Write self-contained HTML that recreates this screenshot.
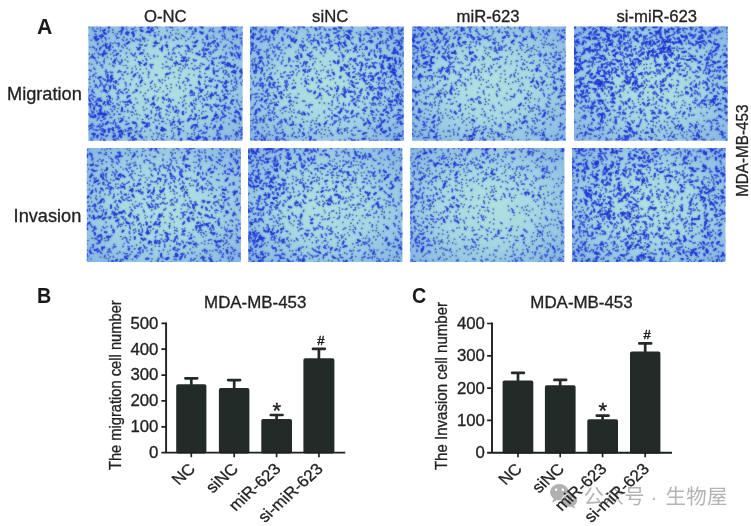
<!DOCTYPE html>
<html lang="en"><head><meta charset="utf-8"><title>Figure</title>
<style>
html,body{margin:0;padding:0;background:#fff;}
body{width:751px;height:526px;overflow:hidden;}
svg{display:block;font-family:"Liberation Sans", "Noto Sans CJK SC", sans-serif;}
</style></head><body>
<svg width="751" height="526" viewBox="0 0 751 526">
<defs>
<radialGradient id="bg" cx="0.5" cy="0.5" r="0.75">
<stop offset="0" stop-color="#b2e1e0"/><stop offset="0.4" stop-color="#a8d9e2"/><stop offset="1" stop-color="#80b0e4"/>
</radialGradient>
<filter id="soft" x="-5%" y="-5%" width="110%" height="110%"><feGaussianBlur stdDeviation="0.8" result="b"/><feComposite in="SourceGraphic" in2="b" operator="arithmetic" k1="0" k2="0.55" k3="0.45" k4="0"/></filter>
</defs>
<rect width="751" height="526" fill="#fff"/>

<clipPath id="cp0"><rect x="88.4" y="26.4" width="154.2" height="114.4"/></clipPath>
<g clip-path="url(#cp0)">
<rect x="86.4" y="24.4" width="158.2" height="118.4" fill="url(#bg)"/>
<g filter="url(#soft)" fill="none" stroke-linecap="round" stroke-linejoin="round">
<path stroke="#1f38d8" stroke-width="1.6" stroke-opacity="0.92" d="M97.9 87.8l-0.5 -0.6 -0.5 -1.1M215.5 45.8l0.3 0.9 0.8 0.4M96.3 31.5l-1.5 -0.1 -0.7 -1.0M212.1 107.2l-0.6 -0.4 -1.0 -0.3M110.4 82.3l-0.3 -0.8 -0.7 -1.5M90.0 79.1l-1.1 0.3 -0.7 -0.3M223.1 57.4l0.8 -0.3 1.5 0.0M128.0 24.9l-0.8 0.8 -1.2 0.9M148.5 71.6l0.2 1.1 0.6 0.5M119.4 43.6l-1.3 -0.4 -0.9 0.4M160.1 81.7l-0.6 -1.1 -0.6 -0.8M102.6 65.0l-1.3 0.5 -0.7 -0.2M168.3 66.5l-0.7 -0.0 -1.2 0.3M189.7 119.1l-0.7 0.6 -1.1 0.4M217.1 49.4l-1.1 0.1 -0.5 0.7M169.2 26.6l1.5 0.8 0.8 -0.2M175.0 53.8l-0.6 -0.6 -0.9 -0.5M206.6 132.4l-0.7 0.1 -1.4 0.6M97.9 52.9l0.8 0.7 0.2 0.9M176.7 107.3l-0.9 -0.6 -0.3 -0.6M96.9 126.6l0.7 0.1 1.2 -1.0M94.4 48.3l-1.1 -1.3 -0.9 -0.1M202.4 89.6l-1.3 0.7 -0.9 0.4M216.0 75.6l1.0 0.1 0.6 0.4M218.4 70.9l-0.9 -0.2 -1.1 0.8M195.2 140.7l-1.4 -0.2 -1.4 0.9M150.4 65.6l0.6 1.3 0.8 1.1M131.0 53.1l0.9 1.3 1.3 1.0M128.2 35.0l-1.6 -0.5 -0.9 -1.0M123.2 93.7l-0.8 -0.9 -1.2 -1.1M194.4 106.5l-0.0 1.7 0.5 0.8M103.0 123.4l0.0 1.5 -1.1 1.2M241.1 135.3l0.6 -1.1 1.0 -0.7M107.4 121.5l0.7 0.3 0.4 0.5M226.7 107.7l1.5 -0.3 0.9 -0.4M228.4 82.0l-1.4 0.3 -1.1 -0.9M87.0 82.6l-1.2 0.0 -1.6 0.3M134.2 41.1l-0.7 -0.3 -1.4 -0.8M136.4 123.9l-0.0 1.4 0.4 1.2M154.1 57.0l-0.1 -1.0 0.0 -0.8M234.4 53.9l0.1 1.3 1.1 1.2M173.3 109.6l0.1 -1.3 -0.7 -1.5M169.3 69.0l0.7 -0.4 0.2 -0.7M106.3 84.0l-0.9 1.0 -0.3 1.2M125.7 71.7l-1.0 0.4 -0.5 0.6M116.0 50.8l-0.8 -0.3 -1.4 0.1M108.9 30.5l-0.4 1.2 -0.3 0.6M113.2 24.7l1.0 -0.8 0.7 -0.2M238.9 49.0l-0.3 -1.4 0.5 -1.0M94.2 80.5l0.1 0.6 -0.2 0.8M231.9 47.3l0.8 0.9 0.2 0.8M214.8 115.2l0.7 -0.4 0.3 -1.1M235.6 27.3l-0.8 -0.4 -0.3 -0.8M208.7 96.3l0.7 0.0 1.3 0.9M198.7 77.3l0.8 -0.5 1.5 0.4M112.3 106.7l1.6 -0.5 1.0 -0.2M88.7 89.7l-0.6 -1.2 -0.8 -1.1M111.8 117.4l-1.0 -0.1 -0.7 0.4M161.3 37.1l-0.1 1.4 0.1 0.8M207.4 76.8l-0.9 0.4 -1.1 0.2M189.7 27.0l-0.3 0.8 -0.2 1.0M118.7 98.3l-0.2 -0.8 -0.4 -0.5M107.7 135.3l-1.1 0.7 -0.6 0.2M224.2 117.0l1.2 -0.6 0.7 -0.5M125.7 131.4l0.1 -1.0 -0.6 -0.7M170.5 72.5l-1.3 0.9 -0.4 0.5M160.0 112.2l-0.3 1.1 -0.6 0.4M196.8 125.9l0.5 0.8 0.6 0.3M230.5 41.5l0.6 0.6 0.9 0.5M118.9 37.7l-1.0 -0.2 -1.2 0.8M220.5 120.5l0.2 -1.5 0.7 -1.3M118.8 62.2l1.0 0.7 1.4 -0.2M155.4 115.9l0.1 -1.3 1.1 -0.8M197.9 88.1l-0.8 -0.4 -1.5 -0.1M99.2 117.7l-0.5 0.4 -1.2 1.0M210.9 98.7l0.1 -1.3 0.2 -0.9M100.0 129.6l1.1 -0.2 1.4 -0.7M141.5 63.1l-1.4 0.3 -0.8 0.8M178.0 39.3l-0.8 -0.6 -0.8 -0.3M226.4 52.6l-0.3 0.7 -0.2 1.1M212.2 111.2l-0.5 -0.6 -0.5 -0.6M203.6 131.9l-0.5 0.9 -0.9 0.7M189.9 116.5l0.6 -0.7 0.8 -0.7M163.9 139.8l-1.7 -0.3 -0.9 -1.3M149.6 26.0l-0.8 0.7 -0.4 0.7M213.2 70.8l0.5 -1.2 -0.4 -1.6M86.8 109.9l-1.6 -0.5 -1.1 -1.1M237.0 102.1l0.2 -0.8 -0.3 -1.4M123.4 40.9l-0.5 -0.8 -0.5 -0.8M166.1 56.6l-0.9 0.0 -0.6 0.1M158.8 114.7l1.0 0.6 0.8 1.2M231.0 102.0l0.7 0.8 0.4 0.5M87.2 105.4l0.8 -0.4 1.0 -1.3M221.7 110.8l0.2 1.5 1.3 1.0M222.6 82.0l-0.7 0.4 -1.4 -0.1M235.9 117.3l-0.4 -0.9 -0.9 -0.8M211.0 42.9l1.3 -0.3 0.7 -0.8M236.2 132.1l0.9 0.9 0.8 0.0M239.2 141.8l0.7 0.9 1.1 0.4M92.5 54.7l-0.3 0.6 -0.6 1.5M93.8 117.5l0.1 -1.3 1.3 -1.0M127.1 39.1l-0.4 0.7 -0.5 0.5M185.8 78.0l1.5 0.6 1.2 1.1M109.0 50.6l1.1 -0.9 0.6 -0.3M199.3 89.9l0.6 -0.8 0.1 -1.1M139.3 44.3l0.6 0.6 1.4 0.4M214.1 64.8l-1.3 -1.0 -1.6 -0.1M86.7 122.9l0.5 -0.7 0.5 -1.1M182.7 83.1l0.7 -1.1 0.5 -0.6M115.8 122.9l-0.1 1.7 0.3 1.3M169.1 107.6l-0.8 -1.0 -1.5 -0.4M224.0 109.3l0.3 0.6 1.2 1.1M220.5 30.7l-0.2 0.6 -1.3 0.7M128.4 104.7l-1.4 0.4 -1.5 -0.7M106.0 40.0l-0.3 -1.5 -0.7 -0.9M135.5 53.1l-0.5 0.4 -0.3 1.3M124.1 90.3l0.9 -1.0 1.4 -0.5M208.6 43.2l0.5 0.7 0.7 0.2M158.8 110.0l1.0 -1.2 -0.0 -0.6M169.5 36.1l-0.1 0.7 0.1 1.5M225.6 138.6l0.5 -1.1 0.2 -1.6M243.1 129.6l-1.6 -0.1 -0.7 0.1M186.1 95.8l-1.1 0.3 -1.1 1.1M128.5 101.0l-0.8 1.0 -0.2 0.7M103.3 36.3l-0.4 -1.2 -0.9 -0.7M214.0 31.8l-1.1 -0.7 -0.7 0.0M102.1 131.4l1.1 -1.2 0.3 -0.8M95.1 129.8l1.5 0.6 1.4 -0.1M113.8 66.8l-0.2 -0.8 -0.9 -0.7M104.6 87.6l-0.9 -1.0 -0.5 -1.0M91.9 103.1l-1.3 0.9 -0.6 1.4M129.1 123.3l-0.7 0.5 -1.3 -0.1M236.8 84.2l-0.4 -1.6 0.3 -1.6M120.0 127.7l-1.4 0.8 -0.4 0.7M125.7 124.7l0.6 -0.4 1.0 -0.0M218.4 116.3l-0.2 0.7 -0.8 1.4M104.3 62.8l-0.4 -1.1 0.1 -1.5M92.9 91.5l0.1 0.6 1.4 0.8M92.7 76.4l0.7 -1.3 0.9 -0.4M221.7 117.6l1.2 -0.5 0.8 0.2M153.0 64.5l-1.1 0.4 -1.5 -0.3M240.5 138.3l0.7 0.0 1.0 -0.7M167.6 94.1l-1.0 0.9 -0.7 0.5M209.2 31.2l1.1 -1.2 0.1 -0.9M93.3 95.9l0.6 0.8 0.9 0.2M232.8 104.3l-0.8 -0.6 -1.4 -0.4M103.9 119.2l1.3 -0.4 0.3 -0.6M87.5 127.5l0.7 -0.9 0.4 -0.9M178.2 141.3l0.7 -0.0 1.4 0.4M150.5 104.8l1.0 0.0 0.9 -0.8M185.5 64.0l0.4 1.3 -0.4 0.6M100.6 120.8l0.6 -0.0 0.8 -0.2M190.4 95.6l1.1 -0.4 1.3 -0.3M213.0 78.9l-1.0 0.4 -0.5 0.7M96.8 100.8l-1.0 0.7 -0.8 0.5M118.5 114.3l1.1 0.1 0.6 0.0M133.6 142.1l-0.9 0.2 -0.5 0.8M163.2 129.9l1.1 0.1 1.5 0.5M194.4 95.2l-0.4 -0.7 0.0 -1.4M123.0 75.4l-0.8 -0.5 -0.1 -0.6M89.6 141.7l1.5 -0.3 1.3 -1.0M225.4 38.7l-0.8 -1.0 0.1 -1.6M202.1 56.7l1.1 0.1 1.4 -0.9M128.3 32.6l-0.7 -0.2 -0.6 -1.1M183.3 104.6l0.2 0.6 -0.9 1.3M233.1 87.0l0.8 1.5 -0.0 1.0M113.7 121.7l0.7 -1.0 0.2 -0.8M223.7 29.5l0.6 -0.4 0.9 -0.7M110.1 104.9l-0.5 -0.5 -1.2 -0.0M168.8 52.5l0.1 1.0 -0.3 1.0M118.2 92.0l0.6 -1.6 1.2 -0.6M192.5 112.1l-0.6 -1.0 0.2 -1.2M222.3 90.2l-0.1 1.5 0.6 0.6M114.9 133.6l-0.8 -0.1 -0.7 -0.1M193.2 59.3l0.7 1.0 1.5 0.5M244.0 135.6l-0.7 -0.8 -0.5 -0.4M139.1 77.6l0.4 -1.6 0.5 -0.9M107.3 92.8l-1.3 -0.9 -1.3 -1.1M117.7 72.2l1.4 -0.6 1.1 -0.2M91.3 71.0l-1.1 -0.6 -0.9 -0.3M210.4 108.6l0.6 -0.6 1.0 -0.6M159.5 133.4l-0.5 0.4 -0.8 0.9M237.9 67.3l-0.6 0.7 -0.2 0.7M222.8 85.2l0.8 1.4 0.5 0.5M98.4 98.3l-1.1 0.9 -0.1 0.7M204.6 100.4l-0.5 -0.7 -1.4 -0.6M213.7 104.5l1.3 0.9 0.3 0.9M112.1 111.8l-0.0 -0.6 0.3 -0.7M115.8 127.6l1.4 -0.4 1.7 -0.3M192.0 92.8l-0.9 -0.3 -1.2 0.4M183.3 57.0l-1.0 0.1 -0.6 0.6M181.9 122.0l1.1 -0.3 0.6 -0.2M120.1 50.9l0.7 -0.0 0.6 0.2M120.9 118.3l0.8 0.6 1.4 -0.0M213.6 138.2l0.6 -0.2 1.2 -0.0M242.4 32.9l0.0 1.5 0.9 1.0M161.7 121.7l0.8 -0.4 1.1 0.5M89.3 114.0l0.9 1.3 0.1 1.5M132.4 71.4l-0.6 1.2 -0.4 0.5M220.8 124.8l0.5 1.4 0.9 1.0M171.4 138.7l1.1 -0.6 0.4 -1.1M243.0 45.3l0.6 -1.2 0.3 -0.7M90.8 106.2l-0.1 0.7 -0.5 1.1M196.3 60.4l-0.8 -0.0 -1.1 0.5M97.0 26.1l-0.0 -1.0 0.5 -1.1M211.1 54.2l-1.3 -0.8 -0.4 -0.6M212.3 58.2l1.6 0.4 1.1 -0.1M123.5 27.9l-0.6 -0.3 -0.6 -1.0M128.4 133.8l0.5 0.8 -0.4 1.2M162.6 45.7l0.0 0.7 -0.2 0.7M189.7 85.3l0.7 -0.1 0.7 0.2M236.4 52.0l0.8 1.0 0.8 0.2M192.2 27.1l-1.1 1.0 -0.1 1.2M125.0 102.3l1.4 -0.5 0.9 -0.2M169.3 104.6l0.2 0.8 0.5 1.1M203.7 98.3l-0.1 1.4 0.4 0.6M192.7 119.1l-1.0 -0.5 -0.7 -0.4M210.7 52.0l-0.9 0.7 -1.1 -0.2M107.9 72.5l-1.5 -0.5 -1.1 -0.6M155.6 45.2l-0.7 0.2 -1.0 1.1M197.9 138.8l-1.1 0.6 -0.2 1.0M224.8 94.1l-0.7 1.1 -1.1 0.2M152.4 81.1l-1.0 1.2 -1.0 1.2M100.9 98.3l-1.6 0.4 -0.9 0.4M116.9 93.4l0.7 -0.0 1.1 0.3M121.5 62.1l0.6 -1.2 -0.5 -1.1M184.3 36.8l-1.3 -0.9 -1.4 -0.8M241.6 132.1l-0.7 -0.6 -1.1 0.1M170.5 123.0l0.7 1.0 1.1 0.7M113.9 115.0l0.4 -0.5 0.0 -0.7M139.9 39.0l0.1 1.6 0.7 0.9M240.1 38.3l0.6 0.3 1.6 -0.3M204.2 64.8l-1.1 -0.7 -0.8 0.3M146.6 123.8l1.1 -0.6 1.3 -0.1M203.6 47.9l-0.5 0.8 0.1 1.1M91.9 94.4l-1.1 1.0 -1.0 0.5M199.9 75.2l-0.4 0.7 -0.9 0.9M121.0 34.5l0.6 -0.9 -0.2 -0.8M202.7 136.8l1.3 1.0 0.9 0.9M95.3 39.1l-1.1 -0.9 -0.1 -1.3M192.8 139.2l-0.3 1.6 -0.3 1.6M241.3 75.8l-0.9 1.4 -0.7 1.1M211.5 92.6l0.4 0.7 0.3 1.1M140.7 134.8l-0.3 0.6 -0.6 0.3M240.0 115.7l-0.1 1.0 -0.9 0.9M241.7 41.0l-0.4 1.2 0.4 1.6M199.2 24.6l-1.2 0.2 -0.7 0.4M179.5 119.2l-0.8 1.3 -1.1 1.2M117.1 103.7l0.7 0.4 0.4 0.8M178.6 110.0l-0.0 0.8 0.0 1.1M130.2 140.2l-1.0 0.4 -0.7 0.2M223.2 99.8l1.2 -0.5 1.0 -1.3M130.3 83.9l0.0 0.6 -0.1 0.6M145.8 58.8l0.7 0.8 0.4 0.6M202.1 49.6l0.4 0.7 1.4 0.9M227.3 75.0l1.0 -0.3 0.4 -0.9M230.2 52.0l0.6 1.2 1.3 0.5M95.0 69.4l-0.7 -0.7 -0.4 -0.7M113.2 84.9l0.7 1.6 -0.1 1.6M140.0 27.5l1.2 -0.1 1.4 0.1M231.7 80.3l-0.1 0.7 -0.5 0.8M223.5 70.3l-0.2 1.0 -0.1 1.0M92.2 114.0l0.5 -1.3 0.0 -0.7M217.8 80.8l1.1 -0.2 0.9 0.7M180.9 64.3l-1.3 -0.4 -1.2 0.5M144.7 45.7l1.2 0.1 0.8 -0.9M93.8 112.3l-0.7 -0.4 -1.2 0.1M223.0 36.3l-0.4 -0.7 -0.7 -0.1M166.1 109.6l0.5 0.8 1.3 0.9M99.0 126.6l0.6 0.3 1.3 0.1M116.6 138.1l0.6 0.4 1.1 0.6M232.2 120.6l0.8 0.7 0.7 -0.0M217.1 130.4l0.5 1.5 -0.1 0.9M213.0 52.6l0.5 -1.0 0.4 -1.4M96.6 63.4l0.4 -0.5 0.3 -1.1M218.1 141.0l-0.3 -1.1 0.5 -1.2M218.3 133.4l-1.2 1.0 -0.4 0.7M192.0 34.3l1.3 -0.7 0.7 -0.3M131.0 111.9l1.5 0.2 0.5 0.4M187.4 81.3l0.8 -0.9 0.7 -0.1M179.9 88.7l-0.1 -1.6 -0.2 -0.8M170.6 100.0l0.1 1.0 0.2 1.1M101.7 54.2l-0.8 0.3 -0.8 0.1M126.0 92.9l0.7 -0.1 0.8 -0.8M151.4 113.3l0.1 -1.0 -0.3 -1.6M201.5 96.1l-1.2 0.3 -1.3 1.0M225.0 74.1l0.8 -1.1 1.0 -1.4M213.7 140.2l0.7 -0.9 0.9 -1.0M155.9 120.7l-0.8 -0.7 -0.2 -0.7M103.9 45.0l-0.8 0.5 -0.5 0.8M201.4 130.3l-1.3 0.6 -1.4 0.5M221.0 106.0l1.0 0.1 1.3 -0.8M111.0 102.4l-0.8 -0.9 -0.6 -1.3M107.6 43.9l-1.0 0.5 -1.1 1.0M105.0 54.6l0.6 -1.2 1.0 -0.5M196.1 68.4l1.2 -0.3 0.6 -0.5M222.7 114.4l1.4 0.4 0.8 0.6M121.5 27.2l0.6 0.9 1.4 0.7M95.3 86.9l0.3 -1.2 0.4 -0.8M131.6 29.1l0.9 -0.0 1.4 -0.3M203.1 141.0l0.5 -0.6 0.8 -0.5M139.9 132.0l0.3 -0.8 1.0 -0.6M234.6 36.7l-1.1 0.4 -0.7 -0.2M222.3 27.3l0.5 0.9 1.6 0.7M225.9 45.1l-0.6 1.4 -1.4 0.6M192.4 68.3l0.6 0.5 1.4 1.0M202.8 107.3l0.3 -0.6 -0.2 -0.7M135.7 39.0l1.2 0.3 1.2 0.9M146.2 32.5l0.9 -1.0 1.6 -0.4M236.1 71.2l-1.4 -0.6 -1.2 0.6M235.2 77.3l0.1 1.5 0.2 0.9M97.6 44.7l0.5 -1.0 -0.2 -0.6M131.3 133.1l-1.5 -0.2 -1.6 0.5M103.0 78.4l0.5 0.7 1.3 1.1M240.3 55.4l0.0 -1.5 0.4 -0.9M207.0 34.7l0.4 0.9 0.4 0.6M218.6 95.7l-0.7 -0.5 -1.2 0.2M229.1 139.3l0.0 -1.1 -0.5 -0.6M207.0 67.5l0.9 0.3 1.1 -0.3M147.8 125.6l-0.5 0.4 -0.4 1.4M237.2 46.9l-0.4 -0.4 -1.1 -0.6M125.3 46.1l-0.5 -1.4 -0.7 -0.4M145.5 100.0l-0.6 -0.8 -0.1 -0.6M155.4 74.7l0.7 0.3 0.9 0.3M118.5 46.4l0.3 -1.2 0.1 -1.2M173.8 48.1l-0.6 1.4 -0.4 0.8M89.1 27.0l-1.0 0.0 -1.4 -0.1M96.5 48.7l-0.2 1.3 -0.1 0.6M168.7 101.1l0.6 -1.6 -0.6 -1.0M113.0 123.7l0.5 -1.0 0.7 -1.2M87.5 39.1l-0.7 -0.1 -0.8 0.0M99.8 80.2l0.8 0.9 0.1 1.5M222.5 128.8l-0.6 0.4 -1.4 0.1M118.9 79.7l0.8 -0.6 0.6 -1.3M125.9 83.9l-0.4 -1.2 -0.4 -0.4M93.8 137.4l-0.2 -1.5 1.0 -1.3M195.3 128.7l-0.2 -0.8 0.3 -0.9M144.8 25.2l0.5 -0.6 0.9 -0.6M107.3 101.7l0.9 -0.5 0.7 -0.5M204.9 45.7l0.0 -1.7 0.1 -1.3M92.6 89.7l-0.5 0.8 -0.3 1.1M89.7 128.2l1.2 0.0 1.3 -0.5M99.6 86.3l0.8 -1.4 0.4 -0.5M93.2 99.8l-0.9 -1.1 -0.7 -0.5M139.5 142.1l0.7 1.3 -0.2 1.5M108.5 112.9l-0.9 -0.5 -0.2 -0.8M133.5 108.6l-0.0 -0.9 -0.9 -1.0M169.8 59.2l1.6 0.2 0.9 0.7M148.5 101.6l-0.5 -1.6 -0.5 -0.9M151.6 27.6l0.6 -0.1 0.8 0.7M122.8 101.4l1.4 0.9 1.5 -0.4M195.9 98.6l0.3 1.4 -0.3 0.8M121.4 142.4l-0.9 -0.1 -1.6 0.1M244.0 57.6l0.9 0.8 0.2 1.4M127.9 112.0l0.1 -1.0 -0.4 -0.8M235.1 44.8l-0.2 1.6 0.6 0.6M149.3 123.5l0.1 1.3 -0.3 1.0M116.1 80.9l0.7 0.5 0.1 0.8M160.7 118.1l-0.4 -0.5 -1.0 -1.1M241.8 127.7l0.8 -0.1 0.7 -0.3M114.0 88.4l0.9 -0.9 0.6 -1.2M159.9 25.8l-1.0 -1.0 -1.3 -0.5M110.3 71.9l1.0 0.7 1.3 -0.2M120.1 135.2l-0.9 0.9 -0.4 0.8"/>
<path stroke="#2440a4" stroke-width="1.6" stroke-opacity="1" d="M95.6 84.5l-0.2 0.0M155.0 32.7l-0.1 0.2M93.8 126.0l0.1 -0.1M194.0 75.0l-0.0 -0.0M179.0 78.1l0.3 0.1M106.9 53.7l0.0 -0.2M224.3 33.9l0.0 -0.2M186.7 31.8l-0.2 -0.1M94.7 24.4l0.0 -0.0M126.3 65.5l-0.3 -0.0M172.3 27.6l0.2 -0.2M228.8 123.9l0.1 0.3M205.1 81.0l-0.1 0.2M178.7 131.5l-0.1 -0.0M174.3 117.3l-0.3 0.0M185.1 85.1l0.2 -0.0M124.1 37.4l-0.2 0.0M134.7 114.3l0.0 0.0M165.5 45.5l-0.0 -0.2M89.3 54.1l-0.2 -0.1M159.1 43.1l-0.1 -0.0M135.4 66.6l-0.0 -0.2M118.2 84.2l0.2 0.1M225.5 70.5l0.2 -0.1M91.3 40.2l-0.0 -0.1M204.8 84.0l-0.2 0.1M157.5 56.2l0.1 0.1M236.0 49.3l0.0 -0.2M205.2 123.8l0.1 -0.1M132.3 68.5l-0.2 -0.1M244.4 94.2l0.0 0.2M233.0 39.5l0.0 0.1M112.9 43.5l-0.0 -0.0M108.5 47.2l0.3 0.0M140.5 35.2l0.1 -0.0M205.0 73.3l-0.2 0.1M222.9 50.0l0.0 -0.1M158.7 89.7l-0.1 -0.0M188.5 60.4l0.0 -0.1M178.6 70.3l0.2 -0.1M192.0 133.9l-0.2 -0.0M91.8 64.4l-0.0 -0.0M146.3 68.7l0.1 0.1M228.3 28.0l0.1 0.1M136.5 57.0l-0.2 0.2M147.5 54.1l-0.1 -0.2M164.5 134.3l-0.1 -0.1M226.2 141.4l-0.2 0.1M189.8 141.7l0.0 0.0M223.4 77.6l0.1 0.2M209.4 136.4l0.1 -0.1M180.7 97.8l-0.0 -0.0M144.7 41.1l-0.2 0.0M118.6 25.7l0.2 -0.2M118.6 118.6l0.0 0.1M145.1 84.1l0.1 0.1M153.8 102.4l0.0 -0.1M166.5 62.2l-0.2 -0.2M193.9 130.4l0.1 -0.1M210.6 38.0l0.1 0.0M102.9 142.0l-0.2 -0.0M148.8 118.8l-0.2 0.1M142.6 37.0l-0.2 0.0M173.6 135.8l0.1 -0.1M118.0 96.4l-0.3 -0.1M128.5 90.0l0.2 -0.1M203.0 32.2l-0.2 0.0M216.9 99.2l0.1 -0.0M193.9 100.4l-0.2 -0.0M186.0 54.0l0.2 0.0M158.4 98.0l-0.1 0.1M235.2 85.9l0.0 -0.0M119.6 105.4l-0.0 -0.0M152.9 107.1l0.1 0.2M125.2 60.1l0.0 -0.0M186.6 26.2l-0.1 0.0M102.5 41.3l-0.1 0.3M209.2 65.4l-0.3 0.1M170.4 112.2l-0.0 -0.0M219.4 68.8l-0.0 -0.0M194.4 134.7l-0.1 -0.0M241.7 84.9l-0.1 -0.2M172.7 30.3l0.1 -0.0M216.5 117.5l-0.1 -0.0M88.6 70.2l-0.0 0.0M185.8 108.4l0.1 0.2M135.6 110.8l0.1 -0.2M197.7 122.4l-0.0 0.1M194.7 132.6l0.1 -0.1M160.0 48.9l-0.2 0.0M141.0 85.9l-0.0 0.0M163.3 91.6l-0.0 -0.0M115.0 34.3l-0.0 -0.0M148.6 77.5l0.1 -0.2M113.1 52.6l-0.2 0.1M192.1 49.4l-0.1 0.1M232.7 36.0l0.3 -0.0M120.9 92.0l0.1 -0.2M117.5 33.8l-0.1 -0.2M130.6 38.8l-0.0 -0.0M237.9 135.0l0.2 -0.1M170.4 32.6l0.1 0.2M166.3 26.9l0.2 0.1M160.2 87.6l0.0 0.1M150.7 58.5l-0.1 -0.0M118.2 108.5l-0.2 0.1M182.5 69.3l0.0 0.0M148.2 90.2l-0.1 0.2M165.4 77.0l0.0 0.0M111.1 58.7l0.2 0.2M195.7 24.9l-0.1 0.0M142.4 44.5l-0.0 0.1M141.6 77.7l0.2 0.2M163.0 118.3l0.1 0.1M116.6 58.0l0.0 0.1M167.6 88.6l-0.1 0.1M176.2 61.2l-0.1 0.1M107.3 57.1l0.2 0.2M197.6 119.8l0.0 0.0M172.4 54.0l-0.1 0.0M143.0 73.1l-0.0 0.1M192.4 52.6l0.0 0.0M108.8 91.1l-0.3 0.0M104.5 58.7l0.0 0.0M119.1 31.5l0.1 0.1M175.6 37.3l0.2 0.1M220.2 134.1l0.1 -0.0M156.5 139.2l0.3 -0.0M175.5 65.6l-0.1 -0.1M99.9 62.7l-0.1 0.0M145.3 93.2l0.2 0.1M170.2 91.3l-0.0 0.1M217.0 38.9l-0.2 0.1M213.0 28.6l-0.2 0.1M166.9 99.6l-0.2 0.2M173.5 72.5l0.3 -0.1M162.6 67.9l0.0 -0.0M123.5 65.7l-0.0 0.1M156.9 91.7l0.3 -0.1M113.1 32.3l-0.2 0.1M178.7 33.9l0.0 0.0M120.9 71.7l0.2 -0.0M224.9 64.8l-0.0 -0.0M187.6 133.7l0.1 0.1M201.0 63.4l0.0 0.1M107.3 25.5l0.0 -0.0M100.6 27.7l-0.1 0.1M232.2 43.6l-0.0 0.2M216.6 57.9l-0.1 -0.0M243.8 59.6l-0.0 0.0M199.9 71.7l0.1 0.1M152.7 139.6l-0.1 0.0M136.3 139.4l0.0 0.2M180.1 142.2l0.0 0.0M185.9 88.7l-0.1 0.0M169.8 120.7l0.1 0.1M110.7 54.2l-0.1 0.1M142.8 119.5l-0.3 -0.0M244.1 106.7l-0.2 0.0M140.2 69.5l-0.1 -0.1M240.1 108.7l-0.2 -0.1M191.7 63.4l0.1 0.2M159.5 123.8l-0.1 -0.1M127.9 61.5l-0.1 -0.1M127.1 48.3l-0.1 -0.2M171.9 34.9l0.0 0.0M113.2 135.9l-0.0 0.0M171.1 84.4l-0.1 -0.1M199.9 65.7l0.2 0.1M123.1 47.8l0.2 -0.0M211.8 24.9l0.1 -0.1M220.0 97.7l0.0 -0.0M166.6 141.4l0.0 -0.0M233.3 130.2l0.1 0.1M207.0 58.9l0.0 -0.1M135.8 30.7l0.1 0.1M214.2 37.6l-0.2 0.0M211.1 123.7l0.2 -0.2M143.3 107.2l-0.1 -0.2M185.9 40.8l-0.1 -0.3M117.1 111.5l0.1 0.2M189.2 106.3l0.0 0.0M124.4 134.6l-0.1 0.0M214.1 43.7l-0.0 -0.2M208.0 25.2l-0.1 -0.1M218.8 109.3l0.3 0.1M239.8 105.8l-0.2 -0.2M156.8 110.6l-0.2 0.0M121.7 32.1l0.1 0.2M143.9 110.0l0.2 0.3M144.6 131.3l0.2 0.0M99.4 50.1l0.0 0.0M155.9 41.0l0.1 0.2M167.3 136.7l-0.2 0.1M89.2 58.7l0.1 -0.0M239.4 127.5l0.3 0.0M238.5 131.0l-0.0 0.0M207.7 39.5l-0.0 0.0M120.4 55.9l-0.0 0.0M233.4 90.7l-0.2 -0.2M199.1 115.6l-0.2 0.2M132.0 115.3l-0.1 0.1M135.7 127.9l0.0 -0.0M243.4 75.7l-0.0 0.0M116.0 89.1l-0.2 -0.2M127.4 57.1l-0.2 -0.0M229.4 48.3l0.0 -0.2M139.6 115.2l0.0 -0.0M184.2 60.3l0.1 -0.3M136.4 84.1l0.1 0.1M163.3 136.3l0.0 -0.1M235.9 89.4l-0.1 -0.2M162.3 83.1l-0.1 -0.0M89.8 47.3l-0.0 0.2M173.6 133.6l0.1 -0.2M232.8 75.8l0.0 -0.3M198.5 99.0l-0.0 0.1M231.1 90.8l-0.2 0.1M136.4 69.0l-0.1 -0.0M136.8 114.1l0.0 0.3M107.1 99.8l-0.0 0.0M170.7 125.6l0.1 -0.3M206.9 94.2l0.1 -0.3M182.0 45.8l0.1 0.1M189.0 74.6l-0.0 -0.0M112.7 29.8l0.2 0.1M199.8 84.9l0.2 -0.2M175.9 47.7l-0.0 0.0M162.8 64.3l0.1 -0.2M143.0 60.7l-0.1 -0.1M205.8 111.2l-0.0 -0.0M144.8 56.4l-0.1 0.0M145.2 114.5l0.2 0.2M156.1 142.0l0.2 0.1M154.8 84.5l0.1 -0.0M225.2 66.8l-0.0 -0.0M183.7 91.1l-0.0 -0.0M105.5 43.3l0.1 -0.2M183.3 126.5l0.0 -0.0M125.6 106.7l-0.0 -0.2M150.6 86.5l0.0 0.2M167.0 42.1l0.0 0.0M207.8 91.9l-0.1 0.0M94.4 53.8l0.1 -0.0M233.7 70.9l0.0 -0.2M160.8 39.9l0.0 0.1M199.1 110.6l0.2 0.0M89.9 76.7l0.2 -0.1M156.7 132.8l0.0 0.2M190.9 36.8l-0.0 0.0M176.5 85.4l-0.1 -0.2M119.9 64.2l0.1 0.2M134.3 56.1l-0.2 -0.0M86.5 138.1l-0.0 -0.1M198.7 93.3l0.1 -0.2M138.0 134.3l-0.0 0.0M179.2 52.6l-0.1 0.1M88.3 35.5l0.2 -0.1M239.2 123.5l-0.0 0.0M206.8 97.4l-0.2 0.1M223.6 122.2l0.0 -0.0M176.1 57.0l0.1 -0.2M157.5 28.1l0.0 -0.0M167.9 58.5l-0.0 -0.1M100.5 140.2l-0.1 0.1M171.4 87.5l0.0 0.2M189.9 51.0l0.1 0.1M146.3 141.2l0.3 0.0M237.7 26.0l-0.2 0.1M129.5 49.5l0.0 0.2M204.9 95.5l0.0 -0.2M151.8 136.5l0.2 0.1M167.4 119.4l0.1 0.1M106.0 73.9l-0.3 0.0M148.3 74.9l-0.0 -0.0M240.2 35.1l-0.0 -0.0M180.0 67.9l0.0 -0.1M131.6 79.5l0.1 0.2M97.3 120.2l0.0 0.1M140.6 92.2l-0.2 0.1M187.4 65.0l0.2 -0.1M153.7 133.5l-0.2 0.2M183.3 65.8l-0.1 0.1M112.4 98.9l0.1 0.1M228.9 112.9l0.0 0.1M210.2 105.0l-0.0 0.0M220.8 42.0l0.1 -0.1M174.8 77.0l-0.2 -0.0M174.8 124.9l0.1 0.1M195.6 142.7l0.0 -0.1M118.4 125.8l-0.0 0.1M87.0 53.9l0.2 0.2M226.0 83.7l0.2 -0.2M140.3 65.7l0.0 0.1M168.7 115.2l0.2 0.0M176.1 33.5l-0.2 0.2M148.8 56.2l0.0 -0.0M95.7 60.2l-0.0 -0.0M89.6 82.9l-0.0 0.0M123.3 131.0l0.0 0.2M147.9 40.2l-0.0 -0.0M174.9 139.3l-0.0 -0.1M130.0 130.2l-0.0 0.1M199.2 118.3l0.2 -0.1M177.2 126.6l0.1 -0.1M162.4 79.9l-0.2 -0.1M237.3 94.8l0.2 0.1M108.1 85.0l-0.0 0.1M210.7 46.4l0.2 -0.2M181.2 38.4l0.1 0.0M106.9 96.7l-0.1 -0.2M115.1 63.7l0.2 -0.0M171.7 131.2l0.0 -0.3M199.5 51.4l-0.0 0.1M185.9 103.6l-0.0 -0.1M233.1 59.9l0.1 -0.0M194.3 92.9l0.0 0.0M172.3 66.2l-0.0 0.0M201.4 77.5l0.0 0.1M194.1 37.5l-0.2 0.0M243.3 97.5l-0.1 -0.2M192.9 31.8l-0.2 0.2M227.2 57.8l0.1 -0.3M168.1 49.7l0.0 0.1M150.4 35.3l0.0 -0.0M155.5 86.8l-0.1 -0.1M236.8 136.8l0.1 0.1M98.2 57.5l-0.1 -0.3M159.0 31.8l-0.2 0.0M178.5 82.1l0.0 0.1M236.6 30.3l-0.0 -0.3M113.9 81.8l-0.2 -0.1M203.0 118.5l0.0 0.0M155.0 96.0l-0.0 -0.0M134.0 104.7l0.2 -0.2M157.1 100.2l-0.0 0.0M177.9 116.0l0.0 0.0M134.8 135.4l-0.1 0.0M232.9 96.3l0.1 -0.1M229.0 29.8l-0.2 -0.1"/>
<path stroke="#2848d0" stroke-width="1.7" stroke-opacity="0.88" d="M153.6 122.3l-0.3 -0.0M109.2 38.3l0.1 0.0M219.3 136.3l-0.6 -0.5M102.5 67.5l-0.3 -0.6M236.8 86.9l-0.0 -0.0M127.7 67.8l-0.5 0.3M215.9 112.0l-0.2 -0.0M90.8 57.5l-0.3 -0.1M144.1 50.5l-0.5 -0.5M240.1 71.3l0.0 -0.1M236.2 110.2l-0.1 -0.2M241.5 102.2l-0.1 -0.6M173.2 39.9l0.6 0.3M127.4 74.0l0.5 -0.4M231.6 83.8l-0.0 0.1M225.1 136.0l-0.0 -0.0M110.8 109.2l-0.3 -0.1M209.6 56.4l-0.0 -0.0M95.5 105.9l-0.2 -0.2M161.5 135.1l0.2 0.5M126.8 43.7l0.3 -0.1M93.0 27.1l-0.0 0.0M240.8 82.9l0.0 -0.3M184.0 100.5l0.4 -0.3M134.6 91.6l0.1 0.6M195.9 104.4l0.2 -0.2M188.4 58.3l0.7 -0.4M229.8 142.4l-0.1 -0.2M181.5 25.6l-0.1 0.0M135.0 27.0l0.1 -0.2M191.6 136.7l-0.2 -0.1M216.4 121.7l0.3 0.0M110.7 129.1l0.5 -0.4M173.4 100.1l-0.5 -0.4M235.6 139.9l-0.1 0.3M92.4 123.6l0.3 0.1M209.8 78.7l0.1 -0.5M167.3 30.8l-0.3 -0.6M146.2 137.0l0.1 0.1M179.1 103.0l-0.5 -0.3M86.7 28.4l-0.2 -0.4M228.1 40.0l-0.8 0.0M135.3 60.0l0.0 0.1M211.1 86.4l-0.3 -0.0M103.3 134.4l0.1 0.7M231.1 136.2l-0.0 -0.5M199.6 68.0l-0.1 0.6M184.2 28.1l-0.0 -0.1M123.4 79.0l-0.1 -0.1M110.9 42.9l-0.6 0.4M138.1 86.2l-0.1 0.1M117.4 99.9l-0.3 -0.5M119.1 70.4l0.1 0.1M177.2 113.1l0.3 0.3M135.9 98.8l-0.2 -0.3M229.4 118.1l-0.0 -0.0M124.7 111.3l-0.4 0.4M131.2 24.6l0.8 -0.0M115.0 107.4l-0.1 0.1M126.6 28.9l0.0 0.1M174.6 127.5l0.3 0.2M181.0 71.5l0.1 0.2M96.8 111.2l0.0 -0.2M121.8 46.0l0.2 0.7M126.0 121.2l0.5 0.2M101.7 107.2l0.1 0.0M89.2 95.4l0.2 -0.0M126.0 86.0l0.1 -0.3M236.8 58.4l-0.1 -0.1M188.8 38.7l-0.5 0.3M203.3 42.7l-0.6 -0.3M243.6 99.8l-0.0 -0.7M151.5 117.7l-0.6 0.3M240.1 58.8l-0.1 0.1M217.0 66.0l0.0 -0.1M127.7 130.9l0.5 -0.4M137.2 102.9l0.4 -0.3M193.9 103.0l0.3 0.3M185.9 45.9l0.1 -0.3M92.8 29.1l0.0 0.0M117.7 60.3l-0.0 0.0M194.7 65.7l0.1 0.0M113.2 103.3l-0.3 0.2M87.7 133.3l0.1 0.1M126.2 53.5l0.4 -0.6M173.2 119.5l0.1 0.2M215.9 104.9l-0.3 -0.7M227.8 94.2l-0.3 -0.6M95.5 73.4l0.5 -0.1M181.0 54.8l0.2 0.5M223.1 31.5l0.6 -0.4M185.6 50.9l0.1 0.8M186.0 112.4l0.1 -0.2M158.0 34.8l0.4 0.1M114.6 109.4l-0.1 -0.3M92.8 104.9l0.3 0.3M109.4 64.0l0.5 -0.0M87.4 141.5l0.3 0.3M187.8 50.8l0.7 0.3M145.7 102.9l0.3 0.0M105.0 79.8l-0.3 -0.1M165.8 129.8l-0.1 -0.3M132.6 129.8l-0.3 0.1M194.8 108.5l0.0 0.2M139.5 49.7l-0.0 0.0M105.5 105.3l0.2 -0.5M158.3 120.2l0.3 0.5M143.9 140.0l0.1 0.1M201.7 113.2l-0.0 0.6M177.6 29.9l-0.0 -0.0M205.5 57.0l-0.3 -0.1M219.1 62.9l-0.1 0.1M95.7 77.2l-0.1 -0.0M103.6 91.1l0.6 -0.0M93.2 129.7l0.3 -0.3M168.7 78.3l-0.1 -0.1M101.2 38.3l0.1 0.3M137.3 72.6l0.4 0.4M89.2 104.4l-0.4 -0.4M95.1 34.3l0.7 0.1M213.3 35.6l-0.1 -0.1M91.3 110.2l-0.2 0.5M183.6 131.2l-0.4 -0.4M100.5 30.2l0.0 0.5M166.6 86.1l-0.4 -0.6M101.3 138.5l0.4 -0.6M202.5 39.7l0.5 0.2M160.6 141.7l-0.0 -0.0M221.6 62.4l0.6 -0.1M210.1 127.4l-0.5 -0.3M225.7 103.2l0.2 -0.1M198.7 134.5l-0.2 0.6M171.7 57.1l-0.1 -0.0M204.7 126.1l-0.5 -0.2M114.9 42.4l0.1 0.3M110.0 114.5l-0.5 -0.2M229.9 93.8l-0.0 0.0M120.3 101.9l-0.0 0.2M121.4 131.7l0.2 0.1M143.4 96.0l0.1 -0.4M151.7 88.8l0.4 -0.5M230.3 108.0l-0.5 -0.2M102.2 83.9l-0.4 -0.4M215.3 80.5l-0.1 -0.2M91.5 138.3l-0.4 0.6M208.6 68.8l0.2 0.1M229.2 76.4l-0.2 0.5M165.0 80.3l0.2 0.2M88.9 129.8l0.3 -0.2M130.1 99.7l-0.0 0.6M116.3 36.3l-0.0 -0.3M166.1 123.5l-0.0 -0.0M188.9 68.4l-0.3 -0.2M209.8 142.3l0.2 0.8M150.7 129.9l-0.4 0.6M104.7 111.0l-0.0 0.1M128.7 117.6l0.3 0.6M244.1 48.4l-0.3 0.2M141.6 128.6l0.6 -0.5M106.5 70.0l-0.7 0.1M219.2 130.0l-0.3 0.6M227.2 136.3l-0.2 0.2M123.8 116.8l0.0 -0.1M207.3 99.8l0.1 -0.4M202.3 103.6l-0.2 -0.0M137.2 47.9l-0.4 -0.4M222.6 39.4l-0.1 -0.3M89.0 63.3l-0.0 0.5M154.8 90.8l-0.2 -0.0M112.6 47.2l0.4 -0.1M110.7 122.9l0.2 0.4M214.5 87.0l0.0 -0.1M228.3 109.0l0.5 0.4M87.4 66.2l0.1 -0.5M180.0 75.2l-0.4 -0.3M137.7 118.7l-0.3 -0.1M153.4 46.4l0.2 -0.7M97.7 28.7l-0.3 -0.1M90.7 86.7l-0.2 -0.0M87.1 73.8l-0.4 -0.2M113.6 55.7l0.7 -0.3M98.4 115.5l0.7 -0.0M101.3 91.4l0.0 -0.1M208.4 85.6l0.0 0.1M221.7 68.0l0.6 -0.2M161.3 108.8l-0.4 -0.5M165.4 66.5l-0.0 0.1M234.6 82.1l0.3 -0.3M163.0 102.3l0.1 0.2M208.5 60.6l0.1 0.1M172.7 128.6l-0.2 -0.3M200.1 101.6l0.2 -0.0M182.6 102.1l0.0 0.0M228.0 91.3l-0.3 -0.1M100.2 124.7l-0.3 -0.2M157.6 137.0l0.3 0.0M212.9 128.5l0.3 -0.6M231.2 113.7l0.1 -0.0M225.3 59.2l0.1 0.5M166.6 114.8l-0.4 -0.7M198.3 95.9l-0.1 0.2M146.7 108.7l-0.1 -0.0M238.4 104.1l-0.1 -0.1M132.8 92.8l0.1 -0.1M184.6 67.7l-0.1 0.0M202.9 111.5l0.3 -0.1M192.4 42.2l0.3 0.2M204.1 55.5l-0.1 -0.2M154.3 140.9l-0.5 0.2M106.2 136.4l-0.1 -0.5M234.8 106.8l-0.0 0.4"/>
<path stroke="#1a30d4" stroke-width="2.2" stroke-opacity="1" d="M110.3 45.3l-0.7 1.6 -0.9 1.5M224.7 97.1l1.0 -0.2 1.2 0.9M217.5 43.5l0.5 1.5 0.4 0.7M196.0 137.7l1.5 0.7 1.2 -0.4M230.4 66.3l1.0 0.0 0.6 0.0M121.1 137.2l-0.6 -1.7 -0.7 -0.9M111.9 75.5l-0.9 1.0 -0.2 1.2M140.0 47.6l-1.2 1.3 -0.7 0.6M200.6 26.7l-0.5 -1.5 -0.3 -1.3M156.1 26.5l-0.9 -1.0 -1.3 -0.8M103.0 55.8l-0.3 -0.9 0.8 -1.5M97.9 135.5l-0.5 0.3 -0.2 1.6M214.9 40.9l-0.6 0.3 -1.0 0.5M126.3 33.2l1.4 -0.1 0.9 -0.5M105.1 130.2l-0.4 1.1 -0.5 0.8M167.2 46.9l-0.4 -0.7 -0.1 -1.3M104.1 32.7l0.5 0.7 1.2 0.4M226.2 80.7l-0.4 1.6 -1.2 1.2M133.1 137.1l-0.6 0.3 -0.8 0.3M142.0 137.5l-1.3 -0.9 -0.8 -0.7M99.7 35.8l1.4 0.9 1.2 -0.3M105.6 124.0l0.7 -0.4 1.1 -1.0M117.9 53.7l-1.0 0.4 -0.5 0.7M231.1 29.2l0.8 -0.2 0.9 0.6M178.7 134.5l0.6 -1.3 0.0 -0.6M193.7 46.3l1.0 -0.2 1.0 -0.1M96.4 36.4l-0.3 0.4 -0.5 1.5M94.8 134.1l-1.2 -0.2 -1.2 0.0M154.5 35.3l0.6 0.6 0.0 0.6M95.6 116.6l-0.2 -0.6 -0.6 -0.8M187.9 120.7l1.0 -1.0 -0.0 -0.9M188.0 138.7l1.8 -0.3 1.0 0.6M225.6 26.2l-1.5 0.7 -0.9 -0.1M201.0 91.9l0.5 -1.0 1.1 -0.9M108.8 27.8l0.1 -0.7 0.3 -1.6M207.0 140.2l-0.5 -1.1 -0.8 -1.2M115.6 83.0l-0.0 -1.0 -0.2 -0.5M108.8 95.9l1.1 1.4 -0.0 1.0M142.6 31.1l-1.1 -0.1 -0.9 -1.2M221.0 56.1l-0.8 1.4 -0.4 0.4M226.0 90.1l0.2 0.5 0.5 0.2M208.3 49.3l-1.2 0.3 -0.7 0.5M132.7 122.4l1.4 0.5 1.3 0.0M138.7 61.9l0.9 0.5 0.4 0.4M234.1 30.9l-1.1 -1.0 -0.7 -1.0M181.5 60.9l1.3 0.1 0.6 -0.4M214.8 127.1l-0.2 -0.6 0.3 -0.8M205.2 118.1l-1.6 -0.4 -1.3 0.6M226.4 86.2l-0.6 0.9 -0.7 0.4M179.6 46.8l-0.7 -0.9 -1.5 -0.1M238.2 54.9l0.8 1.1 0.1 1.1M206.3 36.9l0.5 0.7 0.4 1.2M136.7 131.3l-0.6 0.4 -0.5 0.4M132.8 140.3l1.4 -0.9 1.2 -0.2M214.8 93.4l0.5 -0.2 0.6 -0.5M161.8 127.6l0.9 0.9 1.4 0.6M87.1 85.9l-1.1 -1.3 -0.2 -0.6M153.2 99.3l-0.2 -0.7 0.5 -1.2M87.1 115.1l0.4 -0.6 0.5 -0.6M230.5 25.7l0.8 0.2 0.8 0.2M217.1 85.1l-0.3 1.1 -0.4 1.6M150.2 32.1l-1.1 -0.2 -1.0 0.2M133.4 32.2l-0.5 0.0 -0.8 0.9M199.8 54.6l-1.7 -0.5 -1.6 -0.6M106.6 114.6l-0.8 -0.2 -1.3 0.5M144.8 122.8l-1.0 0.2 -1.3 -0.9M99.1 105.9l0.8 -0.2 0.7 0.5M131.2 102.7l-1.4 -0.7 -0.6 -0.9M87.3 93.0l0.3 -1.7 -0.3 -1.3M207.2 116.3l-0.4 0.6 -1.2 0.4M115.2 135.7l-1.1 0.5 -0.8 0.6M178.0 128.9l1.6 0.5 1.2 0.1M104.0 139.8l0.2 1.0 1.3 1.1M195.5 28.9l-0.2 1.1 0.4 1.2M107.9 75.1l-0.6 1.3 0.3 1.3M165.6 37.7l-0.5 -0.9 0.2 -0.6M161.8 50.6l-0.2 -1.0 0.6 -1.6M206.0 69.3l1.2 -0.6 0.8 -1.0M198.9 81.6l0.3 1.6 0.3 0.7M152.9 30.5l-1.6 -0.4 -0.3 -0.6M156.8 128.4l0.1 -1.1 -0.2 -0.7M194.9 42.7l1.5 -0.9 0.9 -1.1M136.8 90.8l-0.2 -0.5 -0.5 -0.3M148.3 28.3l0.2 -0.9 0.4 -0.4M154.4 104.8l-0.8 -1.0 -1.1 -0.2M122.3 133.9l-0.5 -1.5 -1.2 -1.1M181.1 138.9l0.1 0.9 0.0 0.8M219.7 127.8l0.6 -0.3 1.1 -0.4M235.2 73.2l-0.7 -1.1 -1.2 -1.0M211.6 81.2l-1.1 0.1 -1.2 -0.3M235.4 122.2l-0.1 -1.0 -1.3 -1.2M218.5 105.3l-1.1 0.8 -0.6 0.5M118.7 132.0l1.2 -0.8 1.1 -0.7M205.6 104.7l1.5 -0.1 0.8 0.5M195.9 116.1l0.2 -0.9 -0.7 -0.9M235.2 112.3l1.0 -0.7 1.4 -0.1M91.2 116.5l1.5 0.6 1.2 -0.2M166.2 74.6l0.5 -0.5 1.0 -0.4M200.2 31.8l1.0 1.4 1.3 0.2M106.4 48.1l-0.0 -1.4 -0.9 -1.3M108.8 132.0l0.2 -1.4 -0.2 -1.7M231.8 55.5l-0.0 -0.9 0.1 -0.9M174.3 121.6l-0.7 0.4 -0.8 0.4M189.2 48.9l-1.0 -1.3 -0.7 -1.7M194.1 125.0l1.5 -0.0 1.2 0.1M156.3 108.0l1.0 -0.2 0.9 -0.8M205.5 53.8l-0.6 0.0 -1.0 -0.2M208.1 45.5l0.6 -1.1 -0.0 -0.9M128.9 135.9l0.1 -0.8 -0.0 -1.3M242.6 26.7l0.5 -0.6 0.7 -0.5M140.5 82.6l0.4 -1.1 1.1 -1.2M212.1 61.1l0.4 1.1 0.2 1.2M140.0 53.8l1.3 -0.7 1.5 -0.0M206.6 127.2l0.1 0.8 0.3 0.7M232.0 72.0l1.4 0.1 0.5 0.1M228.0 65.8l-0.6 -0.3 -1.0 -1.0M233.4 100.1l-1.3 0.2 -0.5 0.7M108.1 80.1l-0.8 0.8 0.1 0.8M176.3 25.4l-0.4 -0.3 -1.3 -0.0M128.7 128.6l0.5 -0.3 1.8 -0.1M129.2 41.9l-1.0 0.9 -1.4 0.6M220.5 101.1l-0.1 -0.7 -0.4 -0.7M154.5 42.8l1.0 -0.2 1.6 0.7M212.4 120.4l0.6 -0.9 1.4 -0.9M145.2 126.4l1.5 -0.9 0.3 -0.6M104.5 102.1l-0.3 1.0 -0.6 0.7M191.2 103.1l0.2 1.1 0.9 0.8M202.4 27.8l-0.3 -1.8 0.6 -1.4M162.9 97.4l0.5 1.0 0.8 1.0M224.0 141.6l0.5 1.6 0.1 1.7M100.9 133.9l0.7 0.3 1.2 0.6M104.4 50.9l-0.4 1.5 -0.1 0.6M191.0 90.7l0.5 0.9 0.6 0.1M110.5 85.9l-0.5 1.1 -0.0 1.7M100.7 47.4l-0.3 0.6 -0.2 0.6M127.4 97.4l0.6 -1.2 1.7 -0.4M113.8 139.5l1.0 0.2 0.4 0.7M98.4 78.0l0.9 -0.5 1.5 -0.3M213.0 95.2l-1.7 -0.5 -0.7 0.2M197.9 136.5l0.7 0.4 1.7 0.5M122.2 107.8l-0.2 1.7 -0.2 1.6M98.0 113.5l1.7 0.6 1.7 0.1M191.4 127.8l0.5 -0.6 0.6 -1.2M243.1 81.4l0.2 -0.8 0.4 -1.0M241.8 73.4l0.5 -0.7 -0.0 -0.6M96.9 103.4l-0.3 0.7 0.3 0.7M185.4 57.5l-0.6 0.1 -1.1 0.9M147.8 115.6l-1.0 1.0 -0.2 0.6M104.9 113.3l-1.7 0.6 -0.7 -0.0M144.5 38.6l-0.9 0.1 -0.6 -0.0M92.9 56.9l0.5 0.4 1.2 0.9M242.3 109.1l-0.8 0.1 -0.8 -0.0M106.1 90.8l-1.6 -0.6 -0.4 -0.8M119.9 121.8l1.4 -1.0 1.1 -0.3M133.4 36.3l0.5 -1.4 -0.6 -1.2M195.0 118.4l-0.4 0.6 -0.6 0.4M224.8 62.5l-1.6 0.1 -0.6 0.3M108.4 104.0l-0.6 -1.3 -0.0 -0.5M98.3 39.0l-1.3 0.9 -0.8 0.5M218.4 137.9l1.3 0.1 1.0 0.6M179.7 122.2l0.3 1.1 -0.1 0.5M101.0 108.8l-0.4 0.4 -0.8 1.1M183.2 114.2l-0.6 -1.2 0.3 -1.2M174.5 63.3l1.3 0.3 1.3 -0.8M103.7 116.7l-0.7 -0.1 -0.5 0.4M186.2 61.4l0.1 -0.5 0.3 -0.7M205.4 49.2l0.7 0.4 0.2 0.6M161.0 129.9l1.3 0.4 0.4 0.6M101.4 113.3l-0.8 -0.9 -0.0 -1.4M122.4 30.0l-0.6 0.2 -0.6 1.3M103.2 30.6l0.8 -0.1 0.9 -0.8M87.3 96.2l0.0 1.0 1.0 0.8M90.3 125.8l1.0 -0.4 0.4 -0.6M94.0 107.7l0.2 1.1 0.0 0.6M224.9 105.6l0.1 1.3 -0.4 1.2M228.0 63.1l0.9 0.4 1.1 1.2M175.2 111.9l0.9 -0.9 0.4 -0.7M216.9 114.8l-0.9 0.6 -1.3 0.8M113.3 62.4l1.4 -1.1 0.3 -1.7M88.9 99.2l0.2 0.6 0.9 1.3M135.4 74.3l-0.8 0.8 -1.0 1.3M101.3 100.9l-1.7 -0.5 -0.6 0.0M205.9 87.5l0.4 -1.0 0.3 -0.4M214.0 73.6l-0.1 -1.4 0.5 -0.9M234.9 65.0l-0.5 1.2 -0.6 0.9M241.5 69.4l-0.5 0.6 -0.7 1.5M112.9 128.2l-0.1 1.7 0.6 0.8M240.5 119.8l0.1 -1.2 0.1 -0.9M239.3 113.8l-0.4 -0.7 -0.6 -0.2M144.4 64.9l1.2 -0.4 0.5 -1.3M236.8 35.2l-0.1 0.9 0.2 1.3M235.7 134.6l0.8 -1.2 0.2 -0.5M112.8 78.4l-1.3 1.1 -0.1 1.5"/>
</g></g>
<clipPath id="cp1"><rect x="250.0" y="26.4" width="153.8" height="114.4"/></clipPath>
<g clip-path="url(#cp1)">
<rect x="248.0" y="24.4" width="157.8" height="118.4" fill="url(#bg)"/>
<g filter="url(#soft)" fill="none" stroke-linecap="round" stroke-linejoin="round">
<path stroke="#2848d0" stroke-width="1.7" stroke-opacity="0.88" d="M349.5 83.4l0.2 0.1M319.8 89.1l0.0 -0.3M255.4 58.5l-0.3 -0.1M380.5 134.2l-0.4 -0.0M268.6 115.7l0.3 -0.4M252.0 61.2l-0.3 -0.3M312.4 120.3l0.5 0.4M335.7 37.2l-0.2 0.1M343.6 30.4l0.0 0.0M403.3 63.4l0.0 -0.5M298.5 28.4l0.4 0.4M335.1 108.5l0.8 0.2M373.1 103.0l0.1 0.7M267.7 89.1l-0.1 0.1M295.9 125.1l-0.0 0.0M274.0 141.2l0.3 0.2M360.2 31.8l-0.0 0.0M291.4 100.9l-0.1 -0.1M307.8 76.1l0.2 0.1M287.6 123.4l-0.0 0.3M285.2 111.4l0.6 -0.2M388.3 89.6l-0.3 -0.3M350.4 50.1l0.2 -0.1M278.9 43.1l0.1 -0.4M259.2 100.4l0.3 -0.1M337.6 31.1l-0.5 -0.1M347.7 25.4l0.2 -0.2M266.9 56.0l0.0 0.0M370.9 84.5l-0.7 -0.1M338.8 117.5l0.2 0.1M332.0 113.1l0.1 0.4M403.2 92.3l-0.1 -0.4M252.6 68.4l-0.1 -0.1M376.1 135.9l0.3 0.5M377.8 32.2l0.4 0.6M391.4 140.4l0.4 -0.2M257.9 64.1l-0.5 -0.0M378.2 43.5l-0.7 0.2M328.2 70.4l0.3 0.4M363.1 65.5l-0.3 0.1M333.7 78.4l-0.5 0.2M283.3 44.6l0.1 -0.1M281.2 50.1l0.7 0.2M293.9 109.9l0.2 -0.0M315.9 126.9l0.6 -0.1M275.2 73.4l-0.1 -0.0M284.8 34.1l-0.3 0.1M265.1 109.0l0.2 -0.3M372.4 128.4l-0.3 0.0M303.0 140.4l-0.1 0.4M370.1 38.1l0.4 -0.5M400.2 54.1l0.2 0.7M343.5 108.4l0.1 0.1M305.6 78.4l-0.2 0.4M399.7 58.0l-0.4 -0.1M307.1 47.7l0.3 -0.2M392.8 64.0l0.7 -0.1M311.9 111.9l0.2 0.1M372.0 36.6l-0.2 -0.4M319.0 45.4l0.6 0.0M267.2 134.1l0.5 -0.0M332.6 50.0l-0.3 0.2M385.0 132.9l-0.0 0.1M324.0 90.0l-0.2 -0.6M370.0 102.8l-0.2 0.2M403.3 123.5l-0.5 -0.0M288.3 84.6l-0.1 0.1M270.6 83.6l0.1 0.2M383.3 104.6l-0.4 0.1M402.0 38.7l0.6 0.2M252.6 26.7l0.3 0.6M369.8 126.0l-0.3 -0.1M338.7 133.3l0.5 0.2M324.3 103.0l0.2 0.3M400.2 40.3l0.2 -0.0M271.7 59.4l0.7 0.4M339.1 95.4l-0.2 0.3M330.5 95.2l-0.3 -0.3M398.5 64.4l0.0 -0.0M303.2 38.5l0.0 -0.0M325.3 78.2l0.0 -0.0M306.1 66.4l-0.0 -0.2M343.0 60.5l0.0 -0.1M269.3 110.1l0.6 0.1M269.6 45.0l-0.1 0.3M329.9 142.7l0.5 0.5M267.3 99.4l0.6 -0.2M379.6 63.5l0.4 0.5M336.0 24.7l0.6 -0.3M363.9 113.2l0.3 0.5M395.1 128.0l0.2 -0.7M385.2 82.8l-0.0 0.1M367.3 41.8l-0.0 0.0M291.1 47.0l-0.3 0.1M293.7 61.3l-0.5 -0.1M343.3 117.1l0.2 0.5M248.6 124.2l0.1 0.0M305.5 69.5l-0.2 -0.3M399.9 115.2l0.7 0.3M251.6 129.8l0.3 -0.7M378.1 94.5l-0.3 0.1M353.5 44.1l-0.0 0.0M266.2 136.4l0.0 -0.3M364.3 38.9l-0.3 -0.1M334.6 40.3l-0.3 -0.2M270.4 140.4l0.4 0.2M338.0 100.5l-0.4 0.4M347.3 50.0l-0.2 0.1M265.6 26.3l0.0 -0.2M403.1 133.7l-0.1 0.4M396.6 75.4l-0.1 0.2M314.5 68.5l0.0 0.1M390.0 134.0l-0.2 0.1M328.4 127.7l0.0 0.0M269.3 81.6l-0.1 -0.1M277.6 91.0l-0.1 -0.0M302.4 119.2l-0.0 -0.0M384.3 84.7l0.0 0.1M394.8 133.8l-0.5 -0.1M364.5 34.5l-0.5 0.2M270.0 134.4l-0.4 0.6M373.9 105.2l-0.3 0.2M347.0 127.8l0.6 0.4M385.5 90.9l-0.0 -0.0M256.7 101.2l-0.1 -0.7M338.6 56.2l0.6 0.4M376.4 115.2l-0.2 -0.7M270.9 100.7l-0.1 -0.3M255.7 116.8l0.7 0.2M266.5 103.7l0.2 -0.2M330.4 64.8l0.3 0.3M299.2 136.4l-0.2 -0.2M367.2 26.2l0.1 -0.2M358.1 74.6l0.0 -0.2M278.6 55.8l0.6 -0.0M298.8 71.2l0.6 -0.4M295.8 69.6l0.2 -0.3M393.7 124.4l-0.5 0.4M381.8 83.3l0.7 0.2M372.9 81.3l0.3 0.0M324.5 126.3l0.2 0.3M264.0 65.6l-0.0 0.1M284.9 53.5l-0.5 -0.1M376.4 82.3l-0.1 0.0M366.8 87.8l0.5 0.4M344.7 139.8l0.5 0.6M392.0 53.2l0.2 0.1M303.7 74.7l-0.1 0.1M340.3 122.2l0.0 -0.1M357.2 142.7l-0.0 -0.0M397.2 141.0l0.0 0.3M344.5 120.1l-0.1 0.4M362.1 78.5l-0.1 -0.3M259.7 139.2l-0.2 -0.0M405.5 70.3l0.2 -0.1M267.0 70.2l0.1 0.1M361.0 117.6l0.3 0.7M357.8 83.0l0.1 -0.1M281.8 94.0l-0.2 -0.3M376.9 128.0l-0.1 0.2M308.2 31.8l0.0 -0.1M268.3 93.2l0.7 0.2M276.2 103.2l-0.1 -0.3M273.4 98.8l0.3 0.5M402.8 55.8l0.3 0.2M388.2 83.5l0.2 -0.3M255.2 133.2l0.1 -0.1M297.0 103.2l-0.6 -0.5M265.1 85.3l0.5 -0.5M281.4 52.9l-0.7 0.3M308.6 132.9l-0.2 -0.0M270.8 118.2l-0.3 -0.0M386.6 32.8l0.3 0.1M313.4 58.5l-0.1 0.1M282.6 57.1l0.2 0.0M351.1 130.9l0.7 -0.4M269.4 68.7l-0.2 -0.5M254.6 50.4l-0.6 0.5M382.7 80.4l-0.0 0.1M352.5 66.6l0.4 -0.4M272.1 44.4l0.3 0.3M290.2 108.6l-0.1 0.7M331.9 105.5l0.2 -0.7M343.2 89.0l-0.3 0.5M315.9 73.2l0.6 0.3M321.9 36.1l0.2 0.4M326.2 48.6l-0.3 -0.7M310.0 127.7l0.0 0.0M379.4 124.2l0.7 0.3M307.2 39.3l-0.2 0.8M321.8 82.0l-0.1 -0.1M374.2 76.4l0.4 0.1M252.0 94.4l0.6 0.3"/>
<path stroke="#1a30d4" stroke-width="2.2" stroke-opacity="1" d="M373.5 112.0l-0.9 -0.2 -1.4 -0.7M398.4 95.3l-0.4 -0.5 -0.2 -0.6M339.3 42.2l-0.7 1.2 -0.2 0.5M352.1 85.0l1.4 0.7 0.8 1.4M340.9 70.6l0.8 -1.2 -0.4 -1.7M279.2 93.2l0.8 -0.4 1.5 -0.7M263.6 122.0l-0.1 -1.0 -0.0 -1.3M309.8 55.9l-1.4 -0.8 -0.8 -0.6M301.4 57.0l-0.2 -1.0 -0.1 -1.6M271.1 120.3l-0.7 -0.3 -1.1 -0.7M381.0 130.3l0.4 -1.1 0.6 -0.5M386.1 131.1l-0.5 0.3 -1.5 0.2M252.2 45.8l0.1 -0.9 0.9 -1.3M390.9 81.4l0.3 0.5 0.6 1.3M260.4 120.0l0.3 -1.0 -0.1 -0.6M381.0 36.7l-0.1 -1.1 -1.3 -1.2M395.4 60.7l-0.4 -0.5 0.1 -0.7M262.6 141.8l-0.3 -0.6 -0.5 -1.3M334.1 74.4l-0.6 -1.1 -0.2 -0.5M380.7 89.6l1.1 -1.0 1.0 -0.4M256.2 112.5l-0.3 -1.2 0.6 -1.2M252.9 48.0l-0.6 0.7 -0.2 1.3M341.0 111.1l-1.2 0.9 -0.2 1.1M402.3 117.4l0.4 -1.2 0.6 -0.8M382.0 68.1l0.7 -0.1 1.0 0.5M284.6 134.2l-0.1 1.3 -0.4 0.4M380.9 114.4l0.7 0.3 1.5 0.1M374.6 54.9l0.7 0.8 0.6 1.1M258.5 52.3l0.1 0.8 -0.2 1.0M291.8 40.9l0.1 -1.3 -0.9 -1.0M334.2 115.1l1.3 0.9 1.5 -0.0M399.1 43.9l0.2 -0.7 -0.8 -1.6M338.8 26.6l0.7 0.6 0.6 0.7M322.2 48.5l0.3 0.5 1.4 0.5M395.3 49.5l-0.6 1.4 -1.0 0.3M311.0 137.3l-0.7 1.5 -0.2 1.5M271.7 31.5l0.9 1.5 0.5 0.1M363.0 134.0l1.5 -0.7 0.5 -0.2M378.8 126.8l0.3 -0.4 1.4 -0.2M368.6 94.5l-0.6 -0.7 -0.2 -1.2M349.0 72.9l-0.5 1.6 0.4 1.2M384.5 55.4l0.1 0.9 -0.7 1.6M319.9 93.4l0.2 0.5 -0.4 1.5M303.3 70.2l0.9 0.6 1.0 1.1M301.5 126.4l-0.5 -0.5 -0.9 -1.3M382.7 66.2l-1.1 -0.1 -0.6 0.3M392.0 32.1l0.2 -1.6 -0.8 -1.6M345.3 90.3l0.0 1.7 -0.5 1.2M354.5 77.0l-0.5 -0.1 -1.0 0.3M338.6 35.5l-0.6 0.2 -0.6 0.3M362.0 63.3l0.2 0.6 -0.5 1.7M390.0 36.3l0.7 1.4 0.7 0.9M390.3 130.3l-0.4 -0.9 -0.5 -1.4M281.2 25.7l-0.3 1.2 -1.3 0.8M261.8 68.0l-0.0 1.1 0.4 1.4M395.3 52.8l-1.6 0.5 -0.7 -0.1M355.0 140.7l-0.8 0.1 -1.0 -0.3M396.3 95.9l0.7 0.3 0.8 0.9M280.8 96.4l0.5 1.0 0.5 0.8M360.6 70.5l0.0 -0.6 0.5 -0.8M380.1 58.2l0.1 -1.7 0.6 -0.9M338.5 60.7l0.2 1.3 -0.4 1.1M269.2 85.5l0.5 -1.0 0.1 -1.2M341.4 108.6l-0.1 1.5 -0.4 0.9M378.5 77.9l0.8 0.2 1.0 0.3M350.3 59.7l0.2 -0.8 0.5 -0.3M352.6 110.8l-0.6 1.5 -0.6 1.2M355.3 47.3l0.1 1.4 0.4 1.3M282.6 27.1l0.4 -0.6 -0.1 -0.6M254.7 114.3l1.0 -0.8 0.1 -1.2M346.9 37.4l1.2 1.1 0.9 0.3M287.1 30.8l0.3 -0.5 0.5 -1.0M275.3 29.8l-0.5 0.7 -1.5 0.1M299.1 142.4l0.8 1.0 -0.1 0.6M401.4 124.2l-0.8 -1.1 -0.1 -1.3M349.1 37.5l-0.1 -0.8 -1.1 -1.0M394.9 72.8l-0.7 -0.2 -1.0 0.1M369.0 67.6l0.5 -0.9 0.8 -0.4M276.2 97.5l-0.6 -1.5 -0.9 -0.6M316.5 29.9l-0.9 -1.2 -0.0 -0.7M370.5 87.7l-0.6 -0.2 -0.5 -0.8M265.9 92.0l0.3 -0.4 0.9 -1.4M326.8 34.5l1.5 0.6 0.4 1.2M312.5 80.1l-0.3 -1.0 0.2 -0.8M383.3 61.1l-0.5 0.6 0.1 0.8M305.7 63.9l0.9 -1.5 0.5 -0.3M290.3 125.2l1.4 -0.4 1.6 -0.4M345.0 96.8l-0.7 -1.2 -1.3 -1.1M261.3 100.3l0.7 -1.3 0.0 -0.6M400.8 46.1l1.0 1.2 -0.3 1.5M389.6 58.6l-0.8 1.4 -1.5 0.4M381.5 95.3l-0.3 -1.2 0.2 -0.8M389.7 68.8l-0.7 -0.8 -0.8 -0.6M366.1 123.3l-1.1 0.2 -0.9 1.3M404.4 33.7l0.8 0.6 0.4 1.6M295.0 87.4l-1.2 -0.1 -1.2 0.9M255.6 64.7l0.8 1.6 -0.2 1.8M369.0 54.9l0.1 -1.0 0.3 -0.7M340.1 77.7l0.1 -0.7 0.5 -0.4M399.7 135.9l1.3 0.1 0.6 -0.0M359.8 38.2l0.4 1.6 0.1 1.5M332.3 45.4l-0.7 0.2 -1.3 0.0M373.4 78.8l-1.0 0.7 -1.5 0.6M401.2 30.7l1.0 -0.9 0.5 -0.3M355.8 105.4l-0.8 -0.7 -1.0 -1.4M305.3 81.0l0.8 1.2 0.4 1.5M363.0 109.8l0.6 0.3 1.5 0.7M370.4 123.5l-1.2 -0.6 -0.9 -1.2M252.7 65.3l0.1 -0.6 -0.4 -0.6M259.3 62.8l0.7 -1.2 1.0 -1.1M304.1 134.9l-0.3 -0.9 -0.9 -0.9M398.5 109.8l1.0 0.4 0.8 0.2M386.0 88.4l-0.8 -0.3 -0.3 -0.7M253.7 35.6l-0.3 -1.2 0.0 -0.7M276.3 139.6l0.6 -1.3 -0.4 -1.0M277.4 105.0l-1.0 -0.0 -1.3 -0.2M345.3 42.3l-0.9 0.6 -0.6 -0.1M256.7 70.6l-1.1 -0.0 -1.6 0.8M259.3 57.6l1.1 0.2 1.0 -0.8M398.7 117.7l0.7 0.3 0.8 0.2M386.2 74.6l-0.2 -1.1 -1.1 -0.6M366.8 48.8l0.2 -0.5 -0.8 -1.4M319.0 80.2l1.2 1.2 0.3 0.8M351.1 81.2l0.8 0.4 0.9 0.7M336.1 28.8l-1.1 -0.1 -1.4 -0.1M366.3 33.6l1.6 0.2 1.5 0.8M248.5 74.7l0.5 1.7 -0.0 1.5M370.6 76.1l1.3 0.0 0.8 0.8M337.7 131.3l0.1 -0.7 0.9 -0.6M304.6 45.4l-0.6 0.5 -1.4 1.1M372.5 86.7l-1.2 1.0 -0.5 1.3M317.9 41.1l0.0 1.5 0.9 0.9M264.7 101.6l0.8 -0.4 0.6 -1.1M396.8 101.0l-1.3 -0.6 -0.8 -0.2M365.0 138.7l-1.0 -0.0 -1.5 0.3M337.8 63.4l0.3 -0.8 -0.0 -0.8M355.4 58.9l-0.1 1.5 -0.5 0.7M376.9 47.9l0.3 -1.5 -0.6 -1.1M272.3 79.3l-1.3 -1.2 -1.1 -0.7M289.2 58.4l0.3 0.9 -0.2 1.2M363.7 73.8l0.2 1.6 1.1 0.7M393.3 73.8l1.4 0.3 0.5 0.7M361.8 89.3l-0.3 0.6 -0.6 1.1M305.0 114.4l-1.0 -1.0 -0.4 -1.0M397.1 81.6l1.5 0.7 1.0 0.4M257.5 131.6l0.6 0.7 -0.1 0.7M264.2 137.8l0.6 1.4 -0.1 0.9M294.6 42.3l0.9 -1.2 0.7 -1.1M282.2 38.2l0.2 1.1 0.2 1.2M304.2 27.4l-0.6 -0.4 -1.1 -0.7M257.2 38.9l0.8 0.3 1.5 -0.9M390.6 71.8l1.0 -0.2 0.7 -0.1M389.4 64.0l0.7 1.6 0.3 1.3M248.3 134.8l-0.3 1.3 -0.6 0.3M314.1 93.3l0.9 -0.7 0.1 -1.1M248.7 108.2l-0.0 0.9 0.3 1.6M400.9 104.2l-0.7 -0.8 -0.0 -0.9M344.4 64.7l1.2 1.2 0.7 1.0M250.3 95.7l-0.3 1.0 0.2 1.1M319.3 123.8l0.1 0.8 0.4 0.8M351.4 91.6l-1.4 0.4 -1.1 -0.1M377.8 99.3l-0.6 -1.3 -1.6 -0.5M364.5 80.8l-0.6 -0.8 -0.4 -1.6M399.4 76.8l0.7 -0.0 0.8 -0.8M395.7 63.7l0.0 -0.6 0.4 -1.6M279.7 142.6l0.5 0.5 0.1 1.7M387.6 58.2l1.4 0.0 1.5 -0.1M375.6 74.9l1.2 -1.2 1.6 -0.8M333.7 61.2l0.4 0.3 1.2 1.2M382.9 132.0l0.5 0.5 0.8 -0.0M300.4 26.2l-0.8 -0.1 -1.4 -0.0M375.3 67.8l-1.2 -1.3 -1.3 -0.1M405.7 85.6l-0.9 -0.7 -0.7 -0.6M279.4 28.4l-0.5 -1.2 -0.4 -1.2M258.6 108.9l0.8 0.7 0.4 0.9M388.9 104.5l1.6 0.2 0.5 0.1M250.7 30.4l-0.1 1.2 -0.1 0.5M348.6 31.8l1.2 0.0 0.5 -0.1M371.7 40.8l-1.0 0.6 -1.4 -0.3M401.1 87.8l-0.9 -1.3 -0.3 -0.8M384.9 109.7l-1.0 0.5 -0.3 0.5M404.4 74.1l1.4 0.1 1.2 -0.4M397.2 51.7l0.1 0.6 0.6 1.5M384.6 120.2l-1.0 1.4 -1.0 0.3M324.5 123.9l1.4 -0.8 0.1 -0.7M399.9 62.4l0.1 -1.5 -0.2 -0.7M389.1 101.3l1.3 -0.2 1.5 0.4M253.2 38.3l-1.0 -1.0 -0.7 -0.8M378.0 91.9l0.7 1.5 -0.4 1.3M284.8 119.4l1.0 1.3 0.1 1.0M289.3 45.1l-0.2 0.6 -0.5 0.4M380.6 41.8l-0.0 0.5 -1.0 1.3M374.4 97.1l-0.9 0.6 -0.9 1.3M346.3 45.7l-1.3 -0.6 -0.2 -0.4M273.4 85.3l-0.1 -0.6 0.4 -1.2M276.1 142.6l0.3 -0.7 1.4 -0.5M289.3 101.7l0.7 -0.6 0.2 -0.5M386.1 112.0l1.2 0.1 1.2 1.0M288.5 141.7l-1.1 0.4 -1.3 -0.5M394.5 70.1l-0.8 -0.2 -1.3 -1.0M394.9 139.9l1.5 -0.6 0.7 0.0M297.4 55.8l-0.1 1.5 -0.0 0.8M338.1 88.2l-0.7 1.4 -0.5 1.5"/>
<path stroke="#2440a4" stroke-width="1.6" stroke-opacity="1" d="M297.3 73.0l0.1 0.0M300.5 63.0l-0.1 0.1M331.0 133.0l0.0 0.0M378.5 111.8l0.2 0.0M298.4 67.8l0.0 -0.2M346.4 92.1l-0.0 -0.0M296.6 75.2l-0.1 -0.0M365.5 69.7l0.1 0.0M356.3 79.2l0.0 0.0M335.4 82.9l-0.0 0.0M320.5 61.7l-0.1 0.2M315.9 58.5l0.2 0.1M251.8 78.4l0.0 -0.1M264.5 130.9l0.0 -0.1M324.5 134.3l-0.1 0.1M266.5 124.5l0.2 0.2M322.3 65.0l-0.1 0.0M344.9 40.2l0.0 -0.0M355.6 49.3l-0.1 -0.0M264.6 78.7l0.1 0.1M272.6 135.6l0.0 -0.0M279.1 49.5l0.1 -0.1M280.8 73.8l0.1 -0.2M366.8 108.0l0.1 -0.0M291.6 111.8l0.1 0.0M322.2 88.5l0.2 0.1M294.2 112.7l-0.2 -0.0M366.8 132.8l-0.2 0.0M332.0 140.9l0.1 -0.0M350.1 76.9l0.1 0.1M310.4 59.5l-0.1 -0.2M262.8 36.7l0.1 -0.1M290.1 72.2l0.2 -0.1M252.9 59.1l-0.0 -0.1M370.2 90.1l0.0 -0.0M285.6 47.9l0.2 0.0M372.9 100.4l-0.3 -0.1M299.9 113.4l-0.2 -0.1M370.9 107.8l-0.0 -0.1M325.1 66.6l-0.0 -0.1M326.5 25.0l0.0 0.1M299.9 44.8l-0.2 0.2M403.2 27.5l0.0 0.1M336.6 94.0l0.0 -0.0M251.1 139.2l-0.1 0.1M400.4 96.7l-0.0 -0.0M314.7 35.3l-0.1 -0.1M295.9 52.0l0.1 0.0M382.2 25.8l0.0 0.1M388.9 26.8l-0.1 -0.1M357.7 96.3l-0.1 0.1M267.9 127.0l0.2 0.2M304.5 61.9l-0.0 0.0M401.6 76.8l0.0 -0.0M303.8 122.1l-0.2 -0.2M348.4 80.1l-0.2 0.1M382.7 40.9l0.1 0.1M316.9 118.3l0.1 0.0M279.7 127.5l0.2 0.0M298.7 59.3l0.2 0.2M366.0 136.3l-0.0 -0.0M321.7 95.7l-0.1 -0.0M369.2 138.6l0.0 -0.0M327.2 86.1l0.3 -0.1M373.3 135.9l0.1 0.0M345.4 51.1l-0.2 -0.1M344.3 128.9l0.2 0.1M301.4 83.5l0.1 0.0M254.8 60.4l-0.1 -0.2M307.6 25.5l-0.1 0.0M368.6 115.8l-0.0 -0.0M318.2 96.3l-0.1 -0.1M330.3 124.7l-0.1 -0.2M404.7 140.6l-0.2 0.0M373.5 140.0l-0.0 -0.0M374.8 121.7l-0.2 -0.1M391.6 65.8l0.1 0.1M340.9 129.2l-0.0 0.2M316.4 82.7l0.1 -0.0M298.3 132.6l0.2 -0.0M283.8 94.9l-0.2 -0.2M259.8 60.2l0.0 -0.0M373.7 66.5l-0.0 -0.0M356.0 74.2l0.1 -0.1M274.6 65.7l0.2 -0.2M256.2 29.6l-0.3 -0.2M374.6 36.2l-0.1 0.0M392.5 96.4l-0.2 -0.2M331.9 110.6l-0.0 -0.0M297.4 61.5l-0.2 -0.0M250.0 51.2l-0.0 -0.0M249.7 131.7l-0.0 0.0M286.5 97.1l0.1 0.1M258.9 89.8l-0.1 -0.1M359.4 49.7l0.2 -0.2M295.6 83.1l-0.2 0.0M277.4 70.8l0.1 0.0M401.2 33.7l0.2 0.0M254.4 62.3l0.1 -0.1M305.9 105.4l0.3 0.0M362.6 101.8l-0.0 0.2M304.8 86.4l0.1 0.0M330.3 79.7l0.3 -0.0M318.8 74.8l0.1 -0.1M366.0 31.3l-0.0 0.0M393.2 116.9l-0.1 -0.3M333.8 28.8l-0.2 0.1M395.1 33.4l0.2 -0.1M262.6 127.4l0.1 0.3M317.0 124.0l0.0 0.0M307.1 29.7l0.2 -0.2M368.8 82.6l0.1 -0.1M316.7 49.5l-0.1 0.1M357.6 52.2l-0.2 0.1M296.0 117.2l-0.3 0.1M357.9 65.2l0.1 0.2M383.2 43.3l-0.1 -0.2M380.1 101.3l-0.1 -0.0M356.6 32.7l0.2 -0.2M309.0 41.7l-0.0 -0.1M398.3 112.5l-0.0 -0.0M248.4 27.9l-0.2 0.2M335.2 88.1l-0.1 -0.2M283.0 60.2l-0.2 0.3M378.0 38.8l-0.1 -0.2M262.6 58.4l0.1 -0.2M281.5 125.8l-0.0 -0.0M377.5 51.7l0.0 0.1M286.0 24.6l0.2 -0.1M364.8 104.1l0.3 -0.0M311.2 122.2l-0.2 0.1M349.4 87.5l0.1 0.0M329.8 61.2l0.0 0.0M398.9 139.0l-0.0 0.1M309.6 71.3l0.1 -0.1M303.7 129.0l-0.1 0.1M277.7 79.5l0.2 0.0M288.1 95.1l0.0 0.0M350.3 40.1l-0.0 -0.1M260.0 122.3l0.0 -0.0M249.8 120.8l0.1 -0.1M386.2 43.2l-0.1 0.1M308.2 79.7l0.1 0.1M358.6 107.3l0.0 -0.3M296.1 33.7l0.1 0.1M348.8 138.4l-0.1 0.0M292.3 83.7l0.2 -0.2M393.5 88.8l0.1 0.2M371.7 58.8l-0.2 0.0M255.5 77.5l0.0 -0.2M298.9 53.1l0.1 -0.2M395.5 83.7l0.0 0.0M270.9 76.6l-0.0 -0.0M305.6 50.4l-0.0 -0.1M377.0 132.7l0.0 0.1M250.0 70.9l-0.1 0.2M327.5 136.0l0.1 -0.0M270.5 48.2l0.0 -0.2M308.7 84.1l-0.1 -0.2M250.7 114.4l0.1 0.1M388.2 30.4l0.0 -0.2M278.4 101.8l-0.2 -0.1M311.2 125.4l-0.1 -0.0M293.5 80.2l0.2 0.2M388.7 77.0l-0.1 0.0M397.2 127.2l0.0 -0.0M254.9 94.4l0.1 -0.3M263.4 90.8l0.0 -0.0M288.7 62.2l0.0 -0.1M298.4 94.0l0.1 -0.1M347.6 132.6l-0.0 -0.0M321.2 133.8l-0.1 -0.1M365.1 58.3l-0.1 -0.1M341.4 93.8l-0.1 0.1M327.2 120.7l0.0 0.0M269.2 131.6l-0.1 0.1M399.4 91.2l0.0 -0.0M344.1 33.0l-0.0 -0.0M259.1 96.9l0.0 0.1M340.6 52.5l0.3 0.0M375.4 140.7l0.1 0.2M301.2 78.9l0.0 0.0M291.4 30.8l-0.2 0.1M387.3 71.8l0.1 -0.1M298.4 25.4l-0.2 -0.1M325.4 117.7l-0.0 0.0M368.3 128.4l0.3 0.0M319.1 115.6l-0.2 0.0M249.8 38.1l-0.1 0.2M274.4 94.9l0.0 -0.2M325.3 130.1l-0.1 -0.2M324.6 24.8l-0.0 -0.1M329.3 130.6l-0.1 -0.2M356.0 24.4l0.1 -0.0M273.4 92.7l-0.0 0.0M378.2 120.8l0.2 -0.1M395.5 91.1l-0.0 0.0M338.2 128.0l-0.1 0.1M278.5 82.4l-0.2 0.2M345.4 142.2l-0.0 0.0M321.4 78.5l0.0 0.1M255.5 34.3l-0.2 -0.2M338.2 112.4l-0.0 -0.1M333.6 97.1l-0.1 0.3M294.1 132.9l-0.1 -0.3M393.5 37.5l0.1 -0.2M321.9 137.2l0.0 0.0M283.3 29.3l-0.0 -0.0M321.5 98.8l-0.1 -0.1M349.1 69.0l0.1 -0.1M388.6 33.5l0.0 -0.0M380.6 34.8l0.2 -0.2M248.2 56.4l-0.1 0.1M375.0 129.5l-0.1 0.1M359.1 34.5l-0.2 -0.1M392.9 28.6l-0.0 0.1M345.3 105.1l0.1 0.1M282.4 113.1l-0.2 -0.1M287.9 136.2l0.1 0.1M387.3 115.4l-0.1 0.2M268.0 140.7l-0.1 -0.2M313.2 25.5l-0.0 -0.0M289.0 112.3l0.0 -0.1M307.1 34.7l0.1 -0.2M293.6 101.7l-0.0 0.2M357.4 88.0l0.1 0.2M347.1 130.6l-0.1 0.0M354.8 99.0l-0.1 -0.0M292.6 128.7l0.0 -0.1M384.1 24.7l0.1 -0.1M328.7 103.6l0.1 -0.1M268.9 77.0l-0.2 -0.0M319.5 132.1l-0.0 0.2M280.3 110.6l-0.0 -0.0M259.1 133.7l0.1 0.1M402.7 69.0l0.0 0.0M340.2 24.5l0.1 -0.0M256.4 27.5l0.2 -0.1M263.7 116.1l0.0 0.2M313.8 141.0l0.0 0.1M293.2 32.2l-0.1 -0.1M264.5 51.8l0.1 -0.1M386.7 77.4l-0.0 0.1M321.8 129.4l0.1 -0.2M269.8 95.6l0.3 0.0M359.9 79.3l-0.1 0.1M339.8 140.2l0.1 -0.1M316.3 120.8l-0.1 -0.1M370.7 66.6l-0.0 -0.1M350.3 64.0l0.1 0.2M399.2 68.0l-0.3 -0.0M348.3 61.7l0.0 -0.0M258.5 66.6l-0.0 -0.1M321.0 70.8l-0.1 -0.1M401.4 43.5l0.1 -0.1M319.7 102.7l-0.3 0.1M331.9 69.7l-0.0 0.3M363.2 40.5l0.0 -0.0M332.2 72.3l-0.0 -0.0M362.4 49.3l0.0 -0.0M315.1 62.0l-0.2 -0.1M323.4 70.0l-0.2 0.2M346.8 34.7l-0.2 0.1M403.3 106.3l-0.1 0.1M302.5 136.5l-0.2 -0.0M355.3 135.3l-0.2 -0.0M316.8 71.1l-0.2 0.2M272.2 64.5l0.1 0.2M274.0 125.9l0.0 0.0M267.7 107.6l-0.0 -0.1M264.4 76.2l-0.0 0.1M371.7 31.3l0.1 0.2M388.9 50.0l0.1 -0.1M274.2 102.7l-0.1 0.1M371.9 110.3l-0.0 -0.0M403.7 138.6l0.2 -0.0M249.9 76.3l0.1 -0.1M334.4 95.0l0.0 0.3M317.1 77.8l0.2 -0.1M379.7 105.5l0.0 0.0M273.7 119.7l0.2 -0.2M362.6 53.0l-0.0 0.1M365.4 72.9l-0.1 -0.0M292.7 105.7l-0.1 -0.1M405.7 136.9l-0.0 0.2M264.8 118.2l-0.2 -0.1M339.6 125.0l0.0 -0.1M298.5 50.2l-0.1 -0.1M307.2 121.2l-0.1 0.1M356.0 101.9l-0.2 0.1M380.3 52.6l0.0 -0.2M317.8 35.1l0.2 0.2M372.2 62.7l0.0 0.2M374.1 93.5l0.2 0.1M384.5 101.4l-0.0 -0.0M282.0 138.1l0.1 -0.0M305.7 141.5l0.1 -0.2M343.4 91.3l0.0 -0.0M401.8 110.3l0.0 -0.1M354.6 121.6l0.0 0.0M381.9 56.1l-0.2 0.2M260.2 32.8l0.0 -0.0M318.3 129.7l-0.1 -0.2M323.6 56.0l-0.1 0.0M339.2 103.3l-0.1 0.2M273.8 117.2l-0.1 0.2M261.4 136.9l-0.0 -0.0M309.1 142.2l-0.1 -0.0M322.7 26.2l0.1 -0.1M340.9 37.2l-0.0 -0.1M274.8 51.5l0.0 0.0M365.9 90.0l-0.1 -0.0M306.2 137.8l-0.1 0.0M289.5 105.8l0.1 -0.1M291.8 116.2l0.2 0.1M266.9 65.4l0.2 -0.2M252.7 123.2l0.0 0.3M340.6 67.1l-0.1 0.1M250.8 126.1l0.2 -0.1M290.2 93.8l-0.0 0.0M278.3 136.7l0.0 0.0M343.9 81.3l0.0 0.1M308.9 66.6l0.1 -0.0M353.8 48.4l0.2 -0.1M270.9 25.4l-0.1 -0.1M266.3 115.4l-0.1 0.1M266.7 54.1l0.0 0.0M272.4 68.1l0.2 -0.2M397.2 136.6l0.1 -0.1M282.5 129.6l0.2 0.1M291.1 104.1l-0.1 -0.1M314.8 123.4l-0.1 0.3M393.5 85.0l-0.2 -0.2M274.5 127.9l0.0 0.0M284.0 90.2l-0.2 0.1"/>
<path stroke="#1f38d8" stroke-width="1.6" stroke-opacity="0.92" d="M314.2 38.0l-0.4 0.5 -0.1 1.2M364.9 49.7l0.7 -0.7 0.5 -1.5M339.5 47.7l-0.2 0.7 0.3 1.7M347.6 121.5l1.2 0.2 0.6 -0.5M269.1 57.8l-1.0 -0.1 -1.4 0.1M336.4 52.6l-0.8 -0.0 -0.7 -0.3M291.9 136.2l0.3 -1.1 0.4 -0.8M268.0 112.3l0.6 0.7 1.3 0.1M275.0 87.3l-0.4 -0.8 -0.6 -0.5M289.2 75.6l-1.0 -0.3 -1.4 0.4M367.7 60.2l-1.4 -0.3 -0.9 -0.2M392.6 100.4l-0.3 0.8 -0.5 0.9M394.6 136.1l-0.5 0.5 -0.2 0.9M328.6 39.3l0.6 0.3 0.3 1.0M404.3 38.5l-0.9 -0.5 -1.5 -0.2M261.1 35.0l0.3 1.2 -0.8 1.4M362.7 56.2l0.7 -0.6 0.7 -0.5M334.5 123.0l0.6 -0.4 0.5 -0.5M280.7 86.5l-1.4 -0.0 -1.5 -0.3M309.2 107.8l-0.1 -1.0 -0.5 -1.4M336.1 142.7l-0.9 0.2 -0.6 0.5M337.3 97.2l0.2 1.3 -0.0 0.6M381.6 64.2l0.8 0.4 0.3 1.0M249.0 128.4l-0.6 -0.2 -0.7 -0.8M274.7 112.6l-0.5 0.8 0.3 0.9M374.7 118.6l-0.5 0.7 -0.9 0.9M396.3 42.3l-1.3 0.6 -1.4 0.2M316.3 47.4l-1.5 -0.1 -1.5 0.7M362.2 75.1l-1.2 0.1 -1.1 1.3M342.7 24.7l-0.5 0.3 -0.5 1.3M293.0 74.3l-0.9 0.8 -0.9 0.3M347.6 67.1l0.3 -1.2 -0.3 -0.7M328.8 29.3l0.9 0.7 0.7 -0.0M313.8 40.9l0.6 -0.7 1.7 -0.1M405.0 45.0l0.5 1.0 1.5 0.6M371.2 42.7l0.7 -0.3 1.0 -0.5M316.0 98.3l1.3 -0.6 0.7 -0.4M264.8 73.4l-0.5 0.7 -0.7 0.4M400.9 48.7l-0.6 0.7 -0.7 0.2M287.6 37.8l0.1 -1.1 0.3 -1.2M303.5 63.9l0.3 -1.2 0.8 -1.3M382.5 76.0l0.5 -1.4 0.4 -1.5M267.2 49.4l0.1 1.6 -0.6 0.6M283.6 72.9l1.0 -0.3 0.5 -0.9M268.6 105.6l0.2 1.3 -0.9 1.1M389.1 45.4l-1.0 -0.2 -1.0 0.4M261.5 79.1l-1.1 0.7 -0.2 1.1M274.0 39.9l0.1 -1.3 -0.8 -0.9M399.8 93.6l-0.7 0.2 -0.9 0.6M308.6 37.9l0.9 -0.5 0.8 -0.4M269.4 55.1l-0.7 0.5 -0.2 0.7M278.8 133.2l-1.5 -0.2 -1.1 -0.0M310.6 40.5l1.6 0.2 1.0 0.7M380.9 103.2l-1.3 0.1 -1.2 0.4M394.7 47.3l-0.8 1.3 -0.2 0.9M379.4 82.7l-0.8 1.2 -0.1 0.8M329.7 43.1l-1.4 -0.3 -1.0 -0.2M255.1 129.2l-0.3 -1.0 -0.8 -1.2M332.1 100.9l0.1 0.9 0.0 1.1M287.1 86.8l-0.4 -1.3 -0.4 -0.8M297.7 97.8l-1.2 -0.1 -1.5 -0.3M272.4 111.2l0.2 0.6 -0.4 1.2M281.5 64.0l0.0 -0.8 0.1 -1.4M387.6 100.2l0.5 -1.2 1.1 -0.8M256.7 85.5l-1.1 0.2 -0.9 0.4M258.3 83.0l-0.7 0.0 -1.1 0.9M401.5 64.2l-0.6 1.1 -0.2 1.0M312.6 55.6l-1.1 0.7 -1.1 1.0M297.0 31.2l0.1 1.1 -0.7 1.4M285.0 85.6l0.9 1.2 -0.1 0.7M403.2 52.3l-0.0 1.5 1.1 1.1M286.4 88.9l0.4 0.5 0.0 0.8M268.0 61.0l0.3 1.5 0.6 1.1M276.5 129.2l-0.3 0.6 -1.1 1.2M384.5 78.8l-0.2 1.4 -0.3 1.4M263.1 29.2l-1.6 -0.2 -0.8 0.5M361.1 67.0l0.2 1.1 -0.2 0.8M260.3 83.2l-0.1 0.8 0.3 0.5M374.1 88.5l1.2 -0.0 1.3 0.1M338.5 106.7l-0.6 0.2 -1.1 -0.1M294.7 27.2l-1.0 -1.1 0.0 -1.2M398.1 121.4l-0.2 0.7 -0.9 1.1M310.6 35.0l-1.3 -0.1 -1.4 0.8M253.3 107.1l-1.0 0.4 -0.5 1.4M389.5 86.3l0.8 1.0 0.2 0.7M353.5 51.8l1.1 -1.0 0.7 -0.3M388.2 121.1l-0.5 0.6 -0.3 0.6M274.0 109.7l-0.3 -1.3 0.3 -0.7M352.7 99.4l0.7 -0.4 1.4 0.1M282.1 121.9l-0.7 0.8 -1.3 0.8M372.2 90.8l0.7 -0.3 0.7 -1.2M374.3 33.4l0.8 0.8 0.1 0.7M281.6 119.8l-0.4 1.1 -1.5 0.7M394.8 75.3l0.9 0.8 0.4 0.6M249.6 68.3l-0.7 -0.8 -1.5 -0.3M392.3 35.6l-0.3 -0.7 0.4 -1.3M291.8 66.7l-0.4 -0.5 -1.0 -0.6M398.3 33.6l1.1 0.4 1.0 0.7M375.1 131.9l-0.3 -1.0 -0.6 -0.7M329.5 116.4l-0.8 0.1 -0.7 -0.4M403.4 71.6l1.1 0.4 0.6 0.3M268.1 41.9l0.3 -0.8 0.5 -0.9M274.2 32.7l0.0 1.3 -0.5 1.2M358.0 131.1l1.5 -0.2 1.3 0.1M278.2 58.3l-0.5 0.9 -0.2 0.8M254.2 139.0l1.4 1.0 0.7 0.3M290.2 78.0l-0.9 -0.1 -0.8 0.3M372.0 141.5l-1.3 -0.6 -0.9 0.0M363.9 120.6l-0.6 -0.7 -0.2 -0.6M402.5 41.5l-1.3 -0.9 -0.4 -0.6M312.8 65.3l-0.1 -1.3 0.5 -0.5M324.9 53.0l0.2 -1.0 0.3 -1.2M399.4 133.5l-0.7 0.4 -0.7 1.2M359.5 62.8l0.6 -0.5 1.0 -0.1M396.8 115.1l1.4 -0.8 1.5 0.2M255.9 119.1l1.0 0.9 0.2 1.0M394.5 68.0l0.1 -1.0 -0.8 -1.3M315.8 140.1l-1.6 0.0 -0.9 -0.1M360.0 55.7l-1.1 0.2 -0.8 0.4M351.7 134.1l1.2 0.6 0.4 0.8M326.0 91.7l0.8 -0.4 1.0 -0.5M289.0 97.2l0.7 -0.1 0.8 0.5M377.1 142.0l-0.2 -0.8 0.6 -1.0M265.6 96.2l-0.9 -0.0 -0.5 -0.4M311.2 43.2l0.4 0.5 0.1 0.8M363.7 142.0l1.3 0.1 0.8 0.2M374.4 50.4l-0.1 1.4 0.1 0.6M396.4 71.2l-1.0 -1.2 -1.0 -0.7M354.3 115.7l-1.4 0.6 -1.2 1.0M262.6 88.4l0.5 -1.1 0.2 -1.3M355.9 63.2l1.3 1.0 0.1 0.9M254.9 136.9l1.1 -0.3 1.1 -0.4M328.1 93.1l0.5 1.1 0.4 0.8M248.9 98.2l1.1 0.9 0.2 0.7M331.5 41.8l-0.8 -0.5 -1.6 -0.3M392.8 94.0l-0.0 -1.5 -1.0 -1.2M355.3 83.4l1.4 -0.1 1.3 -0.4M345.0 70.4l-1.4 -0.7 -0.6 -0.8M356.4 45.0l-0.0 1.4 -0.1 0.8M272.8 87.8l-1.5 -0.2 -1.4 -0.7M354.7 91.0l-0.7 0.6 -1.0 0.3M376.9 62.9l-1.4 -0.4 -1.5 0.4M375.9 104.8l-0.4 -0.5 -0.8 -1.1M396.4 79.2l-0.8 -0.2 -0.7 -0.6M359.6 91.9l0.8 1.3 0.8 0.1M356.8 117.0l-0.3 -1.5 0.2 -1.5M337.5 43.9l1.0 1.2 0.3 1.1M366.0 67.4l0.5 -0.4 0.2 -1.3M271.3 72.9l-0.5 1.2 -1.1 0.3M336.5 33.0l-1.6 -0.1 -1.3 0.2M304.8 101.3l-1.6 -0.2 -0.7 -0.2M256.4 51.9l1.1 0.7 0.8 1.1M364.8 98.9l-0.7 -0.9 -0.3 -0.9M391.1 111.0l0.5 -0.9 -0.2 -1.6M344.4 56.2l-0.9 0.7 -0.8 -0.0M378.4 27.9l-1.0 -0.3 -1.2 -1.1M277.2 87.1l0.2 1.5 0.5 0.9M269.8 40.4l-1.3 -0.9 -1.5 -0.4M329.8 49.1l0.5 -1.1 0.4 -0.9M344.6 130.9l0.4 -1.0 0.8 -0.7M292.5 71.3l0.7 0.2 0.3 0.9M381.5 72.6l-0.6 -1.2 0.3 -1.0M369.6 73.4l1.5 -0.1 0.6 -0.2M397.2 45.4l1.3 -0.3 1.2 -0.2M382.5 142.4l-0.2 -0.9 -0.6 -0.6M266.2 37.5l-0.3 -0.7 -0.3 -1.1M280.1 47.2l-1.1 0.5 -0.9 0.8M278.2 30.4l-0.5 1.2 -0.4 1.6M295.9 66.0l1.1 -0.3 1.3 0.2M342.2 133.8l-0.3 -0.9 -0.7 -0.4M347.8 89.5l0.5 1.0 0.6 0.3M341.2 42.6l-0.3 0.6 -0.2 1.3M345.2 115.8l0.4 1.4 -0.4 1.6M251.3 42.2l-0.1 0.7 0.3 0.8M302.6 114.9l-0.7 -0.3 -0.4 -1.4M371.2 113.4l0.7 0.9 0.7 0.8M366.7 80.4l-1.3 0.9 -0.1 0.9M403.0 101.2l-1.2 -0.1 -0.8 0.3M264.9 32.3l1.1 -0.8 0.2 -1.4M262.6 62.1l0.6 1.5 0.3 0.7M343.5 103.0l-0.2 1.0 -0.0 1.5M260.8 49.8l-1.1 0.3 -1.5 -0.2M275.6 54.7l-0.6 0.8 -0.1 0.9M381.1 87.8l-1.3 -0.8 -1.6 0.3M368.0 28.0l0.7 0.6 1.0 0.5M279.8 139.1l-0.5 1.4 -0.8 1.0M289.8 119.7l0.4 -1.2 -0.3 -0.6M346.9 112.5l0.5 -0.6 0.9 -0.5M356.3 127.6l-1.0 -0.3 -1.5 0.6M377.0 125.9l0.0 0.9 -0.3 0.7M285.1 140.2l-0.8 -0.8 -1.6 -0.3M254.3 105.0l1.2 -1.2 -0.0 -0.9M248.4 141.6l0.2 -1.4 0.4 -1.3M371.8 50.0l-0.9 0.7 -0.2 0.8M286.7 107.4l-1.5 -0.4 -1.2 0.5M301.7 66.5l1.0 -0.7 0.5 -0.9M353.5 68.5l1.4 0.1 0.4 0.5M366.8 96.5l0.1 1.3 0.5 0.8M274.7 48.2l-0.3 -0.6 -0.9 -1.0M384.8 96.5l0.3 1.2 0.5 0.4M299.9 131.2l0.0 -1.2 -1.0 -0.9M344.2 87.1l0.6 1.2 0.4 1.4M283.1 131.9l-1.1 1.1 -1.4 0.2M372.8 117.5l1.5 0.6 0.8 -0.1M284.8 81.0l0.2 1.1 0.8 1.2M348.7 105.3l0.7 -1.0 -0.0 -0.9M294.0 37.9l-0.3 1.6 -0.3 1.6M299.2 110.9l-0.4 0.7 -1.1 1.2M338.2 37.6l0.2 0.8 1.3 1.1M254.1 126.8l0.7 0.0 1.1 0.3M393.1 105.3l1.0 0.1 1.3 -0.1M269.6 103.6l1.6 -0.2 1.0 -0.3M341.5 28.8l-0.1 -1.0 -0.5 -1.3M360.7 35.9l0.1 -0.7 -0.6 -1.0M311.9 51.7l-1.0 1.0 -1.3 0.6M387.4 48.4l0.5 -1.2 -0.3 -1.5M391.8 75.4l-1.0 1.1 -0.3 0.7M326.0 42.7l1.6 -0.2 1.4 0.2M263.2 83.5l-0.7 -0.5 -1.3 0.3M263.7 39.7l1.3 0.2 1.3 -1.0M312.5 104.8l-1.5 0.2 -1.4 -0.4M401.8 99.1l-0.8 0.6 -0.2 0.8M259.7 68.5l-0.4 -0.5 -0.5 -0.5M396.5 98.6l-0.0 -1.5 -0.1 -0.6M316.3 132.9l0.0 -1.2 0.1 -0.8M259.8 79.9l0.3 -0.7 0.4 -1.1M346.1 72.9l1.0 0.9 0.2 0.8M392.6 109.7l-1.0 0.9 -0.6 0.5M250.5 54.2l0.3 -0.6 0.3 -1.4M266.7 80.8l0.8 -1.5 0.3 -1.4M357.6 113.3l0.5 0.4 0.8 -0.1M343.9 47.5l-0.8 -0.3 -1.0 -1.3M388.8 135.7l-1.1 0.3 -1.4 0.5M269.9 36.3l-0.2 1.0 0.1 0.7M294.5 136.7l1.0 0.0 1.2 0.8M318.8 85.8l-0.6 1.1 -0.4 0.8M386.3 40.6l-0.4 1.1 -0.3 0.6M262.8 85.4l-0.1 -0.7 -0.4 -0.6M398.2 26.5l-0.5 0.8 -0.2 0.8M266.9 51.8l0.5 -0.6 1.1 -1.2M392.1 24.7l-1.6 0.3 -1.0 0.8M402.6 96.2l-0.5 -1.3 -0.2 -0.7M252.1 120.8l1.2 -0.7 0.2 -0.8M343.0 67.2l-0.1 0.7 -0.1 1.4M310.6 130.7l0.6 -1.3 1.0 -0.4M349.8 30.1l0.8 0.7 1.5 0.1M300.4 47.1l0.1 -1.5 1.3 -0.8M334.9 43.5l0.7 0.0 1.0 0.0M346.1 31.3l1.3 -0.2 1.3 -0.3M303.2 50.6l-0.3 -1.5 -0.5 -0.5M332.2 116.8l-0.3 1.1 -0.2 1.4M255.6 48.0l0.5 -1.4 0.2 -0.8M381.5 124.3l-0.3 -0.6 0.1 -0.9M355.0 94.4l0.3 -0.8 -0.4 -1.1M351.3 100.9l0.8 0.1 1.3 -1.0M353.1 36.9l-0.4 0.6 -0.8 0.8M337.3 85.9l1.0 0.9 0.2 0.9M282.1 108.6l1.2 0.1 0.9 -0.7M388.6 117.5l0.6 0.4 0.3 0.6M292.8 121.5l0.5 1.5 -0.5 1.3M380.8 119.5l0.7 1.3 0.5 0.9M368.3 77.8l0.4 -1.2 -0.2 -1.1M325.2 38.0l0.6 -0.8 1.1 -1.2M278.2 123.3l-0.2 0.8 -0.5 0.5M340.7 119.4l-1.0 0.1 -1.1 0.6M353.3 60.7l-0.0 -0.7 -0.0 -0.8M328.6 108.6l0.9 0.4 0.2 0.6M268.0 96.6l-0.1 -1.7 -0.3 -1.1M318.4 25.7l1.2 0.4 1.6 0.3M339.9 30.8l-1.3 0.2 -1.0 0.9M394.2 115.2l0.5 0.4 1.7 0.1M253.5 81.4l-0.4 1.4 0.2 1.7M254.3 73.3l1.1 -0.6 0.8 0.2M248.6 64.1l-0.1 0.9 0.1 0.6M379.0 96.5l0.9 1.0 0.8 0.9M343.0 57.9l-0.4 -1.5 0.7 -1.2M290.5 37.9l-0.2 -0.8 -0.2 -1.2M400.4 83.7l-1.6 0.5 -0.8 0.0M314.0 132.9l1.3 0.7 0.6 0.3M259.9 25.2l-0.8 -1.5 -0.6 -1.3M307.3 89.2l0.6 1.4 1.4 0.9M257.2 122.9l-1.0 -0.3 -1.3 -0.3M382.2 32.2l-1.1 -0.0 -0.7 -0.6M365.4 64.6l0.6 -1.0 1.4 -0.4M403.7 78.6l0.3 0.6 0.0 1.2M280.7 76.4l0.9 0.6 1.5 -0.1M296.7 58.6l-0.7 -1.1 -0.8 -0.9M392.4 59.8l-0.3 -1.6 0.2 -0.8M386.6 56.1l-0.2 0.9 -1.2 1.1M358.8 97.9l-0.8 -0.2 -0.9 -0.0M392.9 80.8l-1.5 0.7 -1.2 -0.0M343.2 36.7l1.0 -0.9 1.1 -1.0M379.1 80.6l-0.4 -1.5 -0.9 -0.4M386.4 140.9l0.8 0.4 1.1 0.3M324.1 112.7l0.3 -0.7 -0.2 -0.9M345.3 110.3l1.5 0.6 1.4 0.8M404.8 131.1l-0.7 0.3 -1.6 0.3M261.6 134.4l0.4 1.1 1.0 0.6M286.7 65.2l-0.7 0.6 -1.4 -0.1M259.4 85.5l1.4 0.4 1.3 0.6M387.4 38.7l0.6 1.4 0.6 0.4M277.1 45.1l-0.0 1.0 -0.6 0.7M362.5 44.2l0.9 0.3 0.6 -0.4M260.7 41.7l0.8 0.1 1.1 -0.7M332.3 89.4l-1.3 -0.5 -0.6 -1.4M277.9 117.4l-1.3 -0.8 -0.5 -0.7M260.8 73.2l0.0 -0.6 0.9 -1.0M400.2 141.2l-0.9 -0.5 -0.2 -0.8M260.9 105.1l0.9 1.1 1.0 0.9M350.7 96.1l1.2 0.8 1.0 0.1M386.1 106.2l0.5 1.0 -0.1 1.6M369.0 121.3l-0.3 0.6 0.2 0.6M309.1 136.2l1.1 0.5 0.9 1.4M381.5 51.0l-1.5 -0.2 -0.8 -1.0M328.4 72.8l-0.5 -0.4 -1.1 -0.6M327.7 76.1l1.3 -0.5 1.7 0.2M261.5 30.4l-1.2 0.3 -0.9 0.7M257.8 93.7l-0.9 -0.0 -0.8 0.2M358.2 140.1l0.0 1.1 0.4 0.8M301.9 41.0l0.6 0.2 0.8 1.1M352.1 141.6l-0.2 -1.6 -1.0 -1.3M248.1 89.2l1.3 0.4 1.5 -0.2M351.5 42.6l0.2 0.7 1.3 0.8M404.8 68.4l0.6 0.4 0.7 -0.2M336.7 121.2l-1.0 -0.2 -1.4 0.0M320.3 37.9l0.6 0.2 0.7 0.5M397.0 89.5l-0.7 -0.4 -0.9 0.3M373.8 64.2l-0.7 -0.4 -0.4 -0.7M261.1 93.7l0.8 0.2 1.0 0.4M354.7 71.5l-1.2 0.8 -0.8 0.3M399.0 100.2l-0.2 -0.7 -0.4 -0.8M311.6 27.2l-1.1 -1.2 0.1 -0.9M361.0 46.0l-0.4 0.5 -0.8 0.6M371.6 104.9l0.4 -1.0 0.9 -0.5M386.0 28.9l1.3 -0.9 0.6 -0.3M369.5 59.9l-0.7 -0.5 -0.8 -0.1M373.2 27.3l-0.7 1.6 -0.7 0.6M398.9 30.0l-0.3 1.1 0.4 1.4M287.3 82.7l0.0 -1.0 -0.9 -1.4M379.2 49.6l0.6 -0.8 1.0 -0.2M376.1 109.3l0.5 0.4 0.8 0.9M276.9 47.1l0.8 0.8 0.2 0.8M347.5 52.5l0.3 -0.6 0.6 -1.2M351.1 34.3l-0.6 -0.2 -1.0 -1.0M311.1 69.2l-1.3 0.4 -0.6 0.7M357.4 100.2l1.3 0.6 0.9 0.3M307.5 72.3l0.2 -1.4 0.4 -0.9M342.3 55.7l-0.3 -0.6 0.2 -1.0M311.6 90.9l-1.2 0.4 -1.0 0.5M397.5 104.1l-0.5 -0.6 -0.1 -1.5M320.3 52.3l0.8 0.6 0.5 0.7M376.3 28.1l-1.1 0.2 -1.5 0.3M395.3 57.5l0.1 0.6 -0.4 0.5M332.6 125.3l0.1 -1.2 1.3 -1.0M365.6 83.8l1.6 -0.0 0.6 -0.5M253.3 29.3l0.6 -1.2 1.5 -0.3M391.7 107.4l-0.6 -0.3 -1.1 0.1M332.8 135.3l-1.3 -0.9 -1.0 -0.8M364.4 108.0l1.2 -0.3 1.2 -0.5M352.5 27.7l-0.9 -0.9 -0.2 -1.6M360.5 95.4l-0.9 0.3 -1.1 -0.3M367.3 118.7l0.5 1.5 0.1 0.9M319.2 29.1l0.8 -0.6 0.1 -1.1M395.5 40.2l1.6 0.1 1.0 0.9M396.7 119.1l1.3 0.4 0.8 0.1M272.5 51.0l0.6 1.4 0.5 0.7M346.0 118.1l1.3 -0.7 1.5 0.4M248.6 100.7l1.1 -1.2 0.9 -0.9M273.7 82.6l0.8 -0.2 0.9 0.3M321.2 32.5l-0.6 0.5 -0.4 1.3M323.0 42.5l-0.6 -0.1 -0.8 -1.1M360.1 74.1l-0.7 -0.5 -1.0 -0.8M378.8 88.6l0.7 0.2 1.5 0.3M257.0 97.1l-1.2 0.5 -0.8 -0.1M379.7 117.6l0.7 1.1 0.1 1.1M324.4 28.4l0.6 1.5 0.8 0.5M307.6 113.3l1.0 0.6 0.4 1.1"/>
</g></g>
<clipPath id="cp2"><rect x="412.0" y="26.4" width="153.7" height="114.4"/></clipPath>
<g clip-path="url(#cp2)">
<rect x="410.0" y="24.4" width="157.7" height="118.4" fill="url(#bg)"/>
<g filter="url(#soft)" fill="none" stroke-linecap="round" stroke-linejoin="round">
<path stroke="#2848d0" stroke-width="1.7" stroke-opacity="0.88" d="M543.5 62.4l0.0 0.2M443.7 75.2l0.3 0.4M437.8 76.7l0.2 -0.0M487.5 25.6l-0.0 0.1M508.7 136.7l0.2 0.4M467.4 59.9l0.1 -0.1M448.1 115.3l-0.6 0.2M424.3 127.1l-0.4 -0.0M412.1 71.7l-0.4 0.4M454.8 125.1l0.3 -0.5M547.2 76.7l0.5 0.0M460.3 34.3l0.4 0.1M551.5 142.0l-0.2 -0.3M493.3 31.3l0.4 0.4M513.7 32.4l0.0 0.7M427.3 26.3l0.7 0.4M543.9 37.7l0.3 -0.7M488.4 132.7l-0.3 0.2M536.5 38.2l0.2 -0.2M422.0 25.6l-0.7 -0.2M431.9 49.1l-0.0 -0.0M545.4 41.9l-0.2 -0.5M426.4 122.1l0.6 0.1M550.2 99.2l-0.8 -0.2M550.9 71.6l-0.5 0.0M429.7 52.5l0.1 -0.5M470.6 78.7l0.2 -0.1M427.5 88.9l-0.5 0.3M541.7 79.0l-0.0 0.3M435.2 76.4l0.2 -0.7M439.2 103.2l-0.1 -0.1M500.4 123.9l0.0 -0.1M529.5 77.9l0.3 -0.1M480.6 138.6l-0.2 -0.1M538.7 28.7l0.3 0.4M536.7 133.9l0.1 0.7M437.5 111.1l-0.3 0.4M552.0 94.2l0.3 -0.4M548.2 111.3l0.3 0.1M417.7 35.4l-0.1 0.1M562.3 62.2l0.2 0.3M455.2 58.6l0.1 0.7M464.0 120.9l-0.2 0.3M534.7 105.0l0.4 -0.1M567.0 94.7l0.1 -0.5M553.9 61.3l-0.7 -0.3M564.0 92.3l0.3 0.1M548.9 106.6l-0.4 0.4M557.8 134.1l0.1 0.3M432.0 107.5l0.2 -0.5M539.3 51.5l0.1 -0.2M420.1 81.2l0.1 -0.2M456.1 56.8l-0.0 -0.0M464.2 28.0l-0.0 0.0M550.7 84.3l-0.1 0.5M471.4 83.9l-0.2 -0.5M461.2 85.4l-0.1 -0.0M440.8 112.9l0.2 0.4M448.1 27.9l0.5 -0.5M447.8 46.4l-0.2 0.8M438.9 108.8l-0.3 0.2M546.9 84.9l-0.4 0.7M410.2 51.2l-0.3 -0.4M470.8 42.6l-0.2 -0.7M440.4 138.3l0.3 -0.1M443.8 92.0l-0.0 -0.0M562.4 124.2l-0.1 -0.2M567.0 123.4l-0.2 -0.2M485.6 140.2l0.2 0.0M415.8 77.2l-0.0 -0.1M515.3 81.3l0.5 0.3M497.0 58.8l0.3 0.0M488.8 118.0l-0.7 0.0M566.7 29.9l-0.3 0.4M520.5 45.9l-0.4 0.2M473.9 101.9l-0.3 -0.6M555.9 54.8l0.2 -0.7M554.6 56.4l-0.2 -0.4M510.9 63.8l0.1 0.0M442.5 115.5l0.1 -0.1M419.7 64.1l-0.4 -0.2M436.7 125.1l0.4 0.3M548.2 88.6l-0.0 -0.0M440.7 97.0l-0.2 0.4M555.7 30.3l-0.6 0.1M428.9 132.9l-0.2 0.2M547.9 60.2l-0.1 -0.1M545.2 128.7l-0.0 0.5M426.0 38.8l-0.6 0.3M413.6 42.8l0.6 -0.5M423.9 93.2l0.0 -0.1M551.3 136.5l0.2 -0.6M543.4 90.4l-0.2 -0.1M545.0 34.4l0.4 -0.5M507.9 113.0l0.4 -0.7M422.3 135.0l-0.3 -0.6M550.7 124.6l0.2 -0.2M546.0 53.2l-0.0 0.1M529.1 57.2l-0.3 -0.6M535.2 114.6l0.2 0.3M553.9 76.9l0.2 0.1M504.3 98.3l0.5 -0.1M420.3 91.4l0.3 -0.1M452.8 30.0l0.2 -0.4M453.8 119.1l0.0 -0.0M428.0 53.8l0.0 0.0M560.2 129.7l-0.4 0.2M504.3 70.7l0.4 0.3M434.5 120.9l-0.1 0.3M547.8 114.0l0.2 -0.6M567.7 133.6l0.8 0.1M540.0 60.6l-0.2 -0.3M446.2 27.8l0.1 0.0M490.5 39.8l0.2 -0.6M543.9 25.2l0.7 -0.1M548.2 97.5l-0.4 0.2M468.1 80.4l-0.2 -0.8M475.1 46.2l0.2 -0.0M515.8 69.8l0.2 0.6M426.8 29.0l-0.8 -0.1M434.6 98.9l-0.0 -0.2M419.0 136.0l-0.3 -0.3M497.1 63.5l-0.0 -0.1M531.4 29.5l-0.1 0.1M542.1 133.2l-0.1 -0.1M529.0 139.5l0.1 0.0M518.8 54.4l-0.1 -0.8M452.3 62.8l0.0 -0.1M454.0 90.0l0.6 -0.1M481.1 77.0l0.1 0.4M418.2 75.4l-0.2 0.2M442.1 46.6l0.3 -0.1M486.0 71.2l-0.5 0.1M511.2 89.1l-0.6 -0.1M448.6 49.0l-0.0 -0.6M499.0 103.3l0.0 -0.6M458.0 94.6l0.7 -0.4M453.4 25.3l0.2 0.6M528.3 99.7l0.0 0.2M478.7 75.0l0.1 -0.1M534.4 54.6l-0.1 -0.3M518.3 79.2l-0.0 0.2M441.0 90.1l-0.1 0.2M542.2 43.7l-0.1 -0.1M520.4 121.1l-0.6 0.1M483.0 126.8l0.4 0.2M453.5 129.9l-0.3 -0.3M417.6 50.9l0.7 -0.3M533.7 60.5l-0.0 0.5M425.7 109.2l0.0 0.0M488.9 52.9l-0.5 -0.1M530.1 27.0l0.5 -0.2M526.1 76.9l-0.0 0.5M468.2 100.5l0.4 -0.4M538.4 54.4l-0.2 0.2"/>
<path stroke="#1f38d8" stroke-width="1.6" stroke-opacity="0.92" d="M458.5 129.6l0.8 -1.0 -0.1 -0.7M474.8 108.8l-1.2 0.8 -0.7 0.5M495.9 124.2l-0.8 -1.1 -0.5 -0.8M427.5 137.8l0.9 -0.1 1.0 -0.6M516.0 121.6l0.6 0.7 0.2 1.1M457.9 62.4l1.0 0.2 1.0 0.1M423.6 46.3l0.4 -0.9 0.2 -0.9M412.9 107.7l-0.1 1.2 -0.5 1.1M544.8 142.4l0.8 1.0 0.2 1.7M516.5 129.2l-0.8 -0.3 -0.9 0.2M548.8 142.5l-0.9 -0.9 -0.3 -1.2M560.2 65.1l0.9 1.2 0.3 1.3M438.5 95.6l1.1 -1.3 0.3 -0.9M412.2 38.6l0.1 0.9 0.2 1.6M514.8 76.8l-0.5 -1.2 -0.4 -1.4M565.6 52.2l0.6 -0.5 0.4 -0.9M546.8 73.1l-0.8 1.3 -0.4 0.9M446.3 68.2l1.5 -0.4 1.2 -0.9M421.2 48.8l-0.4 -1.4 0.1 -0.8M491.6 73.7l-0.7 0.9 -0.4 0.8M436.3 138.9l0.3 0.6 0.6 1.4M519.4 28.8l0.4 -0.9 0.1 -1.1M452.3 57.6l-0.8 0.1 -1.0 -0.2M415.8 36.9l1.0 0.2 0.9 -0.5M553.8 73.0l0.9 -0.1 1.3 -0.5M497.8 53.1l-1.3 -1.0 -0.8 -1.3M431.5 75.8l0.8 0.9 0.1 0.7M422.9 89.5l1.3 0.7 0.5 0.6M478.2 96.8l0.7 0.3 1.3 0.6M441.7 102.3l-0.0 -0.8 -0.5 -1.3M539.7 110.8l-0.6 -0.8 -0.2 -0.6M477.9 69.5l0.9 1.4 -0.1 1.5M505.9 62.1l-0.5 0.6 -0.1 1.0M541.0 71.5l-0.6 -0.5 -0.9 -0.4M418.2 65.6l0.6 -1.4 0.2 -0.6M496.4 93.8l0.5 1.6 0.5 0.9M413.4 25.8l1.1 0.8 1.2 0.6M446.8 32.8l-0.5 1.4 -0.8 1.2M413.9 30.1l0.8 -0.1 0.6 0.4M412.8 89.7l0.5 0.4 0.8 1.2M437.6 120.3l1.0 0.2 1.0 -0.3M492.7 105.6l0.5 1.3 0.8 1.1M479.4 42.7l0.6 1.0 -0.1 1.1M560.3 122.9l0.4 0.6 0.2 0.8M520.9 90.6l-0.2 0.6 0.5 1.5M496.3 24.7l0.6 1.5 0.0 0.7M508.4 33.2l-0.8 -1.2 -0.6 -0.2M453.1 88.0l-1.0 0.5 -1.0 -0.2M441.9 93.2l-1.1 0.2 -1.4 -0.7M426.9 64.9l-0.4 -1.6 -1.1 -0.9M455.3 37.0l-0.8 1.2 -1.0 0.2M561.4 105.2l1.4 -0.6 1.6 -0.3M437.5 24.8l-1.2 0.0 -1.1 -0.1M521.3 43.4l-1.2 -0.7 -1.3 -0.5M561.7 92.4l-1.4 0.5 -0.3 0.5M421.7 28.7l-1.0 -1.2 -1.3 -0.2M502.7 40.5l-0.3 0.6 0.3 0.7M467.3 141.1l0.9 -0.4 1.2 -0.8M565.1 62.0l-0.9 0.9 -0.7 0.1M522.0 28.8l-0.4 0.7 0.4 1.5M533.1 63.3l-1.5 -0.7 -1.5 0.6M464.5 134.5l-0.0 0.8 0.4 0.8M524.9 120.7l1.4 0.5 1.1 0.1M485.4 114.0l-0.5 1.1 0.2 1.0M527.6 125.8l0.0 1.0 0.5 1.0M429.8 105.3l0.3 -1.1 0.4 -1.3M416.3 67.9l0.2 0.7 -0.1 1.3M475.6 99.2l0.9 0.1 0.9 -0.9M429.0 55.7l-0.3 0.6 -0.9 0.4M483.5 90.5l-0.1 1.0 0.1 1.3M462.1 27.3l0.9 1.0 0.4 1.1M465.4 71.2l-0.3 -0.8 -0.7 -0.6M438.6 69.2l0.5 1.6 0.0 0.8M500.9 46.2l1.0 0.8 0.1 1.5M493.3 39.0l0.7 0.7 1.0 0.5M444.8 45.2l0.5 -1.5 0.7 -1.4M460.1 46.3l1.0 -0.2 1.3 -0.9M490.6 26.1l1.3 1.0 0.3 1.6M491.6 47.0l-1.1 0.3 -0.7 0.2M567.5 106.2l-0.2 -1.3 -1.0 -0.8M470.5 32.1l-0.1 -0.8 -0.7 -1.5M534.1 77.7l-0.9 0.8 -0.2 1.1M443.1 39.9l1.1 -1.1 0.7 -0.7M492.7 59.4l1.6 0.4 1.3 -1.0M455.8 72.1l-0.1 0.8 0.1 0.9M499.1 32.5l-0.4 -0.5 -1.0 -0.8M483.1 137.3l-0.2 0.8 0.2 1.0M454.4 34.3l0.6 -0.8 1.0 -1.2M419.4 25.7l1.2 -0.6 1.1 -0.9M434.2 125.2l0.0 0.8 -0.7 1.2M458.3 74.5l1.2 -0.3 1.2 0.5M457.2 31.1l-0.3 1.4 -0.6 0.8M440.4 70.7l0.6 1.6 -0.5 1.2M560.6 114.3l-0.3 0.8 0.0 0.9M561.2 69.8l-1.3 0.2 -0.8 0.9M473.6 132.3l0.6 -0.3 0.6 -0.8M483.5 129.8l1.6 -0.3 1.0 -1.3M563.2 129.5l0.7 -1.1 0.5 -1.1M467.3 34.3l1.2 0.4 1.4 0.5M499.7 57.1l1.4 0.1 0.8 -0.1M465.1 55.5l1.3 0.9 0.9 1.2M483.1 140.8l1.2 -0.8 1.4 -0.9M533.0 47.8l-1.3 0.6 -1.1 -0.0M535.7 24.4l0.8 -1.0 0.1 -1.0M474.1 69.8l0.4 1.0 -0.7 1.3M557.6 35.5l0.1 -1.3 0.6 -0.6M531.9 133.7l0.4 -1.2 1.4 -0.8M445.0 35.3l-0.9 1.1 -0.8 1.2M414.3 71.4l-0.4 1.1 -0.3 1.3M447.0 72.3l0.3 -1.1 0.7 -0.9M505.0 31.5l1.0 1.0 0.8 0.5M502.0 49.9l-0.4 -1.3 0.4 -1.3M426.0 50.9l1.2 0.8 0.6 -0.1M540.2 90.5l0.9 -0.7 0.5 -1.2M528.2 105.6l0.9 1.4 0.7 1.4M433.9 86.6l-0.0 -0.9 -0.8 -1.2M410.3 68.1l0.1 -0.7 -0.1 -1.6M461.4 68.6l1.1 -0.4 0.8 0.5M498.9 125.9l1.0 -0.3 1.5 -0.5M553.6 44.6l-1.0 -0.4 -1.5 0.7M425.5 140.7l0.9 1.0 0.3 0.6M473.4 59.3l1.4 0.5 0.3 0.6M479.9 34.7l-0.5 -0.3 -1.2 -1.2M469.9 29.1l0.6 -1.5 1.2 -0.7M515.0 109.5l0.3 1.6 0.3 1.5M486.6 87.0l1.6 0.0 0.6 0.2M468.6 46.9l1.0 0.5 1.5 -0.5M527.4 93.7l1.0 1.4 0.1 0.6M458.9 37.8l1.3 -0.3 0.7 0.4M494.5 139.2l-0.2 0.6 -0.9 0.7M510.7 96.3l1.0 0.4 1.0 0.1M516.2 61.4l0.6 -0.4 0.8 -0.1M535.5 69.2l1.4 -0.4 0.7 0.3M453.1 69.5l1.2 1.0 0.8 1.0M529.9 55.1l0.4 0.5 1.4 0.0M523.0 41.0l0.5 -1.4 0.2 -1.7M495.4 46.7l-0.2 1.3 -0.9 0.7M565.3 109.4l1.6 0.6 0.8 -0.3M477.8 141.7l1.3 0.0 0.6 -0.6M434.7 46.5l-0.2 -1.3 -1.0 -1.2M514.0 97.3l0.2 -1.7 0.7 -1.5M449.8 131.6l-0.6 -0.7 -1.4 0.1M443.7 85.6l1.6 -0.4 1.2 -0.9M429.1 119.4l-1.0 -0.3 -1.4 -0.2M475.4 66.9l-1.0 0.7 -0.4 1.0M449.1 74.0l0.5 -1.4 -0.5 -1.6M413.3 52.8l0.6 0.8 0.4 1.1M501.2 134.3l0.7 0.3 0.8 -0.3M422.9 121.4l1.2 0.7 0.3 1.5M429.8 87.3l-0.3 0.6 -1.3 0.9M443.0 53.8l1.2 -0.3 0.5 -0.5M460.9 74.5l-0.1 1.2 -0.3 1.6M419.0 29.6l1.5 0.6 0.4 1.0M500.6 66.2l-0.5 0.3 -0.1 0.9M447.6 53.4l0.6 -1.1 1.0 -0.8M450.9 104.1l1.3 -0.1 0.8 -0.8M441.7 77.5l0.1 -0.7 0.8 -0.7M479.9 80.3l-0.5 -0.5 -0.0 -0.8M446.5 60.4l-0.6 -0.1 -0.5 -0.7M416.6 126.4l-1.1 0.0 -0.8 -0.8M564.7 68.3l-0.5 0.9 -1.5 0.5M556.5 51.9l-0.8 0.8 -0.7 0.0M510.2 77.1l0.5 -1.4 0.6 -0.9M466.9 36.1l0.7 0.3 0.4 1.0M482.5 56.5l0.9 1.1 1.0 0.8M566.4 27.6l0.6 0.2 0.9 1.0M546.7 106.7l0.4 -0.7 0.0 -0.6M522.1 83.3l0.5 1.2 0.5 0.5M425.9 67.1l-1.5 0.3 -1.2 -0.3M439.2 27.1l-0.8 1.0 0.2 0.9M446.0 26.0l0.7 -0.2 0.6 -1.1M483.7 36.1l-0.8 -0.1 -0.9 0.6M499.3 59.3l-1.1 0.1 -1.1 -1.0M492.5 131.7l-0.9 -0.8 0.1 -1.6M536.3 88.2l-1.2 -1.0 -0.6 -1.1M415.2 94.9l0.4 0.8 0.1 1.0M417.5 58.1l-0.2 -1.5 0.4 -0.8M532.6 120.9l0.8 0.5 1.0 -0.3M420.6 112.5l0.8 -0.9 0.4 -0.6M522.9 32.5l0.1 -0.8 -0.3 -0.8M552.6 57.0l0.9 -0.1 0.9 0.8M534.6 128.3l0.9 -0.3 1.0 -0.2M414.7 114.9l-0.7 -0.7 -0.8 0.0M479.6 126.0l-0.5 0.8 -1.4 1.0M415.1 61.8l1.4 0.2 0.9 1.2M557.2 140.9l-0.2 -1.1 -0.3 -1.3M548.1 67.8l0.6 0.3 0.7 1.1M506.2 35.2l1.6 0.2 1.6 0.3M502.3 139.6l0.8 -0.7 1.4 -0.3M506.2 44.9l-0.3 0.5 -1.2 0.8M431.6 77.6l0.5 1.3 0.3 1.0M437.2 132.8l-0.9 1.0 -0.5 0.9M463.9 33.7l0.7 -0.2 0.8 -0.4M452.1 85.8l-0.6 0.6 -0.4 0.9M544.7 122.4l-0.8 0.3 -1.3 0.8M460.5 81.4l-0.8 -1.1 -0.7 -0.5M465.8 85.9l-1.0 -0.8 -0.7 -1.5M413.3 109.7l-0.1 -1.7 0.3 -1.1M525.7 142.2l0.6 0.8 0.7 0.3M476.6 41.2l-0.5 1.5 0.4 1.0M520.7 25.3l-0.9 -0.5 -0.7 -1.3M487.5 38.4l0.9 1.4 0.8 0.8M418.1 112.1l1.4 0.5 0.6 0.0M560.9 125.9l-1.0 0.9 -1.0 -0.0M566.0 140.5l-1.0 -1.0 -1.2 -0.3M428.6 75.8l0.6 0.2 1.3 -0.2M539.6 66.3l-0.3 -1.2 -0.1 -0.7M532.6 70.1l-0.3 0.6 -0.7 0.4M510.4 47.5l-0.8 0.2 -0.6 0.9M544.8 110.6l-0.7 -0.4 -1.5 0.6M484.3 58.3l-0.7 0.2 -0.6 1.3M437.8 82.0l-0.6 0.8 0.2 1.6M550.9 77.1l1.0 0.2 1.3 -0.2M476.2 78.7l-0.1 -0.9 0.6 -0.6M560.2 55.8l-0.7 -0.4 -0.8 -0.4M444.9 38.8l1.2 0.3 0.7 -0.2M502.0 113.6l-0.0 -1.0 0.0 -0.6M499.4 29.6l0.1 1.1 0.1 1.3M413.0 76.7l-1.1 -0.9 -1.3 0.2M447.6 79.5l0.3 -0.6 -0.2 -0.6M567.5 31.8l0.5 1.5 -0.4 1.4M434.7 127.9l-0.7 -1.3 0.2 -1.7M457.7 133.6l0.4 0.9 -0.3 0.7M410.7 63.2l-0.3 -1.2 -0.1 -0.8M565.2 39.4l0.9 -0.6 1.0 -0.0M481.1 103.3l-0.3 -0.6 -0.5 -0.8M413.0 91.7l0.6 -1.0 0.1 -0.8M469.7 63.9l-0.5 0.7 0.1 0.7M557.2 79.3l0.5 -0.3 1.0 0.0M462.7 113.7l-0.3 1.3 -0.7 0.6M427.7 78.7l-0.5 -0.7 -0.0 -1.2M477.3 36.8l1.2 0.4 0.9 1.2M429.9 131.0l0.8 -0.8 0.4 -1.0M565.0 83.5l-0.4 1.3 -0.8 1.1M450.4 110.2l0.5 1.3 0.6 0.3M521.6 128.2l-1.2 -0.1 -0.8 -0.7M468.9 70.0l-1.0 -0.4 -0.9 0.2M497.7 86.1l-0.2 -1.4 -0.6 -0.7M523.4 45.6l-0.6 -0.4 -1.0 -0.7M542.7 30.4l0.6 0.2 0.4 1.4M539.2 107.6l-0.6 -0.9 -1.0 -0.7M488.8 68.0l0.2 1.3 -0.4 0.6M454.1 66.6l-0.6 0.3 -1.0 -0.4M460.4 109.0l-0.0 0.7 -0.1 1.2M567.0 25.3l-0.8 1.0 -0.7 0.2M547.8 35.2l-0.3 -0.7 -1.1 -1.1M518.2 91.1l0.2 -0.7 0.5 -0.9M524.0 27.0l-0.2 0.9 -0.2 0.8M475.4 30.7l1.3 0.7 0.7 0.3M509.1 131.3l0.7 0.4 0.5 0.5M560.7 138.1l1.0 -1.0 0.8 -1.4M544.5 59.0l0.5 0.6 1.1 0.7M521.1 67.7l0.4 0.9 1.1 0.9M424.8 30.9l-0.8 -0.6 -0.8 -0.6M477.4 130.6l-0.7 0.2 -0.7 1.3M467.4 130.6l-0.8 0.0 -0.6 -0.1M563.2 87.8l1.1 0.9 1.4 0.8M540.4 77.2l1.0 0.4 0.7 0.4M550.0 103.5l-1.2 -0.6 -0.5 -0.9M435.2 101.7l-0.8 0.6 -0.1 0.7M539.7 25.9l-1.6 -0.5 -0.5 -0.4M445.2 96.9l-0.5 -1.6 -0.4 -1.2M450.4 99.4l-0.6 0.2 -1.6 -0.2M540.7 113.3l-0.8 0.4 -1.1 0.7M499.9 90.5l-0.4 -0.5 -0.4 -1.5M439.2 42.9l0.7 -0.6 0.8 -1.2M528.8 49.6l-0.5 0.6 -1.6 0.5M438.8 117.1l0.3 1.5 -0.1 1.6M544.0 56.1l1.0 -1.3 1.2 -0.1M426.3 47.0l-1.3 1.0 -1.1 0.0M423.0 124.5l0.8 0.6 1.5 -0.2M423.7 138.1l0.9 -0.4 1.4 -0.1M422.5 40.0l0.9 -0.7 1.2 -0.1M478.7 100.7l0.2 1.2 0.3 1.4M544.4 96.2l-0.3 -1.7 -0.7 -1.2M555.9 89.9l-1.0 -1.3 -1.2 -0.1M541.3 139.3l0.9 -0.8 1.2 0.0M449.1 61.9l1.2 1.1 0.9 0.8M548.6 94.8l0.5 0.4 0.6 0.2M489.8 36.1l-1.0 0.1 -1.1 1.1M553.7 88.7l-0.2 -1.0 0.0 -1.0M562.2 30.8l1.4 -0.8 0.8 0.1M532.1 130.3l-0.7 -0.8 -0.6 -0.3M459.7 25.3l-1.3 1.0 -1.2 0.8M430.0 94.2l1.7 0.0 1.3 0.3M420.3 84.5l0.1 0.9 0.7 1.2M421.6 129.9l0.6 -0.1 1.6 0.4M560.0 35.0l1.3 0.7 0.4 1.5M427.6 43.9l-0.4 -0.6 -0.2 -0.6M534.3 107.8l-1.6 0.2 -1.1 0.8M454.8 83.3l0.7 -0.5 1.0 -0.6M450.6 67.3l-1.5 -0.7 -0.2 -1.0M440.6 30.1l0.9 -0.4 1.4 -0.5M495.8 49.1l0.7 0.8 0.4 0.4M426.0 96.5l-0.2 0.8 0.3 1.1M475.9 127.9l-1.3 1.0 -0.6 0.8M471.2 58.1l1.0 0.6 0.9 0.7M490.8 65.9l1.0 1.4 0.0 0.9M463.5 136.9l1.2 -1.0 0.7 -0.8M551.4 54.6l-0.3 -1.1 -0.5 -0.5M446.2 49.5l-0.7 1.2 -0.1 1.7M436.0 44.6l-0.6 -0.2 -0.7 -1.1M444.2 48.9l-0.6 -0.0 -1.2 -0.7M537.4 121.2l-0.2 -1.3 -0.4 -0.7M470.4 75.2l0.6 -1.1 0.4 -1.1M550.4 63.8l-0.8 0.1 -0.8 -0.6M534.6 134.8l1.2 -1.2 0.2 -0.8M543.8 131.9l-0.3 0.8 -0.0 1.4M421.6 52.8l0.1 -0.9 -0.1 -1.3M509.6 128.0l-1.4 -0.8 -0.3 -0.6M523.2 62.8l0.1 0.9 -0.4 1.1"/>
<path stroke="#2440a4" stroke-width="1.6" stroke-opacity="1" d="M541.8 130.2l0.0 -0.0M537.0 65.8l-0.1 -0.2M468.0 27.5l0.1 -0.0M485.2 104.4l-0.1 0.0M536.7 108.9l-0.1 0.2M458.1 34.8l0.0 -0.2M521.8 49.9l0.0 -0.0M487.9 135.8l0.0 0.1M514.8 27.6l-0.1 -0.1M556.3 47.1l-0.0 -0.0M418.7 33.8l0.1 0.1M465.2 105.0l0.1 0.1M431.2 38.7l-0.2 -0.0M495.9 132.4l-0.1 -0.2M484.3 122.6l0.0 -0.0M446.9 103.4l0.0 0.0M417.1 52.8l0.1 0.0M492.6 87.1l0.1 -0.1M498.6 136.6l-0.2 0.1M473.9 26.4l-0.2 -0.2M426.9 91.0l0.0 0.0M492.5 119.5l0.0 0.0M565.7 119.6l0.0 -0.0M530.3 95.3l-0.0 0.0M527.3 67.4l-0.2 0.0M553.3 40.4l-0.0 0.0M552.5 109.0l0.2 0.1M486.0 48.2l0.1 -0.1M413.9 136.1l0.2 -0.1M491.9 35.8l-0.0 0.0M526.6 140.1l0.0 0.0M520.6 142.1l-0.1 -0.2M448.1 141.0l0.0 -0.0M567.3 112.2l0.2 0.1M546.1 104.2l0.0 -0.2M416.9 116.1l0.1 0.0M425.4 76.6l0.1 0.0M562.9 95.4l0.2 -0.2M526.8 122.9l0.1 -0.2M501.0 73.9l-0.0 -0.1M439.5 92.7l-0.0 -0.1M437.3 58.4l0.0 0.1M494.3 50.9l0.1 -0.0M501.8 26.5l0.1 0.0M487.8 54.9l-0.0 -0.1M539.1 132.1l-0.1 0.2M524.8 69.1l-0.1 0.2M424.6 72.1l0.3 0.0M502.8 117.9l-0.1 0.2M440.9 121.9l-0.1 -0.0M469.1 117.5l-0.1 0.2M484.2 66.8l0.1 -0.2M411.0 47.3l0.2 0.2M430.0 80.2l-0.1 0.0M472.8 127.1l0.1 0.0M452.1 116.9l-0.0 -0.0M506.9 100.3l-0.1 -0.1M481.3 84.5l0.0 -0.0M476.5 26.5l-0.1 -0.0M428.9 47.7l-0.0 0.0M492.2 125.9l0.0 -0.1M489.1 121.2l-0.2 0.1M432.6 28.3l0.0 -0.0M531.3 51.3l0.0 0.1M496.5 27.3l-0.0 -0.1M411.5 121.1l-0.3 -0.1M551.6 116.5l0.0 -0.0M454.4 97.6l-0.0 0.0M525.9 132.0l-0.2 0.1M481.3 72.4l0.0 -0.0M489.3 47.5l0.0 0.2M443.5 131.5l0.2 -0.2M456.3 84.9l-0.2 -0.0M492.3 116.0l0.0 0.0M450.7 141.1l0.2 -0.1M538.5 101.2l0.0 -0.1M511.1 142.5l-0.3 -0.0M475.5 75.7l-0.1 -0.0M429.9 127.2l-0.2 0.0M466.5 125.0l-0.0 0.1M517.1 50.4l-0.2 -0.0M560.2 24.5l0.0 -0.0M538.2 87.0l0.2 -0.1M530.5 97.9l0.2 -0.0M498.3 42.9l0.3 -0.1M450.5 31.2l-0.1 -0.1M436.0 97.3l0.2 -0.0M485.0 50.6l-0.1 -0.0M472.4 124.0l0.1 -0.0M562.8 83.4l0.0 0.0M553.3 67.9l0.1 0.1M476.7 29.2l0.2 0.2M440.0 80.7l0.2 -0.2M504.7 28.5l0.0 0.1M489.1 95.1l0.0 0.0M512.4 132.6l0.1 0.1M521.8 77.9l0.1 0.3M505.8 50.5l0.2 0.1M484.3 94.2l-0.1 -0.1M565.0 95.4l0.0 0.0M546.5 38.7l-0.1 0.1M496.0 70.8l-0.1 0.1M466.7 118.9l-0.1 0.1M413.7 57.8l-0.2 0.1M546.6 32.1l0.2 -0.1M419.5 131.6l-0.1 -0.1M544.8 137.0l-0.2 -0.0M554.5 64.3l-0.0 0.0M465.6 59.0l-0.2 0.1M490.2 56.8l-0.0 0.1M465.4 79.0l0.2 0.2M563.1 42.0l-0.0 -0.0M419.0 60.9l-0.0 0.0M420.6 41.5l-0.1 -0.1M538.9 85.0l0.1 -0.0M415.4 52.5l0.0 0.0M447.3 92.9l-0.1 -0.2M428.1 86.0l0.2 0.0M500.9 127.1l-0.0 0.0M467.0 65.6l0.0 0.0M428.6 27.6l-0.0 -0.0M468.9 113.5l-0.0 0.0M528.6 70.0l-0.0 -0.1M425.3 42.1l0.1 0.0M542.9 124.3l0.2 0.1M451.3 47.2l-0.1 -0.2M558.2 138.8l-0.0 0.0M563.9 49.4l-0.0 -0.0M533.0 111.1l-0.3 0.0M469.5 137.8l0.1 0.1M547.2 119.1l-0.1 0.0M455.0 111.3l0.0 0.1M548.0 26.0l0.0 -0.2M505.4 114.0l-0.0 -0.1M468.7 107.1l-0.1 -0.0M442.5 29.1l-0.2 0.1M449.3 45.0l-0.1 -0.1M458.0 80.6l0.1 -0.2M494.9 59.6l-0.2 -0.1M528.1 25.6l-0.0 -0.0M479.1 60.0l0.0 -0.0M477.1 50.1l-0.0 -0.1M445.7 94.4l0.1 0.0M501.3 105.3l0.1 -0.2M430.9 111.3l0.0 -0.0M438.9 124.0l-0.1 -0.1M432.1 44.9l0.0 -0.0M421.6 102.1l-0.0 0.2M481.8 114.7l-0.3 0.1M520.1 114.1l-0.3 -0.1M548.8 43.3l0.2 0.1M521.3 56.5l0.1 0.1M512.7 139.9l-0.2 0.0M502.3 32.6l0.0 -0.1M431.0 30.2l0.0 0.1M437.2 37.6l0.3 -0.1M449.2 38.8l-0.1 0.2M511.5 54.1l0.1 -0.0M413.5 34.5l0.1 0.1M542.9 141.1l0.1 0.3M432.3 87.7l-0.0 -0.0M474.0 130.1l-0.0 -0.0M486.9 33.8l-0.0 -0.2M439.9 101.0l-0.2 0.2M432.1 104.8l-0.2 0.1M517.6 24.6l0.1 0.1M410.8 56.5l0.2 0.1M550.0 57.7l0.1 -0.0M488.3 80.7l0.1 -0.0M513.7 130.8l0.1 -0.2M550.0 45.3l0.0 0.0M524.2 90.2l0.0 0.0M417.1 136.8l0.1 -0.1M511.4 61.3l-0.0 -0.0M473.1 115.8l0.1 0.1M556.0 62.2l-0.0 0.2M555.8 135.8l0.1 -0.1M464.2 30.2l-0.2 0.2M413.5 123.5l-0.3 -0.1M507.5 129.2l0.2 0.0M503.9 47.0l0.3 -0.0M505.6 79.1l0.1 0.1M554.0 115.4l-0.1 -0.1M485.7 53.4l0.0 0.2M457.7 58.6l0.1 -0.1M543.3 47.5l0.1 -0.2M510.7 28.7l-0.0 0.2M559.3 30.7l-0.0 0.2M530.5 110.7l0.1 0.3M511.4 137.5l0.2 0.1M415.4 131.5l-0.0 0.2M419.2 120.5l-0.1 0.0M462.5 122.7l0.1 -0.2M548.4 102.1l0.0 0.0M415.2 141.5l0.1 -0.0M438.6 90.9l-0.0 0.0M534.7 99.1l-0.0 0.0M507.2 56.8l-0.1 -0.2M528.4 91.4l0.0 0.0M566.1 88.1l-0.1 0.3M420.5 133.7l0.1 0.1M485.8 126.3l0.1 0.0M541.1 40.3l-0.0 -0.1M445.7 109.6l0.1 -0.1M426.2 126.0l0.2 0.1M500.7 77.5l-0.2 0.0M529.8 102.3l0.0 -0.1M433.8 73.4l0.0 -0.3M471.0 129.7l0.1 0.2M420.3 116.3l0.1 -0.1M489.8 137.0l0.3 0.0M525.1 52.2l-0.0 0.2M498.7 45.2l-0.3 -0.1M491.1 84.8l0.0 -0.0M466.1 24.6l0.2 -0.0M471.6 37.7l0.1 -0.2M446.1 136.7l-0.3 -0.1M484.1 47.0l-0.0 -0.0M486.5 82.3l-0.1 0.1M526.8 62.2l0.0 -0.2M502.0 137.0l0.1 0.2M456.4 101.5l-0.0 0.2M444.2 68.7l0.1 -0.1M471.2 104.6l0.0 -0.1M520.0 86.0l0.1 -0.1M490.3 128.8l0.0 0.2M432.0 32.4l-0.2 -0.1M453.6 132.4l0.3 -0.0M456.9 88.5l-0.2 0.0M542.4 84.8l-0.1 0.2M532.1 118.5l0.1 0.2M494.1 133.7l-0.2 -0.2M413.0 129.9l-0.1 -0.2M560.8 99.8l0.0 -0.0M449.8 118.2l-0.2 -0.2M449.6 36.8l0.1 0.1M448.9 55.0l-0.2 -0.1M493.6 64.6l0.0 0.0M462.6 51.2l0.3 -0.1M462.5 63.2l0.2 0.2M515.3 72.8l-0.1 0.0M451.7 52.2l0.0 0.0M459.0 111.1l0.2 -0.1M474.2 72.4l0.2 -0.2M546.9 65.8l-0.0 -0.0M425.5 81.1l-0.0 0.0M462.3 82.6l0.3 0.0M458.8 91.2l-0.1 0.0M540.6 34.4l-0.1 -0.1M505.4 82.0l-0.1 -0.2M450.2 64.6l0.1 -0.2M418.8 95.0l0.2 -0.1M539.6 120.2l0.2 0.0M410.7 87.1l-0.2 -0.1M561.2 52.1l-0.1 0.0M534.8 49.5l-0.2 -0.0M563.3 113.8l-0.0 -0.0M428.3 96.6l-0.1 -0.1M479.4 88.2l-0.1 -0.1M482.1 69.1l-0.1 -0.1M449.3 126.0l-0.0 -0.1M528.7 112.1l0.2 -0.1M435.6 35.0l0.3 0.1M534.9 123.6l0.1 -0.2M483.3 79.9l-0.1 -0.3M443.0 117.8l-0.2 0.1M473.3 42.0l0.0 -0.0M466.4 47.5l-0.1 0.1M466.6 95.4l-0.0 0.2M422.1 65.6l-0.3 0.1M518.1 139.7l0.2 -0.2M506.8 93.5l0.2 -0.2M519.1 119.1l-0.1 0.1M465.1 44.2l-0.1 -0.1M439.9 77.1l-0.2 -0.0M526.9 36.9l0.2 -0.2M518.7 81.4l0.0 -0.1M567.0 47.7l0.0 0.2M554.8 110.5l0.0 0.0M438.6 113.2l-0.1 0.2M551.9 112.2l0.3 -0.1M519.4 109.3l-0.2 -0.2M538.2 47.3l0.0 0.0M494.6 110.5l0.3 -0.0M513.8 44.4l-0.0 0.0M424.2 117.8l-0.2 0.0M534.5 85.6l-0.0 -0.2M512.7 52.0l-0.1 0.2M520.2 35.9l-0.2 0.1M524.5 60.2l0.1 0.0M512.8 82.4l-0.0 -0.2M508.5 83.8l0.1 0.1M539.4 142.4l0.1 0.3M517.3 36.1l0.0 -0.0M496.9 91.4l0.0 0.0M436.9 72.4l0.1 -0.1M451.4 83.4l0.0 0.2M492.8 33.4l-0.0 -0.1M453.4 72.1l0.0 0.0M493.2 137.2l0.0 0.0M491.1 49.3l0.1 -0.2M532.2 126.6l0.0 0.0M489.0 100.1l0.1 -0.3M466.1 136.6l0.0 -0.0M500.2 81.2l-0.0 -0.0M552.5 74.6l0.0 0.1M557.7 40.9l-0.1 -0.2M561.0 86.1l0.1 -0.1M485.9 101.5l-0.1 0.1M559.0 52.8l0.0 0.0M533.7 45.7l0.1 -0.1M456.7 45.7l0.1 0.1M526.3 116.1l0.1 -0.0M531.2 86.3l-0.3 0.0M554.6 78.9l0.1 0.0M541.1 82.2l-0.2 -0.0M416.0 105.0l0.0 -0.1M539.5 99.2l0.0 -0.1M411.3 110.2l-0.2 -0.2M436.1 27.9l-0.1 0.1M412.1 58.7l0.0 0.1M489.3 72.0l0.0 -0.2M548.5 139.9l0.2 -0.0M455.6 93.7l-0.1 0.1M454.0 134.8l-0.2 -0.2M446.0 91.1l-0.0 0.0M540.2 135.3l0.0 0.1M558.4 103.7l0.1 0.2M549.4 117.2l0.3 -0.1M557.0 116.3l-0.2 -0.0M505.0 74.5l0.0 0.0M485.1 99.1l0.1 0.2M565.0 127.4l0.1 -0.3M538.1 32.6l0.0 -0.0M544.2 44.6l-0.2 -0.2M529.6 31.3l0.1 -0.1M445.7 113.3l0.0 -0.0M523.6 105.8l-0.2 -0.2M450.4 136.1l-0.1 -0.1M520.7 48.1l-0.2 0.1M437.6 129.6l-0.0 0.0M525.3 109.0l0.0 -0.2M512.5 109.4l-0.2 0.1M414.1 78.3l-0.0 0.1M429.8 114.6l0.1 -0.1M496.0 42.0l-0.1 0.2M527.3 44.6l-0.0 0.0M437.8 140.7l0.0 0.0M442.0 141.4l-0.2 0.1M465.0 83.4l-0.2 0.1M424.3 55.1l-0.2 -0.1M535.2 40.1l-0.0 -0.2M510.3 99.4l0.1 0.1M465.6 108.9l-0.0 -0.0M487.2 29.7l-0.2 0.0M562.7 57.9l0.0 -0.0M428.2 110.1l-0.0 0.2M440.0 135.5l-0.1 0.0M565.7 55.8l-0.1 0.3M506.8 132.3l0.2 -0.3M424.6 113.5l-0.0 -0.0M553.9 92.3l0.1 0.1M533.7 74.7l-0.0 -0.0M524.8 64.5l0.0 0.0M505.3 121.5l0.1 -0.0M466.9 138.7l0.0 0.0M521.8 59.5l-0.1 -0.1M476.9 118.2l-0.1 0.0M545.9 55.3l0.2 0.1M484.0 111.8l0.3 0.0M553.1 48.2l0.2 -0.2M458.2 117.2l0.0 -0.0M556.1 104.1l0.1 0.2M438.8 105.4l-0.3 0.1M432.6 142.5l-0.1 -0.0M466.0 89.6l-0.0 -0.2M415.8 24.9l0.1 0.1M446.6 142.6l0.2 0.2M443.0 88.8l-0.1 -0.3M425.7 129.8l-0.1 -0.0M435.2 105.4l0.1 -0.2M471.8 109.0l0.1 -0.0M413.8 49.7l0.1 -0.0M535.4 117.9l0.2 0.1M560.1 39.9l-0.0 0.0M482.3 109.2l0.1 -0.2M526.5 136.0l-0.0 -0.2M454.0 61.9l-0.1 0.1M439.5 24.5l0.0 0.0M415.9 87.2l-0.0 0.1M436.5 31.1l-0.0 0.1M498.8 67.4l0.2 0.1M479.8 130.7l0.1 0.1M517.0 65.6l-0.1 0.1M564.6 32.6l0.1 0.2M488.3 104.0l-0.0 -0.0M527.6 46.9l-0.1 -0.0M469.5 44.6l0.2 0.1M505.4 136.5l-0.1 -0.2M545.4 74.9l0.1 0.1M510.5 49.8l-0.1 0.2M531.7 32.4l-0.1 -0.0M482.0 64.6l0.1 0.0M472.3 138.4l0.2 -0.2M490.6 110.4l-0.1 0.0M527.9 133.0l-0.3 0.1M510.7 117.2l-0.1 -0.0M513.5 125.0l-0.0 0.1M547.1 44.6l0.1 -0.0M505.9 59.5l0.1 -0.1M497.6 142.2l-0.0 0.1M518.0 73.7l0.1 0.1M474.4 137.6l-0.1 0.1M525.6 103.1l0.0 0.0M419.7 66.8l-0.3 -0.0M491.1 133.4l0.2 0.3M484.6 64.3l0.0 0.0M419.8 100.4l0.1 -0.1M459.2 72.0l0.0 0.1M428.8 135.5l-0.2 -0.2M469.8 122.4l0.0 0.1M477.8 92.2l-0.0 0.1M469.5 48.7l-0.0 0.2M531.7 93.4l-0.2 0.0M558.4 71.8l0.1 0.0M457.9 105.7l0.0 -0.0M508.5 36.9l0.1 0.2M461.8 119.0l0.0 0.0M461.1 61.7l-0.1 0.0M536.8 50.8l-0.0 0.0M545.8 63.4l0.1 -0.2M496.2 118.2l0.0 0.1M510.9 111.4l0.0 0.0M495.4 38.3l-0.0 -0.0"/>
<path stroke="#1a30d4" stroke-width="2.2" stroke-opacity="1" d="M415.2 46.4l-1.6 -0.4 -0.5 -0.2M463.1 42.5l1.4 -0.4 1.1 0.1M431.2 69.8l-1.3 0.2 -1.4 0.5M433.6 62.8l-0.6 0.3 -1.6 -0.0M444.9 76.8l0.3 1.5 -0.2 0.9M416.8 60.2l-0.4 0.5 -0.9 0.2M429.1 35.0l-1.1 -0.6 -0.3 -0.9M442.9 56.4l1.1 0.8 1.2 1.1M456.2 113.6l-0.4 -0.4 -1.3 -0.9M434.2 51.9l-0.3 -0.9 0.4 -0.7M434.8 30.4l0.7 0.9 1.3 1.3M563.3 108.9l-1.2 -1.0 -1.0 0.0M429.5 64.7l1.1 1.1 -0.0 1.0M412.4 133.9l-0.7 0.3 -1.3 0.2M470.7 141.3l0.8 -1.6 1.0 -0.4M454.9 51.1l0.3 1.2 0.5 1.4M413.9 37.8l0.6 -1.7 0.3 -1.5M417.8 27.8l1.3 -0.7 0.6 -0.8M453.1 46.4l-0.5 -0.9 0.4 -1.6M420.5 75.8l-0.5 -1.0 0.2 -0.6M553.5 119.9l-0.3 -1.1 -0.1 -0.6M518.8 105.7l1.5 -0.9 0.6 -1.1M425.4 62.6l1.2 -0.3 0.9 -0.3M554.6 83.1l-0.6 -1.1 -0.1 -0.7M559.1 68.1l0.0 0.5 0.5 0.8M413.2 65.6l-0.3 1.6 -1.3 0.7M507.9 123.8l1.5 0.7 0.6 0.6M561.5 37.8l0.9 -0.7 1.1 0.1M414.3 41.0l-1.3 -1.2 -0.9 -0.1M498.0 133.2l0.7 1.6 0.6 0.6M431.0 61.4l-0.3 -1.7 0.6 -1.0M413.5 101.2l-0.3 -0.5 -1.4 -0.9M411.0 114.7l-1.4 -0.0 -1.4 0.0M415.7 92.3l1.7 -0.1 1.4 -0.7M560.7 96.3l-1.2 0.1 -1.2 1.0M433.3 117.7l0.5 -1.0 1.2 -1.2M565.7 103.4l-0.1 -0.7 0.5 -1.3M450.3 90.9l0.4 -0.3 0.5 -1.1M423.6 48.9l0.1 0.8 -0.1 0.5M439.7 31.7l0.2 -0.6 -0.3 -1.7M423.8 63.6l1.7 -0.4 1.1 0.2M537.6 68.2l-0.3 1.3 -0.7 1.4M410.7 75.7l-1.3 -0.8 -0.7 -0.3M419.1 78.9l-0.6 -1.3 0.4 -0.8M532.9 35.7l-0.6 -0.4 -0.6 -1.0M446.0 42.3l1.4 -1.2 0.5 -0.1M536.6 81.3l0.7 1.5 0.6 1.1M458.3 39.6l0.6 -0.8 0.6 -1.3M433.8 57.0l-1.7 0.0 -0.6 0.4M545.3 112.7l-0.8 1.2 -0.4 1.5M416.6 102.3l-0.1 1.0 0.5 0.5M433.8 137.4l1.4 -0.5 1.4 -0.7M483.0 26.5l1.0 0.7 0.2 1.7M533.9 37.8l-0.6 -0.7 -1.8 -0.1M432.7 41.5l-1.3 -0.6 -0.5 -0.6M449.4 58.7l-0.3 -1.6 -1.4 -0.8M560.2 58.9l-1.3 0.2 -1.7 0.4M522.3 123.3l0.4 -0.6 1.5 -0.9M423.1 33.2l-0.3 0.6 0.0 0.8M451.6 94.0l-0.6 -0.9 -0.6 -0.6M484.6 38.2l1.6 -0.6 1.2 0.1M561.0 79.9l0.9 0.6 0.9 0.4M444.5 57.4l-1.4 -0.1 -0.7 -0.8M438.4 53.3l0.8 -0.9 0.0 -0.8M459.6 44.1l-0.7 -0.7 -0.5 -0.9M513.8 40.4l-0.9 0.7 -0.9 1.2M421.6 36.2l-0.1 -0.9 1.0 -1.3M526.0 25.8l1.3 -0.9 1.3 0.0M411.1 35.0l-0.7 -0.4 -1.1 -0.0M471.7 61.5l-0.0 -0.8 0.3 -1.7M511.6 42.4l0.8 -0.8 0.4 -0.5M426.6 103.7l-1.1 -0.3 -1.2 0.3M531.0 82.2l1.2 -0.4 0.9 -1.0M460.2 104.5l-0.6 1.0 -0.1 1.2M417.9 48.5l-0.6 -0.4 -1.5 -0.9M474.3 121.3l-0.8 -1.1 -1.4 -0.3M472.9 52.3l-1.1 0.7 -1.5 0.7M481.6 133.8l0.8 -0.7 0.5 -0.7M421.7 55.8l0.4 -0.4 1.4 -0.1M448.7 69.4l-0.9 1.0 -1.5 0.6M436.9 41.6l0.7 -0.7 0.7 -1.2M454.3 53.0l-1.3 -0.1 -1.2 -0.0M544.1 135.0l-0.7 0.2 -0.6 -0.0M422.5 76.6l-0.9 -0.2 -1.6 -0.3M474.8 134.9l-0.6 -0.0 -1.1 -0.9M556.1 87.5l0.4 1.3 -0.3 0.6M417.1 42.4l0.6 0.3 1.2 -0.3M554.9 66.5l-0.6 0.1 -1.0 0.4M524.4 118.2l0.2 -1.0 -0.2 -0.7M549.1 31.5l0.1 -0.9 -0.4 -0.4M524.0 39.2l0.7 0.0 1.3 -0.1M504.8 37.0l-1.1 0.8 -0.9 -0.1M478.4 39.5l1.6 -0.1 0.7 -0.3M442.0 33.9l-0.7 -0.4 -0.7 -0.6M546.3 140.5l0.2 -0.5 0.2 -1.1M526.3 98.0l-0.6 0.1 -0.5 0.5M462.1 140.7l-0.9 0.1 -0.8 -0.3M437.1 94.0l0.6 0.4 0.7 1.6M566.8 74.8l0.0 1.7 1.0 0.9M471.1 35.4l0.0 0.6 1.0 0.9M544.3 115.3l-0.3 0.5 -1.3 0.9M544.3 81.2l-1.3 1.1 -0.4 0.8M567.7 54.0l-0.1 0.7 -0.9 1.2M499.3 47.8l0.0 1.4 0.2 0.8M563.1 76.8l-0.9 -0.1 -0.6 -0.2M554.2 140.8l0.1 0.8 -0.2 0.5M514.7 35.4l1.1 0.5 0.5 0.8M418.3 118.6l-1.4 -0.7 -0.6 -0.4M474.8 55.8l0.6 0.5 1.0 1.2M461.5 30.9l0.2 -1.6 -0.0 -1.6M419.2 109.0l0.2 1.8 0.4 0.7M470.1 53.9l0.0 -1.2 -0.3 -0.8M414.5 90.6l1.0 1.0 0.7 1.4M471.1 99.4l0.5 -0.2 0.9 0.4M433.8 131.7l-0.4 -0.5 -1.4 -0.5M442.7 67.5l-0.8 1.4 -0.2 1.5M540.3 56.1l0.3 -0.7 -0.1 -1.5M493.2 42.8l0.5 0.1 0.9 0.9M467.9 25.5l1.2 0.2 1.2 -0.3M437.5 47.4l-0.6 0.8 -0.8 0.3M425.7 57.1l-0.8 0.9 -1.6 0.1M474.2 38.0l-0.5 0.6 -0.2 0.9M471.9 136.1l-1.4 -0.1 -1.6 0.4M561.3 89.1l0.8 1.4 -0.2 0.6M508.3 27.0l-0.9 -1.5 -1.1 -0.7M432.2 122.5l0.7 -0.5 1.3 -0.6"/>
</g></g>
<clipPath id="cp3"><rect x="574.0" y="26.4" width="153.7" height="114.4"/></clipPath>
<g clip-path="url(#cp3)">
<rect x="572.0" y="24.4" width="157.7" height="118.4" fill="url(#bg)"/>
<g filter="url(#soft)" fill="none" stroke-linecap="round" stroke-linejoin="round">
<path stroke="#1f38d8" stroke-width="1.6" stroke-opacity="0.92" d="M597.7 68.9l0.0 0.7 -0.1 1.4M688.7 129.9l1.4 0.9 0.9 0.7M622.3 41.2l-1.5 0.5 -0.6 0.2M728.8 56.8l-1.5 -0.1 -0.8 0.5M595.2 88.7l0.9 0.3 0.7 0.9M635.3 27.4l0.3 1.1 0.7 1.1M590.6 88.2l-0.8 0.1 -1.0 -0.4M592.4 66.8l-0.2 -1.4 0.1 -1.6M610.3 101.6l0.6 0.4 1.3 0.8M650.7 110.7l1.7 -0.2 0.7 0.2M602.6 86.8l0.1 -1.3 -0.1 -1.0M607.7 86.9l1.6 0.2 1.1 0.4M642.9 58.2l0.8 0.7 0.3 0.6M710.7 36.9l-0.2 -0.7 -0.3 -1.6M710.0 99.9l0.7 0.9 0.6 0.7M580.2 107.6l0.9 0.9 0.8 0.4M633.5 136.3l0.6 -1.4 0.1 -0.8M656.1 27.4l1.4 -0.3 0.4 -0.7M627.4 63.8l-0.5 0.3 -1.2 0.2M585.2 118.8l-1.1 -0.5 -0.6 -0.7M592.9 24.4l0.4 -1.1 -0.5 -1.5M723.3 54.7l0.2 -0.6 1.4 -0.9M646.9 121.4l-0.3 -0.8 -1.0 -0.5M710.9 130.2l0.6 -1.3 0.2 -0.6M701.9 139.4l1.1 0.2 1.0 0.2M658.4 33.8l0.7 0.5 1.7 0.1M589.9 92.7l-1.0 0.7 -0.9 0.1M671.3 57.1l-0.2 -1.2 -1.1 -1.3M619.2 139.6l-1.4 -0.1 -1.6 -0.4M619.1 38.3l0.2 0.7 -0.7 1.4M706.7 83.7l0.2 1.1 0.8 1.4M596.3 106.4l-1.2 -0.1 -1.3 -1.0M591.6 61.9l-1.5 0.2 -0.6 -0.4M659.2 109.7l0.0 1.5 0.1 1.4M620.0 54.3l1.1 0.5 0.9 0.1M711.9 33.3l-0.1 -1.3 -0.8 -0.6M597.3 93.1l-0.3 1.6 0.2 0.6M681.8 70.2l1.0 -0.3 1.5 0.5M575.5 61.1l0.9 -1.1 0.4 -0.7M723.0 91.9l0.7 -0.1 0.8 0.3M622.3 137.6l-0.5 0.5 -1.5 0.8M614.4 117.2l1.4 0.4 1.0 -0.6M604.6 85.4l0.3 1.5 0.3 1.3M584.5 37.2l-0.7 0.5 -0.8 -0.0M680.6 28.6l-0.7 0.5 -0.4 0.9M596.8 109.8l0.9 -0.4 0.4 -1.1M594.0 105.9l-1.3 0.3 -0.6 -0.0M594.4 92.5l0.9 -1.1 0.3 -1.0M724.1 46.2l0.4 -0.5 1.0 -0.1M624.9 57.2l-0.7 0.6 -0.7 0.3M669.5 63.7l-1.4 0.4 -0.4 0.9M619.8 86.1l1.3 0.5 1.2 -0.6M631.5 128.1l-1.0 0.0 -0.9 -0.5M612.0 34.7l1.0 -0.1 0.6 0.0M636.5 131.6l0.4 1.4 -0.1 1.2M668.1 54.3l0.2 -0.6 0.1 -0.8M593.2 78.7l-1.4 -0.3 -1.0 -1.3M656.0 39.2l0.7 0.2 0.9 -0.2M604.4 40.5l-0.9 -0.4 -1.0 -0.4M666.8 47.6l1.3 0.5 1.3 -0.8M636.1 52.1l0.1 0.7 -0.2 1.2M644.2 113.3l0.8 0.8 0.3 1.6M622.2 140.1l0.8 -0.0 1.2 -0.5M587.1 66.6l1.2 -0.1 1.1 -0.8M710.1 66.2l-0.9 -0.1 -1.4 -0.9M611.8 40.0l0.7 0.9 0.6 1.0M583.4 86.3l0.9 0.3 0.5 0.9M720.5 131.6l0.7 0.1 1.2 -0.1M683.5 30.8l-0.6 -1.2 0.0 -1.2M667.4 118.2l0.9 -0.3 1.3 -0.7M593.3 57.1l0.8 0.2 1.3 0.8M596.8 47.2l-1.4 -0.8 -0.8 -1.1M670.7 42.8l-0.6 -1.3 0.2 -1.5M613.3 106.1l-0.7 0.3 -1.4 0.3M593.8 34.9l0.4 -0.8 -0.4 -1.2M607.8 73.8l1.5 0.8 1.1 0.7M612.0 79.3l0.5 -0.6 -0.1 -1.4M697.0 127.0l-1.5 0.6 -0.5 0.6M719.0 130.0l-1.3 -0.1 -1.0 -1.3M729.2 86.4l-1.0 0.6 -0.2 1.5M695.0 36.1l-0.7 0.7 -0.4 0.9M577.4 52.2l-1.4 0.5 -0.8 -0.4M594.6 36.7l1.2 0.9 0.8 0.6M609.2 115.3l0.5 -0.7 0.9 -1.0M622.7 53.2l-0.2 -0.6 0.0 -0.6M661.8 141.8l-0.7 1.3 -0.5 0.3M645.7 57.0l0.0 0.8 0.3 1.0M707.4 78.1l0.0 1.0 0.2 0.8M702.5 83.4l0.7 0.1 1.1 -0.9M621.5 68.2l0.6 0.8 0.6 1.3M603.3 30.2l1.1 1.2 1.5 0.4M604.6 70.5l-1.5 0.0 -0.8 -0.6M646.6 72.2l0.9 0.7 0.7 1.5M660.4 71.1l-1.3 -0.5 -0.3 -0.7M589.3 71.6l0.7 -0.7 0.4 -0.6M572.3 35.3l-1.4 -0.4 -1.3 0.2M588.7 101.8l0.6 -1.0 -0.1 -0.6M615.6 36.9l0.6 -1.2 1.2 -0.8M596.4 73.5l0.5 -0.9 1.1 -0.4M600.6 107.3l1.1 0.8 0.2 1.3M635.6 62.1l-0.3 1.1 -0.3 1.2M578.5 39.5l-0.8 -0.1 -0.7 0.7M625.9 126.2l1.2 0.3 1.0 0.9M708.4 134.3l-0.8 0.3 -0.6 0.5M594.9 43.8l1.4 0.7 0.6 0.5M709.2 68.7l-0.1 1.2 0.4 1.6M700.2 45.5l-0.7 -0.3 -0.6 -0.5M695.9 70.9l1.2 0.4 0.8 0.7M724.6 105.7l0.9 0.3 0.5 0.5M580.8 90.7l1.3 0.8 1.2 0.8M614.7 67.5l0.7 1.2 0.6 0.1M581.6 79.7l-0.8 -0.1 -1.2 -0.3M582.7 62.5l0.5 -0.4 1.2 -0.0M717.3 127.7l0.6 1.1 0.7 0.7M666.3 60.8l-0.1 -0.9 0.3 -1.5M632.4 85.4l0.5 -0.7 0.9 -0.6M695.3 31.1l0.5 -1.6 0.8 -0.6M694.9 90.5l0.7 0.5 0.6 0.6M695.1 25.1l0.7 0.9 0.8 0.2M700.4 102.2l1.4 0.5 0.8 0.4M723.0 79.0l0.2 -1.2 0.5 -0.6M675.5 108.2l-0.8 -0.8 -1.3 0.1M656.3 93.1l-1.1 0.3 -1.3 0.5M610.3 129.0l0.5 0.9 1.1 1.1M624.1 42.8l1.7 0.1 1.2 -0.1M576.7 91.3l-1.5 -0.8 -0.4 -1.4M644.7 24.9l0.7 -0.9 0.9 -0.7M602.8 100.6l-1.5 -0.6 -1.2 0.0M671.2 87.7l0.2 -1.1 -0.1 -1.5M660.7 112.4l-0.3 -1.3 0.4 -0.8M708.8 120.4l-1.4 0.9 -0.6 0.4M709.3 35.7l-0.5 0.4 -1.1 1.2M637.9 31.7l-1.0 0.2 -0.8 0.1M619.9 51.6l0.9 1.4 -0.3 1.2M619.9 112.3l0.1 0.8 0.2 1.1M644.0 81.0l0.6 1.1 0.1 1.0M628.6 56.5l-1.0 -0.6 -0.3 -0.8M697.6 92.1l0.4 1.5 0.2 1.0M646.8 51.9l0.4 0.5 1.4 0.2M660.7 127.5l-0.1 -1.2 -0.0 -0.7M635.9 91.9l-0.5 -0.3 -0.6 -0.5M721.2 103.7l-0.9 -0.1 -0.7 -0.5M608.8 90.9l0.3 0.6 -0.2 1.4M662.6 82.0l-1.1 -0.2 -1.4 -0.4M717.0 34.1l0.5 -0.8 1.1 -0.8M646.2 46.5l-0.5 -1.3 -0.1 -1.5M695.5 45.0l0.6 -1.1 0.9 -0.9M600.6 61.2l-1.0 0.2 -1.3 0.8M590.9 106.2l0.8 0.9 -0.2 1.6M581.2 34.0l-0.8 -0.5 -1.1 -1.0M666.9 66.2l0.6 -1.4 0.6 -0.6M686.7 64.3l-1.4 -0.7 -0.6 -0.3M724.8 142.8l0.9 -0.1 1.3 0.3M658.4 113.2l0.9 -0.1 1.5 0.5M582.3 133.1l-1.5 -0.2 -1.2 0.7M650.7 139.7l1.0 -1.2 0.7 -1.0M606.1 80.8l-0.3 0.8 -1.0 0.4M609.1 29.3l-0.7 -0.3 -0.5 -0.4M595.5 127.6l0.2 0.7 0.5 1.2M692.0 38.3l0.7 -0.6 0.7 -1.5M600.5 136.9l-0.7 1.3 -0.8 0.5M709.2 31.1l0.7 -0.2 1.2 -0.3M647.2 35.6l-0.8 0.0 -0.7 0.6M627.1 55.2l-0.9 -0.9 -0.4 -0.6M622.7 30.3l1.2 1.0 1.3 0.8M688.7 43.3l1.2 0.4 0.8 -0.3M596.4 111.8l0.5 -1.1 1.0 -1.3M729.1 36.8l-0.5 -0.6 -0.7 -0.5M678.7 29.5l-0.1 -1.2 -0.4 -1.1M598.0 86.7l0.4 -1.2 0.5 -1.5M643.8 36.1l0.8 0.3 1.6 -0.2M697.4 60.8l-1.1 -0.3 -1.0 -0.1M573.6 62.5l-1.1 0.0 -1.2 -0.4M706.4 64.9l-0.0 1.2 -0.6 1.2M637.2 38.4l-0.9 0.7 -0.5 0.7M582.8 106.6l1.1 -0.5 1.1 -0.4M693.3 86.2l0.7 0.4 0.3 0.6M665.9 45.2l-1.3 0.2 -1.1 -0.0M628.5 77.2l-0.9 0.9 -0.6 0.2M688.8 49.0l1.2 -0.4 0.4 -0.5M625.3 77.3l1.3 -0.6 0.9 -0.1M661.7 41.2l0.3 0.5 0.8 1.1M638.1 34.9l-1.1 -0.9 -1.4 -0.6M615.2 123.7l0.8 -0.0 0.6 -0.3M657.3 46.1l1.5 -0.3 1.0 -0.4M674.9 48.0l-1.0 0.1 -0.7 0.3M573.5 122.5l1.4 -0.3 0.9 -0.2M687.9 93.4l-0.9 0.3 -1.1 -0.1M585.2 85.5l-0.7 0.7 -1.0 0.1M607.9 40.5l-0.6 0.8 -1.1 1.2M631.9 121.0l0.6 0.8 0.5 1.1M648.8 136.9l0.6 0.2 1.2 0.5M604.5 72.5l-0.1 1.5 -0.2 0.7M710.1 76.9l1.4 -0.2 1.5 -0.8M684.5 28.2l1.5 0.7 1.6 0.1M721.6 24.5l-0.1 1.0 0.5 1.1M697.2 77.8l0.6 -0.2 0.5 -0.7M633.5 68.8l-0.8 -0.6 -1.0 -0.7M660.5 74.1l-0.7 -1.0 -0.7 -0.9M635.5 70.9l-1.5 0.6 -0.9 0.0M591.4 134.1l-0.8 0.3 -1.0 -0.3M634.0 106.3l0.6 0.2 1.3 0.3M717.3 83.2l-0.4 0.7 -1.0 1.4M650.8 71.9l-1.0 1.1 -0.2 1.0M656.9 71.6l0.4 -1.1 -0.4 -1.3M644.9 74.0l-0.1 -0.6 0.4 -1.3M642.1 75.1l-0.8 -0.9 -0.3 -1.0M719.0 94.0l-0.9 -0.5 -0.7 -1.5M641.2 110.9l-0.4 -0.5 -0.3 -0.9M672.9 118.6l0.9 -0.1 1.1 0.1M610.7 119.1l-0.3 0.6 -0.1 1.1M604.1 81.9l0.5 1.5 -0.7 1.0M705.5 140.0l-0.8 -0.4 -1.3 -0.1M607.1 25.7l0.9 -0.4 1.0 -0.5M655.8 104.0l0.5 -1.5 0.1 -0.8M675.4 25.0l0.2 -0.9 -0.5 -1.3M703.1 41.2l0.8 -0.3 0.4 -0.6M703.2 125.8l-0.7 0.2 -0.5 0.8M586.0 42.4l-1.2 -1.0 -1.0 -0.7M716.4 123.8l1.1 -0.0 0.6 -0.7M687.3 87.5l-1.1 -0.4 -0.7 0.2M585.2 107.9l1.2 -0.3 1.3 0.2M643.1 91.8l0.1 1.5 -0.6 0.7M719.4 88.6l-0.7 -1.1 -1.2 -0.4M670.3 135.5l-1.1 0.9 -0.9 0.7M653.2 121.8l-1.4 -0.8 -1.2 0.3M592.4 29.8l0.9 -0.7 0.1 -1.6M675.9 126.4l1.1 -0.1 1.1 -1.2M574.0 46.4l0.2 1.3 1.0 0.7M674.2 104.4l-0.2 -1.0 -0.3 -1.4M671.5 35.0l1.3 0.0 0.9 -0.9M608.0 62.0l-0.8 0.8 -1.1 0.5M615.0 110.8l-0.7 -0.5 -1.3 -0.0M600.7 124.7l-1.2 -0.6 -1.3 -1.1M602.4 82.1l-0.4 1.1 -0.3 1.2M716.9 77.8l-0.8 0.1 -0.6 0.5M712.8 64.5l-1.0 0.1 -1.2 0.6M654.9 58.3l-0.0 -1.6 -0.7 -0.8M584.6 110.9l-0.7 0.0 -0.5 -0.4M655.2 107.1l0.5 0.9 1.2 0.2M655.7 63.1l-0.0 -1.5 -0.7 -0.8M627.5 140.3l0.7 -1.5 -0.4 -1.1M597.5 81.6l0.9 -0.8 1.1 -0.8M728.9 26.5l-0.7 0.4 -1.4 0.6M579.3 79.6l-1.0 0.2 -1.2 0.2M725.2 136.9l-1.6 0.4 -0.9 0.4M718.7 25.6l-0.4 -1.5 -1.0 -0.6M620.2 94.8l-0.0 1.1 0.7 1.3M580.8 65.8l-0.7 0.5 -1.4 0.6M660.9 92.3l0.6 -1.2 1.2 -0.9M680.6 111.2l-0.9 1.0 -0.7 1.2M641.5 119.3l-0.8 1.3 -0.2 0.7M693.2 139.2l1.1 -0.2 1.0 -0.7M596.6 136.4l-1.3 -0.1 -1.0 -0.3M638.6 63.3l0.6 0.7 0.3 1.0M614.1 72.4l1.0 0.3 1.1 -0.0M692.8 102.2l1.1 0.5 0.9 0.2M611.6 30.6l-0.4 -0.5 -1.2 -1.0M640.5 108.6l-0.5 0.5 -0.7 0.8M706.4 60.0l-0.8 -0.4 -0.7 0.2M625.6 70.3l0.1 0.9 -0.7 1.2M622.6 74.4l-0.3 -0.7 0.4 -0.7M712.1 86.5l0.6 -1.4 0.8 -0.9M661.6 50.0l-0.4 0.5 -0.0 0.7M621.6 35.6l-0.5 -0.5 -0.6 -0.7M637.4 78.9l-1.0 1.3 -1.0 0.6M577.2 45.7l-1.1 -0.7 -1.0 -0.6M607.0 64.9l0.8 -0.3 1.6 0.1M628.7 43.7l-0.4 -0.7 -0.8 -0.3M641.5 36.2l-0.3 -0.8 -0.8 -1.1M710.4 51.7l0.2 -0.9 0.5 -0.8M578.5 56.6l-0.7 0.3 -1.4 -0.5M622.2 69.9l0.8 0.3 0.8 0.4M632.5 76.0l-1.1 1.1 -1.4 0.3M690.7 68.1l-0.1 0.6 -0.6 1.1M676.8 49.1l0.6 1.4 0.8 0.8M679.6 66.3l1.5 -0.6 0.9 0.2M657.3 87.1l-0.1 -0.6 -0.0 -1.1M653.5 35.3l1.0 0.0 0.8 0.8M708.8 56.3l0.3 1.5 0.2 1.4M683.6 48.2l-1.5 0.4 -1.1 0.2M711.9 93.2l-0.6 -0.4 -1.6 -0.3M664.7 137.3l-0.3 -1.3 -0.5 -0.7M699.3 132.0l0.1 -0.8 -1.0 -1.1M690.3 33.2l-1.2 0.2 -0.6 0.5M614.5 129.0l-0.7 -0.9 -0.1 -0.7M700.8 30.1l0.6 0.7 -0.0 0.9M652.2 39.7l-0.1 1.3 -0.2 0.8M583.9 125.3l0.4 0.9 0.1 1.0M685.7 39.3l-0.7 1.1 -0.4 0.7M605.8 39.2l-0.7 -0.3 -0.9 -0.4M671.6 121.1l0.9 1.1 0.5 0.3M690.4 96.5l1.0 -1.3 0.5 -1.3M689.6 127.3l0.4 -0.5 0.7 -0.1M676.5 57.3l0.4 1.0 -0.4 0.9M628.8 106.3l0.2 0.9 1.0 0.6M696.2 50.1l0.9 1.1 0.2 0.7M620.7 106.3l-0.7 -0.1 -0.9 0.8M652.9 53.7l0.0 -1.0 -0.9 -0.9M698.0 142.2l-0.8 1.4 -0.3 0.7M691.9 82.3l-0.5 0.5 -0.5 1.4M572.5 44.3l-1.3 -0.7 -0.2 -0.7M596.6 52.6l0.6 -1.4 0.4 -1.5M678.4 84.7l-0.7 0.2 -1.0 0.7M642.2 29.6l-1.1 -0.8 -0.8 -0.7M685.3 37.3l0.9 1.0 1.0 0.2M610.2 66.1l-0.1 -0.7 0.6 -1.6M620.3 64.5l1.2 -0.3 0.7 -0.3M618.6 33.5l0.3 0.7 1.2 1.0M712.9 120.1l0.8 0.1 1.0 -0.6M603.1 126.8l-0.0 0.7 0.0 0.7M657.0 116.1l1.1 0.9 0.6 -0.1M605.9 44.9l0.5 0.7 0.4 1.6M729.1 101.4l0.4 -0.6 -0.0 -1.4M715.4 62.2l-0.7 0.6 -0.6 1.1M595.3 55.2l1.6 -0.6 0.6 -1.4M673.2 37.4l1.4 0.8 0.3 1.2M598.8 66.7l-0.8 1.0 -0.0 0.7M581.6 98.3l0.6 -1.3 1.6 -0.5M621.0 101.2l0.8 0.4 0.6 0.9M694.6 135.8l-1.1 -0.3 -0.4 -0.5M686.9 66.3l0.8 -0.1 1.6 0.2M630.6 131.3l-0.6 -0.3 -0.8 -0.1M697.3 105.0l1.5 -0.8 1.2 -0.4M655.5 35.5l0.7 -0.8 0.6 -0.9M672.2 136.6l0.7 0.6 1.3 -0.0M663.1 97.5l-0.8 -0.4 -1.2 0.2M647.7 100.6l1.3 -0.8 0.9 -0.0M689.2 114.0l-0.3 1.3 0.2 0.7M625.7 74.5l0.4 -1.0 0.3 -1.4M695.9 34.5l-0.9 0.2 -0.7 0.7M599.0 117.0l-0.8 -0.9 -0.7 -1.5M622.3 25.4l0.8 0.7 0.1 0.7M573.9 41.1l-0.2 -0.8 0.2 -0.7M630.4 38.6l0.1 1.0 -0.7 1.2M720.4 70.2l-0.6 0.7 -0.8 0.1M659.3 53.2l0.8 0.1 1.3 0.4M660.9 34.2l0.1 -0.8 -0.2 -0.8M630.2 24.8l-0.8 -0.1 -1.4 0.4M627.6 49.1l0.4 -1.5 1.3 -0.6M594.1 130.5l-0.7 -0.1 -1.0 0.2M626.1 78.9l0.8 0.2 1.0 1.1M628.0 50.9l-0.6 -0.4 -0.7 0.1M576.3 67.6l0.7 0.9 0.6 1.0M709.8 102.2l0.7 -0.0 0.6 0.6M654.9 91.3l-1.0 0.8 -0.9 1.0M655.3 73.4l-1.3 -0.2 -0.8 -1.4M726.9 50.3l-0.4 -1.1 0.3 -0.9M584.3 30.6l-0.4 -1.5 -0.8 -0.6M698.6 32.0l0.7 0.3 1.7 -0.2M602.8 89.3l-1.2 -0.3 -0.5 -0.9M579.4 88.3l-0.8 -1.4 -0.2 -1.5M705.3 45.5l-0.7 -0.5 -0.8 -1.5M692.4 71.9l1.1 0.5 1.6 0.1M666.7 31.7l1.6 0.3 0.6 0.5M723.3 88.1l0.6 -0.4 1.4 0.1M587.8 50.7l1.0 0.7 0.8 0.1M699.2 85.0l-0.1 -0.8 0.5 -0.5M601.6 37.4l-1.2 0.5 -0.3 0.6M728.7 130.3l0.5 -0.6 0.8 -0.4M629.5 134.5l1.3 0.9 0.4 1.4M677.2 80.6l1.0 0.3 0.5 1.1M627.4 75.7l-0.9 -0.2 -0.6 -0.3M625.1 45.0l-0.6 -0.8 -1.2 -0.4M647.6 48.0l0.5 0.4 1.5 -0.1M689.8 123.6l1.2 0.3 0.7 1.1M705.3 68.9l-0.4 1.3 -1.2 0.7M711.8 123.3l-0.9 -1.4 -0.9 -0.7M717.5 120.7l-1.2 -0.1 -0.6 0.0M604.4 104.0l0.0 0.7 0.7 1.0M634.0 64.8l0.6 1.1 -0.2 0.6M654.4 61.3l0.4 -1.2 -0.1 -0.8M667.8 62.0l0.4 1.6 0.3 0.6M612.8 37.1l0.0 -0.9 0.5 -1.0M588.0 105.6l0.2 0.7 0.3 1.5M668.0 39.8l-0.5 -1.5 -0.8 -0.6M592.1 122.6l-0.5 0.6 0.0 1.2M680.3 62.8l-1.3 1.0 -1.4 0.3M667.9 24.8l0.6 -0.1 0.8 -0.7M714.6 111.7l0.2 -0.6 1.4 -0.7M706.5 74.0l-0.6 -0.7 0.1 -1.1M650.5 46.2l0.6 -0.5 1.5 -0.1M664.9 39.5l-1.4 0.7 -1.1 1.1M609.5 64.2l0.4 -1.4 0.9 -0.4M623.0 55.6l0.6 0.3 0.7 1.1M725.5 25.5l-0.8 0.1 -1.5 -0.3M666.6 111.8l-0.9 0.9 -1.5 0.2M612.4 82.4l0.9 1.0 0.8 0.9M675.0 32.6l-0.6 1.0 -0.7 0.7M644.0 40.9l-0.1 -0.6 -0.6 -0.4M644.3 142.0l0.9 -0.1 0.9 -1.0M573.3 88.8l-1.0 0.7 -1.1 0.5M599.6 27.0l1.5 0.6 0.8 0.5M607.6 133.5l1.0 -0.6 0.3 -0.7M695.5 75.8l1.0 0.3 1.1 0.6M644.5 49.4l-1.1 -0.9 -0.9 -0.7M720.5 57.4l0.2 -0.8 0.4 -0.7M605.1 63.5l-1.2 0.8 -0.9 0.1M677.5 33.5l0.6 -0.9 1.5 -0.2M617.7 92.0l-0.6 1.1 -0.7 0.4M631.5 49.2l-0.1 1.7 -0.3 1.1M578.8 35.3l-0.8 -0.7 -1.5 -0.1M712.1 57.9l0.2 -1.4 -0.6 -1.1M649.5 42.0l-0.7 -0.1 -1.5 0.3M620.1 46.0l-0.1 0.8 -0.3 0.7M592.3 74.8l-0.9 0.1 -1.0 0.2M611.7 73.7l0.1 -1.0 -0.5 -0.9M635.2 32.2l1.4 0.6 1.0 1.0M598.6 53.9l-1.0 0.7 -1.0 0.1M621.2 66.2l-0.5 -0.9 -0.3 -1.6M623.1 87.8l0.8 -1.4 0.6 -1.0M662.1 24.6l0.6 0.4 0.5 0.5M676.0 26.7l-0.3 -0.8 -0.2 -0.6M646.2 79.3l0.0 0.7 1.1 1.2M717.5 70.3l-0.8 0.7 -0.0 0.7M656.3 31.3l-0.7 -0.1 -0.7 0.4M688.8 40.2l0.0 1.2 -0.0 1.6M676.1 128.6l-0.7 -0.6 -0.3 -0.9M626.9 84.0l1.5 -0.8 0.6 0.2M629.2 69.9l-0.7 0.3 -1.4 0.7M613.8 59.5l-0.6 0.2 -1.0 0.2M680.6 58.9l1.4 -0.4 1.5 0.7M579.6 44.0l-0.6 -0.4 -1.1 -0.3M601.4 31.2l-0.6 -1.3 -0.1 -0.6M699.7 24.6l0.6 1.4 0.6 1.5M623.9 33.3l0.8 0.8 0.6 1.5M648.5 30.0l0.6 -0.4 0.7 0.1M605.3 116.1l-0.8 1.4 -0.1 0.6M652.4 36.7l-1.5 0.7 -1.5 0.5M640.6 122.0l-0.5 1.3 -0.6 0.8M604.3 49.2l-0.0 1.1 -0.7 0.6M599.0 83.0l-1.4 -0.0 -0.8 0.9M598.8 49.9l0.6 0.0 1.0 0.5M623.3 67.2l-1.1 1.2 -1.0 0.4M658.3 95.3l-1.0 -0.2 -0.8 -1.3M673.3 63.1l-0.9 -0.2 -1.4 -0.9M632.6 60.8l0.1 0.6 -0.3 0.5M628.6 36.7l-0.3 -0.7 -0.6 -1.6M657.4 49.3l1.1 -0.8 0.2 -0.6M630.6 61.3l-0.2 -0.7 -0.0 -1.2M603.2 121.1l-0.2 0.7 -0.3 1.2M694.1 114.7l-0.8 0.3 -1.6 0.3M640.9 24.9l-1.3 0.8 -1.1 0.6M701.8 34.1l0.7 0.7 0.3 0.8M650.0 40.3l0.1 1.2 -0.2 0.9M674.2 137.6l-0.5 -1.4 0.8 -1.5M697.3 100.3l-1.6 0.3 -1.1 -0.2M641.6 49.1l-0.3 1.4 -0.5 0.4M652.2 44.6l0.8 -0.6 1.1 -0.2M714.6 55.5l0.9 -0.9 1.1 -1.1M714.7 69.2l0.3 1.1 -0.5 1.0M726.7 140.5l-0.3 -0.5 0.1 -1.0M582.5 68.9l-1.7 0.1 -0.5 -0.5M707.0 95.2l-0.5 1.6 -1.3 1.0M600.2 104.2l-0.8 -0.4 -0.6 -0.1M626.7 132.1l-0.9 -0.4 -0.2 -0.7M661.8 43.8l0.4 -1.2 0.4 -1.0M638.6 52.3l0.3 -0.9 1.5 -0.6M632.4 53.4l0.2 0.6 -0.2 1.5M671.5 25.6l0.9 -0.7 0.6 -1.1M609.4 74.5l0.3 0.9 0.6 0.6M697.6 38.9l0.7 0.3 1.3 -0.6M671.5 103.6l0.4 0.8 0.0 1.3M711.8 125.5l-0.2 1.1 -0.9 0.5M593.7 83.1l0.8 -0.5 0.8 -0.6M664.9 81.0l0.9 -0.8 -0.0 -1.7M576.9 94.0l1.1 1.2 0.8 1.3M601.7 56.3l-0.7 -0.3 -1.2 -0.6M695.8 93.8l-0.9 -0.1 -0.6 -0.8M709.3 81.3l-0.2 -0.6 -0.5 -1.2M630.7 113.4l1.1 -1.3 1.6 -0.3M593.0 63.1l0.3 -1.1 -0.1 -1.3M588.9 28.1l0.8 -1.2 1.1 -0.4M616.0 31.9l1.2 -0.4 1.1 -0.1M656.3 81.0l-0.8 1.3 0.3 1.6M614.3 32.5l0.9 0.7 0.6 0.3M627.0 57.4l0.4 -1.0 0.9 -1.1M637.5 142.3l0.2 1.2 0.4 1.2M640.9 92.2l-0.9 1.1 -0.6 0.7M600.3 68.0l1.5 -0.3 0.7 -0.3M637.2 67.0l-1.0 0.2 -0.7 1.4M664.4 67.1l1.5 -0.5 0.7 -1.3M581.1 77.7l-1.0 0.9 -0.6 -0.1M623.8 117.7l-0.9 0.7 -0.5 1.6M623.9 39.7l0.1 -1.2 -0.3 -1.6M582.0 100.9l-0.6 1.4 -1.0 0.7M591.2 57.5l0.7 0.1 0.6 0.2M667.4 89.2l-0.9 -0.5 -1.5 0.6M719.8 79.3l-1.1 -1.1 -0.2 -1.2M726.8 75.4l-0.8 1.0 -0.6 0.2M697.7 67.2l0.8 1.0 0.7 0.5M700.5 38.8l-0.8 -1.1 -0.6 -1.0M718.7 30.2l0.3 1.4 0.4 0.7M617.2 112.7l1.4 -0.1 0.8 0.2M636.3 76.2l-0.3 1.5 -0.9 1.1M613.0 46.7l-0.3 -0.6 -0.5 -1.1M606.3 137.8l0.4 1.5 -0.6 1.3M666.8 76.8l0.5 -1.2 -0.0 -0.7M618.0 41.1l0.8 0.3 0.6 1.2M713.2 71.5l-0.6 -0.1 -0.6 -0.4M572.5 54.8l0.6 0.2 1.0 -0.6M664.9 128.2l-0.2 -1.1 -0.5 -0.6M674.4 58.6l0.7 0.5 0.2 1.2"/>
<path stroke="#2440a4" stroke-width="1.6" stroke-opacity="1" d="M723.7 63.3l-0.1 0.0M677.3 60.4l0.1 -0.1M632.8 108.2l0.2 0.2M618.2 69.7l-0.1 -0.1M600.1 76.0l0.2 0.2M579.5 125.7l-0.2 0.2M719.1 126.0l0.1 0.1M710.6 106.4l-0.0 0.1M640.6 27.8l-0.1 -0.1M646.9 127.7l0.2 -0.1M658.9 105.7l-0.0 -0.0M674.5 96.2l0.1 0.1M642.1 46.0l0.1 -0.1M572.6 125.1l0.0 -0.0M678.2 125.1l0.1 0.0M683.0 56.3l-0.1 -0.0M653.3 97.8l0.1 0.2M643.5 76.6l-0.1 0.0M704.0 48.1l-0.1 0.0M699.2 27.5l0.0 -0.2M704.9 129.4l-0.1 0.2M680.4 133.0l0.0 -0.0M606.9 95.9l-0.0 -0.0M715.6 129.6l0.1 0.1M592.3 44.3l0.1 -0.2M659.3 121.2l-0.1 -0.1M655.7 76.0l-0.1 -0.2M680.9 107.6l0.2 0.2M606.7 125.2l0.1 -0.1M676.1 138.8l0.1 -0.1M638.6 102.4l0.0 0.1M618.8 130.4l-0.2 -0.2M587.7 127.4l0.0 0.2M574.5 85.6l-0.2 0.1M677.5 63.4l-0.2 -0.2M651.9 77.6l-0.0 -0.0M602.5 46.6l0.0 0.2M650.4 68.0l-0.2 -0.1M653.3 100.0l-0.0 0.0M621.7 27.3l-0.1 0.1M664.6 121.5l-0.2 -0.2M678.2 92.6l-0.0 0.2M729.0 141.1l-0.3 -0.1M723.1 25.8l0.2 -0.2M720.7 100.3l-0.0 0.1M723.2 94.2l0.1 0.1M671.9 79.5l0.0 0.3M615.7 46.8l0.2 0.0M630.8 28.1l0.0 0.2M685.2 88.7l-0.2 -0.0M612.7 132.8l0.1 -0.2M645.4 87.4l0.0 0.0M641.8 43.0l-0.1 -0.1M655.6 126.4l0.2 0.2M704.2 120.8l0.1 0.0M713.6 139.1l-0.0 0.2M630.1 82.6l-0.1 0.2M686.2 35.2l0.2 0.1M645.4 119.2l-0.0 -0.2M692.8 125.8l0.1 0.2M674.4 55.0l-0.0 -0.0M594.3 32.1l-0.1 -0.0M685.5 56.1l0.1 -0.1M646.7 85.1l-0.1 0.0M648.0 92.4l-0.0 0.0M631.0 43.6l-0.0 -0.1M706.8 51.5l-0.1 0.1M609.3 55.1l0.1 0.1M605.7 122.8l-0.0 0.1M670.6 39.5l0.1 0.2M689.9 59.8l-0.0 0.3M673.4 85.5l-0.0 0.0M611.2 139.1l-0.1 0.0M622.9 91.3l-0.0 -0.0M701.1 113.3l-0.2 0.2M577.7 128.3l-0.2 0.2M659.5 132.0l0.0 -0.0M701.5 131.7l-0.1 -0.3M584.1 83.6l-0.1 -0.1M623.5 105.0l-0.0 -0.1M665.1 108.0l0.2 -0.1M714.2 41.6l-0.0 0.1M635.6 68.4l0.0 -0.0M682.1 105.0l0.1 0.2M583.1 136.0l-0.1 -0.0M678.5 58.4l0.1 0.0M646.5 67.9l0.0 -0.0M634.5 141.2l0.1 -0.2M589.3 60.2l-0.0 -0.2M720.2 134.2l-0.3 0.1M663.4 94.0l-0.0 0.0M583.9 48.0l-0.1 0.1M727.3 38.9l-0.0 -0.2M599.8 57.7l0.0 0.1M624.0 85.0l0.1 0.3M640.3 104.5l-0.0 0.1M642.2 78.1l-0.1 -0.1M701.5 107.4l-0.0 0.0M664.6 71.9l0.0 -0.2M635.6 46.4l-0.0 0.0M695.3 56.3l-0.2 -0.2M689.1 56.2l-0.2 -0.0M653.4 132.4l-0.0 0.1M643.1 54.6l0.1 0.0M685.3 68.3l0.0 0.2M656.5 37.0l-0.3 -0.0M624.7 62.6l0.1 0.3M683.1 100.7l-0.1 0.1M653.3 125.4l-0.3 -0.0M644.2 64.8l-0.3 -0.0M595.1 28.6l-0.1 0.0M599.1 135.2l0.0 0.1M695.7 98.4l0.0 -0.2M668.4 91.4l0.0 0.1M709.4 108.8l-0.1 0.0M607.5 108.9l-0.1 0.1M640.7 63.6l-0.1 0.2M698.7 88.2l0.1 0.2M656.6 122.6l0.1 0.2M649.5 25.9l0.3 0.0M634.2 120.9l0.0 -0.1M639.0 117.4l-0.0 -0.0M691.7 58.5l0.0 -0.0M579.2 113.0l-0.0 -0.0M726.4 115.1l0.0 0.0M684.7 59.5l0.1 -0.2M727.1 82.5l-0.1 -0.2M613.9 122.1l-0.0 0.2M687.3 108.6l-0.2 0.2M651.6 85.3l-0.0 -0.2M711.6 140.2l0.0 0.1M712.4 54.2l-0.0 0.0M725.1 82.8l-0.1 0.1M600.0 48.3l-0.0 -0.0M625.8 47.2l-0.0 -0.0M651.3 105.3l0.0 0.0M575.0 98.9l0.2 -0.0M653.0 56.7l0.1 0.0M647.9 97.5l0.0 -0.1M655.1 83.6l-0.1 0.2M595.6 34.4l-0.2 0.1M629.8 58.7l0.2 -0.0M620.8 128.4l0.2 -0.1M592.0 35.8l0.1 0.0M700.4 96.0l-0.0 -0.0M572.2 132.1l0.2 -0.0M582.6 139.4l-0.0 -0.1M610.7 27.2l0.1 0.0M704.8 55.0l-0.1 -0.1M611.1 87.0l0.0 -0.2M667.1 122.1l0.2 0.1M715.8 100.7l-0.0 -0.0M642.5 99.3l0.2 -0.2M661.0 64.3l0.1 -0.1M677.3 46.9l-0.1 0.1M636.7 112.2l0.1 0.3M646.7 64.4l-0.0 -0.1M692.1 61.6l-0.1 0.2M622.3 46.1l0.0 0.0M665.1 78.3l-0.1 0.2M649.2 81.2l-0.1 0.2M647.7 74.2l-0.1 -0.0M575.5 106.1l0.0 0.1M630.7 142.0l0.1 -0.2M644.1 68.9l-0.1 0.0M690.3 84.5l-0.1 -0.2M576.4 80.8l-0.2 -0.1M665.3 34.1l0.1 -0.1M683.1 137.2l0.1 0.1M699.6 76.9l0.0 0.0M690.3 111.0l-0.1 0.2M675.9 142.8l-0.0 0.1M643.2 130.5l-0.2 -0.2M646.0 105.9l-0.0 -0.1M686.0 80.0l-0.1 -0.1M598.5 141.0l-0.0 -0.0M627.6 40.6l0.2 -0.0M660.6 86.1l0.0 0.1M692.5 95.9l-0.1 0.0M679.5 69.5l-0.1 0.1M676.7 102.0l-0.0 0.0M682.1 130.5l0.2 0.1M632.6 101.2l-0.2 0.1M682.8 116.4l0.1 -0.1M678.8 121.4l-0.1 -0.1M590.3 39.5l-0.1 0.1M619.8 40.6l-0.0 -0.0M684.7 32.3l0.1 0.1M630.0 116.3l-0.1 -0.1M727.5 67.7l0.2 -0.1M616.3 133.2l0.1 -0.1M728.3 113.5l-0.1 -0.1M684.1 40.6l0.1 -0.2M610.2 132.2l-0.0 0.2M573.5 79.5l0.0 0.0M643.5 115.8l0.0 -0.1M706.4 107.2l0.1 -0.1M590.6 27.3l0.0 0.0M594.5 64.3l0.0 0.0M701.4 136.9l0.1 0.1M589.0 66.5l0.0 0.2M656.5 136.1l-0.1 -0.2M575.5 77.2l0.1 -0.2M711.9 83.5l-0.0 0.0M676.0 92.2l-0.1 -0.3M619.4 96.6l0.0 -0.0M698.6 124.3l0.1 -0.1M671.2 133.6l0.2 -0.2M660.6 81.7l0.1 -0.2M640.2 135.6l0.0 0.1M641.7 83.1l0.1 0.3M599.0 108.7l0.1 0.0M613.7 126.6l-0.0 -0.2M672.3 131.7l-0.2 -0.1M589.9 76.9l-0.0 0.1M573.2 24.5l0.1 0.2M717.9 99.2l-0.2 0.1M630.5 87.5l-0.1 0.1M587.4 83.4l-0.0 -0.1M709.4 104.3l0.3 -0.1M647.5 39.1l0.0 0.0M663.9 45.3l-0.2 0.1M654.9 134.5l-0.0 -0.0M686.9 131.7l-0.0 -0.0M608.5 53.2l0.1 0.2M653.0 119.5l0.0 -0.0M595.9 142.1l-0.1 -0.1M700.1 35.6l0.0 -0.0M728.4 123.7l-0.0 0.2M686.0 138.3l0.0 -0.0M635.0 85.8l0.0 0.0M689.8 77.7l0.1 0.2M687.2 71.9l-0.2 0.2M729.4 92.6l-0.0 -0.2M717.5 85.7l-0.0 0.3M597.9 38.6l0.1 0.1M699.7 81.9l-0.0 0.3M679.3 48.6l0.1 -0.3M657.1 97.0l-0.2 -0.1M609.8 141.2l-0.1 0.0M625.8 118.5l0.1 -0.2M668.4 74.7l-0.1 0.2M722.3 31.0l-0.0 0.1M725.1 110.6l0.0 0.0M583.5 32.3l-0.1 -0.2M696.9 122.0l0.1 0.1M708.8 89.1l-0.0 -0.2M689.6 104.5l-0.1 0.1M684.8 102.6l0.2 0.2M729.1 134.2l0.1 0.3M660.5 83.9l0.3 0.0M704.0 87.7l-0.2 -0.1M580.4 56.6l-0.0 -0.2M626.1 108.7l-0.0 0.2M675.7 115.3l-0.0 -0.0M677.5 134.5l-0.0 -0.0M676.0 69.9l-0.2 -0.1M729.0 94.9l0.3 -0.0M655.2 114.1l0.0 -0.0M667.0 133.5l-0.0 0.0M673.8 50.7l-0.2 0.0M703.3 73.0l0.1 0.2M695.2 107.5l-0.1 -0.0M585.1 135.9l0.2 -0.1M588.8 125.1l-0.1 -0.2M674.3 124.1l0.1 -0.1M580.5 129.0l0.0 -0.2M722.8 49.8l-0.2 0.1M676.5 89.0l0.0 -0.2M590.3 70.2l-0.1 0.0M606.9 59.5l-0.0 0.1M682.9 94.8l0.1 -0.1M576.8 104.3l-0.1 0.1M607.6 120.5l0.1 -0.2"/>
<path stroke="#1a30d4" stroke-width="2.2" stroke-opacity="1" d="M604.1 60.0l1.0 -1.5 -0.2 -0.7M683.5 36.6l1.8 -0.1 1.7 0.5M672.5 42.1l1.0 0.8 0.2 1.0M725.5 113.0l0.5 -0.1 0.9 -0.5M683.1 113.8l0.8 -0.4 0.7 -1.0M698.2 42.9l-0.7 -0.6 -1.5 -0.8M712.9 61.6l1.5 0.5 1.1 0.8M599.2 113.9l1.0 0.7 0.6 -0.2M709.9 70.6l-0.7 1.5 -0.5 1.5M644.8 26.8l-1.3 0.8 -0.4 0.6M618.2 61.6l0.8 -0.5 1.7 -0.5M586.3 48.8l0.9 0.3 0.5 -0.2M618.2 47.6l1.1 1.1 0.6 0.4M600.8 83.8l-0.6 1.5 -0.1 0.8M573.5 104.3l0.0 0.9 0.8 0.8M589.1 36.9l0.6 1.0 -0.0 0.9M636.9 81.6l-1.0 0.9 -0.0 1.6M592.7 112.8l-0.6 -0.2 -1.0 0.4M618.9 25.1l-0.1 1.2 -0.1 0.8M573.4 73.9l1.0 -0.7 1.4 -0.4M611.1 95.4l1.1 -0.2 1.2 0.5M717.9 44.1l0.4 0.7 0.8 1.0M714.3 96.4l1.4 -0.4 1.0 0.3M727.3 106.8l-1.5 -0.4 -0.7 -0.8M627.8 32.6l1.2 -0.3 0.6 0.2M699.9 47.8l0.5 -1.2 0.1 -1.0M722.5 135.3l-0.0 -1.8 -0.5 -1.0M646.7 24.8l-0.4 0.6 -0.5 1.4M620.5 89.8l-0.3 0.4 -0.8 1.3M583.6 78.0l-0.4 0.4 -0.3 0.6M647.1 59.2l1.3 -1.0 0.0 -0.6M697.0 135.6l0.4 -1.2 -0.0 -1.3M669.7 35.8l-1.0 0.5 -1.1 1.1M619.0 142.1l0.4 1.0 0.3 1.2M651.6 51.1l0.8 -0.4 0.9 -1.4M693.6 45.1l-1.1 -0.6 -0.3 -0.6M598.0 79.8l-1.1 0.7 -0.4 0.3M670.3 73.4l0.4 1.6 -0.6 1.0M683.0 128.1l-1.2 0.8 -0.1 0.6M608.9 82.0l-0.6 0.3 -1.7 -0.3M700.7 56.7l0.6 0.2 0.4 0.5M590.0 47.0l-0.4 1.4 -0.4 0.5M604.9 76.6l-1.2 -0.6 -1.6 0.2M606.0 51.2l0.7 -1.2 0.4 -1.0M582.8 93.7l-0.2 -1.7 0.7 -1.4M664.0 49.3l0.7 -0.8 0.6 -0.7M667.2 51.6l0.3 -1.2 0.9 -1.1M675.4 42.3l0.5 0.3 1.2 -0.3M643.1 102.8l1.0 1.1 0.1 0.6M662.2 51.8l-1.6 0.4 -0.8 0.8M655.5 43.8l-1.1 -0.4 -0.3 -0.9M717.7 67.5l1.4 0.1 1.6 -0.6M662.6 39.2l-0.3 -0.9 -0.4 -0.7M714.2 88.9l-0.7 0.6 0.1 1.3M621.5 38.2l-0.3 -0.8 -0.6 -0.5M668.9 29.0l-0.4 1.2 -0.8 1.4M725.2 72.4l-1.2 -1.3 -0.6 -0.6M655.9 118.0l-1.5 -0.0 -0.9 -0.3M721.2 117.0l-1.4 -0.7 -0.7 -0.6M587.9 85.7l-1.4 0.5 -0.9 0.7M582.9 42.2l0.1 1.7 -0.5 0.5M660.6 88.5l0.2 1.0 0.5 0.7M580.5 85.1l-0.4 0.8 -0.4 1.1M575.5 42.3l0.6 -0.7 1.0 -0.2M603.7 56.0l-0.7 -0.1 -0.6 -0.3M637.6 89.5l-1.2 -1.1 -1.2 -0.5M715.5 98.5l-1.1 0.7 -0.6 0.2M606.9 33.5l1.4 0.7 1.3 1.0M690.1 108.0l0.4 0.5 -0.1 0.7M632.0 55.8l-1.3 -0.5 -1.2 -0.4M595.7 76.0l-1.0 1.2 -1.1 0.4M641.5 139.6l-0.7 -0.8 -1.2 -0.4M584.3 97.5l0.9 -1.5 0.8 -0.1M681.8 44.3l-0.5 -1.3 -0.3 -1.7M629.0 129.4l1.6 -0.5 0.8 0.2M631.9 72.8l0.7 0.7 0.7 1.4M585.9 132.0l-0.2 1.3 -0.4 1.2M665.1 29.8l0.4 1.7 -0.2 1.2M670.0 49.2l0.5 1.2 -0.5 1.0M727.4 91.0l0.3 0.4 0.5 1.4M578.8 64.2l-1.4 0.0 -0.9 0.2M700.0 68.6l-0.9 -1.2 -0.4 -0.3M655.7 66.0l0.5 -0.8 1.3 -0.5M578.7 42.1l-0.8 -0.4 -1.6 -0.3M581.5 95.9l-0.4 -0.5 -0.8 -1.1M666.3 114.4l0.4 -0.6 1.0 -0.3M652.3 24.5l0.1 -0.9 -0.3 -0.9M587.2 91.8l-0.5 -0.9 0.4 -1.0M653.0 27.0l1.4 0.5 0.5 -0.2M574.9 49.9l-0.1 0.7 -0.4 1.5M661.0 26.9l-0.4 1.5 -0.7 1.5M575.2 95.8l-0.8 -0.2 -1.1 -0.2M643.6 28.2l-0.3 0.4 -0.6 1.5M600.9 121.8l0.5 -1.0 -0.4 -0.9M625.7 102.1l0.1 1.2 0.9 0.6M727.4 64.8l-1.1 1.3 -1.5 0.6M635.1 39.5l0.8 -0.4 0.8 -0.1M596.3 24.8l0.9 0.9 1.1 0.1M706.1 104.7l-1.2 -0.2 -0.6 -0.7M708.2 62.5l-0.7 -0.0 -0.7 0.7M677.4 38.5l0.6 -0.3 0.8 0.0M633.6 37.8l0.2 -1.3 0.4 -0.5M674.1 68.3l0.0 1.4 -0.2 1.4M584.2 51.0l0.2 -0.6 0.9 -0.5M639.4 36.6l0.4 -0.9 0.9 -0.7M617.4 35.2l-1.6 0.7 -1.4 0.7M606.1 107.5l-0.4 0.3 -0.3 0.7M610.8 83.1l1.1 -0.3 0.5 -0.3M599.0 74.0l-0.6 -0.9 -1.2 -0.1M626.1 36.3l-1.3 -0.8 -0.7 -0.3M614.7 98.4l-1.2 0.0 -0.5 0.0M690.5 27.2l0.4 0.7 0.5 1.3M617.7 53.1l-0.8 -0.4 -0.8 0.2M638.4 59.7l1.1 1.4 0.6 0.3M600.1 71.0l-0.5 0.4 -0.8 -0.2M607.0 36.1l0.9 1.0 1.1 0.7M649.0 103.3l-1.0 0.7 -0.3 1.2M704.9 100.8l-1.2 -0.5 -1.6 0.6M701.6 27.7l0.1 -0.5 -0.2 -0.7M617.1 75.1l1.2 0.2 0.8 1.0M679.6 74.3l0.7 0.2 0.5 -0.2M681.1 125.2l-0.7 1.1 -0.9 0.5M625.8 24.6l-1.3 0.2 -0.4 0.5M624.5 135.8l1.1 0.8 1.6 -0.1M628.5 136.9l-0.3 -0.6 -0.6 -0.2M686.0 51.8l-0.6 -0.3 -0.8 0.2M669.5 55.4l1.8 -0.2 1.1 -1.3M585.7 116.7l-0.3 -0.7 -0.8 -0.4M606.0 73.6l-0.5 -1.3 -1.2 -0.5M669.5 84.6l0.0 0.7 0.7 0.6M585.0 60.8l0.6 -0.1 0.8 0.5M679.0 42.5l-0.1 -0.8 0.2 -0.5M620.3 44.2l-0.4 -1.0 0.3 -0.8M668.4 101.1l-0.5 -0.3 -0.6 -1.0M676.7 65.7l1.4 0.1 1.0 0.7M726.7 55.0l-1.2 0.2 -1.4 0.0M726.9 60.9l-0.5 0.5 -1.2 0.9M624.5 49.7l0.7 -1.5 1.1 -0.5M623.9 27.6l0.6 -0.4 1.3 -0.3M655.6 51.6l-1.8 -0.3 -1.1 0.2M720.3 109.3l-1.0 0.1 -0.6 -0.5M686.1 91.9l1.4 0.7 0.6 0.6M624.5 130.9l1.7 0.4 0.8 0.6M612.3 93.2l1.1 0.6 0.4 1.8M726.6 120.4l1.2 -0.1 0.4 -0.4M577.3 71.3l1.2 -1.0 0.7 -0.1M612.7 101.4l0.9 0.4 0.8 1.1M664.6 59.6l1.2 -1.2 1.0 -0.8M572.3 97.1l1.2 0.0 1.3 -0.6M677.3 31.6l0.1 -0.8 0.4 -1.0M614.8 64.2l-1.8 -0.2 -0.7 -0.6M615.7 59.6l1.3 0.7 1.0 1.2M590.4 75.0l1.2 -1.2 0.6 0.1M708.8 40.9l1.1 0.3 1.0 1.2M611.0 89.4l0.9 -0.8 0.1 -0.9M660.6 48.4l-0.2 0.7 -0.4 0.5M614.7 50.0l-1.1 0.8 -1.4 0.6M586.9 73.3l1.3 -0.3 0.5 -1.1M700.5 61.7l-1.0 0.4 -0.8 0.6M575.3 87.3l0.9 -0.4 1.3 -0.8M657.2 53.8l-0.7 0.7 -0.7 1.3M652.1 113.5l1.1 -0.9 1.2 0.2M635.4 49.0l-0.7 0.1 -0.7 0.6M616.5 69.9l-0.5 0.7 -0.3 1.3M644.1 52.7l-1.3 -0.0 -0.5 0.2M707.1 57.7l-0.1 0.8 0.8 1.1M572.2 72.0l1.5 0.5 0.8 -0.4M645.6 38.6l-0.6 -0.0 -0.9 -1.0M660.4 37.6l0.0 -1.2 0.2 -1.0M692.7 56.6l-1.6 -0.5 -0.5 -0.8M599.2 34.5l-0.8 0.5 -1.5 -0.3M572.9 57.6l1.7 -0.0 1.3 1.2M649.2 44.4l0.7 -0.4 0.2 -1.2M608.9 45.0l1.5 -0.2 0.6 -0.3M629.7 45.6l0.4 0.3 1.1 0.6M602.5 113.4l0.8 0.1 1.0 1.0M624.5 80.9l0.7 0.4 0.3 0.9M700.1 41.8l1.4 -0.2 1.2 -0.2M692.3 35.0l-0.5 0.1 -1.5 0.3M590.4 108.2l1.6 -0.3 0.9 0.4M638.8 96.1l0.6 0.2 0.9 0.0M582.1 54.4l1.2 -1.3 1.1 -0.4M600.2 127.5l-1.5 0.8 -0.7 0.6M662.5 48.4l0.5 -1.2 0.1 -0.6M612.4 70.3l0.1 -1.2 -0.2 -0.5M633.0 83.3l0.9 -0.7 1.6 -0.7M591.8 82.2l-1.4 -0.1 -1.6 -0.3M596.8 30.2l-0.7 1.0 -0.5 0.7M712.3 29.3l1.3 0.6 0.9 -0.2M586.2 37.7l1.0 0.3 1.0 0.3M658.9 30.9l0.2 0.7 0.1 0.6M613.4 55.1l0.5 0.1 1.1 -0.1M686.8 60.0l1.7 -0.0 1.6 -0.5M574.4 54.3l1.0 -1.0 0.6 -0.3M605.2 78.7l1.3 0.7 0.7 -0.3M696.3 139.1l-0.9 0.1 -1.6 0.1M606.2 28.6l-0.8 -0.1 -0.6 -0.7M598.7 94.6l0.3 1.4 0.4 0.6M597.4 83.8l1.2 -0.1 1.3 -0.2M719.9 76.3l-0.3 0.5 0.2 1.4M630.0 124.6l-1.4 -1.0 -0.8 -0.9M665.1 63.6l1.4 0.5 0.8 0.8M590.9 32.1l-0.8 0.7 -0.9 1.3M638.9 87.2l-0.3 -0.8 -0.7 -0.6M693.6 58.8l1.5 0.8 0.6 -0.2M664.5 55.1l0.1 1.0 0.7 0.6M715.8 50.1l-1.3 1.0 -1.4 0.6M629.7 99.0l-0.9 1.1 -0.3 0.9M699.4 37.4l0.4 0.6 0.0 0.8M699.0 137.6l0.1 -1.6 -1.0 -0.9M579.8 59.0l-0.2 0.7 0.3 1.7M639.7 56.0l1.2 -1.3 0.7 -0.6M696.3 86.9l-0.4 -1.6 0.2 -0.9M721.1 86.7l1.0 1.1 0.9 0.0M653.5 87.6l-1.3 -0.5 -1.3 -0.6M664.8 52.1l-0.5 -0.2 -0.7 -0.4M625.7 137.9l-0.1 0.8 0.0 1.7M671.5 52.8l0.8 0.4 0.6 0.4M661.7 101.2l-0.5 -0.9 -1.6 -0.7M645.6 132.8l1.2 -0.2 1.2 0.1M716.2 105.1l1.0 -0.3 1.0 -1.1M572.9 64.1l1.2 -0.8 1.7 0.1M638.3 41.6l-1.1 -0.9 -0.6 -0.5M605.1 31.5l-0.9 -0.9 -1.2 -0.5M602.1 118.4l-0.1 -1.5 0.1 -1.8M642.9 85.6l-1.2 -0.2 -1.3 1.0M572.7 130.1l-0.4 -0.4 0.0 -1.2M643.6 42.8l-0.5 0.6 -0.8 0.9M668.5 68.0l0.7 -0.1 0.7 -0.3M614.9 56.4l0.1 -1.7 0.5 -0.4M576.7 64.6l1.5 0.0 1.3 0.2M593.9 120.1l-0.6 -0.4 -0.4 -0.5M654.7 25.0l0.7 0.1 1.6 0.3M663.4 69.8l0.0 1.0 0.3 0.5M722.8 98.4l1.0 -0.2 1.5 0.6M581.9 83.8l-1.1 -1.0 -0.8 -1.4M598.9 42.6l-0.4 0.9 -0.5 1.1M593.2 88.9l0.7 -0.0 1.2 0.8M575.7 36.0l-1.1 0.6 -1.2 0.2M602.3 26.5l0.7 -1.1 0.5 -0.5M651.8 33.7l-1.3 -0.6 -0.6 0.1M601.1 27.9l0.4 -1.4 -0.1 -0.7M678.8 55.0l0.1 1.0 -0.3 1.5M705.9 34.0l-0.1 -0.5 -0.4 -1.7M713.0 99.1l-0.5 0.9 -0.7 1.2M626.4 82.1l1.3 0.1 1.4 0.9M620.9 30.1l0.7 0.4 1.6 0.4M646.7 41.6l-0.5 0.5 -0.9 0.8M615.9 121.8l-0.1 -0.6 -0.1 -1.7M714.0 43.4l1.5 0.7 0.3 0.6M640.8 113.1l0.4 -1.3 0.4 -0.4M641.8 72.9l-1.3 1.0 -1.6 0.2M591.6 129.7l-1.4 0.2 -1.1 -0.8M651.3 55.5l0.6 -0.5 0.9 -0.2M725.2 91.7l-0.0 -1.5 -0.0 -1.2M709.1 54.2l0.7 -0.8 1.1 0.0M712.9 101.2l0.9 1.3 0.4 0.4M704.1 31.1l-1.6 -0.6 -0.8 0.2M601.9 58.7l-1.6 -0.7 -0.9 -0.3M647.9 55.2l-0.0 -0.9 0.9 -1.1M681.2 35.4l0.7 0.4 0.2 1.1M574.8 70.5l0.6 -1.3 0.6 -1.1M619.5 109.4l0.5 -0.6 0.3 -0.6M673.5 29.1l-1.4 -0.1 -0.7 -0.5M599.8 45.4l0.2 1.0 0.8 0.9M702.4 38.0l-0.4 -1.1 -0.3 -0.7M596.0 38.7l-1.4 -0.3 -1.6 0.2M602.5 91.1l0.1 -0.9 -1.0 -1.4M670.3 141.2l1.7 0.3 0.5 0.1M593.1 51.4l1.2 -0.9 1.6 -0.8M666.3 41.0l1.4 1.0 0.8 -0.2M592.4 104.0l0.9 -0.8 1.4 -0.9M586.4 101.7l-0.7 -1.2 -0.1 -0.7M633.0 62.7l0.2 1.1 0.5 1.0M656.2 33.0l0.3 -0.6 1.4 -0.3M716.3 48.3l1.5 -0.7 0.8 -1.0M658.3 140.5l1.5 0.3 0.5 0.3M726.5 101.9l-0.2 -0.8 0.2 -0.6M669.9 46.1l-1.1 1.1 -0.7 1.4M705.3 82.1l1.1 0.8 0.4 1.1M597.2 44.7l1.7 -0.4 0.7 -1.4M680.8 24.4l-1.5 0.7 -0.8 0.0M630.3 65.0l0.8 -1.0 0.5 -0.2M664.0 85.0l-0.5 0.6 -1.4 -0.1M599.4 80.9l1.2 0.8 1.6 0.7M641.2 61.2l-1.3 0.1 -1.4 0.5M625.2 113.8l-1.5 -0.9 -0.7 -0.4M684.0 52.4l-1.2 -0.4 -0.6 0.0M612.1 43.4l-1.1 -0.1 -1.5 1.0M595.4 83.9l0.1 -0.9 -0.1 -0.7M681.0 42.1l-0.8 -0.8 -0.6 -1.5M634.9 133.2l-1.4 -0.4 -1.1 -1.3M610.2 41.2l-1.3 -1.1 -1.1 -0.9M590.2 50.5l1.6 0.1 0.6 -0.5M690.5 88.0l0.8 0.8 -0.1 0.7M577.8 101.6l-0.3 -0.7 -0.8 -0.5M695.9 124.8l0.2 1.6 -0.6 0.9M632.4 89.7l0.4 -0.5 0.3 -0.8M663.2 79.6l-0.1 1.2 -0.5 1.3M630.6 79.2l-0.3 0.5 -0.5 1.2M657.3 42.1l1.5 -0.8 0.2 -0.5M581.2 63.5l0.6 -0.5 1.0 -0.4M669.4 41.1l0.3 -1.3 0.5 -0.5M636.8 126.2l1.5 0.1 0.5 -0.3M634.2 59.5l1.7 -0.1 1.2 -0.7M573.3 48.8l-1.0 -1.3 -0.8 -0.3M658.1 57.2l-0.6 -1.6 -0.6 -1.3M625.4 64.9l0.4 -0.4 1.0 -0.3M665.1 43.0l-0.6 -0.8 -0.5 -0.4M574.9 27.8l0.2 -1.7 -0.4 -0.9M714.2 28.5l1.0 -0.2 1.0 -1.3M659.8 65.7l-0.3 -0.7 -0.7 -0.4M595.0 59.4l-1.1 -0.9 -1.1 -0.2M584.1 28.2l0.5 0.8 0.9 0.5M600.4 101.2l-0.7 0.0 -0.6 -0.6M685.5 75.7l-0.6 0.2 -1.1 -0.0M652.4 129.2l-0.4 1.3 0.1 1.6M602.2 66.4l-0.4 -0.4 0.0 -1.7M606.8 66.7l-0.8 0.9 -0.8 0.0M717.7 62.0l0.6 -0.3 1.5 -0.2M706.6 89.9l1.4 -0.7 0.4 -1.1M619.2 135.7l-0.1 0.8 -0.1 0.7M606.7 111.0l1.4 -0.4 1.3 -0.1M649.0 51.2l0.5 -0.0 0.5 0.5M602.6 103.1l0.2 -1.0 -0.8 -1.1M609.6 72.4l-0.9 -0.4 -0.5 -0.4M581.1 67.7l0.9 0.5 0.4 1.3M633.9 77.2l-0.5 -0.4 -0.7 0.2"/>
<path stroke="#2848d0" stroke-width="1.7" stroke-opacity="0.88" d="M644.1 109.6l-0.3 0.1M684.5 105.5l0.3 0.0M597.4 96.1l-0.2 -0.4M611.4 62.4l-0.2 -0.5M723.8 119.0l-0.4 0.1M648.4 124.2l0.1 -0.4M623.9 60.4l0.1 0.0M682.0 135.1l0.6 0.5M641.3 132.3l-0.5 -0.4M713.5 74.5l0.2 -0.0M597.1 57.9l-0.2 -0.2M579.8 120.6l0.1 -0.0M603.3 42.7l0.0 0.1M608.2 49.4l0.2 0.1M716.7 40.0l-0.6 0.0M712.1 47.4l0.4 -0.2M688.5 53.4l0.5 0.1M701.7 25.5l0.3 0.3M575.9 89.4l-0.1 0.8M668.0 140.6l0.3 -0.7M630.5 74.3l0.2 -0.1M718.1 49.8l-0.0 0.2M589.5 52.6l0.3 0.1M617.9 66.8l0.6 0.3M621.6 72.6l0.5 0.1M720.4 32.1l-0.7 0.1M588.3 62.3l0.3 -0.3M615.4 91.9l-0.2 -0.1M623.8 110.0l-0.0 0.4M700.4 70.5l0.2 -0.7M616.4 140.1l0.6 -0.4M658.7 129.8l-0.3 0.4M690.7 42.4l0.0 0.0M699.7 93.6l0.3 0.2M649.4 87.2l0.6 0.0M725.1 133.0l-0.2 -0.1M577.3 136.9l-0.7 0.3M678.3 96.2l-0.0 0.6M608.0 102.7l-0.5 -0.0M623.2 102.7l0.1 0.7M662.3 106.3l-0.1 0.3M717.2 27.8l-0.3 -0.7M637.5 84.1l0.1 -0.2M588.0 25.3l-0.5 0.5M670.3 117.1l-0.1 -0.2M622.9 114.3l-0.0 0.0M677.7 118.3l-0.3 -0.3M633.8 103.7l-0.4 0.0M588.5 111.5l-0.0 -0.0M663.8 56.8l-0.1 0.5M687.5 140.8l-0.4 -0.4M714.4 78.2l0.2 0.1M686.9 134.5l0.1 -0.0M603.1 130.3l0.4 0.1M662.0 68.2l-0.3 0.6M686.2 118.7l-0.6 -0.2M665.9 36.4l0.1 0.3M599.7 130.4l0.0 -0.1M707.2 100.2l0.7 -0.2M676.6 112.6l-0.1 0.1M573.9 119.7l-0.4 -0.6M660.9 31.2l0.1 -0.0M628.0 92.4l-0.0 0.2M648.1 57.2l-0.0 0.4M602.0 80.1l-0.1 0.0M724.1 77.0l-0.0 0.0M659.7 44.3l-0.1 0.2M670.0 127.9l0.3 0.6M702.7 64.3l-0.5 0.1M581.6 117.8l0.2 -0.0M619.3 116.6l-0.5 0.1M727.2 32.4l-0.3 -0.3M657.9 73.6l-0.6 0.3M678.2 27.6l-0.1 -0.0M728.2 42.0l0.0 -0.0M680.4 95.2l0.7 0.2M590.2 138.4l-0.1 -0.2M722.8 125.7l0.3 -0.1M606.8 88.9l-0.3 -0.3M703.5 81.1l-0.1 -0.3M665.9 130.6l0.7 -0.2M681.7 91.6l0.2 0.2M621.4 61.6l-0.0 -0.1M634.6 81.1l0.7 0.1M703.2 115.5l0.4 0.1M607.7 139.6l0.4 0.6M633.0 29.5l-0.1 0.2M672.1 48.0l-0.2 -0.1M617.2 44.5l-0.1 0.3M714.8 39.7l0.2 0.0M653.9 41.3l0.1 -0.2M603.1 134.1l-0.8 0.1M574.2 111.5l-0.1 -0.2M724.4 108.6l0.7 -0.2M713.0 105.2l-0.0 -0.6M638.4 99.3l-0.1 0.0M661.3 124.9l-0.0 -0.0M712.8 80.2l0.0 0.6M651.2 63.5l-0.0 0.2M722.0 68.1l0.1 -0.3M625.6 121.5l-0.1 -0.0M653.3 104.4l0.5 -0.1M705.3 97.2l0.7 0.1M666.8 103.7l-0.2 -0.2M653.9 52.2l-0.3 -0.5M678.8 128.7l-0.4 0.6M677.7 71.4l0.1 0.6M609.5 77.0l-0.3 0.6M588.6 133.3l-0.6 0.3M686.5 43.4l-0.2 0.1M572.3 60.4l-0.0 0.0M717.4 75.4l0.6 -0.3M650.4 128.3l0.3 0.2M692.1 90.8l-0.2 -0.2M591.7 33.8l-0.4 0.3M672.9 73.7l-0.3 -0.5M587.9 95.7l-0.1 0.5M644.0 89.1l0.0 -0.4M714.4 33.3l0.0 0.1M585.6 93.5l-0.1 -0.6M585.6 76.2l-0.1 -0.0M629.6 126.9l0.0 -0.1M630.3 107.9l0.2 -0.5M716.5 32.2l0.5 0.4M707.3 68.8l-0.1 -0.5M616.2 86.7l0.0 0.6M647.3 44.1l-0.1 0.2M691.5 29.9l0.4 -0.3M605.7 100.1l-0.3 -0.0M726.9 29.0l0.0 -0.1M637.8 54.5l0.0 -0.2M713.2 66.4l-0.7 0.4M598.8 40.4l-0.6 -0.0M719.6 72.0l0.2 0.2M694.7 80.6l-0.5 0.5M604.9 94.1l-0.2 -0.7M667.8 125.0l0.0 0.0M597.5 100.0l0.6 0.2M598.5 88.7l0.2 -0.4M728.9 49.6l-0.0 0.0M598.2 102.1l0.5 0.4M691.0 136.4l-0.1 0.4M580.6 102.4l-0.1 0.1M609.1 70.2l-0.0 -0.0M684.1 132.4l0.2 0.0M673.6 31.5l0.3 0.3M706.5 43.7l0.1 -0.6M591.4 110.7l0.3 -0.7M687.2 74.2l-0.3 0.2M693.3 132.9l-0.2 -0.1M590.8 116.2l0.5 -0.3M578.7 141.1l-0.2 0.4M709.7 25.7l0.0 0.0M701.9 43.0l0.6 0.0M707.4 112.8l-0.7 -0.2M716.8 117.9l0.1 0.1M627.4 66.8l-0.5 0.1M640.3 47.7l-0.3 -0.7M645.4 139.0l0.3 0.2M722.1 110.9l0.3 -0.4M573.1 135.0l0.4 -0.3M695.7 103.1l0.1 0.0M645.5 43.4l-0.3 0.2M698.9 62.8l0.1 0.3M594.7 100.4l0.0 0.7M594.9 49.4l-0.3 -0.2M721.2 38.4l0.6 -0.0M579.9 52.7l0.2 -0.2M605.2 25.2l-0.0 0.0M589.5 98.0l-0.2 0.8M680.0 32.2l-0.1 -0.0M693.3 27.3l-0.4 -0.0M591.7 101.8l0.1 -0.2M623.8 89.6l0.4 -0.5M622.5 82.0l-0.2 0.1M581.1 27.0l-0.0 -0.3M711.1 60.4l-0.3 -0.0M695.3 130.5l0.1 -0.1M596.4 62.4l0.2 -0.3M577.5 134.9l-0.0 0.6M705.3 41.7l0.2 0.4M583.0 116.3l-0.3 0.1M662.5 128.8l-0.4 0.2M612.2 99.4l-0.8 -0.1M655.8 139.3l-0.2 0.1M631.6 41.8l-0.2 0.0M699.2 106.2l0.2 -0.0"/>
</g></g>
<clipPath id="cp4"><rect x="86.8" y="148.0" width="154.1" height="114.0"/></clipPath>
<g clip-path="url(#cp4)">
<rect x="84.8" y="146.0" width="158.1" height="118.0" fill="url(#bg)"/>
<g filter="url(#soft)" fill="none" stroke-linecap="round" stroke-linejoin="round">
<path stroke="#1f38d8" stroke-width="1.6" stroke-opacity="0.92" d="M152.0 200.7l1.0 0.4 1.4 -0.3M100.2 251.7l0.7 1.5 1.0 0.3M200.8 227.8l-0.8 -0.0 -0.8 -0.5M233.1 257.4l-0.4 1.3 -1.1 1.3M112.4 172.0l1.0 0.7 0.7 -0.0M208.5 240.5l0.7 -0.5 0.8 -0.5M102.5 238.5l-0.8 0.4 -0.9 1.4M220.1 250.5l0.5 0.5 0.5 1.5M150.5 184.3l-0.7 0.2 -0.3 0.7M103.1 211.8l0.5 -0.6 -0.0 -1.6M127.2 253.6l-1.0 0.1 -0.6 0.1M197.5 154.9l1.2 0.9 1.6 0.2M150.2 253.6l0.7 0.4 1.0 -0.2M92.0 157.1l0.5 1.3 0.3 1.2M210.0 222.9l-1.2 0.4 -1.5 0.7M171.0 163.0l-0.4 1.2 -0.9 0.9M198.2 166.4l0.3 -0.6 -0.2 -0.6M216.5 179.5l1.4 0.6 1.3 0.3M96.5 217.5l-1.1 0.9 -0.8 0.4M198.5 183.0l-0.7 0.6 -0.5 0.6M222.4 255.0l0.8 -1.0 0.4 -0.5M218.0 210.5l-0.7 -0.1 -1.0 -0.5M231.5 254.1l0.0 -0.8 -0.9 -0.9M114.9 215.8l-1.0 -0.9 -0.3 -0.9M227.5 236.2l-0.7 -1.1 -1.4 -0.6M241.2 157.6l-1.2 0.3 -0.9 -0.5M94.2 183.0l0.3 -0.7 -0.3 -0.5M160.5 197.1l-0.7 -0.4 -1.1 -0.6M177.7 248.9l0.7 0.3 0.8 0.2M139.1 181.1l0.6 -1.3 1.0 -0.8M94.1 177.9l0.6 1.2 -0.0 1.2M163.1 164.6l0.8 1.5 -0.1 0.8M172.6 166.3l0.4 1.5 0.0 0.7M87.4 223.6l-0.3 1.2 -0.2 1.1M125.8 168.4l0.8 0.9 0.6 0.9M138.7 229.7l0.2 1.0 0.1 1.0M142.8 249.8l0.3 1.3 -0.3 1.3M89.5 208.9l0.4 0.8 -0.5 1.0M212.3 149.1l0.6 -1.1 0.3 -1.3M104.9 228.0l-1.1 -0.3 -0.8 -0.8M97.4 252.0l1.2 -0.9 0.5 -0.4M160.3 204.1l0.8 -0.6 0.6 -0.2M96.9 243.6l0.9 -0.2 1.1 -0.5M109.6 191.6l0.8 1.4 -0.1 0.6M221.7 160.6l-1.6 0.5 -1.3 -0.5M118.7 175.3l0.9 -1.1 0.7 -0.0M217.0 250.7l-0.3 -0.6 -1.3 -0.4M120.7 177.2l-0.4 -0.7 0.1 -0.6M159.1 168.8l0.3 1.1 0.4 1.1M117.2 204.2l-0.1 1.5 -0.0 0.9M237.2 198.3l0.0 1.5 0.2 0.6M209.1 182.4l0.9 0.7 0.9 0.5M164.7 244.2l-0.2 1.6 0.4 1.3M97.8 211.9l-0.8 -0.4 -0.8 -0.3M179.7 174.7l0.2 -1.7 -0.2 -1.2M149.0 186.3l-0.6 -0.5 -0.8 -1.5M105.0 255.2l-0.2 1.1 -0.6 1.2M157.3 205.8l0.7 1.1 0.7 0.4M130.4 163.6l-1.0 1.2 -0.4 0.6M179.7 168.6l-0.7 -0.9 -0.7 -0.7M151.3 203.3l0.3 1.1 0.7 0.5M224.7 194.2l-0.7 -0.8 -1.2 -0.7M242.5 209.6l-0.7 -0.8 -1.0 -1.3M204.1 233.7l-0.5 -0.4 -0.3 -0.7M204.0 200.6l-1.1 -0.1 -0.8 0.7M173.3 176.4l-1.5 -0.2 -1.3 -0.1M165.3 241.6l-1.4 0.1 -0.7 -0.8M130.6 167.2l-0.5 0.7 -1.1 0.1M144.2 212.3l0.0 -1.3 -0.9 -0.8M163.6 209.9l1.3 -0.3 0.8 -1.3M123.5 216.6l-0.3 0.6 0.3 1.0M235.2 161.4l0.0 -1.0 0.4 -1.2M106.5 154.6l-1.3 -0.1 -0.8 -0.4M172.7 199.6l-1.5 0.3 -0.9 0.9M181.0 212.7l1.0 0.1 1.3 0.1M133.1 222.1l-0.5 0.4 -0.6 1.3M116.5 155.8l-1.0 1.1 0.1 1.0M150.8 181.1l0.8 0.4 1.0 0.2M219.3 218.5l-0.9 1.1 -0.4 1.5M128.0 246.6l0.6 0.2 0.6 0.0M232.5 249.0l-0.5 -1.3 -1.0 -0.6M236.1 228.8l0.9 0.4 0.5 1.6M157.9 198.9l-0.7 -0.7 -0.4 -0.6M124.7 258.1l0.0 -0.8 -0.1 -0.8M229.4 185.3l0.5 -0.7 0.2 -0.6M202.7 172.2l0.1 0.6 -0.1 1.5M115.8 170.2l0.3 0.7 1.0 1.0M212.6 160.0l-0.6 0.4 -0.9 -0.1M228.3 257.3l-0.1 0.9 0.5 0.7M211.2 206.3l0.4 0.9 0.4 1.1M165.5 177.3l-0.2 -1.0 0.2 -1.0M200.5 169.3l-0.0 -1.7 0.6 -1.1M179.8 178.6l-0.7 1.4 -0.7 0.6M191.7 234.1l-0.4 0.7 -0.3 0.9M204.0 223.5l1.4 0.7 0.8 0.3M101.0 216.1l0.8 -0.2 0.5 -0.5M159.2 219.8l-1.1 -0.3 -0.5 -0.9M122.4 198.7l0.9 1.2 1.2 0.3M205.7 158.3l0.0 -1.3 -0.2 -0.9M240.0 176.4l-0.2 -1.3 0.9 -1.1M107.3 252.2l1.5 -0.5 1.4 -0.7M173.7 180.5l0.3 1.1 0.4 0.9M239.7 256.3l-0.6 -0.5 -0.6 -0.0M183.6 203.8l0.8 0.9 0.5 0.6M238.7 224.0l0.6 -0.2 0.7 0.3M115.9 246.6l-1.1 0.1 -0.7 -0.4M135.1 154.6l-0.5 -1.2 -0.5 -0.8M158.1 172.3l0.3 0.9 -0.2 0.7M155.6 156.6l-0.9 0.3 -1.4 -0.2M174.3 191.6l-0.8 -0.9 -0.5 -1.2M237.1 174.2l-1.2 0.9 -1.5 -0.3M182.5 181.3l0.3 1.4 1.4 0.8M144.7 238.3l1.0 0.7 0.1 0.8M175.2 158.1l-0.8 0.4 -1.4 -0.5M226.7 213.6l-0.2 -0.8 -0.7 -0.7M218.4 240.7l-0.7 0.2 -0.9 1.3M132.4 178.4l-0.3 -0.8 -0.8 -1.2M186.2 167.3l-0.0 -0.9 0.2 -1.0M146.7 247.7l-0.6 0.4 -1.4 -0.1M238.7 253.4l0.5 0.3 0.9 0.3M111.9 213.8l1.0 -1.3 1.3 -0.6M238.3 172.0l-0.4 1.3 -1.0 0.6M153.2 206.1l-0.3 0.6 -1.1 0.6M135.1 208.3l-0.6 -1.5 -0.4 -0.5M153.0 175.9l-1.4 -0.4 -0.5 -1.3M132.7 210.9l-1.0 -0.5 -0.7 -1.1M106.5 173.5l-0.7 1.1 0.0 1.4M113.3 198.2l0.2 -1.1 0.1 -0.7M116.7 158.6l-0.1 -1.5 0.8 -0.8M143.4 245.2l1.0 0.8 0.0 1.3M105.5 263.9l-1.3 -0.7 -1.1 -0.4M224.6 166.7l0.1 -0.8 0.8 -0.8M127.6 200.1l0.6 0.3 1.2 0.4M129.7 197.1l-1.2 0.3 -1.0 0.5M142.0 154.3l-0.3 0.6 -0.1 0.7M190.0 170.4l-0.3 -0.6 -0.6 -0.9M92.4 206.2l0.7 -0.4 1.5 -0.4M107.8 184.7l0.8 1.5 1.3 0.7M221.8 150.3l-0.6 0.0 -0.8 -0.7M170.5 205.0l1.2 -0.2 1.3 -0.8M184.3 196.9l-0.2 -1.3 0.1 -1.2M166.8 165.5l0.7 -0.0 1.3 0.4M166.3 168.2l-1.2 -0.6 -0.6 0.3M223.2 257.2l-0.6 -0.4 -0.8 0.0M225.1 243.7l0.8 -1.0 1.3 -0.5M140.2 250.6l-0.4 1.6 0.5 1.5M153.7 169.3l1.3 -0.5 1.0 0.6M183.0 217.6l0.2 -1.2 -0.1 -1.0M122.5 196.6l-0.6 0.3 -0.9 0.6M185.8 159.3l0.6 -0.4 1.7 0.2M132.1 173.4l-1.2 1.1 -0.9 0.1M126.9 183.2l1.1 -0.6 1.2 -0.9M107.6 181.7l-0.7 -0.7 -0.2 -0.8M96.9 239.1l-1.1 -0.5 -1.3 -0.1M206.4 188.7l-1.0 0.0 -0.7 -0.8M188.5 150.1l-0.7 1.0 -1.2 0.5M239.0 146.2l-1.0 -0.9 -1.5 0.2M196.7 186.3l1.2 -1.0 0.3 -1.1M157.1 230.1l0.2 1.1 -0.3 1.5M142.1 228.9l0.4 1.3 0.1 1.0M173.8 210.5l0.8 -0.6 0.9 -0.5M207.3 251.6l-0.8 -0.9 -1.0 -0.8M191.0 258.5l0.3 0.7 -0.6 1.5M192.3 253.5l-0.4 -0.7 -0.2 -0.6M134.5 218.1l-0.3 -1.5 -0.8 -0.8M170.6 178.0l1.2 0.3 0.8 0.5M190.2 207.8l-0.9 -0.8 -1.0 -1.2M177.1 231.1l-1.5 -0.6 -1.1 0.0M136.4 205.6l0.8 0.2 1.1 0.5M180.5 243.9l-0.7 0.7 -0.2 0.6M144.8 199.4l-0.8 -0.4 -0.8 0.0M201.4 177.8l-0.5 -0.8 0.1 -0.7M120.8 224.2l1.0 0.2 0.6 0.3M183.4 243.0l-0.6 -1.5 -1.0 -0.5M151.5 248.7l-0.1 0.8 0.6 1.0M125.2 184.2l-0.6 0.2 -1.0 0.2M140.7 193.3l1.2 -1.0 1.2 -0.1M169.5 228.0l-0.1 -1.3 0.3 -1.1M126.7 239.2l-0.6 -1.4 -0.6 -0.4M182.8 171.4l-1.1 0.2 -0.7 0.9M173.2 218.8l-0.6 0.3 -1.4 -0.1M154.3 182.0l1.7 -0.1 0.6 -0.1M153.5 194.5l-1.0 -1.2 -1.4 -0.2M117.2 188.4l1.0 -0.5 1.0 -0.4M236.6 225.1l-0.1 0.7 0.3 0.6M218.8 159.4l0.9 0.3 0.7 0.6M214.8 210.6l1.3 -0.4 0.8 -0.2M164.7 182.8l0.3 -0.8 0.9 -0.5M86.1 260.2l0.4 -0.7 0.6 -0.2M113.8 146.1l0.4 -1.2 0.8 -1.4M176.9 202.1l-0.0 -1.6 0.3 -1.3M162.7 198.6l1.5 0.2 1.2 -0.7M181.7 234.6l1.4 -0.6 1.4 0.1M163.8 175.1l-1.1 0.1 -0.7 -0.4M151.1 217.7l0.3 -1.4 0.5 -0.4M117.4 227.1l0.9 -1.2 0.9 -1.1M120.8 259.8l1.3 -0.2 1.3 0.2M184.4 148.0l-0.2 -1.6 -0.6 -0.9M108.2 249.6l1.2 -0.2 0.3 -0.6M92.7 247.6l0.5 -1.3 -0.5 -1.4M212.0 186.8l0.6 0.9 0.8 0.5M187.1 203.4l0.7 1.5 0.0 1.2M171.6 155.7l0.4 -1.0 0.5 -1.5M162.8 202.1l1.0 0.8 0.5 0.5M175.3 179.3l-0.1 -1.3 -0.9 -1.3M157.5 240.6l-0.5 1.4 -0.3 1.5M108.0 188.1l-1.0 0.1 -0.9 0.3M174.5 186.0l1.2 0.6 0.6 0.8M189.8 201.1l0.6 0.4 1.0 -0.1M227.3 173.9l1.5 0.1 0.7 0.2M214.5 168.7l0.3 -1.6 -0.1 -0.8M155.4 204.1l1.6 0.2 1.4 0.2M153.0 163.5l1.2 0.5 0.7 0.7M99.8 193.2l0.2 -1.4 0.5 -0.5M218.1 247.8l0.9 -0.6 0.3 -1.1M116.6 147.6l0.7 -0.4 1.3 -0.7M110.3 158.1l1.2 0.8 1.1 1.0M123.5 218.6l-1.2 -1.1 -1.0 -1.0M212.8 217.8l0.8 0.2 1.5 0.1M193.1 260.4l1.1 -1.0 1.1 -0.9M139.6 204.7l0.1 -0.7 -0.3 -0.7M119.3 161.8l-0.7 -1.2 -0.3 -1.3M95.6 188.6l0.2 1.7 0.6 1.4M158.6 258.0l0.1 1.0 -0.5 0.9M94.0 229.9l-0.7 0.9 -0.8 0.3M156.6 224.6l1.3 -0.2 1.1 0.2M91.6 173.7l0.7 1.3 0.6 0.5M99.7 183.1l-1.1 0.9 -0.8 0.3M209.4 229.3l0.8 -0.6 0.5 -0.8M113.4 162.0l-0.6 -0.1 -1.1 -0.3M110.4 182.9l-1.3 0.2 -0.5 0.5M236.6 154.3l-0.3 -1.5 0.6 -1.5M114.9 176.5l-0.2 -1.5 1.0 -1.3M117.9 164.0l-0.5 -0.6 -0.9 -0.8M102.1 247.6l0.1 1.2 0.2 1.4M240.3 228.0l0.6 0.5 1.1 0.4M131.7 170.6l0.9 0.7 0.6 -0.1M211.7 214.5l0.3 1.2 0.0 1.3M229.2 197.6l-1.0 0.9 -0.8 0.7M204.4 249.4l0.1 1.2 0.3 1.1M149.9 196.7l-1.0 0.1 -1.0 0.2M122.4 156.2l-1.3 0.2 -1.1 -0.7M128.7 255.9l-1.2 -0.1 -0.5 0.4M110.4 148.9l-0.2 -1.3 0.3 -0.7M176.6 259.7l-1.1 -0.2 -1.5 -0.3M87.2 253.9l0.1 1.3 0.5 1.6M103.6 176.0l-0.2 -1.0 0.1 -1.1M184.1 254.1l-0.7 0.2 -1.3 1.0M159.7 166.9l0.7 -0.8 0.7 -0.2M241.9 198.9l-0.2 -0.7 0.3 -1.2M202.9 256.3l-1.1 0.6 -0.3 0.9M120.8 185.2l0.5 1.4 -0.3 1.3M227.4 250.6l-0.5 0.5 0.1 0.8M191.4 148.7l-1.2 0.4 -0.7 -0.3M199.8 152.3l-0.5 -0.6 -0.5 -1.4M223.3 157.1l-1.0 -0.0 -0.8 0.0M136.2 186.2l0.5 -0.5 1.1 -0.2M214.1 204.3l-0.1 -0.8 -0.3 -1.0M125.8 218.7l-0.5 0.7 -0.2 1.0M128.8 242.9l-1.2 -0.7 -0.8 -1.3M237.4 236.6l0.2 1.1 1.2 0.9M213.1 147.1l-0.7 -0.7 -0.7 -0.5M157.6 263.4l0.3 -1.3 0.3 -0.5M170.5 170.5l-1.4 -0.6 -0.9 -1.0M174.9 171.2l-0.1 -1.4 -0.3 -0.8M206.3 223.9l-1.0 0.6 -1.3 0.8M143.3 148.3l-0.7 -0.6 -0.9 -0.4M133.9 183.7l-0.4 1.5 0.7 1.0M198.2 232.4l0.4 -0.7 0.4 -1.3M151.7 198.2l-0.6 -1.2 -0.7 -1.5M101.3 161.2l1.2 -0.3 0.8 -1.1M206.3 173.1l0.2 1.4 0.1 0.7M85.1 232.2l0.3 -1.6 -0.4 -1.3M162.8 159.1l-0.1 0.6 0.3 1.0M227.9 169.4l1.7 -0.3 1.2 0.5M155.8 231.6l-0.0 0.9 -0.4 0.7M98.6 153.0l1.3 -0.5 1.2 0.6M212.4 190.3l-0.8 -0.5 -1.2 -1.0M180.8 253.9l1.3 -0.1 0.6 -0.6M199.9 161.7l-0.2 -1.2 -0.7 -1.3M85.1 263.2l0.1 0.7 0.3 1.4M229.6 162.9l1.1 0.7 0.2 1.4M225.3 173.4l0.1 -1.2 -1.0 -1.2M182.1 169.3l-1.3 1.0 -0.0 0.9M236.3 240.3l1.3 0.8 1.0 1.3M134.1 165.8l0.6 -0.3 0.6 -0.7M203.2 202.5l1.1 -0.5 0.6 -0.9M155.3 206.4l-0.2 1.6 -0.0 0.9M140.2 223.2l-0.8 0.5 -0.9 0.4M90.8 224.8l0.5 1.0 0.8 1.4M142.6 194.2l-0.1 -0.9 -0.6 -1.1M144.4 160.6l-0.3 0.7 0.3 1.1M86.4 202.4l0.7 0.2 1.3 -0.6M176.7 244.4l1.2 -0.8 1.4 0.1M94.5 208.2l0.6 1.5 1.4 0.8M96.8 199.6l-0.8 -0.8 -0.3 -0.8M155.1 237.2l0.5 -0.4 0.4 -0.5M171.7 161.0l-1.0 -1.3 -0.4 -0.6M222.4 189.6l0.5 0.4 1.2 -0.2M88.3 206.3l1.0 -0.3 0.7 0.2M158.7 153.0l-0.7 -0.6 -0.8 -1.4M178.4 146.2l0.7 -1.4 1.0 -1.1M130.0 233.7l-0.7 -1.0 0.2 -1.4M130.3 228.7l-0.6 -1.3 0.2 -1.6M197.0 179.9l-0.6 0.5 -0.4 1.2M113.0 248.1l0.7 -1.0 0.0 -0.6M89.2 215.1l0.4 0.5 0.1 1.2M165.3 258.5l1.4 0.9 1.1 -0.0M170.1 186.2l-0.2 1.3 0.2 0.9M235.7 250.1l-1.3 0.3 -0.6 -0.0M175.5 147.2l0.9 0.8 1.5 0.6M230.0 238.4l0.5 -1.4 1.2 -1.1M149.7 163.0l0.8 -0.1 0.6 -0.3M114.8 207.9l0.7 0.8 0.3 1.0M108.6 238.9l-0.4 1.1 -0.8 0.5M177.8 250.8l-1.1 -0.4 -1.5 -0.4M209.4 218.0l0.7 -0.6 1.0 -0.1M194.7 181.4l-0.4 -0.5 -0.4 -0.8M230.2 220.7l1.0 -0.4 1.5 0.6M185.2 214.9l-1.3 -0.1 -0.8 -0.7M217.9 163.0l-0.9 -1.1 -0.7 -0.1M226.9 231.7l-0.9 -1.2 -1.0 -1.3M215.2 201.9l1.5 0.1 1.3 0.1M115.8 200.6l-0.6 1.5 -0.7 0.2M111.2 225.4l0.4 1.4 -0.2 0.6M120.9 191.3l0.4 1.5 0.2 1.0M201.8 230.5l-0.8 -0.7 -1.1 -0.6M164.9 180.2l0.9 -0.4 1.3 0.0M185.4 255.7l-0.5 1.1 -0.0 1.0M146.3 159.6l1.4 0.7 1.7 0.3M98.2 165.4l-1.3 0.6 -0.7 -0.3"/>
<path stroke="#1a30d4" stroke-width="2.2" stroke-opacity="1" d="M183.7 158.4l-0.1 1.1 0.0 1.1M100.6 234.9l0.7 1.2 -0.0 0.6M238.3 168.7l0.7 -1.3 -0.2 -0.8M202.6 189.3l-0.6 -1.0 -0.4 -1.6M129.3 248.7l-0.6 0.4 -0.1 0.6M214.7 233.2l-0.7 0.2 -0.5 1.1M189.0 217.4l-0.7 1.2 -0.6 0.5M103.3 179.1l-0.2 -0.8 -0.2 -0.5M223.0 207.6l-1.4 -0.7 -1.1 -1.1M147.7 230.8l0.6 1.5 -0.5 1.6M182.9 231.7l0.6 -0.6 1.2 -0.4M234.1 212.8l-0.3 1.3 -0.6 1.3M209.2 156.9l0.3 0.5 1.2 1.3M188.1 165.7l0.6 0.3 0.9 0.1M134.8 237.0l0.0 0.8 0.0 1.0M198.7 212.7l1.3 1.2 0.7 0.4M162.7 261.9l0.1 1.5 0.5 1.2M186.9 193.1l-0.5 -0.2 -0.5 -0.9M186.3 178.8l0.5 -0.3 0.9 0.2M236.8 163.3l0.5 -0.9 0.3 -1.3M197.7 174.9l0.5 -1.0 -0.1 -1.0M195.6 205.1l0.1 -0.5 -0.1 -1.6M196.9 189.8l0.4 0.4 0.2 0.5M151.5 148.8l-0.6 0.7 -0.5 0.6M112.2 261.1l0.9 0.8 0.3 1.3M129.2 223.6l-1.4 -0.7 -1.1 0.1M136.7 216.9l0.9 1.4 0.6 1.5M210.6 261.6l1.2 -0.0 0.5 0.1M190.7 243.0l-0.7 0.4 -1.0 -0.3M139.3 233.9l1.2 0.8 1.0 0.4M155.4 240.5l-0.5 1.7 0.4 0.8M191.4 237.7l-0.4 0.6 -1.4 0.4M94.6 226.9l-0.2 0.5 0.3 1.4M158.9 216.6l1.4 -0.4 1.3 -0.6M153.9 224.5l1.4 -0.8 0.6 -1.6M213.1 171.9l-0.7 0.2 -1.5 0.4M159.7 214.5l-0.4 0.6 -0.1 1.7M218.6 222.1l0.1 1.4 0.3 1.4M87.0 210.6l-0.3 -0.5 -1.2 -1.0M149.5 241.2l0.7 0.8 0.9 0.3M165.4 232.7l1.3 0.7 1.0 0.7M234.0 194.5l0.9 -1.3 -0.3 -1.5M181.5 256.7l-1.0 1.3 -0.2 1.2M122.4 231.7l0.6 -1.0 0.5 -0.1M103.3 182.7l0.2 0.8 -0.1 0.5M221.3 240.5l-1.0 0.8 -1.3 -0.0M120.5 174.4l-1.0 0.3 -0.8 0.9M171.3 175.1l-0.4 -0.8 -0.4 -0.8M166.3 235.8l1.1 1.3 0.6 0.6M154.0 189.9l-0.3 1.7 -0.4 0.5M185.7 164.8l0.2 1.2 0.4 1.2M235.0 191.7l0.9 -0.2 1.0 0.2M159.0 224.3l0.3 -0.7 0.6 -1.3M106.4 232.3l-0.9 -0.1 -0.6 0.0M215.4 196.3l-0.6 0.2 -0.4 0.7M119.9 152.6l-0.7 0.1 -0.9 -0.0M113.2 229.7l0.6 1.4 -0.3 1.3M177.6 255.9l-0.3 -1.2 -1.2 -1.0M107.0 168.1l0.0 1.1 -0.4 0.7M138.4 190.7l0.8 0.7 1.0 0.1M101.2 174.7l-0.1 0.5 0.2 1.6M174.8 239.9l-0.2 0.5 -0.8 1.0M168.6 257.8l-1.6 0.5 -0.7 0.8M185.3 245.6l-0.7 0.4 -0.9 1.5M87.2 229.1l-0.4 -0.8 -0.7 -0.5M189.2 221.0l-0.8 -0.5 -0.6 -1.6M94.7 171.1l-1.6 -0.6 -1.1 -0.9M132.2 191.6l0.4 -1.6 -0.2 -1.1M111.0 205.4l0.1 0.7 -0.2 1.8M140.2 184.1l-1.4 -0.1 -0.7 -0.1M146.3 222.3l0.7 1.3 -0.3 1.1M118.8 179.3l-1.1 -0.6 -1.6 -0.1M164.0 188.7l-1.1 1.4 -0.3 1.2M226.3 211.1l0.5 0.4 1.2 0.8M126.5 221.9l0.9 1.1 1.4 0.3M209.3 258.0l0.6 0.7 1.2 1.0M196.5 227.9l-0.5 -0.8 0.3 -1.0M174.7 247.6l-1.1 1.0 -0.0 0.7M90.8 253.2l-0.5 -1.3 -0.4 -1.2M148.7 243.4l0.2 -0.7 0.5 -1.3M214.9 240.7l0.9 1.0 0.6 0.9M90.0 177.2l0.8 -0.9 0.3 -0.9M175.5 237.9l1.0 -1.2 0.4 -0.5M160.0 190.7l0.8 0.7 0.3 0.9M197.2 222.8l0.6 0.1 0.8 -0.4M122.5 175.3l1.0 0.8 1.1 0.7M158.0 178.6l1.7 0.1 1.2 0.5M182.5 176.8l-1.2 -1.0 -0.1 -1.3M132.8 156.5l0.8 -0.5 0.4 -0.8M110.4 217.0l-0.3 0.9 -0.4 0.4M189.6 152.5l-0.8 0.1 -0.4 0.4M148.1 204.7l1.1 1.1 0.4 1.7M129.9 190.5l1.2 -1.0 0.7 -0.0M159.3 243.4l0.5 -0.8 -0.4 -1.6M225.8 199.7l-0.5 0.3 -0.5 0.4M190.1 213.2l1.1 -0.3 0.5 -0.5M115.8 260.7l0.7 -0.2 0.6 -0.9M224.6 197.0l-0.5 0.0 -1.0 -0.1M202.4 225.1l-1.7 0.4 -1.3 0.7M183.2 186.5l-0.7 1.3 -1.4 0.7M206.9 209.7l-0.7 -1.1 -0.1 -0.7M141.4 238.3l0.7 0.7 1.7 0.6M89.9 153.6l1.0 0.4 0.7 1.4M193.8 244.1l0.8 0.3 1.1 0.0M140.5 247.8l-0.5 0.3 -1.1 0.9M101.0 200.8l0.8 -1.3 1.1 -0.3M227.4 253.1l-0.1 -1.6 -0.8 -1.5M120.0 155.0l-0.2 0.6 -1.2 1.1M210.4 168.6l-1.4 1.1 -0.6 0.7M238.9 203.7l-0.9 0.7 -1.4 0.4M193.1 204.9l0.3 1.8 0.3 1.7M98.2 180.5l-1.6 0.6 -1.3 0.7M148.9 226.9l1.1 -0.1 0.8 -0.1M102.9 219.0l1.3 -0.9 0.8 -0.2M230.9 170.7l0.8 0.2 0.6 -0.1M120.6 263.1l-0.2 -1.2 -0.0 -0.5M89.7 222.6l-0.5 0.4 -0.4 0.4M149.7 190.5l-0.7 0.3 -1.0 1.5M212.4 225.4l0.1 0.7 0.6 1.5M184.2 222.1l-0.2 0.7 -0.9 1.1M119.1 200.6l0.9 0.7 0.5 0.7M93.5 215.7l0.3 1.2 0.1 1.7M99.3 202.6l0.7 -0.4 1.1 -0.3M229.3 231.1l0.8 0.4 1.4 -0.6M95.3 206.3l-0.2 -1.2 -0.5 -0.6M104.2 247.4l-0.9 0.3 -1.2 -0.1M168.3 239.2l-1.0 0.7 -0.2 0.9M116.1 220.9l1.3 -0.3 1.1 -1.1M124.2 147.2l0.1 -0.7 -0.1 -1.2M161.2 253.8l-0.3 1.2 0.3 1.4M97.8 236.9l0.6 -0.6 0.7 -0.6M203.7 259.9l-0.2 -0.8 -0.5 -1.5M146.4 233.0l1.1 -1.4 0.0 -1.2M184.7 155.9l-0.5 0.8 -0.1 1.6M111.5 187.3l-0.8 1.2 -0.4 1.3M209.6 202.1l-0.5 0.0 -1.3 0.5M90.5 165.0l1.2 0.2 1.4 -0.4M132.4 195.0l0.6 0.4 0.2 1.0M124.4 186.9l-0.9 0.2 -0.6 -0.2M233.6 182.8l-0.1 0.9 0.2 0.8M121.6 213.0l-1.6 -0.7 -0.9 0.5M208.2 226.3l-1.0 -1.1 -0.2 -1.2M231.0 154.2l0.6 1.1 -0.3 1.2M124.6 194.5l0.9 0.1 0.6 0.0M130.9 213.2l-0.7 1.6 -1.2 0.8M136.5 255.7l-0.5 0.8 -1.0 0.2M210.8 232.4l0.7 0.6 1.7 0.5M105.5 214.4l0.3 -1.2 0.4 -0.6M98.4 216.5l1.0 0.7 1.2 -0.1M225.7 180.8l0.9 -1.0 1.0 -1.5M114.6 213.2l0.7 0.2 1.1 1.2M192.2 218.6l0.5 0.3 0.9 0.3M90.8 193.5l1.2 -1.3 0.4 -1.6M119.2 212.8l1.5 -0.3 0.6 0.5M175.8 253.9l0.2 0.9 -0.2 1.7M87.4 154.7l-0.5 1.7 -0.1 0.6M94.6 250.0l1.6 0.0 1.4 -0.7M241.4 237.8l-1.3 0.2 -0.7 0.3M202.2 206.6l-0.2 0.5 -0.2 0.4M95.0 234.7l0.1 -0.7 -0.6 -1.2M100.9 188.5l0.5 0.1 0.7 0.6M217.6 245.5l-0.6 0.1 -0.5 -0.4M172.3 264.0l1.3 -0.7 1.2 0.1M202.8 179.6l1.2 -1.0 0.9 -0.1M86.7 197.6l1.5 -0.6 0.3 -0.7M208.3 216.4l-1.4 -1.1 -1.7 0.1M99.8 242.3l-0.4 -1.2 -0.9 -0.5M148.3 258.6l-1.6 0.1 -0.6 0.1M155.2 146.6l0.0 1.1 0.9 1.2M106.9 236.8l1.4 -0.1 1.6 0.2M127.2 258.7l-0.5 -0.4 -0.9 -0.4M124.3 211.3l-0.9 -0.1 -0.8 0.6M193.4 147.8l0.1 -0.6 0.8 -0.6M225.8 189.8l-1.4 0.2 -1.6 -0.6"/>
<path stroke="#2440a4" stroke-width="1.6" stroke-opacity="1" d="M185.5 200.4l0.0 0.0M105.3 240.8l0.0 0.2M91.3 146.6l-0.1 -0.1M171.1 240.7l0.1 0.1M110.7 179.6l-0.0 -0.0M223.3 248.8l-0.0 -0.1M233.4 152.2l0.2 0.2M136.8 220.7l0.0 -0.0M192.9 247.2l0.1 -0.0M201.6 217.6l-0.2 -0.1M234.9 254.2l-0.1 0.0M232.9 263.4l0.0 0.1M211.3 193.8l0.1 0.0M88.7 169.1l0.0 -0.1M145.3 217.9l-0.0 0.2M239.4 187.0l-0.2 0.2M111.2 152.7l0.1 0.3M222.0 209.3l0.1 -0.0M196.7 255.8l-0.0 -0.0M193.3 229.8l-0.1 0.1M226.6 240.4l-0.2 0.0M200.1 253.8l0.1 -0.0M240.9 189.0l-0.0 -0.2M92.3 211.7l-0.0 -0.1M211.4 184.5l0.0 0.0M154.3 187.8l-0.3 -0.1M169.3 226.0l0.1 0.1M141.0 227.1l-0.0 -0.2M88.5 262.8l-0.1 0.1M216.3 190.1l0.1 0.0M90.5 248.1l-0.0 -0.0M180.1 183.9l-0.1 0.2M157.2 260.6l0.0 -0.1M176.7 163.0l-0.2 -0.1M221.4 200.1l0.1 -0.0M183.8 246.9l0.1 0.0M136.4 146.9l0.1 -0.1M128.3 155.0l-0.0 0.0M108.8 156.7l0.0 0.1M197.4 261.3l-0.0 0.1M168.7 263.7l-0.1 0.0M177.1 216.9l0.2 -0.2M196.4 230.0l-0.1 -0.2M228.2 192.0l-0.2 -0.1M111.8 175.1l0.1 -0.1M173.9 205.1l-0.0 0.2M134.0 232.9l0.3 -0.1M236.1 219.4l-0.0 0.1M224.4 152.9l0.1 0.1M90.8 197.9l-0.0 0.1M181.7 152.7l-0.0 -0.1M136.5 245.2l0.2 -0.2M185.7 171.1l0.0 -0.2M177.0 193.1l0.1 -0.1M108.5 258.6l-0.0 -0.0M237.0 242.4l-0.1 0.1M240.5 153.0l-0.0 0.1M177.8 238.6l0.0 0.2M140.7 171.6l0.0 -0.3M132.4 259.4l0.2 -0.1M145.1 215.3l-0.0 0.0M218.8 203.5l0.0 0.1M86.3 226.1l-0.0 -0.0M127.6 149.0l-0.1 0.1M209.6 210.8l0.1 0.2M117.6 214.0l0.1 0.2M215.7 205.6l0.0 0.0M129.9 186.8l-0.2 0.2M169.6 223.5l0.1 0.1M206.1 253.2l0.1 0.0M182.1 263.0l0.3 -0.1M187.9 154.2l-0.0 -0.0M86.7 244.2l-0.0 -0.1M140.8 189.2l0.0 -0.1M170.1 213.1l0.1 0.2M159.9 194.3l0.2 0.1M200.5 258.2l0.0 0.1M222.8 173.9l0.0 -0.1M93.5 244.9l0.1 -0.0M165.1 222.6l0.0 0.2M223.4 148.0l0.1 0.1M138.5 175.3l0.2 0.1M193.8 220.3l-0.1 -0.0M167.2 162.0l-0.0 0.0M190.5 177.9l-0.0 0.1M232.6 221.6l-0.0 -0.0M198.1 244.6l-0.1 0.0M104.7 238.4l0.1 -0.1M204.7 241.2l0.1 -0.1M86.2 180.4l-0.2 -0.1M167.6 170.9l-0.0 0.0M216.4 157.5l-0.0 -0.0M129.4 150.5l0.2 0.1M170.2 217.2l0.1 0.0M145.9 177.8l0.0 0.0M143.6 225.1l-0.0 -0.0M221.5 227.6l-0.1 0.1M128.6 194.3l-0.0 0.0M176.5 242.2l0.1 0.1M200.7 232.5l0.3 -0.1M209.9 250.8l0.0 -0.0M227.9 247.8l0.2 0.0M180.3 157.3l0.0 -0.0M115.8 184.3l-0.1 -0.2M223.4 241.1l-0.1 0.3M114.4 196.3l-0.0 -0.0M163.6 230.6l0.1 -0.1M223.8 205.5l0.1 -0.0M138.7 224.8l-0.0 -0.1M193.2 185.4l-0.1 -0.1M233.3 172.0l0.2 0.1M118.4 207.2l0.2 -0.2M206.1 161.3l0.2 -0.1M180.6 218.7l0.2 -0.1M169.9 173.4l0.1 0.1M91.8 159.9l0.0 -0.2M144.9 150.6l0.0 -0.1M163.7 217.0l0.0 -0.3M189.6 183.6l-0.0 -0.0M222.0 186.5l0.0 -0.0M208.6 195.5l-0.1 -0.0M173.9 256.6l0.0 0.0M227.8 146.1l0.1 -0.0M108.3 254.9l-0.0 0.0M128.3 172.0l0.1 -0.2M187.5 195.3l0.1 0.1M199.7 188.4l0.0 0.0M153.2 228.9l0.1 -0.1M175.2 152.8l0.2 0.2M164.7 263.8l0.1 0.2M111.1 252.3l-0.1 0.0M125.7 225.5l0.2 0.1M95.5 263.3l0.0 0.0M222.6 193.5l-0.0 0.1M131.4 200.2l-0.2 0.1M232.1 234.1l-0.1 -0.1M228.8 244.4l-0.0 0.0M122.3 183.2l0.2 0.2M147.1 180.0l0.1 -0.0M103.4 190.6l-0.1 -0.0M200.4 223.0l0.0 0.0M136.2 190.6l-0.1 0.3M218.8 174.2l-0.0 -0.0M160.6 181.2l-0.1 -0.1M194.3 208.0l-0.0 -0.2M162.3 213.7l-0.2 -0.1M153.4 147.7l-0.1 0.1M232.3 148.8l-0.1 0.1M87.4 218.6l0.2 -0.1M219.3 224.8l-0.0 -0.1M207.5 201.8l-0.0 -0.0M211.8 243.6l0.0 -0.0M98.2 218.5l-0.0 -0.0M131.6 159.0l-0.1 -0.0M105.0 180.0l0.0 -0.3M201.1 234.9l-0.0 -0.0M205.9 231.6l-0.2 -0.1M101.5 230.1l0.1 0.2M182.9 163.8l0.2 0.1M173.4 149.7l0.2 0.0M149.6 233.1l0.2 0.1M191.0 203.4l0.1 -0.1M241.5 212.1l-0.1 -0.1M157.2 195.1l-0.1 -0.1M85.2 251.4l-0.1 0.1M120.7 236.5l0.2 0.1M224.4 227.2l0.0 -0.0M240.0 193.4l0.2 0.0M100.1 196.5l0.0 0.0M151.9 259.0l0.1 -0.1M223.3 245.3l0.1 -0.2M204.8 257.5l0.0 -0.2M167.5 203.1l-0.0 0.0M149.0 177.8l-0.0 0.0M165.6 204.0l0.3 -0.1M215.6 221.9l-0.0 0.1M233.5 251.4l0.1 0.1M137.1 168.6l0.0 0.0M209.0 189.9l0.1 -0.1M242.3 187.4l-0.0 -0.0M147.5 228.4l-0.2 0.1M191.2 263.8l0.0 0.3M165.0 239.3l-0.0 -0.1M145.2 182.4l0.0 -0.2M114.1 244.5l0.2 -0.0M122.5 239.1l-0.1 0.0M208.4 243.5l-0.2 0.0M236.1 234.2l0.0 0.0M155.7 170.5l0.1 -0.0M106.1 258.3l-0.0 0.0M224.3 238.1l-0.2 -0.2M169.7 188.2l-0.1 -0.2M96.3 196.0l-0.2 -0.1M130.2 216.9l-0.1 0.2M93.1 163.0l0.0 0.0M133.2 163.2l-0.0 0.0M170.2 250.5l-0.0 -0.2M189.1 232.7l0.0 0.1M222.3 165.7l-0.0 -0.0M227.4 150.2l-0.1 0.2M102.6 214.1l-0.0 -0.1M147.3 216.8l-0.0 0.0M125.0 188.8l-0.2 0.1M204.9 152.8l0.2 0.1M220.1 246.8l0.2 0.0M167.9 251.6l0.0 -0.0M178.8 150.0l0.1 -0.0M217.3 201.2l-0.0 -0.1M132.0 246.2l0.1 0.2M87.0 250.0l0.1 0.2M242.3 206.8l-0.1 -0.0M209.2 146.2l0.0 -0.2M102.0 149.2l-0.0 0.0M212.7 250.9l-0.1 -0.0M140.3 242.6l0.2 -0.2M106.1 152.5l0.2 0.2M189.6 197.9l-0.2 -0.1M129.6 214.6l-0.1 -0.0M187.8 209.5l-0.0 0.1M195.1 210.7l-0.1 -0.1M110.0 256.7l0.2 0.0M135.8 262.8l-0.2 -0.2M202.6 250.8l0.1 -0.2M117.3 253.4l0.3 0.1M164.5 148.3l0.1 -0.0M102.5 172.3l0.0 -0.1M117.9 209.4l0.0 -0.0M226.7 179.1l-0.1 0.1M103.5 174.1l-0.0 0.1M219.2 252.9l0.1 -0.2M170.8 191.3l0.0 0.0M115.5 186.8l0.0 -0.1M150.8 230.6l-0.1 0.0M193.6 162.2l0.2 0.0M150.7 222.1l0.2 -0.0M94.0 218.0l0.0 -0.0M199.3 262.6l-0.1 -0.0M97.5 203.8l0.1 -0.1M203.1 236.9l-0.0 -0.0M142.8 151.3l0.1 0.2M87.4 164.8l0.1 -0.2M236.6 150.2l-0.2 -0.2M203.0 221.3l-0.1 0.1M123.9 253.3l0.1 -0.2M135.0 173.3l-0.0 0.1M171.0 152.2l-0.2 0.2M120.7 226.4l0.2 0.1M104.9 150.0l-0.0 0.0M86.5 171.7l0.2 -0.1M125.5 153.4l-0.1 0.0M218.9 199.9l-0.0 -0.0M174.1 222.0l0.0 -0.0M176.9 228.6l-0.0 0.0M102.2 163.8l-0.2 -0.2M197.6 204.7l0.0 0.0M174.5 233.2l-0.0 0.2M159.4 246.2l-0.2 0.2M155.3 246.0l0.0 0.1M140.6 168.1l-0.0 -0.1M154.1 165.9l0.1 -0.1M151.8 244.7l0.2 -0.0M164.5 194.6l0.0 -0.2M240.0 181.1l-0.2 -0.1M235.5 201.7l-0.1 -0.1M126.9 160.8l0.2 0.2M232.5 225.4l0.0 -0.0M225.8 187.8l-0.0 -0.1M151.5 170.8l-0.0 -0.2M97.5 161.0l0.3 0.1M88.0 240.5l-0.2 0.0M197.4 217.4l-0.0 -0.0M134.0 180.2l-0.2 -0.1M141.9 203.7l-0.1 0.1M212.6 155.2l0.0 -0.2M199.1 164.1l-0.0 -0.0M212.2 165.0l-0.1 -0.0M158.1 174.4l-0.0 0.1M118.2 184.0l-0.0 0.0M107.0 226.6l0.1 0.1M176.9 166.7l0.1 -0.1M143.6 187.4l0.0 -0.0M150.6 207.1l-0.1 0.2M180.0 196.0l0.1 -0.0M229.3 261.4l-0.1 0.0M85.9 177.3l0.0 0.3M174.4 227.2l0.1 0.3M137.6 156.7l0.1 0.1M85.1 182.5l0.0 -0.1M220.3 235.1l-0.1 0.1M163.4 154.7l-0.1 0.1M182.2 190.9l0.1 0.1M95.9 165.2l-0.1 0.2M123.6 223.1l-0.0 -0.0M162.1 235.1l0.1 -0.0M155.7 208.3l0.0 0.0M160.2 234.7l0.0 0.1M175.0 202.0l-0.1 -0.1M215.8 212.7l0.1 0.1M160.3 187.3l0.1 0.1M233.0 192.0l0.0 0.2M107.9 217.3l0.2 0.0M219.8 164.2l0.2 -0.1M184.1 189.5l0.1 -0.2M148.6 148.0l-0.0 0.1M194.9 156.5l-0.1 -0.0M85.2 153.3l0.3 0.0M242.5 255.2l-0.0 -0.2M196.3 162.4l-0.1 -0.0M125.4 213.3l0.2 -0.0M203.8 262.2l-0.0 0.0M113.0 167.3l0.2 0.1M187.9 235.7l0.0 0.0M146.8 202.7l0.1 0.1M89.5 185.0l-0.0 -0.0M231.3 209.2l-0.2 0.1M147.1 189.1l0.0 0.0M202.8 192.3l-0.1 -0.2M225.7 222.1l0.2 0.2M193.0 215.8l0.1 0.0M99.8 159.4l-0.0 0.1M157.0 180.8l-0.3 0.0M91.8 202.0l-0.1 0.0M151.2 261.7l0.0 -0.1M135.1 229.2l0.1 -0.1M134.2 197.1l0.1 0.0"/>
<path stroke="#2848d0" stroke-width="1.7" stroke-opacity="0.88" d="M106.5 177.4l-0.1 0.2M187.0 189.8l0.2 -0.2M188.2 253.4l-0.5 -0.5M108.7 195.1l-0.0 -0.2M92.3 185.9l0.6 -0.3M135.5 231.5l0.3 -0.4M130.1 239.7l-0.4 0.1M191.6 180.3l0.2 -0.0M112.4 211.4l0.0 -0.4M96.2 178.0l-0.3 0.3M194.3 236.8l0.1 0.1M129.3 175.5l0.2 0.0M100.3 206.2l0.2 -0.3M149.9 168.8l-0.5 -0.6M195.3 151.9l-0.6 0.1M138.2 252.6l-0.5 0.6M205.9 261.0l-0.5 0.6M149.9 155.0l0.1 -0.3M168.6 183.6l-0.0 0.5M194.4 171.4l-0.4 0.1M184.0 235.1l0.1 0.1M232.6 230.9l0.0 0.0M195.1 167.4l0.1 0.6M107.0 148.8l0.1 -0.1M147.5 196.8l-0.1 -0.4M130.4 237.0l0.2 0.1M197.5 225.4l0.5 0.3M113.4 188.8l-0.4 -0.6M228.4 225.3l-0.2 -0.3M211.4 256.3l-0.2 0.0M220.2 260.0l0.2 0.5M123.4 169.3l-0.0 0.0M141.7 176.0l-0.7 -0.3M146.2 258.7l-0.0 -0.1M185.1 192.2l-0.2 0.7M111.6 165.0l0.4 0.1M170.3 245.9l-0.2 -0.2M163.1 250.3l0.6 -0.5M182.3 228.9l0.2 0.3M87.7 149.8l-0.2 0.4M201.5 242.9l0.3 0.2M225.6 171.0l-0.5 0.5M114.3 217.7l-0.2 0.1M162.3 258.1l0.5 -0.5M142.9 240.6l-0.0 -0.7M241.9 241.6l0.2 -0.4M207.5 181.0l0.2 -0.4M100.7 257.0l-0.4 -0.0M204.7 150.1l0.2 0.6M130.5 254.1l-0.4 0.4M96.3 228.6l-0.8 0.0M136.7 258.1l-0.1 -0.1M171.3 146.2l0.7 -0.2M159.9 226.6l0.1 -0.3M105.5 185.2l-0.1 -0.1M113.1 256.5l0.4 0.7M171.5 202.7l0.2 -0.0M170.5 234.3l-0.7 -0.1M201.3 158.9l0.6 -0.4M103.9 202.2l-0.0 0.1M145.9 156.5l-0.0 -0.8M147.1 250.9l0.3 -0.2M196.1 246.1l0.3 0.7M111.5 235.7l0.3 -0.3M168.4 254.0l0.1 -0.0M223.6 202.9l0.2 0.2M105.1 194.5l-0.3 -0.3M216.8 261.8l0.2 0.4M198.8 159.7l-0.1 0.3M130.2 148.1l-0.5 -0.1M124.5 237.5l-0.7 0.2M125.8 256.4l-0.2 0.2M186.5 149.1l0.2 -0.6M118.0 194.3l-0.2 0.3M176.5 160.5l-0.4 0.1M153.9 200.0l-0.1 0.2M235.8 214.5l-0.4 0.3M206.3 235.2l-0.2 0.5M151.6 210.5l0.2 -0.6M236.6 262.9l-0.6 0.4M230.5 256.7l-0.2 -0.0M144.0 174.9l0.0 0.0M91.9 238.1l0.4 0.0M221.3 211.7l0.1 -0.1M216.9 236.6l0.1 0.1M188.6 262.5l0.6 0.3M213.8 229.5l0.1 -0.4M161.2 239.3l0.4 -0.6M239.6 150.7l-0.2 -0.2M216.8 234.1l0.4 -0.5M196.0 242.6l0.1 0.5M106.8 209.6l-0.0 -0.0M85.2 235.2l0.1 -0.3M216.9 168.5l-0.3 0.2M135.7 201.6l-0.0 0.0M133.5 230.3l0.1 -0.4M141.5 225.2l-0.1 0.0M233.8 158.3l-0.1 0.8M241.7 163.0l-0.1 0.4M182.3 205.3l-0.5 -0.1M113.9 180.4l-0.7 -0.2M184.6 228.3l-0.0 -0.0M102.3 207.0l-0.0 -0.3M104.6 170.6l0.8 0.0M155.3 150.2l0.2 0.6M101.4 210.5l0.1 0.1M219.0 187.4l0.4 0.1M135.5 162.5l-0.7 -0.1M155.6 168.3l-0.3 0.1M131.5 251.7l0.7 0.3M137.1 151.2l-0.4 0.6M224.2 216.0l0.5 -0.3M202.2 152.3l-0.2 -0.1M227.2 229.0l-0.0 -0.1M224.3 235.3l-0.1 0.0M220.3 148.7l0.0 0.0M185.8 186.9l0.0 0.1M166.3 146.1l-0.3 -0.6M209.9 254.8l-0.1 -0.1M163.7 185.0l0.3 -0.1M211.4 176.9l-0.4 -0.1M102.0 169.5l-0.6 0.1M132.7 204.2l-0.3 0.2M227.8 203.1l0.2 0.5M199.7 173.2l-0.1 0.2M174.8 197.6l0.1 0.4M206.3 183.6l-0.3 0.3M118.6 222.4l-0.0 0.7M240.9 258.1l0.2 0.1M240.0 209.9l-0.2 0.1M136.1 165.5l-0.2 -0.6M194.8 201.9l0.6 0.0M184.2 212.1l0.1 -0.4M120.0 252.4l-0.3 -0.7M85.5 168.7l0.1 -0.2M140.3 165.4l-0.4 0.5M186.3 212.1l0.6 -0.3M89.2 189.2l0.3 0.6M126.9 164.5l0.2 0.1M126.0 198.8l0.2 -0.2M169.2 167.2l0.2 -0.2M211.6 239.7l-0.0 0.1M220.4 195.0l0.3 0.2M116.6 217.3l-0.7 0.1M104.1 200.2l0.1 0.7M159.4 147.9l0.6 -0.3M171.0 183.0l-0.3 -0.6M90.5 180.5l-0.4 0.5M105.8 217.6l-0.0 -0.0M171.0 262.1l-0.0 0.1M192.9 241.4l0.7 -0.0M174.5 194.0l-0.2 0.1M106.1 222.6l-0.2 -0.6M190.1 249.4l0.2 -0.2M130.0 207.2l-0.0 -0.0M124.1 243.6l0.1 0.0M180.2 258.2l-0.4 -0.4M204.7 244.1l-0.1 0.0M187.1 242.3l-0.6 -0.0M159.3 251.1l-0.2 -0.4M181.1 208.8l0.1 0.0M120.9 166.9l0.0 0.2M189.9 147.3l-0.3 -0.2M90.8 258.8l0.2 0.0M202.4 186.6l-0.1 -0.0M219.0 152.9l0.3 0.1M130.7 153.0l-0.2 -0.2M133.9 224.8l-0.0 0.1M91.6 217.8l0.4 -0.2M154.0 213.9l0.0 -0.2M141.6 232.4l0.3 0.3M171.6 214.7l-0.1 0.8M211.7 230.1l-0.6 0.3M207.8 185.6l0.2 0.0M87.3 182.8l0.1 0.4M93.0 253.5l0.0 0.0M99.4 208.1l0.3 0.3M232.6 168.5l0.6 -0.4M190.1 185.7l0.7 -0.1M123.0 246.8l0.1 -0.6M193.5 213.2l0.2 0.3M138.6 255.9l0.1 -0.0M238.5 220.7l-0.1 -0.7M157.8 183.5l-0.3 0.4M138.6 215.0l-0.6 -0.4M86.5 190.0l-0.3 0.3M135.1 248.7l-0.7 0.4M108.8 260.8l-0.3 0.4M141.6 206.8l0.1 0.1M96.8 170.7l-0.5 0.1M114.1 194.1l-0.2 0.2M241.5 191.3l0.3 0.5M220.9 154.0l-0.7 0.4M229.3 205.1l-0.6 -0.1M194.7 252.3l-0.1 0.0M106.4 162.0l0.1 0.1"/>
</g></g>
<clipPath id="cp5"><rect x="248.1" y="148.0" width="154.3" height="114.0"/></clipPath>
<g clip-path="url(#cp5)">
<rect x="246.1" y="146.0" width="158.3" height="118.0" fill="url(#bg)"/>
<g filter="url(#soft)" fill="none" stroke-linecap="round" stroke-linejoin="round">
<path stroke="#2440a4" stroke-width="1.6" stroke-opacity="1" d="M325.1 262.6l0.0 -0.2M376.2 147.8l-0.1 -0.0M389.4 255.6l0.3 -0.0M313.9 208.3l-0.1 0.1M398.1 226.0l0.2 0.0M353.0 177.3l0.1 0.0M382.0 211.3l0.1 0.1M314.5 262.2l-0.0 0.0M374.2 179.0l-0.0 0.0M320.5 147.1l-0.0 0.2M255.1 170.6l-0.1 0.0M253.7 222.4l-0.0 -0.1M336.6 191.0l-0.1 0.1M348.9 197.7l-0.1 -0.1M369.7 222.8l0.0 0.1M303.3 191.4l0.1 -0.3M318.1 228.6l0.0 0.2M356.5 215.7l0.0 -0.0M370.9 183.6l0.1 0.1M263.5 228.1l0.1 -0.2M378.4 232.9l0.1 -0.2M312.4 242.8l0.0 -0.2M250.1 251.2l-0.1 0.2M334.0 217.5l0.0 -0.0M386.0 206.7l0.0 0.1M384.3 175.0l-0.2 0.1M401.6 253.2l-0.0 0.1M351.1 166.5l-0.0 -0.0M366.0 199.3l-0.2 0.0M266.1 150.0l0.2 -0.2M402.8 168.7l0.1 -0.2M337.2 177.8l0.0 0.2M339.6 216.3l-0.1 -0.2M370.3 176.2l-0.2 -0.0M374.6 200.0l-0.0 -0.3M399.7 173.2l-0.2 -0.1M344.5 234.6l0.0 0.0M346.0 198.4l-0.1 0.1M395.6 237.0l0.1 0.0M384.4 159.7l0.0 0.0M384.2 212.3l0.2 -0.1M260.7 254.5l-0.2 0.1M317.6 177.3l-0.2 -0.2M340.5 247.6l0.0 -0.1M309.3 176.4l0.0 -0.0M317.2 247.3l0.0 -0.2M256.7 190.3l0.0 -0.0M350.0 229.6l0.2 0.0M376.8 261.7l0.0 -0.3M349.4 205.0l-0.1 0.2M341.7 192.0l-0.0 0.0M357.4 205.3l0.2 -0.2M290.7 165.1l0.0 0.1M344.7 252.9l-0.1 0.2M354.2 149.4l0.2 -0.2M361.0 200.9l-0.0 -0.0M379.5 186.6l0.1 -0.2M316.4 196.6l-0.0 -0.0M296.5 238.6l0.0 -0.3M394.5 155.4l-0.3 -0.1M294.3 221.2l-0.1 -0.1M330.4 252.6l0.0 -0.1M349.0 146.8l0.2 0.1M298.6 230.9l-0.1 -0.2M401.1 242.3l0.1 0.3M373.0 230.6l-0.2 -0.1M400.7 191.7l-0.1 -0.0M374.1 150.9l0.0 0.0M335.7 258.1l-0.1 -0.0M275.5 186.4l0.0 0.2M343.2 185.8l-0.0 0.1M372.0 197.6l0.0 0.2M301.1 247.9l-0.0 0.2M349.2 235.3l0.2 0.2M387.0 201.1l-0.1 -0.2M289.4 222.0l0.2 -0.0M300.5 180.0l-0.2 -0.1M315.2 150.4l-0.1 0.1M309.6 258.3l0.1 0.0M332.1 261.0l-0.1 0.1M401.0 154.8l0.1 0.2M308.5 170.9l0.0 0.1M400.8 236.9l0.2 -0.1M327.7 252.2l-0.0 0.0M377.6 236.1l0.2 -0.0M361.4 244.9l-0.1 0.3M253.3 160.3l-0.2 0.1M332.8 181.0l0.0 -0.0M322.8 201.2l0.2 0.1M396.7 252.1l-0.3 -0.1M293.1 225.3l0.2 -0.0M314.8 214.8l-0.1 0.1M357.0 161.5l-0.0 -0.0M322.4 178.5l-0.0 -0.0M369.4 211.3l-0.2 -0.0M400.8 189.4l0.1 -0.0M294.6 148.7l-0.2 0.2M320.2 171.8l0.1 0.0M388.5 167.5l-0.0 -0.2M375.2 254.4l0.2 0.1M358.1 245.3l0.1 -0.2M368.2 241.6l0.1 -0.1M375.7 182.9l0.1 -0.0M336.6 213.1l-0.2 -0.2M372.2 243.5l0.2 -0.2M396.1 174.6l-0.2 0.1M279.4 155.1l0.2 -0.1M361.7 228.4l0.2 0.1M267.8 153.1l-0.2 0.2M376.8 228.0l-0.1 -0.0M287.5 200.1l-0.0 0.0M328.7 229.9l-0.2 -0.0M327.5 180.4l0.1 0.1M303.0 180.5l-0.0 0.0M278.9 246.0l0.2 0.1M306.4 247.0l0.1 -0.1M253.6 214.1l-0.1 -0.0M327.7 219.4l-0.1 -0.0M289.7 250.6l-0.0 -0.1M390.3 174.5l0.1 0.0M374.5 256.6l0.2 0.1M361.1 198.7l0.1 0.0M263.3 244.8l0.0 -0.1M254.3 191.6l-0.1 0.1M325.6 146.0l0.3 -0.1M350.7 200.1l-0.1 -0.2M270.9 166.2l-0.0 0.0M290.9 256.3l0.1 0.3M264.7 238.4l-0.3 0.0M329.0 215.2l0.0 0.2M294.8 196.5l0.0 -0.1M355.7 175.0l-0.0 -0.0M358.7 208.0l0.1 0.0M319.2 259.2l-0.0 0.1M352.5 260.5l-0.0 -0.1M358.4 165.1l-0.1 0.0M347.0 254.0l0.0 -0.1M288.6 241.1l-0.1 -0.1M393.6 223.3l0.1 0.1M288.2 210.4l-0.1 -0.1M291.0 223.6l0.0 0.2M346.4 215.2l-0.1 0.1M367.8 159.4l-0.1 -0.0M341.8 152.1l0.0 -0.1M347.8 232.8l-0.0 -0.0M298.0 224.3l0.1 -0.1M247.5 232.6l-0.1 -0.0M375.8 160.4l-0.0 0.0M371.9 187.3l0.0 -0.2M381.7 214.5l0.2 -0.1M249.7 253.2l-0.1 0.3M380.7 158.1l0.0 -0.1M254.2 261.0l0.1 -0.0M331.9 177.7l0.3 -0.1M280.9 154.1l-0.1 0.1M386.6 184.8l-0.0 0.3M319.4 178.1l-0.1 0.0M346.7 163.1l0.1 -0.0M398.0 263.7l0.1 0.1M353.3 225.7l0.0 0.0M372.5 209.3l-0.0 0.0M391.6 193.9l-0.1 -0.1M401.9 216.2l0.2 -0.0M283.6 226.5l-0.1 -0.0M250.3 159.3l-0.2 -0.2M247.1 159.2l-0.2 -0.2M361.4 173.0l0.0 -0.1M380.2 234.8l-0.0 0.1M399.4 221.6l-0.2 0.0M258.5 204.8l0.1 -0.1M330.8 239.5l0.2 -0.1M301.4 252.8l-0.0 -0.1M361.0 152.9l-0.0 -0.2M399.3 257.5l-0.0 0.0M389.8 212.4l0.1 -0.0M362.1 257.6l-0.1 0.1M282.8 170.6l0.0 -0.0M304.9 241.1l0.0 0.0M284.3 192.8l-0.0 0.2M348.8 161.1l0.0 0.0M273.1 226.1l0.0 -0.0M254.3 189.2l-0.2 -0.1M341.5 235.4l-0.2 -0.1M394.4 257.2l-0.1 -0.2M268.3 169.2l-0.1 0.1M289.0 184.3l0.0 -0.2M345.3 263.3l-0.0 -0.0M324.1 210.2l-0.0 0.1M288.7 156.5l0.0 -0.0M285.0 163.0l-0.2 -0.0M388.6 263.3l-0.1 -0.2M339.6 166.1l-0.1 -0.0M296.3 201.0l0.1 0.2M396.6 170.6l-0.0 0.0M287.8 177.5l-0.0 0.0M366.9 236.0l0.0 0.0M282.8 223.8l-0.1 -0.2M273.6 175.2l-0.0 0.0M319.6 201.6l-0.0 0.1M337.7 245.6l0.2 0.2M319.0 180.3l-0.0 -0.2M291.4 240.5l0.0 -0.1M351.0 223.4l-0.1 -0.2M380.1 170.0l-0.0 -0.0M248.5 202.4l0.0 0.1M293.3 179.3l0.1 -0.1M336.6 173.0l0.1 -0.0M285.3 216.7l0.0 -0.0M362.7 155.9l-0.1 -0.2M309.3 254.5l0.1 -0.2M316.0 237.6l-0.0 -0.0M372.2 206.4l0.1 0.3M360.3 194.1l0.2 0.1M383.3 231.4l-0.0 -0.0M401.9 158.7l-0.1 0.1M378.6 216.9l-0.1 0.2M338.0 242.7l-0.2 0.2M332.4 222.3l0.1 -0.1M363.5 238.2l-0.0 0.0M329.6 198.9l0.2 0.1M354.4 247.2l0.0 0.0M332.6 188.8l0.3 -0.0M328.0 226.2l0.0 0.0M323.0 206.5l0.2 0.1M248.4 263.2l0.1 -0.0M403.0 197.4l0.0 0.0M276.4 235.7l0.0 0.2M300.0 225.5l0.2 0.0M374.1 213.2l-0.1 0.1M353.4 250.7l0.1 -0.3M392.5 184.9l0.2 0.2M382.4 209.0l0.2 -0.0M279.1 239.6l-0.0 -0.0M357.0 187.4l-0.0 0.2M290.2 233.9l-0.0 -0.0M363.1 223.7l0.1 -0.0M328.4 260.5l0.1 -0.1M351.9 187.3l0.0 0.0M338.1 233.0l0.2 -0.1M314.1 181.1l0.3 0.1M249.1 193.2l-0.1 0.0M355.5 207.7l-0.1 0.1M350.9 207.1l0.2 0.1M333.3 183.0l-0.2 -0.0M389.1 218.7l-0.0 -0.0M292.5 250.9l-0.1 0.0M383.1 165.0l0.0 -0.0M352.0 256.9l-0.2 0.0M252.0 219.8l0.1 0.1M287.9 191.8l-0.0 0.1M296.8 161.7l0.0 0.2M258.0 215.2l0.2 -0.1M327.9 242.2l0.0 -0.0M302.5 178.6l0.2 0.0M256.7 160.3l0.2 -0.1M265.5 192.9l-0.1 0.1M248.8 150.5l0.2 -0.1M367.1 167.6l0.0 -0.2M362.4 260.0l-0.2 -0.1M355.8 165.0l-0.1 0.0M300.9 218.9l0.0 0.0M305.6 183.2l-0.1 -0.1M349.9 226.6l-0.0 -0.0M341.6 168.7l0.0 0.0M342.5 263.9l0.2 0.1M266.6 245.7l0.0 0.0M339.6 210.5l-0.0 -0.0M371.6 165.6l0.1 0.2M250.0 226.5l0.2 -0.1M393.4 260.4l-0.1 0.1M368.8 232.3l0.1 -0.1M363.5 196.5l-0.2 -0.2M393.1 162.1l-0.1 -0.1M346.1 191.6l0.0 0.0M376.5 225.2l-0.1 -0.0M283.1 216.4l0.1 -0.1M318.4 165.8l0.0 0.0M284.5 262.2l0.2 -0.1M340.6 257.2l-0.3 -0.1M254.4 197.2l0.0 -0.1M289.3 247.4l-0.0 0.0M347.8 177.4l-0.0 -0.1M353.1 229.6l0.0 -0.1M253.5 150.3l0.0 -0.0M266.8 227.7l-0.0 -0.0M393.1 168.4l-0.1 0.0M338.9 155.5l-0.0 -0.1M276.1 200.6l-0.1 0.0M275.2 225.8l0.0 -0.1M290.3 192.9l-0.2 -0.1M329.5 213.0l-0.2 0.0M303.1 175.7l0.0 -0.0M278.3 242.8l-0.3 -0.0M265.8 205.5l0.1 -0.1M362.5 215.8l0.2 -0.1M339.3 240.4l0.1 0.2M361.7 175.8l0.1 0.1M393.2 146.2l-0.2 -0.2M391.0 243.7l-0.0 0.0M355.8 256.6l-0.0 -0.1M401.8 184.7l0.1 -0.0M279.0 204.3l-0.0 -0.0M260.3 257.3l-0.1 0.2M381.7 175.9l0.2 0.1M393.5 233.5l0.0 -0.2M395.1 246.3l0.2 0.1M365.8 238.5l0.1 -0.2M373.9 217.4l0.0 -0.1M263.2 155.2l0.3 -0.1M262.0 199.2l0.0 -0.0M400.9 167.1l-0.1 0.1M335.6 263.0l0.1 0.1M309.0 153.8l-0.0 -0.2M332.8 161.4l-0.0 0.0M368.5 254.6l0.2 -0.0M310.0 216.6l0.2 0.2M345.8 239.1l-0.2 -0.2M345.8 149.4l0.1 -0.2M255.9 250.6l-0.0 0.0M330.1 169.8l-0.0 -0.0M317.3 202.8l-0.2 0.2M278.5 225.8l0.0 0.2M298.5 262.0l-0.2 -0.0M396.7 256.5l-0.0 -0.2M309.3 239.5l0.1 0.0M403.1 235.8l-0.1 0.1M339.7 213.1l0.1 0.2M280.1 224.1l0.1 0.2M377.0 258.4l0.2 -0.0M287.0 259.2l0.1 0.1M283.7 205.7l0.1 -0.0M396.6 160.8l-0.0 -0.0M249.5 184.6l-0.1 0.2M297.6 227.4l0.1 0.2M261.7 203.3l0.0 0.0M383.9 224.8l-0.0 -0.3M365.2 217.8l-0.0 -0.0M293.7 191.9l0.2 0.2M273.8 221.9l-0.0 -0.2M348.4 154.2l0.0 0.2M307.8 252.7l-0.0 0.1"/>
<path stroke="#2848d0" stroke-width="1.7" stroke-opacity="0.88" d="M296.3 184.5l0.1 0.4M274.8 217.4l-0.2 0.4M354.0 161.0l-0.3 -0.6M300.7 203.1l0.1 -0.0M258.4 151.9l0.7 0.2M305.6 147.2l-0.2 -0.5M404.1 227.5l-0.1 0.1M310.9 190.5l0.2 0.1M399.4 157.6l-0.2 -0.0M375.7 239.9l0.2 -0.2M386.3 237.7l0.2 -0.2M343.4 156.9l0.0 0.0M278.1 215.3l0.1 -0.6M339.7 161.1l0.5 0.3M321.6 164.5l-0.5 -0.5M403.0 179.0l-0.7 -0.4M324.8 168.6l-0.3 0.5M251.7 211.6l0.6 -0.0M287.0 239.2l0.2 0.2M255.3 253.5l0.7 0.4M324.2 196.7l0.1 0.8M330.3 164.2l0.1 0.2M352.9 193.9l-0.3 0.5M396.6 210.4l0.1 -0.2M315.6 174.1l-0.0 0.6M319.0 248.6l-0.5 -0.4M276.3 182.3l-0.1 -0.2M327.7 171.7l0.5 -0.0M315.3 256.2l-0.7 -0.2M342.7 209.1l-0.3 -0.1M262.4 180.0l-0.3 0.1M321.6 237.2l0.7 -0.1M335.3 234.4l0.0 0.0M303.3 238.5l-0.1 -0.4M267.3 212.3l-0.4 -0.2M272.4 161.3l-0.1 0.2M369.5 249.5l0.2 0.3M308.6 165.6l0.1 0.2M303.1 247.1l-0.5 -0.5M277.3 202.2l-0.0 -0.0M357.5 172.8l-0.6 -0.1M334.8 165.9l-0.3 -0.0M258.4 202.1l0.3 -0.7M388.8 197.2l-0.2 0.0M359.7 220.4l-0.1 -0.0M344.9 217.4l0.0 -0.3M318.9 183.5l0.5 0.6M381.9 181.8l0.2 -0.5M281.1 228.9l-0.2 -0.0M350.1 184.0l0.7 0.2M303.4 153.0l0.0 0.0M292.6 176.2l0.7 0.3M343.7 180.4l0.1 -0.2M259.1 225.9l-0.6 -0.3M310.6 152.5l0.6 -0.2M338.9 171.5l0.1 -0.0M376.3 230.5l-0.4 0.2M264.8 243.1l-0.2 0.6M322.3 219.7l0.5 -0.3M285.1 180.4l-0.7 -0.3M347.8 218.4l-0.1 -0.1M296.7 259.7l-0.0 -0.1M277.5 223.0l0.4 0.4M298.6 191.2l0.1 0.3M352.1 253.8l0.0 0.6M296.0 250.4l0.6 0.2M274.6 206.9l0.6 0.5M264.8 169.7l0.1 -0.1M275.3 162.0l0.5 0.3M252.3 249.2l0.1 -0.4M393.6 242.9l0.0 0.2M379.5 259.3l-0.3 0.1M387.0 249.6l-0.7 -0.1M327.1 187.3l0.2 -0.4M279.4 220.4l-0.1 -0.0M342.0 176.3l0.3 0.1M247.4 227.1l-0.0 0.1M355.5 182.7l-0.5 0.5M280.0 237.2l-0.4 0.6M358.3 169.4l0.0 0.3M271.8 240.1l-0.4 -0.7M329.7 160.8l0.2 0.1M263.3 167.8l0.0 -0.0M374.1 249.6l-0.0 -0.0M256.6 221.7l0.4 0.5M247.2 220.0l0.6 0.1M343.7 160.6l-0.7 0.4M336.0 203.3l-0.1 0.3M270.6 181.4l-0.3 -0.1M327.2 244.7l-0.3 0.3M260.4 212.3l0.0 0.3M366.9 183.2l0.4 0.4M261.4 163.8l0.6 0.5M377.4 250.2l0.2 0.0M260.6 174.1l-0.7 -0.1M401.8 244.7l-0.2 0.0M390.3 164.3l0.1 0.1M342.9 222.4l0.2 -0.1M373.7 168.3l0.4 0.1M326.4 190.0l-0.5 0.4M301.5 163.3l-0.2 -0.1M325.4 238.5l-0.1 0.0M382.9 259.2l0.3 -0.1M254.9 227.7l0.0 0.0M321.9 242.5l-0.0 -0.0M249.7 231.6l0.1 0.3M286.6 189.4l-0.2 0.7M336.7 163.9l-0.4 -0.6M360.9 162.3l-0.6 -0.1M261.3 215.2l0.2 0.6M281.5 213.2l0.2 0.0M349.4 156.4l-0.1 -0.5M270.1 151.5l-0.5 0.4M322.2 173.9l-0.6 0.1M352.6 214.8l-0.1 0.2M250.3 208.3l-0.0 -0.4M303.7 256.8l0.2 0.0M325.2 218.8l-0.4 0.4M395.6 215.8l0.0 -0.0M252.2 229.4l0.3 0.3M339.3 207.8l-0.0 0.0M252.9 183.0l-0.5 0.5M294.1 241.2l0.5 -0.3M322.1 216.4l-0.6 0.3M296.8 148.2l-0.0 -0.1M246.6 212.5l0.0 -0.0M300.4 170.9l0.5 0.5M296.2 177.5l-0.1 -0.1M358.0 151.5l0.0 0.5M277.3 192.8l0.2 0.2M349.5 180.0l0.0 -0.0M278.3 255.0l0.6 0.3M271.6 205.7l-0.7 -0.2M378.1 221.4l0.2 0.2M252.7 251.4l-0.0 0.2M325.1 212.4l0.1 -0.0M261.8 243.4l-0.1 -0.0M268.3 242.3l-0.5 0.2M357.7 196.0l-0.2 -0.4M275.2 242.6l0.4 -0.6M326.5 228.7l0.6 -0.4M307.8 180.4l0.5 -0.6M385.9 203.5l0.4 0.2M319.9 223.2l0.0 -0.5M282.3 253.8l-0.0 -0.6M352.5 219.6l0.7 -0.1M373.9 237.1l-0.2 -0.4M382.6 237.7l0.2 0.4M273.9 192.3l-0.0 -0.2M357.7 222.7l-0.2 0.7M272.3 167.5l-0.0 0.1M273.3 215.8l-0.0 0.0M260.6 196.5l-0.0 0.1M401.7 150.2l0.1 -0.3M300.9 206.6l0.6 0.5M338.1 148.1l-0.2 0.0M384.1 199.6l0.0 0.2M400.3 160.7l0.0 -0.0M347.7 201.4l-0.0 -0.1M264.8 174.5l0.2 0.1M398.9 247.9l0.1 0.4M353.5 165.5l-0.5 -0.2M274.1 148.8l0.0 0.4M285.0 242.9l-0.1 -0.7M352.1 264.0l0.0 0.2M280.2 196.1l-0.1 0.1M364.2 172.3l0.0 0.0M311.4 236.8l0.1 -0.0M302.5 224.2l-0.2 -0.1M364.8 210.0l0.6 -0.1M300.1 149.3l0.4 -0.2M367.0 175.6l-0.6 -0.3M308.3 233.8l-0.1 -0.1M262.8 185.9l0.4 0.4M393.2 164.3l0.5 0.1M328.8 246.7l-0.3 0.5M390.1 250.7l-0.2 -0.2M334.5 159.5l-0.2 -0.2M382.6 244.0l0.0 0.1M318.2 240.3l0.1 -0.3M348.1 263.1l-0.4 -0.4M336.4 226.8l-0.1 0.0M301.4 254.9l-0.2 0.0M333.5 203.7l-0.1 -0.6M302.2 146.9l0.3 -0.2M260.6 146.8l0.4 0.1M265.6 253.0l-0.2 0.4M303.2 263.7l0.4 0.4M287.2 169.0l-0.3 0.4M323.3 151.3l-0.4 -0.2M292.5 182.9l-0.2 0.7M352.7 243.5l-0.0 0.5M301.2 235.4l0.7 0.2M363.7 242.0l-0.1 0.0M332.2 166.1l-0.4 0.0M326.0 184.0l0.1 0.0M289.8 244.3l-0.3 0.4M272.0 209.7l-0.1 -0.0M309.2 147.7l0.3 -0.2"/>
<path stroke="#1a30d4" stroke-width="2.2" stroke-opacity="1" d="M330.1 204.3l-1.7 0.1 -0.9 -0.9M251.4 186.6l-1.4 -0.8 -0.4 -0.6M374.6 146.2l-1.0 0.6 -0.9 0.1M264.2 230.5l1.0 0.6 0.7 0.4M273.2 203.5l-1.5 -0.7 -0.7 -0.0M273.2 197.9l0.4 0.9 0.5 0.1M395.6 180.7l0.1 -1.0 -0.3 -0.7M258.0 171.3l0.5 -0.7 0.0 -0.6M336.3 186.0l-0.4 0.7 0.2 0.6M276.1 190.2l-0.1 -0.8 0.7 -0.8M256.0 154.0l-0.7 -1.1 -0.7 -0.2M247.3 155.1l1.1 0.9 0.1 1.6M250.4 234.7l-0.6 -0.8 0.1 -1.3M258.4 185.8l-1.1 0.7 -1.4 0.0M355.1 151.9l0.4 1.3 0.6 1.6M251.5 149.1l0.3 1.2 -0.1 0.8M260.5 261.8l-1.2 -0.2 -0.5 0.5M273.2 248.2l1.6 -0.0 0.7 0.2M255.2 180.1l0.9 1.6 0.6 0.3M299.2 259.8l0.6 0.1 0.6 0.5M341.5 171.3l-0.9 -0.2 -0.6 -0.6M304.3 165.3l-1.0 1.1 -1.1 0.8M278.6 184.1l1.4 0.6 1.0 0.9M283.2 228.7l-0.7 -0.1 -1.4 0.8M268.3 162.0l-0.6 0.3 -0.9 -0.2M279.4 189.5l-0.0 -0.9 0.3 -0.6M275.3 158.7l-0.3 1.1 -0.6 0.9M267.8 231.7l0.7 -1.3 0.4 -1.5M265.1 256.6l-1.5 0.8 -1.0 1.3M336.7 249.1l-0.6 0.5 -0.8 0.4M352.9 179.4l-0.2 0.6 -0.5 1.1M388.8 245.0l-0.5 -1.3 0.3 -0.8M295.4 203.1l1.1 -0.4 1.3 -0.0M288.3 158.5l0.5 0.4 1.4 0.1M325.4 154.2l1.1 0.5 0.9 0.4M398.4 177.6l-1.2 -0.2 -0.4 0.4M257.8 148.7l-0.5 1.7 -0.2 1.1M281.8 146.6l-0.2 0.6 -0.5 0.5M380.3 189.6l0.7 -0.4 1.0 -0.6M293.4 254.5l0.8 -0.1 1.6 -0.1M388.1 228.5l-0.7 -0.5 -1.1 -1.3M252.5 153.2l0.8 -0.7 0.6 -0.6M290.8 196.0l-0.3 1.4 -1.3 0.8M272.1 148.9l-1.7 0.1 -1.1 0.1M391.6 188.2l1.0 -0.7 0.8 -1.2M258.4 257.7l-1.5 -0.9 -0.2 -0.9M277.1 198.0l-1.1 -0.3 -0.9 0.2M401.1 170.1l-0.2 -0.6 -0.1 -1.5M307.2 235.7l-0.8 -1.0 -1.3 -1.0M377.6 202.3l-0.1 0.7 -1.3 0.9M249.9 222.6l1.3 0.2 0.5 0.2M252.6 263.8l-0.3 -1.0 0.5 -1.0M260.7 238.5l1.1 -0.8 1.5 0.3M277.0 169.1l-0.1 1.3 0.2 0.6M248.6 179.1l0.8 1.2 1.4 0.2M323.0 190.8l-0.7 0.4 -1.0 0.7M263.0 254.6l-0.9 -1.2 -0.5 -0.4M248.2 152.2l0.4 -0.8 0.1 -1.1M259.9 246.8l0.6 -0.3 1.2 -0.5M288.4 261.3l-0.2 -0.6 -0.3 -0.8M282.4 179.4l0.8 0.8 1.7 0.3M272.1 234.1l1.0 -0.3 1.2 -0.7M383.7 170.5l0.9 1.0 1.3 0.7M331.9 247.8l-1.0 1.0 -0.0 0.9M265.9 158.6l0.4 0.4 1.4 0.6M335.4 168.7l-0.6 0.2 -1.2 0.3M268.3 148.4l-0.8 0.4 -0.3 0.8M403.6 173.8l1.0 -0.3 1.0 -1.5M256.9 178.4l-0.0 -1.5 -0.5 -0.4M249.3 162.7l0.9 -0.2 0.7 0.2M310.8 183.5l0.6 -0.8 0.2 -0.7M259.0 198.8l0.7 -1.0 -0.1 -1.7M301.4 214.4l-0.0 1.6 -0.9 1.0M374.3 194.4l0.6 -1.0 1.0 -0.5M282.7 242.7l0.5 -1.5 0.6 -1.6M269.1 196.4l-0.0 -0.9 0.5 -1.2M346.7 260.5l-0.5 0.5 -0.3 1.0M332.6 256.3l0.3 0.5 1.4 1.0M252.7 232.3l0.4 0.6 1.2 0.3M299.8 157.3l0.3 0.6 -0.5 1.2M278.1 163.8l-0.7 0.8 -0.6 1.6M385.9 177.6l-0.6 0.6 -0.6 1.1M359.4 157.6l0.3 -0.6 -0.1 -1.0M248.5 250.3l1.6 0.3 0.7 -0.3M299.4 204.9l0.5 0.2 0.5 0.3M261.7 219.5l-0.9 -0.2 -0.8 -0.5M311.3 219.9l0.5 -0.5 0.8 -0.3M268.5 186.3l1.6 -0.4 0.5 -0.5M359.9 241.1l-0.5 -0.1 -1.5 -1.0M262.7 240.9l-0.5 -1.1 0.4 -1.2M271.3 186.4l0.5 0.3 1.5 0.5M288.9 206.9l1.6 0.4 0.8 0.0M299.2 250.3l-0.4 -1.2 0.4 -0.6M263.0 189.0l-1.2 -0.3 -1.0 -0.4M343.5 246.9l1.5 -0.8 1.5 -0.0M253.6 185.6l0.5 1.1 -0.2 0.7M303.4 259.0l-0.7 1.6 0.4 1.0M368.4 198.3l0.5 0.3 0.2 0.5M331.7 201.8l-0.5 -1.1 -0.3 -0.4M348.5 186.6l-1.2 0.5 -0.6 0.4M397.9 240.6l-0.9 -1.0 -1.6 -0.1M266.3 195.2l-1.4 -0.5 -0.5 0.2M320.3 253.1l-0.6 -0.5 -1.5 -0.7M262.1 210.0l1.0 -1.2 0.4 -1.5M287.2 171.0l1.2 0.2 0.6 0.0M385.6 240.7l0.4 -0.8 0.8 -1.2M246.5 183.8l0.5 -0.6 -0.1 -1.3M373.1 253.8l0.5 -0.6 0.3 -1.7M278.0 194.8l-0.5 -0.9 0.1 -0.6M295.0 166.1l-0.5 0.9 -1.6 0.7M287.4 165.2l0.2 -1.1 0.3 -1.5M259.3 237.2l0.1 -0.7 1.1 -0.9M280.0 255.9l0.5 1.2 0.1 1.1M256.9 241.3l1.0 -0.9 1.1 -1.2M325.9 253.8l0.4 0.6 0.5 0.1M326.5 166.2l-0.8 -0.3 -0.9 -0.7M402.8 212.7l-0.1 0.7 -0.8 1.1M336.3 181.8l0.9 0.4 0.9 -0.3M309.1 160.5l-0.7 -0.8 -0.4 -1.2M246.7 194.3l0.7 -0.3 0.5 0.2M304.2 195.4l0.6 0.6 0.9 1.4M248.0 206.0l-1.0 -0.1 -0.4 -0.4M246.6 157.4l1.2 0.2 1.6 0.5M252.6 240.9l0.5 -0.2 1.6 -0.1M372.9 263.6l1.1 0.5 0.5 0.5M378.9 207.5l-0.5 -1.0 -0.2 -1.2M271.1 178.6l0.2 1.4 0.3 1.6M387.9 177.0l-0.2 -1.3 0.7 -0.9M289.2 218.9l-0.0 -1.6 -0.2 -0.7M252.0 224.4l-0.7 -0.3 -0.7 -0.2M246.5 238.9l0.8 -0.1 1.5 -0.3M255.5 247.0l0.8 -1.0 0.9 -1.1M270.2 172.3l-0.6 0.2 -1.5 -0.3M369.2 154.0l0.7 0.9 0.8 1.6M303.6 186.5l0.0 -0.6 -0.0 -1.2M348.4 174.6l-0.7 -1.2 0.1 -1.4M369.7 193.0l-0.9 1.0 -0.7 1.3M249.8 211.5l-1.1 -1.0 -0.9 -1.2M325.0 181.3l0.5 -0.0 0.7 -0.5M259.9 183.0l0.6 -1.2 1.0 -1.0M289.7 154.1l-1.3 1.0 -0.6 0.3M255.3 219.1l0.1 1.4 -0.2 0.8M343.6 241.5l-0.6 1.6 -0.3 0.7M277.1 232.1l0.6 -0.8 0.2 -0.6M248.6 209.5l-0.1 1.3 -0.2 1.4M275.3 177.8l-0.5 -0.3 -1.5 -0.1M276.4 205.5l0.5 -0.3 0.8 -0.3M335.1 194.9l1.0 -0.2 1.8 0.1M305.8 149.4l1.4 0.1 0.9 0.7M310.9 223.2l0.9 -0.1 0.5 -0.1M330.9 147.1l0.3 0.4 -0.0 0.8M354.7 158.2l-0.6 -0.2 -0.7 -0.0M320.7 168.0l1.2 -0.0 1.0 0.2M301.0 159.4l-0.6 0.5 -0.2 0.5M274.6 169.3l-0.0 0.5 1.1 1.0M270.6 231.8l1.1 1.4 -0.2 1.2M338.8 197.5l0.4 -0.8 0.9 -0.5M258.3 209.1l1.3 0.4 1.2 0.0M401.4 249.1l-0.8 -1.4 -0.5 -0.5M365.5 192.2l0.4 0.3 1.2 0.1M281.8 193.6l0.9 -0.2 1.3 -1.2M312.8 159.7l1.2 -0.3 0.5 -0.1"/>
<path stroke="#1f38d8" stroke-width="1.6" stroke-opacity="0.92" d="M285.9 183.8l-1.5 -0.6 -1.4 0.5M311.2 255.3l1.4 0.9 0.3 1.6M329.1 201.4l0.0 -1.4 -0.1 -1.4M314.1 250.4l-1.0 -1.1 -0.8 -1.0M342.9 173.2l0.9 -1.0 1.1 -0.7M313.4 235.5l-1.1 -0.7 -0.4 -1.5M314.4 177.5l-0.6 -0.0 -1.5 0.7M264.5 263.7l0.1 1.4 -0.5 1.3M342.9 166.3l0.6 -1.4 1.4 -0.6M273.7 228.2l-1.1 1.0 -0.1 1.5M390.2 202.5l-0.5 -0.4 -1.0 -0.5M250.0 242.2l-0.5 -1.2 -0.5 -0.6M383.2 252.3l-0.8 0.1 -0.9 1.1M326.3 200.8l0.9 -0.4 1.1 0.0M284.4 258.1l-1.1 -0.0 -1.2 0.4M388.0 148.5l-1.5 0.2 -1.3 -0.7M259.3 232.7l-1.4 0.8 -1.2 -0.5M270.7 189.8l-0.2 -1.2 0.2 -1.4M313.7 227.8l0.5 1.5 0.3 0.8M349.3 216.3l0.3 -1.4 0.1 -0.8M253.2 234.8l0.7 1.2 1.0 0.7M330.1 189.7l-0.6 0.2 -1.3 0.9M278.0 262.3l-1.1 1.0 -0.2 1.6M297.8 195.7l1.3 -0.7 0.9 -1.3M322.3 226.9l0.4 1.1 0.0 1.2M346.5 172.3l1.2 0.1 1.2 0.2M321.4 234.3l0.0 1.3 1.1 1.1M258.5 163.0l-1.5 0.7 -0.2 0.7M264.9 163.1l-0.5 -1.4 -1.5 -0.7M317.9 171.0l-0.1 -1.6 -0.1 -1.1M258.1 261.6l1.1 -1.0 1.4 -0.3M286.3 173.9l-0.0 -1.0 -0.5 -0.5M402.8 232.5l-0.1 1.4 1.1 1.1M338.1 237.9l-0.8 -0.8 -1.5 -0.4M326.1 248.5l-1.2 -0.5 -1.5 -0.8M397.1 260.5l1.3 0.5 0.4 0.5M360.4 191.2l-0.3 -0.8 0.1 -1.6M285.8 156.7l0.7 0.7 0.2 0.7M277.4 160.3l0.1 0.6 -0.3 0.7M297.2 205.6l-1.6 -0.3 -0.8 -0.7M302.8 200.0l0.6 1.1 0.1 1.1M265.8 178.5l0.9 -0.8 1.3 -1.0M262.7 251.6l-0.6 0.4 -1.6 0.0M292.6 187.0l0.0 1.1 1.0 1.3M298.0 220.3l1.2 0.8 1.0 0.4M359.5 232.5l1.2 1.1 0.4 1.5M345.4 209.5l0.7 -0.3 0.8 -0.5M288.1 237.4l-0.3 0.6 -1.1 0.2M345.6 161.4l1.4 0.8 1.2 0.4M249.7 216.6l-0.9 0.4 -0.7 0.4M362.3 182.2l1.5 -0.5 0.7 0.4M275.7 156.1l-0.5 1.0 -1.0 1.0M362.7 188.4l0.6 -0.6 0.4 -1.6M368.6 156.7l0.8 -0.2 1.3 0.2M287.5 197.0l1.4 0.7 0.5 1.4M344.5 203.2l0.7 -0.8 0.6 -1.4M289.9 168.7l1.0 -0.1 0.8 -0.9M257.5 206.4l-0.2 1.7 -0.8 0.9M400.2 180.7l-0.6 -0.0 -1.3 -0.8M246.5 151.0l1.3 1.0 1.5 0.7M283.0 148.7l-1.3 0.9 -1.4 0.4M348.3 166.9l1.2 -0.1 0.7 0.1M259.2 179.7l-0.6 -1.1 -0.2 -0.6M255.1 238.9l0.2 -1.0 -0.0 -0.7M354.0 204.7l-0.7 0.5 -1.1 -0.2M319.5 205.1l-0.8 -0.7 -0.7 -0.4M317.6 148.4l0.3 1.4 0.2 0.7M252.0 255.7l0.8 -0.7 1.0 -1.2M266.0 199.2l-0.6 -0.2 -1.0 0.7M271.0 237.9l0.9 -0.5 0.3 -0.9M268.1 253.2l0.5 1.0 -0.2 1.1M256.1 167.7l0.8 -0.6 0.5 -1.5M341.5 238.0l0.4 -0.7 1.2 -0.7M399.1 147.6l-0.0 0.7 -0.0 1.6M280.0 241.5l-0.8 -0.9 -0.1 -1.5M310.6 149.7l0.6 1.3 0.9 1.1M324.1 241.1l0.8 -0.2 1.0 -0.1M323.4 255.3l1.7 -0.3 0.7 -1.0M283.5 187.3l-0.0 0.8 0.1 1.4M284.0 200.5l1.2 0.6 0.6 1.1M326.0 150.4l-1.7 -0.0 -1.3 0.9M265.8 171.9l0.5 0.6 0.4 1.5M379.7 151.7l-0.6 1.4 -0.5 0.7M362.3 159.2l0.1 -0.7 1.0 -1.0M398.2 202.9l0.7 0.6 -0.0 1.1M381.9 188.0l-1.1 0.6 -0.8 0.9M307.2 150.9l-1.6 -0.2 -1.1 0.5M389.7 159.6l-1.2 -0.3 -0.4 -0.8M296.2 169.0l-0.7 -0.6 -0.4 -1.1M366.1 201.9l-0.8 -0.3 -0.3 -0.9M273.8 194.3l-0.9 -0.8 -0.5 -1.4M372.1 226.9l0.1 -1.4 0.3 -0.8M311.4 157.0l-0.5 1.5 0.4 0.9M364.8 163.5l-1.3 1.0 -1.0 -0.2M246.5 196.8l0.8 1.3 -0.2 0.8M330.8 230.7l1.0 1.0 0.9 0.2M282.9 183.3l1.0 0.3 1.0 0.4M311.7 173.8l-0.4 -1.1 -0.7 -0.4M369.5 246.6l-0.2 -0.8 -0.6 -0.9M316.6 181.5l0.3 -0.6 -0.3 -1.0M362.1 148.1l-0.9 -1.3 -1.5 -0.5M269.4 214.9l-0.1 -0.7 0.2 -1.0M291.2 158.7l-0.4 -1.1 -1.2 -0.5M325.4 233.7l0.6 0.4 0.5 1.5M283.5 203.7l-0.6 1.0 0.1 1.2M355.7 229.1l-0.4 -0.9 -0.4 -0.8M250.7 259.8l-1.1 -1.1 -0.0 -1.1M311.1 164.0l0.2 -0.9 1.0 -1.0M253.6 175.1l-0.8 -1.2 -0.5 -1.0M300.8 222.8l-0.6 0.7 -0.6 0.2M378.0 163.9l1.1 -0.4 0.9 -0.1M343.0 257.6l-1.4 -0.0 -0.7 -0.4M278.1 175.1l0.0 1.7 0.4 0.9M353.9 210.1l0.7 -0.3 1.0 -0.2M298.1 256.2l-0.1 1.5 0.2 0.9M368.3 171.0l-0.0 0.6 0.8 1.0M280.6 211.3l-0.7 -0.6 -0.9 -0.4M396.2 206.6l-1.3 -0.9 -1.6 -0.6M363.8 206.1l-1.0 -0.4 -0.3 -0.5M380.0 198.2l-1.1 0.6 -1.1 0.1M294.5 152.5l0.5 -1.2 -0.5 -1.2M379.8 180.0l-0.8 1.2 0.1 0.7M360.2 204.2l-0.8 0.3 -1.3 -0.8M329.2 263.9l-1.5 0.5 -1.0 0.6M256.7 200.4l1.5 0.8 1.6 -0.2M314.6 155.9l0.0 0.6 -0.1 0.7M302.5 183.0l-1.5 -0.4 -1.3 0.6M404.1 159.1l-1.2 -0.9 -0.7 -0.1M329.4 157.5l-0.3 -0.9 -0.2 -1.4M366.1 156.1l-0.1 1.4 -0.8 0.8M343.5 260.5l0.3 1.0 1.2 0.6M263.6 213.1l-0.2 1.5 0.1 0.6M275.8 209.3l0.1 -1.0 0.2 -0.6M403.7 186.6l0.4 1.3 0.1 1.3M391.0 150.2l0.3 -0.6 -0.0 -1.0M281.2 218.5l-1.4 -0.0 -1.1 -0.6M311.7 187.5l0.5 0.5 0.4 0.6M281.9 231.4l-0.4 0.8 -0.8 0.7M324.7 202.9l-0.6 1.0 -1.1 1.1M389.9 195.3l0.6 0.5 0.5 1.4M259.9 159.0l1.0 1.4 1.6 0.1M317.3 262.4l1.1 -0.3 0.7 0.3M357.9 242.5l-0.9 0.1 -0.9 0.5M401.1 201.1l1.4 -0.6 0.8 -0.4M269.4 183.0l1.1 -1.1 -0.1 -0.9M255.2 234.3l0.2 1.2 0.9 1.2M315.2 199.7l1.1 -0.7 0.4 -0.5M378.6 204.6l-1.0 -1.0 -0.9 0.1M331.1 227.6l0.0 1.6 -1.0 1.2M274.3 165.0l-0.4 -0.6 -0.0 -1.6M275.5 251.3l0.7 -0.3 0.3 -1.1M267.0 183.5l-1.1 -0.3 -1.5 0.3M395.1 226.1l-0.4 -1.6 -0.8 -0.8M314.6 169.4l0.5 -0.6 1.4 -0.2M353.7 197.6l-1.4 -0.4 -1.3 -0.8M258.4 213.2l0.2 1.0 -0.4 0.6M348.6 188.8l0.9 0.8 0.2 1.5M323.3 258.8l-0.0 -0.9 0.2 -1.6M251.5 180.8l0.4 1.0 0.3 0.7M400.1 229.3l-0.5 -0.5 -0.9 -0.4M286.1 150.7l1.2 -0.4 1.4 -0.6M367.0 243.7l-0.8 -1.1 -1.2 -0.3M338.9 260.9l-0.5 -1.4 -0.7 -0.9M308.0 189.9l-0.0 0.8 -0.4 0.9M319.0 214.4l-1.0 0.6 -1.2 0.7M365.0 256.4l-1.1 0.9 -0.9 -0.0M274.0 236.0l0.8 1.5 0.7 1.0M381.8 149.4l0.1 1.0 0.1 1.1M306.5 256.4l-1.3 -0.7 -1.1 0.1M360.5 235.1l-0.0 -1.4 -0.4 -0.8M309.3 230.4l-1.6 0.3 -1.4 -0.4M258.4 175.2l0.4 -1.3 0.2 -0.7M255.1 152.3l-1.5 -0.1 -1.0 -0.4M375.1 186.7l-1.2 1.1 -0.7 0.1M268.8 178.0l-0.3 -1.2 -0.4 -1.0M333.7 175.4l-0.8 -0.4 -1.1 0.2M299.0 155.0l0.9 0.3 0.8 0.7M284.9 254.5l-1.3 -0.5 -1.4 0.6M258.7 160.9l-0.6 -0.3 -0.9 -0.2M305.9 203.2l-1.0 -0.0 -0.7 -0.5M246.4 177.4l0.8 -0.5 0.1 -0.8M341.1 198.9l-0.6 -1.2 -0.7 -1.4M374.1 205.2l-1.2 0.9 -0.1 1.2M339.0 203.7l-0.3 -1.0 0.7 -1.4M390.4 183.5l0.9 0.3 0.6 0.3M256.7 235.6l0.1 -1.0 0.8 -1.3M392.9 246.4l1.2 0.5 1.0 -0.3M272.4 152.4l0.5 -1.2 -0.4 -1.1M253.6 244.9l0.2 -0.9 -0.3 -0.9M272.0 218.9l-0.9 0.3 -1.4 -0.0M252.3 173.7l-1.2 1.0 -0.7 0.4M304.6 189.0l-0.2 -1.5 0.2 -0.7M303.8 210.2l0.0 0.6 -0.5 0.6M385.3 261.7l0.6 -0.1 1.3 0.1M339.1 251.4l0.4 -0.6 0.2 -1.4M322.0 154.8l-1.2 -0.5 -0.6 0.4M280.2 147.9l0.8 1.1 0.3 1.0M303.3 167.8l-0.2 -1.3 0.7 -0.7M365.3 153.6l-0.6 1.6 -1.0 1.3M251.2 162.5l0.7 -1.2 0.7 -1.2M339.2 254.8l0.6 0.2 0.6 -0.1M280.3 165.9l-0.1 1.7 0.1 1.1M274.9 255.5l0.7 -0.2 1.5 0.1M261.2 157.1l-0.6 0.4 -1.6 -0.2M259.4 177.9l-0.6 -0.8 -0.6 -1.0M324.8 245.3l0.1 0.8 0.5 1.4M253.3 170.2l-0.1 0.6 0.3 1.1M330.8 196.1l0.4 1.6 -0.6 1.6M255.7 230.3l-0.3 0.6 -0.6 0.8M349.6 250.7l0.8 -0.2 1.0 0.6M296.7 154.5l1.4 -0.3 0.5 -0.5M248.5 182.9l-0.2 1.5 -1.0 1.0M266.1 154.0l0.6 -0.6 0.5 -0.9M370.7 215.0l-1.1 0.1 -1.5 0.6M316.9 192.3l0.9 0.0 0.6 -0.3M251.3 155.5l-0.3 1.1 -0.6 0.3M276.1 164.1l-0.5 1.6 -1.5 0.7M329.6 217.9l-0.5 0.7 -1.3 0.7M328.2 163.2l1.1 1.0 0.9 0.8M309.7 200.6l1.4 -0.3 0.6 -0.1M394.1 151.6l-0.5 1.5 -1.1 0.5M345.7 227.8l-1.2 0.8 -1.3 0.8M382.6 206.3l-1.2 1.0 -0.9 0.3M276.3 220.7l0.4 0.9 0.6 0.9M281.8 249.9l-0.5 0.4 -1.3 0.0M400.4 234.7l0.6 -0.5 0.1 -0.9M269.9 174.4l-1.2 -1.0 -0.8 -0.2M398.2 245.5l0.6 -0.4 1.1 -0.2M337.4 218.8l1.3 -0.5 0.5 -0.8M367.4 213.9l-0.2 0.6 -0.9 0.6M247.2 175.2l-0.8 1.0 -0.5 0.5M272.2 245.7l-0.2 0.9 0.4 0.6M292.2 212.9l0.0 1.2 0.9 1.1M313.6 148.3l-0.1 1.6 -0.9 1.2M291.3 262.8l-1.0 -1.3 -0.6 -0.2M391.8 181.3l-1.1 0.9 -0.2 0.9M267.8 204.9l-0.6 -0.0 -0.7 -0.0M376.6 211.1l0.0 0.9 -0.6 1.1M388.1 155.9l-0.4 0.7 -0.2 0.6M393.4 198.8l-0.6 1.4 0.6 1.4M246.7 261.4l-0.4 1.5 -0.6 0.5M333.7 210.6l-1.1 0.7 -0.9 -0.1M315.8 163.4l-1.2 -0.4 -0.7 0.2M337.3 166.6l-0.0 0.7 -0.5 1.0M301.4 173.9l1.4 -0.9 0.5 -0.6M358.1 155.7l-0.7 -0.1 -1.6 -0.4M296.6 217.5l-0.5 -0.9 -0.8 -1.1M256.0 157.5l-0.7 -0.4 -0.9 -1.0M301.2 165.5l0.7 -1.5 0.2 -0.6M350.3 258.6l0.9 -0.6 0.9 -1.1M364.8 244.3l-1.2 -0.6 -0.4 -1.4M255.8 213.4l-0.8 0.3 -1.2 0.5M266.9 224.6l1.2 0.9 0.1 1.4M325.9 175.2l0.6 0.0 1.6 -0.4M401.1 146.6l1.6 -0.4 0.6 -1.0M369.1 238.5l0.5 1.0 0.1 1.1M360.0 250.1l-0.6 0.3 -1.4 0.5M302.8 228.7l-1.5 -0.2 -1.3 0.8M388.6 260.6l-0.2 -0.7 0.4 -0.6M274.6 152.4l1.4 -0.7 0.4 -1.0M258.8 221.8l0.1 -1.7 -0.2 -0.7M369.9 257.4l-1.2 0.8 -1.2 -0.2M308.7 187.2l-1.5 -0.8 -0.8 0.3M363.8 178.7l1.5 -0.2 1.3 0.1M402.5 218.9l1.0 0.4 0.5 1.3M274.4 240.2l-0.3 -0.6 0.1 -1.4M401.7 195.2l-0.4 1.6 -0.9 1.0M271.6 262.1l0.3 -1.5 0.6 -0.5M321.9 188.2l0.7 -0.2 1.0 -0.4M280.2 156.7l0.3 1.4 0.1 0.8M258.6 240.7l-0.4 0.7 -1.5 0.3M256.0 176.0l0.1 1.6 0.2 0.9M364.0 254.1l1.1 -1.2 0.4 -0.7M297.9 240.3l-0.7 -0.6 -0.4 -0.8M373.0 158.9l0.6 1.0 1.1 0.7M370.7 251.5l0.6 -0.9 0.5 -0.6M350.9 175.4l-1.2 -0.2 -0.7 0.0M343.6 197.2l-0.2 0.9 -0.7 1.3M399.2 232.8l-0.4 -0.5 -0.3 -0.6M334.8 188.8l-0.5 1.3 -0.4 0.6M280.4 201.3l-0.5 0.9 -0.4 0.9M272.5 182.0l0.5 0.6 0.7 0.9M389.1 188.2l0.8 0.3 0.7 0.5M268.2 194.8l-0.0 -0.7 0.1 -0.7M304.8 155.0l-0.6 -0.4 -0.1 -0.7M279.0 149.5l-0.8 0.6 -1.1 0.7M336.0 155.0l0.4 0.6 0.6 0.5M333.0 171.9l-1.0 0.6 -1.3 0.7M279.0 260.0l-0.2 1.0 -0.5 0.9M289.3 146.9l-1.3 0.4 -1.6 -0.1M251.9 178.3l-0.7 -0.4 -1.1 -0.8M315.5 229.5l0.7 -1.2 1.0 -0.7M370.7 171.7l0.8 0.8 1.3 0.4M269.9 206.9l0.8 0.7 0.7 0.1M286.6 245.3l0.7 0.6 1.4 0.3M251.5 237.6l0.2 0.6 -0.3 0.5M355.6 178.0l0.4 1.2 -0.7 1.5M283.5 239.6l-1.4 0.2 -0.7 0.8M277.6 208.2l-0.2 -0.6 -0.5 -0.5M266.9 262.6l1.0 0.3 1.2 -0.3M304.7 260.7l-0.5 -1.6 -1.3 -0.8M316.5 152.0l-0.8 -0.4 -1.1 -0.5M264.4 183.2l-0.6 0.3 -0.4 0.7M398.2 254.5l-1.0 -0.9 -0.2 -1.1M319.9 246.2l-0.6 0.5 -0.5 0.4M380.5 261.2l-0.6 -0.0 -1.4 -0.7M250.1 177.4l-0.2 0.7 -1.3 0.9M285.3 149.0l0.7 0.7 1.4 0.2M374.9 171.4l-0.3 0.9 -0.8 0.6M287.9 231.8l-0.9 -0.6 -1.2 0.0M292.9 261.0l-0.2 1.2 -0.3 1.1M316.5 242.6l-0.1 -0.7 0.0 -1.1M268.5 158.7l0.9 0.3 1.2 -0.8M284.7 185.7l-1.6 -0.5 -0.4 -0.6M248.0 235.9l1.4 0.3 0.9 1.5M374.1 173.6l-0.3 0.9 -1.0 0.7M318.3 255.4l-0.5 0.4 -1.1 0.5M288.4 187.8l-1.5 0.2 -0.7 1.2M336.1 151.3l0.3 0.8 0.5 0.8M379.3 147.0l-0.4 -1.0 -0.1 -0.9M250.5 246.6l0.2 1.0 0.8 1.1M395.8 218.6l0.5 -1.3 0.7 -0.4M266.4 186.4l0.1 -0.8 -0.2 -0.6M255.0 243.1l-0.5 -1.0 0.1 -0.9M263.4 222.1l-0.6 -0.9 -0.8 -1.5M296.0 181.2l1.1 -1.0 0.9 -0.8M347.2 152.6l1.1 0.0 0.7 0.4M269.5 210.1l0.7 1.5 0.4 1.4M265.5 147.8l-0.5 1.3 -1.2 0.6M342.7 183.6l-0.1 -0.7 -1.2 -1.1M372.2 256.9l0.0 0.8 0.0 1.0M339.2 175.7l-1.3 -0.1 -1.0 -0.3M253.7 165.0l-0.3 0.7 -1.4 0.9M369.1 180.2l0.1 0.7 0.4 0.5M373.2 176.0l1.6 0.4 0.9 -0.6M387.9 194.7l0.7 0.4 0.7 1.1M295.4 163.7l-1.1 -0.3 -0.6 -0.1M282.9 263.5l-1.4 -0.7 -1.3 -0.4M345.1 153.3l-0.5 -1.5 -1.4 -0.8M252.4 204.5l-0.9 -1.0 -0.8 -0.9M261.2 260.1l1.2 0.1 0.8 1.0M256.1 203.4l1.3 0.3 0.7 0.5M299.5 182.0l1.4 0.1 0.7 0.5M253.7 207.7l-1.4 0.7 -0.6 1.4M354.6 233.1l-0.4 -1.1 -0.8 -0.5M351.3 162.0l0.1 1.3 -0.2 1.2M263.2 157.0l0.5 -1.2 -0.3 -0.8M287.1 153.5l0.5 -0.6 0.7 -0.5M306.9 168.9l-1.3 0.1 -0.6 0.6M318.6 225.1l0.8 1.2 1.4 0.6M384.1 191.1l0.7 1.0 1.2 1.1M316.3 251.7l-0.7 -0.6 -0.6 -1.1M305.7 162.6l-1.0 -1.1 -0.7 -0.9M346.3 179.9l-1.2 -0.3 -1.4 0.6M273.8 179.3l-0.8 -0.1 -0.9 -0.6M264.7 201.5l0.4 1.0 1.3 1.1M390.0 205.0l-0.7 0.2 -0.6 -0.0M248.6 174.1l-1.6 -0.3 -0.6 -1.1M266.6 197.2l1.2 0.7 1.7 -0.1M322.6 195.0l-0.3 0.7 -1.1 1.0M353.6 171.5l0.7 1.0 0.7 1.0M360.9 165.8l1.2 1.2 0.2 1.3M384.4 218.3l-0.1 -0.9 -0.3 -1.1M331.9 233.6l-1.5 0.5 -1.0 -0.2M379.6 172.8l0.3 -1.2 -0.7 -1.2"/>
</g></g>
<clipPath id="cp6"><rect x="410.2" y="148.0" width="154.2" height="114.0"/></clipPath>
<g clip-path="url(#cp6)">
<rect x="408.2" y="146.0" width="158.2" height="118.0" fill="url(#bg)"/>
<g filter="url(#soft)" fill="none" stroke-linecap="round" stroke-linejoin="round">
<path stroke="#2848d0" stroke-width="1.7" stroke-opacity="0.88" d="M471.8 148.8l-0.4 -0.4M551.2 235.4l0.0 0.3M540.4 218.3l0.0 -0.2M411.1 228.1l0.3 -0.3M547.5 243.5l0.1 0.1M417.3 199.4l0.3 -0.4M419.9 163.1l-0.0 0.1M522.0 208.0l0.0 -0.7M411.4 157.3l-0.6 0.3M533.0 149.0l-0.2 0.1M451.5 252.0l-0.1 0.1M488.6 167.5l-0.3 0.1M528.4 148.6l0.7 -0.2M539.3 223.7l0.7 -0.1M558.3 217.8l-0.3 0.2M462.5 196.9l-0.3 -0.8M435.1 152.5l0.7 0.1M537.7 200.0l-0.3 -0.5M541.6 209.1l0.3 0.1M468.4 254.6l0.3 -0.1M427.7 188.2l0.5 -0.0M537.9 233.9l-0.4 0.4M439.2 156.9l0.3 -0.1M455.8 244.1l0.0 -0.0M427.2 241.3l-0.6 -0.3M419.9 184.6l-0.6 -0.5M512.6 260.6l0.2 0.4M428.5 165.3l-0.4 0.1M466.7 167.7l-0.1 0.1M478.2 163.7l-0.4 0.5M526.0 156.6l-0.5 0.5M554.4 161.2l0.3 0.3M468.0 249.8l0.4 -0.2M455.1 153.7l-0.0 -0.0M533.9 176.1l-0.1 -0.0M565.7 168.3l0.1 0.2M435.9 181.1l0.0 -0.7M539.3 178.6l-0.0 -0.6M466.1 229.3l-0.7 -0.1M479.4 160.8l0.3 -0.3M533.8 200.2l-0.1 0.1M532.7 209.3l-0.3 0.0M441.1 192.5l-0.0 0.1M441.0 213.1l-0.6 -0.2M466.2 217.9l0.1 0.5M414.1 174.3l0.0 0.0M487.4 247.8l-0.3 0.1M418.0 224.0l-0.4 -0.1M551.8 193.6l0.1 0.1M520.7 181.6l0.4 -0.5M548.0 235.6l-0.1 0.3M409.7 160.4l0.6 -0.1M562.0 191.7l0.5 0.2M526.4 213.9l-0.5 -0.1M411.7 219.5l-0.2 -0.0M463.6 220.4l0.3 0.6M532.0 236.6l-0.2 0.2M473.3 177.7l-0.0 0.7M544.6 198.0l0.1 0.6M491.2 192.0l-0.6 0.4M544.6 173.5l-0.1 -0.1M534.7 150.5l-0.4 0.1M497.1 163.4l0.6 -0.3M565.4 245.4l0.1 0.4M418.7 173.5l-0.0 -0.2M505.6 164.8l-0.0 0.0M490.9 176.7l-0.7 0.1M456.0 211.4l0.3 0.6M436.0 252.4l0.2 -0.4M501.2 159.6l0.0 -0.0M490.6 263.3l0.3 0.4M420.8 197.8l-0.1 0.1M423.2 237.3l-0.0 -0.0M414.1 161.7l0.3 0.6M460.3 162.0l-0.0 -0.1M485.5 152.9l-0.0 0.2M544.6 254.7l0.5 0.3M499.0 146.7l0.3 -0.3M474.3 162.4l0.0 0.2M424.8 227.0l0.1 -0.1M498.7 246.4l0.1 0.0M449.5 185.2l0.0 -0.0M478.2 174.4l-0.5 0.0M558.3 211.6l-0.2 -0.3M422.9 229.5l0.2 -0.1M413.7 211.4l-0.0 -0.6M433.6 162.2l0.4 0.2M408.3 251.9l0.2 0.2M414.0 255.9l0.1 0.5M510.4 175.8l0.1 0.6M413.2 261.6l0.1 -0.0M551.2 147.6l-0.1 0.1M436.5 212.1l-0.1 0.3M560.7 199.6l0.7 -0.2M513.0 169.0l-0.5 0.3M411.2 192.8l0.1 0.0M412.8 175.8l0.4 0.1M442.6 234.2l0.2 -0.1M461.8 187.6l0.2 -0.2M412.5 163.9l-0.4 -0.5M545.1 208.5l0.0 0.0M562.3 180.4l0.1 -0.4M542.7 230.9l0.1 -0.0M507.7 234.9l0.0 0.0M566.2 256.9l-0.5 0.1M462.0 184.7l0.0 -0.1M521.5 193.8l0.1 -0.2M565.6 262.3l-0.5 0.6M447.8 215.9l-0.4 0.6M465.1 236.8l0.2 0.1M506.5 154.5l-0.3 0.2M554.3 186.8l0.0 -0.1M565.7 188.1l0.6 -0.3M430.8 190.2l0.7 -0.2M429.3 209.8l0.4 -0.1M426.5 209.1l0.2 0.0M561.0 151.1l0.1 0.0M450.9 221.2l0.0 0.2M505.7 157.0l-0.2 0.1M446.3 258.8l0.5 0.2M491.9 238.7l0.5 0.3M459.7 237.1l0.3 -0.2M547.7 225.7l0.4 -0.2M474.1 181.7l0.1 -0.0M409.2 209.3l0.2 0.4M478.4 198.5l0.3 -0.5M450.9 163.8l-0.1 0.1M547.4 170.3l-0.3 -0.4M550.0 243.7l0.3 0.5M470.9 199.9l-0.0 -0.1M417.4 169.0l0.1 0.7M456.6 251.0l0.1 0.0M428.0 161.9l-0.2 -0.1M411.6 201.7l0.3 -0.4M464.3 171.4l-0.2 0.3M503.1 161.1l-0.6 0.2M523.0 249.5l0.0 -0.0M506.3 228.3l0.0 -0.2M500.9 166.0l-0.1 0.3M558.4 259.4l-0.4 0.5M554.8 210.9l-0.4 -0.2M533.0 257.7l0.1 -0.1M475.7 246.9l0.0 0.2M453.4 170.7l0.0 -0.1M493.5 254.3l0.1 0.5M508.8 152.0l-0.4 -0.0M433.3 199.0l0.5 0.4M492.1 189.7l0.2 0.3M456.9 228.1l-0.1 -0.1M502.5 181.4l0.2 0.5M422.4 205.4l0.2 0.5M556.0 204.6l-0.4 -0.6M410.0 168.3l0.3 -0.0M430.3 195.8l0.1 -0.1M475.9 244.6l0.3 0.4M454.1 216.5l0.2 -0.4M412.4 173.1l-0.0 -0.3M560.6 196.3l-0.6 -0.2M564.8 182.1l0.7 0.0M480.0 164.8l-0.0 0.7M413.3 186.4l-0.7 0.0M518.3 257.9l0.3 -0.2M458.1 207.5l0.0 0.0M440.0 197.6l0.0 -0.1M470.9 150.8l-0.6 -0.6M421.0 168.0l0.1 -0.4M442.8 146.3l-0.1 -0.6M483.2 178.4l0.5 0.2M416.3 147.3l0.1 0.4M517.3 260.3l0.0 0.2M512.2 161.8l0.3 0.0M506.8 238.3l-0.1 0.0M524.2 229.2l-0.5 0.5M559.7 257.6l-0.0 0.4M534.5 240.8l0.1 0.0M468.5 169.9l-0.0 0.5M464.8 160.7l0.4 -0.5M442.4 180.8l0.1 0.6M527.8 169.8l-0.3 0.2M539.0 151.1l0.0 0.1M539.6 262.0l-0.2 0.1M441.8 247.4l-0.4 0.3"/>
<path stroke="#2440a4" stroke-width="1.6" stroke-opacity="1" d="M493.9 169.6l-0.1 0.1M485.0 210.8l-0.0 0.0M409.0 194.5l0.0 0.1M433.3 221.6l-0.2 0.0M417.9 216.3l0.1 0.2M471.3 253.1l-0.2 0.1M474.4 242.5l-0.0 -0.0M507.1 250.9l0.1 -0.1M556.5 197.3l0.2 0.0M441.6 223.9l0.1 -0.1M460.3 174.6l0.1 -0.0M555.9 154.3l-0.1 0.1M427.3 231.3l0.3 0.0M530.3 258.5l0.1 -0.1M532.2 192.0l0.2 -0.1M479.1 229.5l0.2 -0.0M547.3 233.1l0.0 0.0M547.6 202.6l-0.0 -0.1M558.0 228.0l-0.1 -0.2M527.8 189.8l0.1 -0.0M480.8 156.4l0.0 -0.1M428.4 148.0l0.3 -0.0M488.2 197.1l0.0 -0.0M493.9 158.5l0.0 -0.1M554.8 256.1l-0.1 0.1M459.7 159.0l-0.2 0.1M522.8 260.6l0.0 0.0M535.7 180.8l0.0 -0.1M423.1 256.2l-0.1 0.1M444.1 255.3l0.0 -0.2M452.3 255.2l-0.0 0.0M431.3 224.6l-0.1 -0.0M464.1 253.4l-0.0 0.1M434.0 212.3l-0.0 -0.0M558.6 185.9l-0.1 0.0M543.4 194.2l0.2 -0.2M424.8 254.6l-0.1 0.2M490.3 148.0l-0.1 0.1M463.9 169.3l-0.3 0.0M471.1 163.9l0.0 0.0M491.8 168.9l-0.0 0.0M421.7 159.2l-0.0 -0.2M413.1 154.0l-0.3 -0.0M550.5 224.1l-0.1 0.2M543.2 186.2l-0.0 -0.0M515.6 195.3l-0.1 0.0M528.7 194.3l-0.0 0.3M508.8 164.1l-0.0 -0.2M477.0 205.7l0.1 -0.0M458.9 148.5l-0.2 -0.1M443.1 230.3l-0.3 0.0M541.7 226.2l-0.2 -0.1M558.6 213.9l0.1 -0.1M415.7 241.4l0.1 -0.0M409.9 196.6l0.0 -0.1M555.4 150.6l0.0 -0.0M415.7 223.3l0.0 0.0M557.1 224.8l-0.1 -0.1M485.7 217.5l-0.2 -0.1M479.7 210.3l-0.1 0.2M465.7 158.3l0.1 0.0M438.7 214.8l0.0 0.1M559.2 221.3l0.2 0.0M487.5 240.8l0.0 0.0M439.5 173.5l0.1 0.1M447.5 243.4l0.1 0.1M505.9 181.2l0.0 0.2M443.8 172.4l-0.2 -0.0M477.9 179.2l0.2 -0.0M466.0 198.9l0.2 0.2M547.0 147.0l-0.1 0.1M458.9 183.3l0.2 -0.1M563.7 242.7l-0.1 0.1M460.3 219.2l0.2 0.2M545.4 148.3l0.0 -0.1M459.8 213.8l-0.2 0.1M547.3 177.5l-0.2 0.0M556.6 183.6l0.1 -0.1M494.3 154.4l-0.0 0.1M553.6 225.1l0.0 -0.1M561.5 226.7l0.2 -0.1M444.1 260.1l0.0 -0.0M544.2 168.3l0.1 -0.2M468.7 239.8l-0.1 0.2M442.6 242.4l0.0 -0.0M519.3 149.6l0.1 -0.0M530.4 148.1l-0.0 -0.0M433.0 260.2l0.1 -0.1M545.8 159.8l0.0 0.0M516.6 182.8l0.0 0.2M505.9 175.8l-0.1 -0.2M501.6 197.0l0.1 0.0M449.7 206.6l0.1 -0.0M508.4 146.8l-0.2 -0.2M544.9 154.1l-0.0 0.1M536.5 239.6l-0.1 0.0M541.0 161.6l0.3 0.1M472.9 158.9l0.0 -0.0M423.2 212.6l0.2 -0.2M438.2 146.2l0.1 0.2M493.1 161.7l0.0 0.0M439.9 176.4l-0.3 -0.1M519.5 173.1l0.1 -0.1M440.4 178.4l-0.0 -0.0M439.4 243.7l-0.2 0.2M477.1 253.2l0.1 -0.0M433.8 206.4l-0.0 -0.0M454.0 202.6l-0.1 0.2M491.3 232.3l-0.2 -0.1M481.2 263.9l0.1 0.0M408.5 231.8l-0.1 0.1M443.8 162.1l-0.0 -0.2M541.7 213.4l-0.1 -0.0M553.0 179.1l-0.1 -0.0M545.4 247.8l-0.0 -0.0M556.3 236.6l0.1 -0.2M533.4 232.7l0.0 0.1M538.0 158.6l-0.2 -0.1M443.6 248.6l-0.1 0.2M426.9 204.7l-0.0 0.1M421.0 202.4l0.1 -0.2M525.2 179.6l0.2 -0.1M528.5 215.5l0.1 -0.1M423.3 168.5l0.0 0.0M433.7 240.2l0.1 -0.1M423.8 173.7l-0.2 -0.1M507.6 182.6l-0.1 -0.1M427.1 215.7l-0.0 0.0M532.2 241.4l0.2 -0.2M454.5 239.3l-0.1 -0.0M487.6 207.5l0.1 0.1M510.2 247.1l0.0 -0.2M432.2 245.5l-0.1 -0.0M486.4 188.6l-0.3 0.1M495.9 159.8l0.1 -0.1M448.4 162.1l-0.0 -0.1M438.8 233.7l-0.2 0.2M478.1 249.1l0.1 -0.1M441.3 149.7l0.2 -0.2M514.5 236.2l0.0 0.2M441.6 168.6l-0.0 -0.1M502.3 173.5l-0.1 0.2M515.5 149.2l0.0 -0.1M505.5 255.1l-0.1 -0.1M478.9 183.8l-0.1 0.0M490.1 222.3l-0.2 0.2M413.0 184.2l0.0 0.1M463.2 206.9l-0.0 -0.0M534.9 163.0l-0.0 0.0M456.1 178.8l-0.1 -0.1M552.3 171.6l0.0 -0.0M455.8 185.7l0.2 -0.1M462.1 179.4l0.3 -0.1M525.1 221.4l-0.2 0.1M561.3 214.3l-0.0 -0.0M450.3 256.7l0.1 0.0M565.6 206.8l0.1 -0.1M487.6 234.7l-0.1 0.1M426.7 253.4l0.1 0.1M489.8 255.0l-0.0 0.2M561.5 183.0l0.0 0.3M428.3 176.4l0.1 -0.2M446.7 177.1l-0.1 0.2M536.0 167.2l-0.0 0.2M482.2 185.9l-0.1 -0.1M409.2 171.0l0.0 -0.0M449.2 157.1l0.0 -0.0M549.6 231.9l0.0 0.0M456.0 255.7l0.1 0.1M493.6 223.9l0.0 0.0M450.3 154.1l0.0 -0.3M494.7 174.1l0.3 0.1M478.4 222.2l-0.2 -0.2M421.1 231.1l0.2 -0.1M481.8 236.0l-0.2 -0.2M486.5 169.8l0.0 -0.1M520.3 156.7l-0.0 0.0M510.6 219.5l0.0 -0.1M445.6 165.8l0.2 0.0M447.7 159.7l-0.0 -0.0M448.3 235.6l0.1 0.1M527.9 251.9l-0.1 0.0M473.5 250.2l0.1 -0.0M489.1 228.1l0.0 0.2M508.8 210.4l0.2 0.1M539.0 192.2l-0.2 0.0M459.3 227.6l0.0 -0.1M512.0 226.4l0.0 0.1M478.3 213.3l0.3 0.1M516.7 230.3l0.1 -0.0M491.2 196.3l-0.0 -0.0M493.9 229.4l0.1 0.1M493.8 219.4l0.2 0.0M476.7 181.0l0.0 0.2M444.8 170.5l0.0 0.2M426.0 181.5l-0.2 0.1M448.2 191.8l-0.0 0.0M545.4 225.9l0.1 -0.1M544.8 261.3l0.0 0.0M447.5 237.8l0.2 -0.0M449.5 167.1l-0.3 0.1M459.9 249.1l-0.2 0.0M549.1 263.0l-0.2 0.0M543.2 263.2l-0.1 0.0M462.4 234.6l0.0 -0.2M421.5 225.9l0.0 -0.0M495.8 256.9l-0.2 0.1M447.5 232.1l-0.1 -0.1M479.1 195.5l-0.1 0.0M460.3 190.7l0.1 0.0M525.9 245.6l0.3 -0.0M541.6 256.1l0.3 -0.1M417.9 153.1l-0.0 0.0M538.3 205.9l0.2 -0.0M532.7 244.1l0.1 0.1M432.1 173.5l0.2 0.2M430.9 214.8l-0.1 -0.0M520.3 175.3l-0.2 0.1M426.6 170.9l0.1 0.1M435.6 249.1l-0.1 0.2M464.7 164.1l-0.1 -0.0M482.6 162.5l0.0 -0.0M494.0 186.4l0.1 0.0M481.6 256.7l-0.1 0.1M542.7 166.1l0.0 -0.0M437.0 237.4l-0.1 -0.1M452.7 242.9l-0.0 0.2M503.0 156.6l0.0 0.2M467.0 246.4l-0.2 -0.2M562.8 220.5l0.1 -0.0M493.4 209.3l0.1 -0.1M523.9 210.2l-0.1 -0.0M421.9 218.2l-0.2 -0.0M410.2 223.2l0.2 0.2M533.5 183.2l-0.0 -0.0M430.2 204.4l-0.1 -0.2M517.0 250.1l0.1 -0.2M475.7 167.8l0.2 0.2M510.8 235.4l-0.1 0.2M507.5 148.7l-0.0 -0.0M500.7 199.5l0.2 0.0M483.3 171.6l-0.2 0.2M505.6 170.1l-0.0 0.0M410.2 221.4l0.1 0.1M495.7 234.7l0.1 -0.2M467.5 227.1l-0.0 -0.0M412.9 148.8l0.0 0.0M500.9 186.8l-0.2 -0.1M415.2 165.6l-0.1 -0.0M529.2 247.2l0.1 -0.3M503.9 242.3l0.1 0.0M543.9 201.6l-0.0 0.0M562.4 158.4l0.1 0.0M442.9 253.5l0.2 -0.2M493.1 213.1l-0.1 0.2M484.2 248.3l-0.2 0.1M427.7 157.3l0.0 0.1M430.7 219.1l0.1 -0.2M420.7 151.9l-0.1 -0.2M467.2 172.5l0.1 0.0M513.2 251.2l0.2 0.2M484.7 197.1l-0.2 0.1M461.2 203.6l0.1 0.2M425.5 218.4l0.1 0.2M454.8 219.0l-0.1 0.2M539.6 236.2l0.2 -0.1M486.8 194.1l0.1 -0.0M474.0 208.1l-0.1 -0.2M479.0 245.2l-0.1 0.1M436.0 170.8l0.1 0.2M552.7 257.8l-0.3 -0.1M439.2 160.2l0.2 -0.1M479.9 237.7l-0.2 -0.1M421.8 172.5l-0.0 0.0M525.4 206.9l0.0 -0.2M511.9 201.0l0.0 -0.1M440.9 190.5l-0.0 -0.1M432.1 263.4l0.1 -0.1M449.8 174.5l0.1 -0.0M537.5 230.0l0.2 0.2M543.8 227.9l-0.1 -0.2M417.7 166.7l0.0 0.0M501.2 230.5l-0.0 0.1M421.5 211.3l0.1 -0.0M461.1 146.7l-0.0 -0.1M472.5 227.7l-0.1 -0.1M534.7 187.9l-0.0 -0.0M548.3 195.3l-0.1 0.2M500.7 258.7l-0.3 0.0M543.0 153.3l-0.1 0.2M524.9 255.7l0.0 -0.0M505.1 197.3l0.0 -0.0M540.8 189.4l-0.2 0.0M456.4 155.5l-0.2 -0.1M466.1 183.2l0.0 -0.0M450.3 212.0l-0.2 0.1M418.0 235.6l0.0 -0.1M535.8 201.6l-0.2 0.2M566.1 202.9l-0.0 -0.1M418.8 211.0l-0.1 0.0M548.1 192.2l-0.2 -0.1M539.7 253.3l-0.0 -0.0M551.5 219.6l0.1 0.0M477.7 169.0l-0.2 -0.1M432.0 184.4l-0.0 -0.0M517.3 206.4l-0.3 0.0M532.5 252.1l-0.1 0.1M561.7 235.2l0.0 0.0M497.5 177.0l0.2 -0.1M493.6 192.1l-0.3 0.0M472.3 196.9l0.2 0.0M481.2 172.7l0.2 -0.0M554.1 199.2l-0.0 -0.1M467.5 185.8l0.0 0.1M535.0 224.2l0.0 -0.0M438.4 241.0l0.3 0.1M488.9 202.8l-0.1 -0.1M489.8 155.4l-0.1 0.1M498.3 154.3l-0.0 0.1M495.9 191.2l0.2 0.2M408.3 158.6l-0.0 -0.0M531.3 170.8l-0.0 0.3M566.2 251.0l-0.0 0.0M513.9 180.9l0.2 0.2M466.5 179.9l0.0 -0.0M431.7 147.6l-0.1 -0.2M514.1 197.7l0.2 0.0M536.7 150.9l0.0 -0.2M433.8 238.1l0.1 -0.1M483.5 216.1l-0.0 -0.1M423.3 153.7l-0.1 -0.2M540.6 198.1l-0.1 -0.2M557.2 246.2l-0.0 0.0M537.3 236.5l0.0 -0.2M423.5 262.9l-0.1 0.1M464.1 195.2l-0.3 -0.0M460.1 195.3l0.3 0.1M456.0 158.3l0.2 -0.1M523.0 252.8l0.1 -0.0M483.1 251.4l-0.2 -0.0M566.1 223.8l-0.0 0.0M518.1 227.1l0.1 -0.0M553.6 192.4l0.2 -0.1M461.6 182.6l-0.2 -0.0M505.0 258.8l0.1 0.0M429.6 170.9l-0.0 -0.0M515.9 175.2l-0.2 -0.1M514.1 215.3l0.0 -0.0M519.3 166.8l0.0 -0.2M450.8 204.3l0.0 0.1M465.4 175.4l0.3 -0.0M464.3 204.5l0.0 0.0M459.0 155.8l-0.2 0.2M423.6 243.1l-0.2 0.1M494.3 260.4l-0.3 0.0M558.4 178.7l0.1 0.1M549.7 176.8l-0.0 -0.1M560.5 203.7l0.1 -0.1M535.8 252.3l-0.0 0.0M452.1 147.2l0.1 0.2M482.9 262.3l-0.1 -0.1M430.4 208.2l-0.2 0.1M542.4 245.3l-0.0 -0.0M458.7 171.4l0.0 0.0M494.6 188.8l-0.1 -0.1M451.8 263.2l-0.1 -0.0M458.2 209.7l-0.2 -0.0M558.6 156.3l0.2 0.2M523.6 189.1l0.2 0.2M412.0 198.7l0.0 0.0M550.6 246.0l-0.0 -0.1M489.8 199.2l0.2 0.1M545.9 185.8l0.1 0.0M424.7 164.0l-0.0 0.0M504.8 166.8l0.0 0.1M526.8 210.1l-0.1 -0.2M508.3 206.2l0.0 -0.2M460.3 167.1l0.1 0.1M419.3 158.1l-0.0 0.0M454.1 148.5l-0.1 -0.1M519.7 212.7l0.0 0.1M421.2 182.9l0.0 -0.0M522.9 160.5l0.0 -0.0M470.7 248.3l0.1 -0.1M449.4 200.1l-0.2 -0.1M539.8 166.7l-0.3 0.0M535.4 215.3l-0.0 -0.1M429.6 173.9l0.0 0.0M462.5 191.3l0.2 -0.0M478.0 217.5l-0.0 -0.0M544.1 241.0l-0.0 0.1M550.4 257.9l0.1 -0.3M414.1 207.4l0.1 -0.0M439.3 189.2l0.2 0.2M420.6 260.1l-0.0 0.2M408.5 192.3l0.2 -0.0M516.2 171.3l-0.1 0.0M546.9 251.4l0.1 0.2M438.8 227.6l-0.2 -0.0M557.2 263.7l0.1 -0.1M429.3 223.0l-0.2 0.1M424.6 158.8l0.1 -0.1M512.8 247.8l0.1 0.2M529.5 211.2l-0.1 0.1M443.2 153.5l-0.1 -0.2M435.4 200.4l-0.1 -0.1M428.4 199.7l-0.1 0.1M439.9 248.6l0.1 -0.0M488.4 157.2l0.1 0.3M563.3 256.6l-0.0 0.0M491.3 186.8l0.1 -0.0M517.2 237.3l0.1 0.0M511.5 197.8l0.2 -0.1M446.3 186.5l0.3 0.0M559.0 147.3l-0.2 -0.0M485.5 262.8l0.1 0.1M413.1 182.3l0.1 -0.0M518.7 177.4l0.1 0.0M468.4 211.5l0.1 0.1M509.5 241.7l-0.0 -0.2M537.3 165.1l0.0 0.2M415.0 231.0l0.0 -0.0M464.5 222.8l-0.2 0.1M555.0 220.0l0.2 0.2M527.7 205.8l-0.1 -0.1M441.4 158.1l-0.0 0.1M532.2 181.2l0.1 -0.0M543.8 157.9l-0.1 -0.0M514.6 173.4l0.2 -0.1M449.0 241.2l0.0 -0.3M485.0 146.1l-0.0 0.0M504.6 172.0l0.1 0.2M531.9 161.0l-0.0 0.2M418.8 230.2l0.2 0.1M505.4 263.4l-0.2 -0.1M562.9 208.2l-0.0 0.1M437.2 157.8l-0.0 -0.0"/>
<path stroke="#1f38d8" stroke-width="1.6" stroke-opacity="0.92" d="M486.3 229.5l0.7 0.8 0.9 0.8M520.8 257.9l0.0 0.8 0.8 1.4M560.8 252.4l1.5 -0.5 0.5 -1.3M443.4 157.9l-0.6 0.2 -1.1 1.0M521.4 152.0l-0.0 -1.5 0.3 -0.6M471.3 171.5l-0.7 -0.3 -0.8 -0.3M530.2 184.3l0.7 0.6 0.9 0.7M409.6 244.0l0.6 -0.5 0.3 -0.7M435.4 222.8l0.3 -0.9 0.6 -0.5M428.5 250.9l1.0 0.7 0.1 1.2M458.4 262.2l-0.3 0.5 -1.4 0.2M494.2 178.1l-0.6 0.6 -1.0 0.7M427.0 195.7l0.3 0.6 0.1 0.9M464.6 227.2l0.3 1.6 0.3 0.6M450.4 179.1l-1.0 0.2 -0.9 -0.1M468.1 163.8l-0.4 1.1 -0.5 0.4M514.1 212.7l-1.2 -0.5 -0.5 -0.5M550.7 157.8l-0.9 0.5 -0.9 0.4M515.5 240.4l1.4 0.1 1.1 0.2M441.7 172.3l0.6 -0.5 0.4 -0.5M562.0 241.1l-0.2 1.5 -0.2 1.0M508.7 168.0l0.8 -0.6 0.6 -1.1M484.0 219.8l-0.7 0.2 -0.8 -0.5M531.5 219.6l0.1 1.1 0.5 0.8M421.5 244.5l0.6 -0.9 0.7 -0.6M444.5 155.3l-0.7 0.7 -1.4 -0.1M444.6 196.8l-1.4 -0.3 -0.5 -0.8M545.9 216.9l-0.0 0.8 -0.1 0.7M429.1 168.1l-1.0 0.2 -0.8 1.1M440.7 218.6l1.3 -0.7 0.4 -0.7M415.6 220.0l-0.8 1.0 -0.4 1.3M424.0 232.7l-0.7 0.9 -1.1 1.1M462.4 239.5l0.8 0.0 1.2 0.3M434.3 149.8l1.2 -0.6 0.5 -1.0M452.4 158.4l-0.5 0.6 -0.3 0.7M540.9 186.4l-0.8 1.2 -0.1 1.0M537.7 226.7l-0.8 0.1 -1.1 -0.0M503.5 193.7l1.0 1.1 0.1 1.3M510.0 178.8l1.2 -0.4 1.0 -0.9M482.7 181.6l0.7 -1.3 1.0 -0.4M438.8 219.7l-0.8 -0.6 -0.9 -0.3M416.5 179.5l-1.0 -0.3 -0.8 -0.6M433.1 216.6l-0.8 -0.5 -1.6 -0.5M419.5 171.3l1.1 1.0 -0.1 1.1M462.5 151.7l-0.9 -1.0 0.1 -1.2M487.6 153.7l-0.9 -1.0 -0.2 -1.3M561.6 148.0l0.7 1.1 1.6 0.3M496.6 170.5l0.0 -1.4 0.1 -0.7M550.8 260.1l-0.1 1.1 0.7 0.7M433.4 196.4l0.2 -0.9 0.1 -0.6M429.3 245.1l1.1 0.1 1.6 0.4M509.5 196.2l0.5 -1.4 -0.5 -1.1M455.5 221.2l-0.5 -0.3 -0.4 -1.0M555.0 250.7l-0.1 1.6 -0.6 0.5M450.5 248.8l-0.1 0.9 -1.1 1.1M446.7 157.4l-1.0 0.8 -1.6 0.5M561.0 193.6l0.5 -1.4 1.0 -1.0M514.9 158.4l-0.6 0.5 -0.7 0.6M551.8 161.6l-0.1 -1.6 0.7 -0.7M424.6 177.3l0.4 -0.9 0.7 -1.5M441.8 239.9l-0.6 1.5 -0.5 0.5M484.8 238.5l1.5 0.1 0.6 0.5M442.0 164.2l-1.1 -0.0 -1.5 -0.7M549.7 173.2l-0.7 -0.6 -0.6 0.0M432.6 182.2l-1.4 -0.9 -0.2 -0.7M503.0 263.0l-0.7 0.4 -1.4 -0.2M416.9 191.6l0.8 0.6 1.1 0.1M532.5 155.7l0.1 -0.7 -0.6 -0.7M561.8 229.5l0.6 -1.4 1.3 -0.8M457.1 217.9l-0.6 -0.5 -0.1 -1.7M521.1 254.4l0.8 0.1 1.0 -0.9M527.6 178.8l-1.0 -0.2 -0.6 -1.1M412.9 189.4l0.6 -0.2 0.4 -0.7M555.0 263.7l-0.6 0.3 -1.0 -0.1M481.1 215.4l0.7 1.5 1.0 1.2M471.6 246.2l0.7 0.6 1.3 0.5M443.4 212.6l0.5 -0.5 0.5 -1.1M413.0 166.0l1.0 0.4 1.3 -0.5M497.7 157.0l0.6 -1.3 -0.2 -1.3M426.0 260.4l-0.2 1.3 0.1 0.9M411.4 231.5l1.0 1.2 0.4 0.8M565.1 230.7l0.2 -0.8 1.3 -0.8M452.2 191.8l0.3 -1.7 -0.5 -1.2M474.0 218.6l-0.4 -0.7 -1.0 -0.7M552.9 239.0l1.1 1.2 0.6 0.6M524.5 167.7l-1.1 1.0 -1.1 0.9M408.8 227.0l-1.1 -0.4 -0.9 0.5M526.1 195.1l-1.2 -0.9 -0.1 -1.5M518.2 185.8l-0.7 -1.4 -0.5 -0.4M455.6 189.0l0.8 0.9 1.3 0.6M410.2 239.0l1.3 -0.7 0.7 -1.4M528.6 165.9l-0.7 0.3 -1.3 0.3M454.2 196.4l-1.3 0.7 -0.3 1.4M542.5 238.7l0.4 0.5 -0.0 1.0M482.8 227.5l-1.1 -0.4 -1.0 -1.1M426.9 245.8l0.9 -0.8 0.6 -0.9M497.1 180.3l1.0 -0.4 1.5 -0.5M424.2 207.3l-0.8 0.6 -0.3 1.3M493.0 262.4l-1.3 0.1 -1.3 0.6M466.3 261.9l-0.8 1.1 -0.9 0.6M484.6 162.6l-1.0 0.1 -1.1 -1.0M457.3 181.8l-0.5 -0.6 -1.7 -0.2M430.8 233.5l0.8 -0.5 0.2 -1.1M432.4 203.7l0.1 -1.2 0.8 -1.0M471.0 206.1l-1.4 0.4 -0.6 1.2M438.3 259.4l1.1 -1.2 1.0 -1.0M538.8 246.0l1.3 0.1 1.6 0.1M485.5 178.7l0.7 -0.3 0.3 -0.6M500.8 222.6l0.5 0.5 0.7 0.5M437.9 198.8l1.3 -0.1 0.8 -0.7M420.0 225.0l-1.1 0.2 -0.5 0.7M526.8 249.0l1.0 1.0 0.1 1.3M413.8 221.2l1.5 -0.4 0.6 0.1M411.2 260.1l0.6 -0.2 0.6 -0.2M527.6 152.3l0.4 -0.8 0.5 -0.6M527.0 232.3l-1.0 -1.2 -1.5 -0.5M434.4 177.7l-1.3 0.3 -0.5 0.7M528.7 263.7l-1.1 0.6 -0.4 0.6M471.7 239.0l1.0 0.5 0.3 0.8M423.5 187.4l0.3 0.7 0.4 0.5M559.6 249.0l-1.2 0.2 -0.4 0.6M456.7 164.5l-1.2 -0.9 -0.3 -0.7M421.8 177.4l1.2 -0.5 1.1 -1.1M555.4 169.3l0.1 -1.0 -0.1 -1.4M463.4 159.1l0.8 0.8 0.7 0.3M523.6 242.0l0.5 0.5 -0.1 1.1M408.3 216.1l0.7 -0.2 0.7 -1.5M436.1 189.2l-0.5 -1.3 -1.2 -0.8M486.2 158.9l0.9 -1.1 0.5 -1.3M540.5 146.6l-1.1 0.1 -1.1 0.7M416.0 228.8l-1.1 -0.5 -0.5 -0.4M494.7 250.5l0.9 -0.1 1.4 0.2M520.3 262.6l0.8 -0.0 0.6 0.4M419.6 190.8l0.8 -1.5 0.0 -0.8M484.4 203.4l-0.3 -1.1 -0.3 -1.4M488.2 174.5l-1.5 0.0 -1.5 0.1M476.0 157.6l0.1 1.3 1.2 1.1M458.8 164.5l-0.8 0.4 -0.3 0.6M548.5 249.1l-0.4 1.5 -0.2 1.4M447.1 218.3l-0.7 -1.2 -0.5 -0.3M493.6 195.4l-0.8 0.5 -0.7 0.2M418.7 179.2l1.1 0.6 0.3 1.0M517.1 167.1l-0.3 1.0 -0.2 1.1M423.9 201.2l-0.5 1.2 0.1 0.8M430.4 251.9l-1.0 0.5 -0.8 -0.3M508.9 261.6l-0.4 1.1 -0.5 0.3M467.3 155.0l-0.1 -1.7 -0.0 -1.0M418.8 196.4l-0.1 1.5 0.2 0.8M547.5 220.4l-0.6 -1.0 0.2 -0.6M413.4 245.1l-0.3 1.0 -0.5 0.7M416.6 245.8l1.4 0.1 0.9 0.3M513.6 254.1l0.6 0.3 0.9 0.6M456.5 260.5l0.9 -0.1 0.8 -1.0M561.5 259.1l-0.7 0.9 -1.0 0.4M506.2 188.3l0.6 0.5 0.9 1.0M445.4 206.8l1.2 0.6 0.5 1.4M513.1 210.6l-0.8 -1.1 -0.7 -0.8M483.2 148.8l-1.0 0.3 -0.3 0.5M453.6 167.5l0.7 -1.4 1.4 -0.7M561.5 263.7l1.1 -1.2 0.6 -0.8M417.8 164.5l0.2 -1.6 0.7 -0.5M520.8 168.6l0.2 -0.8 0.8 -1.5M472.3 230.8l0.8 -0.4 1.2 -0.2M460.2 154.2l0.9 0.6 0.8 0.8M428.3 238.8l0.1 1.4 1.2 1.1M535.0 254.8l-0.3 -1.5 0.9 -1.0M562.8 232.5l-0.3 -0.8 -0.5 -0.4M478.3 240.0l-0.7 -0.4 -0.9 -0.2M551.0 209.8l1.0 1.0 0.7 1.3M469.1 263.9l-0.8 1.4 -0.6 0.6M491.4 159.6l1.1 0.3 1.1 0.5M473.0 263.1l0.6 1.0 0.3 0.7M542.2 235.3l-0.1 -1.5 -0.2 -0.6M552.0 205.3l-0.6 -1.0 -1.0 -0.6M450.8 172.2l-0.1 -1.2 -0.3 -0.6M409.5 248.4l0.2 1.3 0.3 1.0M426.4 263.1l-1.1 -0.2 -1.1 0.1M535.9 177.6l0.4 1.3 0.4 0.5M470.9 190.7l0.7 -0.4 0.2 -1.1M411.5 206.7l-0.9 0.5 -0.7 -0.3M456.8 199.3l0.6 1.5 0.7 0.2M417.0 251.6l0.2 -0.7 -0.5 -1.0M447.1 250.1l-1.1 -0.2 -0.5 -0.5M455.1 146.4l-0.7 -0.5 -0.8 -0.5M525.5 175.8l-0.3 -1.0 -0.7 -0.3M524.2 184.2l-1.1 -0.4 -1.5 0.5M545.6 256.6l1.2 -1.1 0.4 -0.8M565.7 171.0l1.3 0.6 0.6 -0.2M542.6 175.6l0.9 0.5 1.3 -0.0M489.9 162.6l0.2 -0.7 -0.3 -1.2M472.4 241.3l1.4 0.8 1.6 0.6M414.7 226.2l-0.1 0.7 0.1 0.9M422.9 223.2l0.7 -1.1 -0.2 -0.7M511.9 157.6l0.8 0.5 0.9 1.4M486.2 172.6l-0.2 0.6 -0.0 1.5M434.8 244.0l0.3 -1.0 -0.4 -1.6M412.8 196.9l-0.1 -1.5 -0.5 -0.5M465.8 248.7l-0.7 -1.5 -0.7 -1.0M417.4 242.5l-1.3 0.5 -0.7 -0.1M422.2 194.0l0.7 -0.8 0.5 -0.5M415.3 261.7l-0.8 0.3 -1.5 0.1M427.6 220.0l-0.7 -1.1 -0.6 -0.3M564.6 237.0l0.9 -0.6 0.1 -0.7M522.8 147.9l0.6 0.1 0.4 0.5M421.5 233.7l-0.8 0.4 -1.3 -0.3M504.6 153.0l0.6 -0.6 0.8 -0.4M470.4 161.2l1.3 0.8 1.0 0.8M419.4 237.4l-1.0 -0.2 -1.1 -0.7M488.8 211.6l-0.3 -0.7 -0.9 -0.7M414.0 171.2l0.2 0.6 0.2 1.7M411.6 235.6l-0.0 -1.1 0.7 -0.9M512.2 256.2l-0.7 0.3 -1.2 0.0M518.2 190.4l-0.1 -0.9 -1.0 -0.7M472.6 258.8l1.3 -0.1 1.1 1.0M563.1 176.7l0.5 0.3 0.6 0.3M500.8 238.1l1.5 0.2 1.5 -0.5M531.9 151.6l0.6 0.7 0.9 0.7M471.2 179.8l-0.6 0.1 -1.1 0.7M547.0 166.2l0.2 1.5 -0.9 1.2M523.4 239.7l0.7 -0.7 0.6 -1.2M409.8 207.7l-0.9 1.4 -0.7 1.1M537.7 147.4l-0.3 -0.5 0.3 -0.8M540.2 257.8l0.8 0.0 0.9 1.0M422.7 198.7l-0.4 -1.6 0.1 -1.2M463.4 147.7l0.8 1.0 0.2 0.8M544.0 204.9l0.5 -1.0 -0.1 -0.8M515.2 258.5l0.4 1.6 0.6 1.2M415.5 159.3l0.8 -1.2 0.7 -0.5M462.7 165.4l-1.3 -0.7 -0.8 -0.0M536.3 160.7l1.1 -0.7 0.6 -0.3M457.5 177.1l-0.9 0.2 -1.2 0.3M493.9 236.7l1.5 -0.4 1.6 -0.1M545.1 171.3l1.0 0.7 1.0 0.3M448.2 151.6l-0.1 -1.5 0.4 -0.9M496.2 200.6l-0.7 -1.1 -1.6 -0.6M433.7 227.5l-0.5 -0.3 -1.4 0.0M443.3 201.7l-0.5 -0.4 -0.6 -0.2M452.5 230.3l0.7 0.2 0.6 0.8M513.4 188.4l-0.9 0.6 -1.2 0.3M478.5 147.8l0.7 -0.9 0.2 -0.7M444.9 181.1l1.2 0.1 1.0 0.5M431.5 206.0l-1.6 0.2 -1.1 -0.6M433.7 219.0l-1.3 0.5 -1.2 -0.3M504.5 148.1l0.3 -0.6 0.5 -0.6M480.7 260.2l1.5 0.7 0.2 0.7M485.6 259.5l1.4 -0.2 0.9 0.3M428.5 184.0l-0.0 -1.2 0.6 -0.5M419.1 243.4l0.6 -1.2 -0.4 -1.6M418.8 246.6l-0.7 -0.3 -0.5 -0.9M555.4 159.2l0.8 -0.1 1.6 0.4M413.0 205.5l-1.0 1.2 -0.6 0.5M536.8 247.3l0.3 0.9 -0.2 1.2M476.4 165.3l-1.3 0.2 -0.8 -0.4M513.2 245.5l0.5 -0.7 0.3 -1.0M477.0 234.3l-1.3 0.5 -1.6 0.1M513.3 176.3l0.6 0.9 0.5 1.6M481.7 206.7l1.1 0.6 1.6 -0.1M423.6 148.9l0.8 0.8 0.2 1.4"/>
<path stroke="#1a30d4" stroke-width="2.2" stroke-opacity="1" d="M422.6 239.1l1.2 -0.8 1.0 -0.7M444.3 185.8l-0.3 0.5 -0.7 1.3M438.0 163.2l-0.9 0.2 -1.1 1.1M431.3 152.6l-0.7 -1.1 -0.8 -1.0M436.7 193.3l0.0 0.6 0.4 0.5M447.6 208.9l0.0 1.1 -0.3 0.6M452.3 197.9l0.8 0.4 1.1 -0.3M426.6 152.9l-1.7 0.0 -0.7 0.7M498.5 230.5l0.1 1.3 -0.2 1.8M436.9 176.6l-0.6 0.2 -1.0 0.8M421.7 251.6l0.1 -1.6 -0.1 -0.6M445.2 183.1l-0.3 0.9 -1.0 0.4M430.4 200.5l-1.6 -0.2 -0.9 0.4M468.9 151.0l0.7 -0.9 0.7 -0.0M420.5 179.4l1.2 -0.3 0.6 -0.4M542.5 170.9l0.1 -1.6 0.8 -0.5M408.8 212.7l1.6 0.1 1.4 -0.7M476.6 146.4l-0.5 0.7 -0.1 0.6M423.4 246.8l-0.4 1.4 -0.2 1.5M525.8 192.6l1.7 -0.1 1.4 0.8M511.1 228.7l-0.7 1.5 -1.0 0.5M409.1 182.1l0.7 0.7 1.2 1.0M528.6 154.4l0.6 -0.9 0.7 -1.6M444.6 222.0l-0.5 -1.0 -0.3 -1.6M410.6 217.7l-1.1 0.0 -1.3 -1.0M516.0 263.1l0.7 0.4 1.1 0.2M408.6 147.5l-1.3 0.6 -1.1 0.6M483.6 155.3l-0.3 -0.7 -0.7 -0.9M540.7 232.3l-0.9 -0.2 -0.7 -0.4M552.8 246.7l0.5 1.2 1.0 1.3M427.1 226.6l-0.3 0.6 0.2 0.7M538.4 194.8l0.5 0.6 0.9 0.6M410.2 190.6l1.5 -0.9 1.2 -1.1M408.8 224.4l-0.3 1.2 -0.2 1.7M543.5 177.7l-0.6 -0.2 -0.5 -0.3M492.1 171.2l-0.1 1.3 -0.9 0.8M561.6 223.4l-0.6 -0.9 -0.4 -0.4M564.2 149.7l-0.8 0.6 -0.9 0.7M416.6 197.7l-0.2 -1.4 -1.2 -1.1M410.0 262.4l0.8 1.0 0.4 0.8M428.4 264.0l-0.3 0.5 -1.0 1.2M481.9 167.4l-1.3 -0.2 -0.6 0.1M494.4 148.7l0.4 0.3 0.2 1.2M542.1 156.4l-0.5 0.6 -0.6 0.5M532.7 196.6l0.6 -0.6 0.1 -0.9M469.3 148.9l0.0 1.7 -0.6 1.6M456.5 205.1l1.3 0.8 1.1 0.4M447.8 165.4l-0.4 -0.6 -1.5 -0.3M452.8 207.2l-1.2 -0.9 -0.5 0.1M420.0 155.8l-0.8 0.6 -1.6 0.2M408.9 233.6l0.5 -1.3 0.0 -1.1M408.7 241.4l-0.2 1.2 0.7 1.5M458.4 222.6l-1.1 -1.2 -0.1 -0.5M435.3 166.2l-0.5 -1.4 -0.7 -0.5M455.4 174.9l1.1 -0.8 0.2 -1.7M488.7 146.6l-0.8 -1.5 0.3 -1.4M416.3 202.4l-1.1 1.2 -0.3 0.7M492.0 173.5l1.1 0.9 0.7 0.1M521.4 235.8l0.7 0.2 0.8 -0.5M408.8 204.5l0.6 -1.2 0.1 -1.3M485.6 150.0l0.5 -0.7 1.8 -0.1M416.4 238.3l-0.2 1.1 -1.0 0.6M454.0 164.2l0.5 -0.6 0.1 -1.2M511.5 152.9l1.6 -0.5 0.7 -0.4M413.7 218.3l0.4 -0.6 -0.1 -0.6M429.6 160.6l1.0 0.0 1.0 0.1"/>
</g></g>
<clipPath id="cp7"><rect x="572.0" y="148.0" width="153.5" height="114.0"/></clipPath>
<g clip-path="url(#cp7)">
<rect x="570.0" y="146.0" width="157.5" height="118.0" fill="url(#bg)"/>
<g filter="url(#soft)" fill="none" stroke-linecap="round" stroke-linejoin="round">
<path stroke="#2440a4" stroke-width="1.6" stroke-opacity="1" d="M687.3 150.3l0.1 -0.0M709.7 224.7l0.0 -0.2M663.0 238.9l-0.2 -0.2M659.6 223.1l-0.1 0.2M689.5 216.7l0.0 0.0M619.8 158.0l-0.0 0.2M571.8 185.7l-0.0 -0.0M679.8 164.4l0.1 0.2M575.7 217.8l-0.1 -0.2M677.9 152.9l-0.0 -0.2M594.3 217.4l-0.2 -0.2M588.9 220.9l-0.1 -0.1M698.2 256.9l0.1 -0.2M718.3 189.5l0.0 -0.0M665.7 182.5l0.1 0.0M706.2 177.8l-0.1 0.2M699.1 233.1l0.1 0.2M689.0 224.0l-0.0 0.2M587.2 251.2l-0.0 -0.0M691.3 171.2l-0.1 0.0M617.4 150.8l-0.2 -0.2M719.3 222.3l0.0 0.1M699.7 210.8l-0.1 -0.0M683.9 173.2l-0.2 0.2M641.8 184.9l-0.1 -0.1M573.1 176.1l0.0 0.0M675.6 161.0l0.0 0.1M670.9 234.5l0.2 -0.2M663.4 223.4l0.2 0.2M618.2 246.7l-0.1 0.2M636.8 232.2l-0.2 0.0M630.5 217.0l0.0 0.0M693.0 175.6l0.0 -0.1M703.4 164.4l-0.0 -0.1M586.5 153.8l-0.0 0.2M694.3 261.6l-0.0 0.0M726.0 150.4l-0.0 0.1M614.7 258.1l0.1 -0.1M704.4 184.8l0.2 0.1M633.4 150.4l-0.3 0.0M615.3 156.9l-0.0 0.3M685.6 223.3l0.0 0.0M619.6 231.6l0.1 -0.1M690.1 259.8l-0.3 0.1M630.1 170.4l0.0 0.1M679.7 262.4l-0.2 0.1M679.7 217.6l-0.0 0.1M576.3 198.9l-0.1 0.0M689.7 194.8l-0.2 0.0M718.6 251.8l0.0 0.2M658.4 184.0l0.1 -0.3M587.8 224.8l-0.1 0.0M591.8 249.7l-0.1 0.0M709.9 238.8l-0.1 -0.2M630.3 152.0l-0.1 -0.1M646.8 187.3l0.0 0.2M641.6 252.7l0.2 -0.0M574.8 243.8l-0.3 0.1M651.1 176.4l0.3 0.1M599.2 185.3l0.0 -0.0M578.9 203.7l-0.2 -0.1M599.5 148.8l0.2 -0.1M684.2 184.4l0.1 -0.1M704.6 215.7l-0.1 0.3M628.8 228.5l-0.2 0.1M701.1 225.2l-0.1 -0.2M643.6 249.8l0.0 -0.0M717.1 219.9l0.2 -0.1M714.5 189.7l0.3 -0.1M721.7 170.0l-0.1 -0.2M725.2 221.4l-0.0 -0.3M660.4 195.1l-0.1 -0.3M665.4 167.7l-0.2 -0.1M590.1 261.2l0.0 -0.0M628.9 219.2l0.2 -0.1M621.6 246.5l0.0 -0.1M707.6 263.4l-0.1 -0.1M642.5 176.0l-0.0 0.3M619.0 198.9l-0.1 -0.2M675.6 179.9l0.1 0.2M713.1 199.6l0.1 -0.0M717.7 184.1l-0.0 0.1M648.0 212.4l-0.1 0.2M702.5 236.4l0.1 0.0M698.2 244.8l0.1 0.1M627.5 244.1l0.0 -0.0M689.0 147.0l-0.1 0.0M607.7 245.4l-0.1 -0.0M634.6 246.3l-0.2 0.2M697.8 210.0l0.1 0.1M661.9 206.9l-0.1 -0.1M650.4 170.3l-0.2 -0.2M688.7 160.7l-0.3 0.1M641.8 247.1l-0.0 -0.0M686.0 218.3l-0.2 0.2M653.5 179.3l0.0 0.1M601.8 208.9l0.1 -0.0M573.4 247.3l-0.1 0.0M595.9 165.7l0.0 0.0M622.8 262.0l-0.0 0.0M641.0 169.8l0.0 0.0M703.7 179.2l0.1 0.0M667.1 160.8l0.1 -0.2M664.5 176.1l0.0 0.0M699.7 157.1l0.1 0.1M644.6 174.0l0.0 0.0M669.7 243.2l0.0 0.0M574.1 225.9l0.2 0.2M610.1 208.6l0.1 0.0M585.7 260.3l0.1 0.2M715.5 233.3l0.1 -0.1M720.3 232.8l0.2 -0.0M693.4 203.9l-0.2 0.0M709.7 198.9l0.1 0.1M726.3 163.4l0.1 -0.1M603.6 246.5l-0.1 -0.0M669.7 172.2l-0.2 0.1M581.8 176.3l0.2 -0.2M666.0 146.6l0.0 -0.0M647.8 251.1l-0.1 0.3M645.0 242.8l0.1 0.1M572.8 262.3l-0.2 -0.0M626.3 172.8l-0.1 -0.2M588.7 152.5l0.0 -0.0M715.4 217.0l-0.0 0.0M650.1 224.4l-0.1 -0.2M652.8 204.7l0.0 -0.2M598.7 187.5l-0.0 -0.0M655.2 250.2l-0.1 -0.3M632.8 249.0l0.1 -0.2M610.3 178.2l0.2 0.0M696.0 234.4l-0.2 -0.1M644.7 154.9l0.1 0.2M619.5 258.8l0.1 -0.0M577.7 239.1l0.1 0.1M619.9 237.0l-0.0 0.1M726.8 171.8l-0.1 0.2M696.8 208.0l-0.1 -0.1M692.1 228.0l0.2 0.1M721.3 164.3l-0.1 0.0M640.9 189.5l-0.3 0.0M602.5 262.6l0.0 -0.0M673.7 191.9l0.2 0.1M614.0 206.7l0.0 0.2M634.3 215.2l0.3 -0.0M712.0 258.1l0.1 0.0M633.5 235.6l0.0 0.0M646.2 185.4l0.2 0.1M673.1 165.5l-0.0 -0.0M667.1 242.9l-0.0 0.2M669.0 252.9l0.1 0.0M576.2 151.2l-0.3 -0.1M659.1 234.0l0.2 0.0M713.7 180.4l-0.0 -0.3M638.0 193.5l-0.0 0.0M673.8 255.5l0.2 -0.2M627.9 241.4l-0.0 0.0M711.3 174.8l0.0 -0.0M659.2 199.2l-0.2 0.2M641.0 242.9l-0.1 -0.2M687.5 197.3l-0.1 0.3M612.7 146.8l-0.2 0.1M651.2 184.6l0.0 -0.0M602.3 207.0l0.0 0.0M616.2 189.0l0.0 0.0M704.2 176.8l-0.1 0.3M591.8 153.2l0.0 0.0M606.1 167.3l-0.0 0.1M616.9 225.9l0.0 0.1M598.4 216.4l-0.3 -0.1M589.1 245.0l0.3 0.1M722.1 148.7l0.1 -0.1M604.5 223.8l0.1 -0.0M611.9 237.1l0.1 0.1M690.9 153.7l-0.1 0.0M623.7 226.6l0.0 0.0M665.4 196.2l-0.1 0.1M669.4 228.1l0.2 -0.2M617.9 250.0l-0.0 -0.2M643.8 216.2l-0.1 0.1M572.2 207.4l0.1 -0.0M719.6 260.2l-0.0 -0.3M656.9 193.6l0.0 0.0M655.0 168.6l-0.1 -0.2M631.9 257.0l0.1 0.2M616.3 247.2l-0.1 -0.1M707.8 258.0l0.0 0.0M571.7 254.5l-0.1 -0.0M659.0 220.7l-0.2 -0.1M656.2 254.4l-0.0 -0.0M598.5 264.0l0.1 -0.0M682.4 211.2l-0.0 -0.1M626.7 230.3l-0.1 0.0M578.7 150.4l-0.0 -0.0M571.0 177.2l0.1 -0.0M664.3 198.4l0.2 -0.1M688.6 248.6l0.0 0.1M680.7 175.0l0.0 -0.0M635.4 238.8l0.3 -0.2M726.2 192.9l-0.1 0.1M644.9 257.0l-0.0 0.0M672.1 203.3l-0.0 0.1M588.3 247.9l0.0 0.0M656.7 191.2l0.1 -0.2M672.2 211.3l-0.2 -0.2M686.3 231.0l-0.2 0.2M625.8 194.4l-0.1 -0.2M645.1 183.3l0.2 -0.0M607.0 250.0l0.1 -0.2M676.0 240.0l-0.2 0.1M602.5 187.6l0.0 -0.0M587.2 160.5l-0.1 0.2M633.9 242.5l0.0 -0.1M670.0 258.9l0.1 0.2M668.7 226.0l0.1 -0.2M589.3 189.7l-0.2 -0.2M701.5 192.4l0.0 0.0M648.6 236.0l-0.0 -0.1M719.8 210.9l-0.1 0.1M582.4 258.9l-0.2 0.0M693.3 196.1l-0.2 0.1M662.6 210.6l-0.1 0.0M631.1 209.0l0.1 0.1M709.9 182.7l-0.1 -0.1M639.7 191.4l-0.2 -0.1M603.3 193.7l0.0 0.1M600.0 210.4l0.0 0.0M657.8 226.5l0.0 -0.0M598.3 158.0l0.0 0.0M636.3 210.7l0.1 -0.2M689.9 163.8l-0.0 0.2M691.8 161.2l-0.1 0.1M574.2 180.4l0.2 0.1M716.9 214.5l0.1 0.1M709.2 221.2l-0.1 0.0M585.7 186.5l0.3 0.1M611.8 217.6l-0.0 -0.1M696.4 195.6l0.0 -0.1M673.4 213.8l0.0 -0.0M614.9 223.7l0.3 -0.0M663.7 233.3l0.2 -0.2M705.9 244.9l0.0 0.2M571.2 196.8l-0.1 -0.0M685.7 247.2l0.1 -0.0M675.2 251.6l0.1 -0.2M658.2 174.8l-0.1 0.0M719.1 216.3l-0.0 -0.1M611.5 168.0l-0.0 -0.0M706.0 159.3l-0.0 0.0M593.8 259.2l0.1 0.0M651.4 202.4l-0.0 -0.0M689.0 251.8l-0.1 -0.2M673.7 230.6l-0.1 -0.1M661.3 155.9l-0.0 -0.0M583.1 210.2l0.1 -0.1M667.9 250.7l-0.0 0.0M718.4 193.7l-0.1 0.0M615.8 176.0l0.0 -0.1M631.8 211.6l-0.2 -0.1M583.8 235.6l0.1 -0.2M628.6 183.5l0.0 -0.0"/>
<path stroke="#1a30d4" stroke-width="2.2" stroke-opacity="1" d="M570.3 262.8l0.6 -1.2 0.6 -0.9M701.5 190.4l-0.2 1.1 -0.1 1.4M659.5 228.2l-0.4 0.5 0.4 1.7M693.2 170.1l-0.5 -0.5 -0.0 -1.5M636.1 188.7l1.2 -0.6 0.7 -1.3M611.2 180.3l-0.6 -0.1 -0.4 -0.7M609.8 184.7l-0.3 -0.4 0.3 -0.7M628.2 260.8l1.6 -0.6 1.3 -0.5M587.3 201.2l-0.9 -0.2 -1.4 -1.0M613.8 218.9l0.3 -0.7 0.7 -0.5M610.2 222.1l1.3 1.0 0.3 0.5M586.1 194.3l0.7 1.1 0.7 1.1M602.8 214.5l-1.3 -0.3 -1.1 0.4M583.8 177.6l-0.3 1.1 0.5 1.3M578.8 164.1l0.7 -0.3 1.7 0.1M703.9 151.2l-0.2 1.3 0.6 1.4M673.4 244.1l1.4 -0.9 1.8 0.1M715.7 157.6l0.4 0.6 -0.0 1.5M722.4 211.0l-0.6 -0.2 -1.1 -0.9M687.2 163.5l-1.3 -0.4 -1.2 -0.7M599.8 205.6l1.5 -0.7 0.9 -1.4M590.2 213.9l0.5 -0.2 0.5 -1.1M610.4 201.4l-0.6 0.3 -0.9 0.6M713.0 149.7l-1.6 -0.4 -1.1 -0.5M704.6 192.1l0.9 0.8 1.3 0.4M594.1 209.3l0.0 1.3 0.3 1.0M703.5 201.9l0.6 -1.3 0.4 -0.3M602.6 179.9l-0.0 0.8 0.2 0.9M610.5 165.4l0.8 1.2 0.1 0.5M714.9 153.7l0.5 -0.4 0.4 -1.7M705.0 225.4l0.4 -1.7 0.7 -0.5M600.3 245.0l0.8 -1.0 0.9 -1.3M598.3 227.5l-0.9 0.9 -1.7 0.3M704.5 227.7l0.0 0.6 0.4 0.9M705.1 222.4l0.8 -1.2 1.4 -0.9M644.8 166.1l-1.0 0.2 -0.8 0.4M710.8 149.0l0.8 1.6 -0.2 0.8M577.3 176.3l-0.4 -0.8 0.4 -1.1M695.2 157.5l0.3 1.2 -0.1 1.7M709.4 190.3l-0.2 1.2 -0.7 0.6M644.6 158.4l-0.2 -0.7 -0.3 -1.3M578.9 251.0l-1.2 -0.9 -0.7 -0.5M638.5 170.1l0.9 0.8 0.9 0.5M603.3 147.2l0.5 -1.6 1.1 -1.3M613.1 150.4l-0.7 -0.7 -0.1 -1.2M622.2 198.6l-0.5 0.6 0.2 1.5M596.7 178.0l-0.8 -1.0 -0.4 -0.5M658.5 153.6l-1.3 -0.8 -0.6 -0.2M701.4 260.6l-1.1 0.3 -1.2 1.0M656.5 148.7l-0.5 -0.2 -0.8 0.2M601.8 181.7l0.5 0.1 0.5 0.7M646.2 224.3l-0.8 -0.9 -0.0 -1.2M705.5 166.4l-1.0 -0.6 -1.5 0.4M677.9 239.2l1.0 0.6 0.9 1.4M721.2 224.5l-0.5 0.2 -1.4 0.9M639.1 180.1l-0.8 -0.5 -0.5 -0.5M618.7 201.7l0.3 -0.5 1.0 -0.2M717.1 203.2l-0.7 -0.5 -1.1 -0.3M704.6 170.7l-0.9 0.1 -1.3 0.2M575.1 167.8l-1.5 -0.1 -0.6 -0.2M680.6 254.2l-1.3 -0.8 -1.1 -1.2M695.8 249.0l-0.6 0.4 -1.6 0.3M643.2 234.1l0.8 -1.3 0.7 -0.8M624.2 196.4l1.0 -0.7 1.0 -1.3M641.8 165.0l-0.4 0.3 -1.1 0.3M612.8 165.7l-0.1 -1.5 0.4 -0.8M691.2 201.1l0.5 -1.6 0.1 -0.8M723.9 156.4l0.3 -1.5 0.9 -1.0M718.9 242.0l-1.1 0.4 -0.4 1.1M706.4 168.4l-1.3 -1.1 -0.6 -0.3M572.8 162.6l0.4 -0.8 0.6 -0.7M661.1 249.0l-0.9 0.1 -0.6 0.5M623.3 170.0l0.5 0.6 1.7 0.4M631.1 158.3l1.3 0.3 0.8 0.7M622.7 173.3l0.9 1.0 1.1 1.3M592.5 203.3l0.8 -0.0 1.2 -0.9M707.8 232.7l0.2 1.5 0.3 1.0M651.8 149.8l1.7 0.1 1.1 -0.3M601.0 247.8l0.2 0.9 0.8 1.1M617.0 233.5l1.2 0.2 0.9 -0.3M595.0 253.2l0.5 -0.7 0.6 -0.3M725.6 187.7l-0.3 -0.6 -0.4 -0.4M618.8 183.1l-0.0 1.1 0.3 1.5M683.3 191.1l-1.6 0.5 -0.6 -0.0M607.7 182.2l-0.6 1.2 -0.9 1.2M586.1 190.2l-0.2 1.4 -0.9 0.9M609.3 219.1l-0.7 -1.1 -0.8 -0.5M652.2 219.6l-1.6 -0.6 -0.8 -1.2M641.8 158.1l-1.7 -0.3 -0.7 -0.4M574.7 200.0l1.0 -0.4 0.3 -0.6M573.6 254.1l0.2 -1.1 0.4 -0.3M637.7 174.1l-0.3 -1.4 -0.4 -0.5M657.6 170.9l-0.3 -0.8 -0.1 -0.7M692.1 220.2l0.1 -0.8 0.2 -0.7M706.2 152.3l-0.2 0.8 -0.1 1.3M611.0 152.8l1.5 -0.7 1.3 0.5M683.8 252.8l-0.3 -1.4 -0.1 -1.1M704.6 255.4l-0.4 -1.1 0.1 -0.5M666.6 176.2l0.9 -0.6 0.6 -0.4M649.7 260.6l1.3 -0.2 1.6 -0.1M640.1 240.7l-1.5 0.2 -0.5 0.4M599.2 195.8l0.8 0.8 0.4 0.4M631.4 202.3l-1.5 -0.4 -0.4 0.3M598.2 163.4l-1.0 0.5 -1.6 0.4M697.5 187.3l0.5 0.2 1.5 0.9M639.2 260.2l-0.9 -1.4 -0.5 -1.4M628.6 147.5l-1.1 -0.6 -0.4 -1.0M637.1 244.8l-1.1 0.6 -0.1 0.5M660.4 237.7l0.6 -0.2 0.5 -1.4M662.5 252.8l0.2 0.5 -0.0 0.8M591.3 194.8l-0.9 1.3 0.4 1.7M632.7 187.0l-1.4 0.2 -0.6 0.0M682.4 186.9l-0.8 -1.3 -1.4 -0.7M684.1 236.2l0.3 1.7 0.8 1.5M589.2 259.2l-1.3 0.9 -0.7 0.9M720.3 180.2l-0.1 0.8 0.4 0.6M703.3 242.0l0.4 0.3 0.5 1.2M669.2 182.2l1.0 -0.9 -0.0 -0.9M647.2 198.1l0.3 0.8 1.1 1.1M600.8 151.7l-0.5 -1.1 -0.2 -1.1M635.4 225.0l-0.3 -0.5 -1.2 -0.5M591.1 190.4l-0.5 0.3 -1.6 -0.0M575.0 148.7l0.3 -1.1 0.3 -1.7M574.4 259.2l1.6 0.8 0.3 0.6M630.5 247.4l-1.5 0.4 -1.4 0.4M716.3 166.9l-0.1 1.6 -0.4 0.5M707.4 252.7l-0.5 -0.5 -0.6 -1.1M649.8 162.0l-0.5 -0.7 -0.8 -1.0M585.0 243.3l-1.3 0.8 -0.7 0.5M691.1 255.1l0.2 -1.1 -0.3 -1.3M716.7 181.8l1.2 0.9 0.2 0.5M625.7 243.5l0.9 -0.6 1.2 0.1M609.4 168.7l-1.6 0.8 -1.5 -0.1M592.3 232.6l0.2 0.5 -0.1 1.5M607.5 169.7l-0.3 1.1 -0.9 1.0M572.8 222.1l-0.1 -1.0 -0.7 -0.5M723.8 174.2l-1.4 -0.9 -1.1 -0.2M699.3 215.9l-0.5 1.4 -0.4 1.6M685.3 158.0l-1.0 0.8 -0.8 1.4M596.8 257.6l-0.4 0.7 -0.5 0.5M707.4 213.8l-0.8 1.3 -0.6 1.1M717.1 259.9l-0.1 0.7 -0.2 0.5M648.0 157.9l0.6 -1.4 0.3 -0.5M609.8 214.9l0.3 0.9 -0.7 1.4M593.4 261.5l1.4 0.6 1.4 -0.4M648.3 257.1l1.4 0.6 0.8 -0.4M615.9 173.0l0.4 -1.3 0.2 -0.7M681.4 258.9l0.5 0.2 1.1 0.1M721.1 155.2l-0.8 0.8 -1.3 0.4M629.6 156.1l-0.3 -0.4 -0.3 -1.7M570.6 228.9l-0.7 1.0 -1.4 0.5M617.8 263.3l-0.4 -1.5 -0.4 -1.1M643.5 178.5l0.6 1.3 0.0 1.4M655.7 234.7l0.6 -0.8 0.6 -0.4M725.1 181.4l0.4 -1.6 1.0 -0.5M716.7 171.1l1.5 0.2 1.0 -0.2M695.6 171.1l-0.6 0.0 -1.1 0.1M608.3 197.2l1.6 0.3 0.8 1.0M640.5 173.2l0.8 0.3 1.3 0.3M625.2 217.2l1.1 0.8 0.6 0.6M587.1 231.7l-0.7 -0.2 -1.2 -0.2M704.8 235.7l0.7 1.5 1.0 0.3M703.2 248.7l0.1 -0.8 0.5 -0.5M586.0 164.6l0.0 -0.6 0.5 -1.7M587.2 166.0l-0.1 1.3 0.9 1.2M642.2 180.1l0.8 1.3 -0.5 1.5M576.6 170.6l1.0 -0.2 0.4 -0.8M579.2 152.9l-0.4 -1.2 0.6 -1.3M715.7 249.0l-1.0 0.7 -0.5 0.5M586.4 204.7l-0.8 -1.6 -0.0 -0.7M713.1 187.5l0.2 1.2 -0.2 1.6M724.9 212.7l-0.8 0.9 -1.5 0.1M582.7 263.3l-0.7 -1.5 -0.2 -0.6M611.0 253.6l-1.3 -0.4 -0.4 -0.2M606.2 149.4l-1.2 -0.9 -0.9 -1.1M706.4 249.3l1.1 1.1 0.3 1.6M660.0 172.1l1.8 0.0 1.5 -0.8M689.8 182.1l1.7 -0.2 1.0 -0.8M585.0 172.2l0.1 0.5 -0.2 0.5M636.3 155.9l-1.3 -0.7 -0.9 0.1M595.1 162.3l0.7 -0.2 0.5 -0.6M596.5 173.9l0.4 0.7 0.8 0.4M579.9 216.1l0.2 0.5 0.5 0.5M608.7 174.0l0.6 -0.4 0.6 -0.3M690.6 205.1l-0.4 -1.2 0.3 -1.0M631.5 245.3l-1.4 0.8 -0.7 0.6M629.5 214.5l0.1 1.5 0.4 1.2M598.1 212.5l1.4 -0.7 0.8 -1.3M665.2 218.4l0.4 0.3 0.6 -0.0M573.3 227.8l-0.2 -1.8 -0.8 -0.6M570.7 208.9l-0.4 1.3 0.2 1.1M724.8 147.4l0.6 0.6 1.3 0.7M688.3 154.1l0.3 -1.7 1.0 -0.7M713.0 242.3l-0.8 0.4 -0.5 0.3M624.9 190.6l-0.1 -0.5 -0.6 -0.4M619.1 163.9l-0.5 0.5 -1.3 -0.0M582.1 171.4l1.0 -0.7 0.6 -0.6M625.6 213.3l-1.3 0.0 -1.3 -0.8M641.2 199.2l1.0 -0.7 0.3 -1.2M596.3 204.3l1.8 0.2 0.6 -0.1M722.7 252.8l0.2 0.8 0.1 0.7M604.5 169.4l0.4 -1.3 0.6 -1.3M620.8 255.2l1.8 0.0 1.4 0.8M638.2 218.2l-1.4 -0.5 -0.4 -0.8M640.0 247.8l0.8 -0.5 1.7 0.5M727.1 165.8l0.5 -1.4 0.1 -1.7M718.6 234.6l1.5 -0.5 1.1 -1.1M691.8 237.4l0.0 -0.5 0.3 -0.6M710.9 209.4l0.7 -0.3 1.0 0.3M595.6 193.8l0.6 -0.8 0.0 -1.2M702.8 197.1l0.6 0.7 1.6 0.7M650.4 206.8l1.2 1.2 1.2 0.2M721.3 256.3l0.2 -0.5 0.9 -0.3M643.6 254.8l-0.2 1.1 -0.0 1.3M622.2 147.6l-0.5 0.0 -1.3 0.5M705.3 204.4l0.7 1.1 -0.2 0.7M713.1 261.4l0.0 0.7 -0.7 1.1M668.0 195.2l-0.5 -1.1 -0.3 -0.9M714.7 215.0l1.1 0.7 1.1 0.6M589.3 193.8l-1.7 -0.4 -1.2 -0.0M673.7 163.5l1.2 1.2 0.6 0.5M672.0 190.6l-0.7 -0.3 -1.2 0.2M585.9 215.2l0.9 0.7 1.0 1.1M684.0 241.2l1.4 -0.7 0.4 -0.8M608.2 261.3l-1.1 0.5 -1.2 0.3M654.7 176.6l-0.1 -1.0 0.4 -1.7M689.6 167.8l0.7 0.1 1.0 0.7M641.5 255.0l-1.4 0.5 -0.4 0.4M685.3 239.1l-0.4 -0.7 -0.3 -1.0M627.9 193.4l0.9 1.2 -0.2 1.6M634.3 165.9l0.4 1.0 0.4 0.3M598.6 156.0l1.2 0.1 1.0 0.6M635.4 204.5l0.6 1.0 1.5 0.4M633.7 233.2l1.4 -0.2 0.9 -1.5M597.2 184.6l-0.7 0.6 -1.6 0.7M695.1 224.2l-1.5 -0.4 -1.3 -0.4M702.7 187.8l0.9 -0.3 0.7 -0.4M581.2 149.8l0.7 -0.6 0.3 -0.7M679.0 233.5l-1.0 -1.0 -0.5 -1.1M710.3 204.4l0.2 -1.0 0.3 -1.3M602.9 244.7l-0.4 -1.0 -1.0 -1.3M619.2 178.4l-1.0 0.6 -0.9 -0.1M665.2 227.9l1.2 0.1 1.5 0.9M614.5 243.9l-0.3 -1.4 0.1 -0.6M700.7 196.4l0.1 0.6 0.6 0.6M622.4 158.5l-0.8 0.5 -1.0 -0.3M702.5 183.8l-0.3 -1.7 -0.2 -0.6M580.0 227.0l-0.5 0.1 -0.5 0.7M610.5 175.6l-0.2 -0.9 1.1 -1.4M594.3 177.1l1.5 0.9 1.3 1.2M623.7 230.6l-0.2 -1.6 0.2 -0.7M725.0 197.7l-1.1 -0.5 -1.4 -0.1M690.6 175.7l0.9 -0.6 0.5 -0.6M607.6 213.8l0.5 -1.3 1.6 -0.8M652.9 208.5l1.5 -0.2 1.3 -0.4M692.2 253.1l0.5 -1.0 0.5 -1.2M625.8 197.6l-1.0 -0.3 -1.0 0.3M598.5 253.0l-1.0 1.1 -0.8 0.0M647.0 247.2l1.3 -0.4 0.8 -1.2M712.7 203.4l0.0 0.8 1.2 0.9M614.1 213.3l-0.1 0.6 -0.5 1.3M665.0 249.1l0.0 1.3 0.6 0.9M704.7 263.3l-0.1 0.7 -0.4 0.7M619.2 193.7l-1.0 -0.2 -0.6 0.3M581.2 201.5l-0.4 -0.6 -0.1 -0.7M702.6 231.7l-0.5 -0.7 -0.5 -0.7M642.5 153.3l0.4 -0.7 0.1 -0.6M617.0 153.2l-0.5 -1.4 -0.4 -0.9M604.7 213.8l1.0 0.1 0.6 -0.6M669.4 175.8l1.2 -0.1 1.5 0.9M585.5 248.2l0.0 0.9 0.3 1.7M627.9 235.9l0.7 0.0 1.2 0.1M627.8 212.2l1.5 0.9 1.2 1.0M598.0 161.5l-0.8 0.3 -0.7 0.7M646.5 236.6l-1.3 -1.1 -0.7 -0.1M609.0 203.0l1.3 1.2 0.8 1.0M694.9 252.7l0.8 1.2 0.7 1.4M599.3 229.0l0.3 -1.7 1.0 -0.6M620.9 213.0l0.3 0.5 1.3 1.1M571.0 182.4l-0.1 -1.1 -0.0 -0.9M681.4 207.7l0.7 0.9 0.0 1.4M725.3 154.3l0.4 1.4 -0.3 1.0M697.3 219.0l-1.8 0.1 -1.2 -0.1M721.7 191.4l1.2 1.2 0.2 0.6M618.7 187.5l0.2 1.0 0.1 1.4"/>
<path stroke="#2848d0" stroke-width="1.7" stroke-opacity="0.88" d="M629.5 249.5l0.0 -0.7M615.6 148.2l-0.3 0.2M633.8 158.8l0.2 0.1M674.2 151.7l-0.0 -0.0M613.2 172.3l-0.0 0.0M696.4 197.9l-0.7 0.3M578.2 219.8l0.6 -0.2M684.8 188.1l-0.4 -0.5M603.2 199.3l0.2 0.2M678.7 247.0l-0.1 0.0M615.1 167.1l0.2 0.0M621.7 190.6l0.5 0.6M628.7 204.5l-0.6 0.3M712.2 195.6l-0.1 -0.1M595.1 237.9l0.1 -0.2M643.9 193.0l-0.1 0.1M601.7 259.3l-0.6 -0.3M588.5 182.1l-0.1 0.1M583.8 198.3l-0.1 0.0M624.4 258.6l0.7 0.2M646.0 249.3l-0.2 0.4M648.4 210.4l0.5 -0.4M711.5 180.1l-0.1 0.1M579.4 233.1l0.2 0.2M677.2 210.1l-0.4 0.5M697.7 177.0l-0.2 0.1M656.7 161.4l-0.3 -0.6M708.5 178.7l0.1 -0.5M719.8 244.6l-0.2 0.2M680.7 156.0l-0.0 -0.7M609.0 250.7l0.2 0.7M662.8 190.3l-0.1 -0.3M605.6 191.9l0.4 0.0M710.4 254.4l0.4 -0.4M617.1 245.0l-0.0 -0.1M586.8 239.0l0.1 0.3M611.2 242.7l0.3 -0.0M582.0 249.9l-0.5 -0.2M628.9 201.4l-0.1 0.3M588.5 168.4l0.1 0.7M715.9 177.7l0.0 0.4M676.8 219.6l0.5 -0.1M601.9 161.2l-0.3 0.4M691.4 210.6l0.1 0.1M600.0 193.1l-0.2 0.3M665.3 149.7l-0.5 0.0M667.4 205.6l-0.1 0.1M709.9 236.5l-0.1 0.1M679.4 179.4l0.2 -0.2M712.5 156.1l-0.0 0.0M616.2 162.9l0.1 0.2M674.1 201.2l-0.0 0.0M654.1 237.4l-0.2 -0.7M624.6 187.7l-0.3 -0.1M715.7 256.2l0.1 -0.1M650.8 192.0l-0.7 -0.1M664.5 243.2l-0.3 -0.3M641.0 147.2l0.5 0.1M605.1 196.6l-0.5 -0.4M715.2 201.1l-0.1 -0.0M584.4 212.3l0.0 0.7M672.1 246.9l-0.2 -0.4M668.5 164.9l-0.0 0.1M616.9 161.1l-0.0 0.1M587.9 263.9l0.1 0.5M575.2 212.2l-0.2 -0.7M691.7 261.9l0.0 -0.0M703.5 205.6l-0.4 -0.5M626.0 164.2l-0.1 -0.4M669.1 239.5l-0.2 0.3M617.2 259.1l-0.1 0.7M657.6 212.7l0.6 -0.2M582.4 207.2l-0.3 0.1M679.1 236.5l-0.5 0.4M630.4 180.9l0.0 -0.0M640.0 178.2l0.2 -0.0M581.4 230.7l0.4 -0.1M699.6 252.9l-0.3 -0.4M708.6 196.9l0.4 -0.2M573.6 195.8l-0.1 -0.8M695.7 259.4l-0.4 0.6M620.7 228.0l-0.0 -0.0M649.3 172.9l-0.8 -0.3M638.7 209.9l0.0 -0.2M722.2 158.0l-0.4 -0.0M700.8 161.7l-0.0 -0.0M603.6 251.6l-0.2 -0.2M604.5 219.2l-0.1 -0.0M640.0 230.0l0.3 0.5M591.2 184.1l0.7 -0.4M607.4 263.9l-0.5 0.4M613.3 245.7l-0.0 -0.0M667.2 151.3l-0.4 -0.4M708.1 182.0l-0.2 0.1M685.2 167.4l0.0 0.6M621.5 185.0l-0.4 0.5M709.7 157.2l-0.4 0.3M640.9 226.7l0.0 0.5M592.1 192.3l0.0 0.1M642.1 194.2l0.1 0.3M608.8 255.3l-0.1 -0.0M598.3 179.2l0.2 0.6M709.4 260.1l0.1 -0.2M682.8 171.4l0.2 -0.5M689.3 202.0l0.1 0.7M709.9 234.1l-0.5 0.5M630.6 186.3l0.6 0.4M585.2 175.8l-0.1 0.4M632.6 231.2l0.1 0.7M654.6 210.2l0.3 -0.7M679.4 172.9l-0.1 0.5M621.0 174.8l-0.0 -0.0M571.8 244.2l0.3 -0.2M592.9 166.7l-0.1 0.0M672.3 171.9l0.0 0.2M689.2 228.3l0.1 -0.5M602.4 211.1l0.1 0.3M671.5 163.4l0.0 0.2M723.2 259.5l0.2 0.3M668.2 153.1l-0.1 -0.2M664.6 206.9l0.1 0.1M669.5 202.3l0.0 0.0M578.4 253.2l0.0 -0.1M680.0 214.5l-0.5 0.3M587.2 228.9l-0.4 -0.6M594.5 157.6l-0.8 -0.1M637.8 256.3l-0.6 0.3M647.4 147.4l-0.4 0.2M721.0 167.7l-0.0 0.1M689.2 206.7l-0.0 -0.2M697.0 156.0l-0.0 0.4M625.6 206.3l-0.1 0.1M709.3 168.5l0.2 0.4M658.3 178.6l0.1 -0.0M574.5 183.4l-0.1 0.1M583.6 217.8l0.0 0.1M693.4 150.4l0.1 0.0M613.3 202.7l-0.3 -0.3M600.0 254.5l-0.2 -0.1M611.7 155.4l-0.2 -0.1M597.9 199.9l-0.2 -0.6M709.4 245.8l0.2 0.2M623.0 249.5l0.4 -0.2M632.9 238.7l0.1 0.5M697.5 226.9l0.1 0.1M681.1 240.5l-0.1 0.1M691.7 155.6l-0.3 -0.4M622.3 200.9l0.3 0.5M655.8 244.5l-0.4 -0.6M649.1 254.2l0.0 0.0M646.7 169.4l-0.1 0.0M599.0 202.0l-0.2 -0.5M718.1 168.8l-0.2 -0.2M643.7 195.8l0.0 -0.5M665.8 154.9l-0.5 -0.4M602.8 164.3l-0.6 -0.5M708.8 194.2l-0.1 0.5M573.7 251.1l0.3 -0.1M605.8 246.6l0.3 0.3M676.5 157.7l-0.2 0.5M642.6 160.6l0.2 0.2M572.5 234.7l-0.5 -0.4M616.3 227.7l-0.3 0.5M600.3 234.1l0.1 -0.5M608.3 239.2l0.3 -0.1M682.9 146.7l0.5 0.3M649.9 226.6l0.4 -0.5M600.3 199.6l-0.3 -0.2M585.1 245.8l0.1 0.1M611.8 198.7l-0.0 0.0M594.5 187.4l-0.1 0.0M616.6 179.8l-0.4 -0.6M606.6 221.8l0.3 0.0M666.2 212.5l0.0 0.3M621.0 182.2l-0.6 -0.3M655.4 186.7l-0.1 -0.1M644.5 246.1l-0.1 -0.0M647.8 153.5l-0.0 -0.0M692.0 218.1l0.0 -0.0M727.3 244.5l-0.6 0.3M614.1 227.8l0.1 -0.3M641.8 260.5l-0.7 0.2M682.1 262.0l-0.2 -0.0M591.8 211.4l-0.3 -0.4M673.2 221.6l0.5 0.0M601.2 190.4l-0.4 -0.4M594.4 229.1l-0.2 -0.4M637.9 198.8l-0.0 0.0M708.4 185.3l0.2 0.5M630.0 206.9l-0.1 -0.5M615.0 237.3l-0.2 -0.0M669.5 212.1l-0.5 -0.3M719.6 205.8l0.3 -0.6M715.0 186.8l0.0 -0.1M634.5 157.1l-0.0 0.0M720.8 215.3l-0.1 -0.0M664.8 170.0l0.0 -0.2M672.0 263.4l-0.4 0.2M643.9 148.0l-0.1 -0.1M661.0 202.1l-0.2 0.1M590.0 227.2l-0.2 0.1M606.2 164.2l-0.2 0.3M707.7 229.4l0.2 -0.0M694.2 194.1l0.4 0.0M630.5 153.8l-0.6 0.2M603.7 201.3l0.0 0.0M572.0 170.5l0.4 -0.6M703.6 260.2l0.1 -0.3M669.7 197.7l0.2 -0.2M693.6 208.5l0.1 -0.0M601.7 242.2l0.8 0.1M638.0 207.7l0.3 -0.0M688.4 233.4l0.2 0.2M604.7 216.6l-0.4 0.5M571.3 179.2l-0.1 -0.2M703.8 168.0l-0.0 0.1M620.7 209.1l0.1 -0.1M639.0 213.0l-0.3 -0.4M597.7 146.5l0.0 0.2M643.8 230.7l-0.6 0.1M693.7 236.2l-0.1 -0.1M631.8 219.9l0.0 -0.0M637.3 190.9l-0.2 0.4M702.5 263.3l0.2 0.1M593.5 160.5l0.1 -0.0M580.0 224.0l0.7 -0.1M703.0 246.1l-0.5 -0.1"/>
<path stroke="#1f38d8" stroke-width="1.6" stroke-opacity="0.92" d="M572.9 165.8l-0.8 0.2 -1.0 -0.5M598.8 257.4l-1.0 -0.8 -0.7 0.1M714.6 206.2l0.2 0.9 0.5 1.3M712.4 235.3l-1.2 0.9 -0.9 0.2M586.5 217.5l-0.4 1.0 -0.6 1.5M715.6 146.1l-0.6 -1.1 0.2 -1.0M715.6 208.4l0.4 0.5 1.0 0.9M570.9 247.4l-0.2 -1.1 0.6 -0.9M589.4 196.9l-0.9 -0.8 -0.7 -1.2M726.7 217.2l-0.3 1.1 -0.8 0.6M657.7 155.9l-1.1 0.5 -1.1 -0.3M592.6 227.7l-0.7 -1.4 0.4 -1.4M572.1 210.3l0.5 -0.8 0.3 -1.6M671.8 241.4l-0.4 1.2 -0.8 0.6M577.9 182.3l0.6 -1.2 -0.1 -1.2M618.2 185.7l0.1 1.1 -0.8 1.0M583.7 163.8l0.0 0.8 -0.6 1.0M646.6 253.8l-0.9 -0.1 -1.4 0.6M653.4 259.4l-0.2 0.6 -1.1 1.0M683.9 178.6l0.3 -0.9 0.7 -0.8M645.2 214.1l-0.1 1.0 0.7 1.1M684.4 227.8l0.6 -1.1 0.9 -0.9M652.8 262.4l1.6 0.1 1.2 -0.2M720.5 230.4l-1.3 -0.2 -0.8 0.4M656.1 146.7l-0.7 -0.3 -0.8 -1.0M679.3 148.7l-1.5 0.4 -0.7 0.3M583.1 254.6l1.1 1.1 0.5 0.9M633.0 204.4l1.4 0.3 1.5 -0.6M609.5 192.0l1.0 -0.8 1.2 -0.1M585.5 159.3l-1.1 0.2 -1.1 0.9M707.9 159.5l-0.4 -1.1 -0.6 -0.8M597.9 165.8l-1.0 0.9 -0.9 0.5M583.4 190.2l0.7 -0.1 1.0 0.5M633.1 209.1l-0.6 -0.4 -0.7 -0.0M617.1 236.2l0.8 1.0 -0.1 1.6M660.3 159.2l-0.4 -0.5 0.2 -1.2M670.4 150.5l-0.9 -0.9 -0.4 -0.9M655.6 261.6l0.1 1.5 -0.8 1.4M627.4 177.8l1.0 -1.3 0.7 -1.5M627.3 232.5l-0.2 -0.6 -0.8 -0.4M638.9 201.5l-0.8 0.1 -0.8 0.5M600.9 223.8l-1.4 0.2 -0.9 1.2M606.8 215.9l1.5 -0.3 1.3 0.2M645.0 151.2l0.9 1.3 1.4 0.8M652.7 159.0l0.2 1.4 0.3 1.2M603.3 170.9l0.1 1.4 -0.1 1.0M596.1 261.3l0.5 -0.8 0.2 -1.0M720.8 198.7l1.2 -0.0 0.8 -0.7M585.0 167.0l-0.6 1.1 0.5 1.5M661.2 191.8l1.1 0.4 1.0 -0.6M621.8 151.2l-1.6 -0.2 -1.1 0.2M654.8 164.9l0.7 -0.8 1.2 -0.0M704.8 212.0l-0.4 0.6 -0.2 1.4M623.1 241.5l-1.3 -0.1 -1.1 -0.3M655.7 157.1l-0.8 -0.1 -0.9 -1.3M676.4 224.6l0.7 -0.4 0.8 -0.6M677.1 191.2l0.2 0.7 0.6 0.4M601.8 230.9l1.4 0.6 0.6 0.4M593.2 207.0l-0.4 -0.7 -1.3 -0.9M716.1 175.4l1.1 0.7 1.2 0.5M710.3 201.7l0.9 1.1 0.5 1.1M722.5 176.1l1.2 -0.2 0.7 -0.4M589.4 252.0l0.5 -0.4 0.5 -0.8M643.8 162.2l1.0 -0.1 1.3 0.0M667.0 169.6l0.9 0.4 1.2 0.2M633.8 262.6l-0.8 -0.1 -0.8 0.3M702.3 199.3l-0.7 0.3 -1.2 0.9M576.3 163.9l0.8 0.8 1.3 0.9M606.2 207.2l-1.5 0.5 -0.6 0.1M711.7 189.0l-0.3 1.0 -0.7 1.0M717.4 244.3l-0.4 -1.3 0.4 -0.6M683.2 219.4l-1.5 0.1 -0.7 -0.6M687.9 156.4l-1.2 1.1 -0.5 1.1M585.3 263.5l1.1 1.2 0.6 1.2M716.3 148.2l-1.2 0.2 -0.5 0.7M639.0 257.9l-1.2 0.8 -1.3 0.8M614.4 189.6l-0.4 0.8 0.1 0.6M663.5 150.8l0.7 -1.2 0.5 -1.5M618.2 214.4l-0.1 1.0 0.8 1.3M670.3 245.9l0.6 -1.2 -0.2 -0.9M640.4 236.6l-0.2 1.6 0.8 1.3M662.6 163.0l-1.0 0.5 -1.6 0.4M620.5 192.2l-0.2 -1.4 -0.6 -0.7M575.9 233.5l0.7 -0.8 0.2 -0.7M632.9 260.7l-0.7 -0.6 -1.1 0.1M576.4 158.2l-0.2 -1.0 0.6 -0.8M719.1 213.8l0.8 0.1 0.8 0.9M606.2 152.7l-1.1 0.8 -0.8 -0.0M588.6 207.8l-0.8 0.4 -0.5 1.6M570.6 152.1l-1.5 0.4 -1.3 1.0M596.1 216.0l0.3 0.7 0.2 0.8M627.0 251.3l0.9 -1.2 1.0 -1.3M635.9 151.6l0.7 0.3 1.6 0.3M698.0 179.6l-0.5 1.3 -1.2 0.4M571.9 205.1l0.2 1.3 -0.4 0.5M614.5 184.9l0.2 1.2 -0.5 0.7M614.1 248.4l-0.6 0.4 -0.8 0.7M617.1 195.5l-1.1 0.6 -0.4 0.9M629.6 222.1l0.9 -0.6 0.2 -0.6M576.9 188.5l-0.3 -0.7 -1.5 -0.5M606.7 176.9l0.4 0.7 -0.5 1.4M699.6 191.3l0.6 0.3 1.4 -0.5M610.5 206.7l0.8 -0.3 1.4 -0.1M605.1 199.6l-0.6 0.4 -1.0 -0.1M593.1 184.0l0.6 0.2 1.2 1.0M721.1 219.8l1.1 -0.8 1.2 -0.4M711.5 232.3l-0.7 0.2 -1.4 -0.5M652.1 153.8l1.0 -0.1 0.7 -0.4M580.5 255.8l1.0 -0.5 0.5 -1.2M619.1 166.7l-0.2 0.6 -0.9 1.0M715.6 238.9l-0.4 -0.8 -0.1 -0.8M592.4 172.3l0.4 -0.5 0.1 -0.6M636.6 263.5l0.5 -1.4 0.3 -1.6M726.5 200.0l-0.7 0.7 -1.1 0.6M584.5 222.1l-1.2 0.3 -0.5 0.4M579.4 248.1l1.6 -0.4 1.3 -0.8M711.6 220.9l0.6 -1.1 -0.2 -1.0M583.4 148.4l-0.0 -1.3 0.1 -1.2M590.1 174.8l1.0 -0.1 1.6 -0.5M646.9 180.5l0.2 0.8 0.8 0.6M687.5 174.9l-0.6 0.8 -0.3 0.5M646.2 263.8l1.2 -0.8 0.4 -0.5M613.5 194.1l0.3 1.1 0.4 1.1M594.9 200.7l0.4 1.2 1.1 0.7M635.3 248.3l0.3 -0.7 -0.0 -1.2M642.4 221.9l1.3 -0.2 1.2 0.9M572.5 148.6l-0.7 -0.8 -0.8 -0.1M675.4 195.4l-0.9 1.4 -0.1 1.0M701.5 244.3l-0.3 -1.1 -1.4 -0.7M579.0 147.8l-0.4 1.6 -0.2 1.0M675.1 154.1l1.2 -1.1 1.3 0.2M690.3 214.1l0.3 -0.7 0.4 -1.3M618.1 257.2l1.1 0.3 0.5 0.9M605.1 243.0l0.6 -0.1 1.0 0.4M605.9 255.4l0.7 -0.5 0.9 -0.8M672.5 257.2l1.2 -0.6 0.6 -1.1M587.5 235.2l0.4 -1.2 -0.1 -0.9M667.4 237.6l-1.0 -0.1 -1.5 0.7M625.8 176.7l-1.0 -1.2 -0.3 -1.5M652.7 234.1l-1.1 -1.0 -0.4 -0.7M621.6 188.6l-1.0 0.2 -1.2 0.3M681.5 221.3l0.1 -1.5 0.9 -0.9M666.5 201.8l0.4 0.5 -0.1 0.7M625.5 170.4l0.7 -0.2 0.8 -0.4M651.4 258.3l-0.9 -0.7 -0.1 -0.7M596.9 249.3l0.3 -1.0 0.8 -1.0M726.0 240.9l1.0 0.8 0.6 0.7M711.3 191.8l-0.7 -0.7 -0.5 -0.7M630.8 235.2l1.1 -1.2 0.5 -0.9M646.8 160.3l1.3 0.6 0.3 1.0M586.6 149.9l-1.0 0.2 -0.7 1.3M667.1 186.6l0.7 1.2 0.7 0.1M721.6 262.6l0.2 -1.1 0.1 -0.8M666.1 261.3l-0.7 0.4 -0.3 0.5M705.9 189.4l1.4 -0.1 1.0 -0.6M636.2 176.9l0.3 1.3 -0.5 1.2M604.8 155.3l0.1 0.9 0.7 0.4M638.1 164.6l1.1 1.2 1.2 0.3M641.8 149.6l-1.2 0.4 -1.6 -0.2M603.4 160.1l-0.8 -1.0 -0.9 -1.3M618.5 223.5l-0.6 -0.7 -1.1 -0.7M686.0 254.8l0.2 0.7 1.3 0.8M651.3 189.9l-0.5 0.9 -0.1 1.2M639.2 160.8l0.4 -1.4 -0.7 -1.0M641.5 258.4l-0.1 -1.4 -0.6 -0.7M725.8 203.1l0.4 1.1 -0.8 1.5M591.8 238.8l1.0 -0.5 1.2 0.1M661.8 242.4l-0.0 1.5 0.4 0.9M666.6 199.3l-0.6 0.3 -0.8 -0.1M593.2 252.0l0.1 -1.1 0.2 -1.2M631.4 225.1l0.5 -0.4 0.9 -0.1M718.1 197.2l0.5 0.9 -0.0 1.0M645.9 226.4l0.8 0.9 0.3 0.9M686.4 181.8l-0.9 0.5 -1.2 -0.4M619.5 160.9l0.8 -1.1 1.3 -0.9M665.9 254.0l0.5 -0.5 1.2 0.0M647.7 167.3l1.5 0.0 0.9 0.7M705.4 207.5l-0.2 0.8 0.6 1.0M641.8 217.2l-0.6 -1.0 -0.7 -0.4M591.8 162.6l0.6 1.4 0.7 0.6M658.7 196.3l-0.5 -1.3 -1.2 -0.9M592.8 174.2l-0.2 1.4 0.4 1.1M582.3 215.4l-1.0 0.3 -1.3 -0.1M604.8 180.3l0.9 -0.3 1.2 -0.8M726.5 175.4l-0.9 -0.6 -0.9 -0.5M652.2 193.5l0.3 1.2 -0.2 1.2M684.8 149.8l0.1 1.1 0.3 1.0M700.4 149.6l0.6 0.5 0.1 1.6M708.8 242.9l-0.9 0.2 -0.7 1.3M589.4 218.5l-0.2 1.6 -0.9 0.9M607.5 147.3l0.3 0.6 0.5 1.2M584.6 227.0l-0.8 -1.3 0.2 -0.8M579.9 235.6l0.6 0.4 0.8 1.0M602.8 174.9l1.2 -0.6 1.6 -0.1M653.3 201.3l-1.3 0.9 -0.7 -0.2M657.2 216.4l0.9 -0.7 0.6 -0.4M589.9 150.4l0.7 -1.1 -0.3 -1.2M683.7 224.8l0.5 -1.0 1.1 -1.3M635.1 163.9l-1.4 0.4 -1.3 0.8M683.3 158.4l1.0 -1.2 1.1 -1.0M680.3 210.4l1.0 -0.1 0.9 -0.3M646.5 234.2l0.9 0.5 1.3 -0.2M578.6 211.9l1.0 -0.3 1.5 0.2M591.5 218.3l0.3 0.8 0.3 0.6M708.0 199.9l0.6 0.6 1.0 0.5M608.5 211.0l0.1 -1.3 0.4 -1.1M634.6 191.5l0.3 -1.2 -0.3 -1.2M624.1 215.4l-1.1 0.0 -1.4 0.7M650.1 198.1l-0.9 0.4 -0.7 0.7M582.2 224.1l0.2 0.6 0.6 0.4M662.7 262.0l-1.5 -0.5 -1.5 0.2M576.2 256.4l-1.1 -0.3 -0.3 -0.8M687.4 213.3l0.6 -0.1 0.7 0.0M592.7 148.8l0.8 -0.1 1.2 0.4M725.6 177.3l1.0 1.1 0.5 0.9M613.4 162.0l-0.7 0.1 -1.3 -0.6M676.4 173.9l0.6 -0.5 0.9 -0.8M705.9 186.3l0.4 1.6 -0.3 0.8M677.6 182.7l0.3 -0.6 0.5 -0.6M699.5 219.1l-1.6 -0.3 -0.9 0.6M587.6 177.4l0.6 0.4 1.1 0.8M700.9 247.3l-1.4 0.5 -0.9 0.4M718.9 153.3l-0.4 -1.0 -0.6 -0.2M638.0 158.4l0.6 -1.1 1.1 -0.7M713.6 231.3l-0.5 -0.7 -0.3 -0.6M668.9 168.1l0.1 0.6 -0.6 1.5M648.6 244.3l-1.0 0.0 -0.6 -0.2M627.2 246.5l-1.0 -0.8 -0.6 -0.9M591.7 236.1l-1.7 -0.3 -1.5 0.3M631.4 169.0l-1.4 -0.0 -1.4 -0.4M577.3 216.1l-1.1 0.4 -1.0 0.7M659.4 230.2l1.2 -1.1 0.0 -0.8M723.3 190.1l-1.4 -0.0 -0.8 0.0M722.9 201.2l-0.8 0.3 -0.5 1.6M631.4 237.6l-0.1 0.7 -1.2 0.8M677.9 216.4l0.5 -0.3 1.6 0.1M593.2 164.3l1.3 0.3 1.3 -0.7M654.0 214.7l-0.4 0.7 -0.2 0.9M637.0 179.5l0.6 -0.4 0.5 -0.4M628.2 159.6l0.9 -0.6 0.5 -1.0M580.0 220.9l1.1 0.6 0.3 0.6M576.5 194.4l-0.2 -1.4 -0.1 -1.0M626.5 238.9l-1.1 0.2 -1.3 0.9M611.7 211.3l-0.4 -0.5 -1.4 -0.4M719.5 150.9l0.7 -0.7 1.7 -0.1M692.7 184.7l-0.8 0.1 -1.2 0.1M596.0 181.5l0.7 -1.0 0.1 -1.0M654.4 257.2l-0.4 1.6 -0.0 1.2M575.0 188.0l1.1 -0.7 1.4 0.2M700.0 194.4l-0.8 -0.2 -1.3 0.2M683.8 176.0l-0.7 -0.2 -0.9 -1.3M688.5 261.4l-1.3 0.7 -0.1 0.7M648.8 184.9l1.3 -0.2 0.5 0.3M570.4 239.7l-1.4 -0.6 -0.5 -1.5M576.9 206.7l-0.5 0.3 -0.1 0.9M581.9 241.5l-0.5 0.7 -0.9 0.6M600.2 159.7l0.7 -0.4 0.7 -0.6M607.3 204.0l-1.2 -0.6 -0.7 0.2M707.0 227.6l1.0 -1.0 1.3 -0.4M651.6 242.6l-0.4 -0.5 -1.0 -0.2M710.1 170.3l0.4 0.6 0.3 0.8M585.1 155.6l-1.3 0.1 -0.8 -0.4M628.9 238.0l0.1 -1.1 0.3 -1.1M634.0 211.5l-0.7 -1.4 -0.8 -0.7M668.8 223.8l0.2 -1.2 0.7 -0.9M676.2 233.5l0.6 0.2 1.2 0.1M605.3 188.5l0.2 0.7 1.2 1.0M634.6 218.2l-1.1 -0.2 -0.9 -0.2M577.0 147.6l0.5 -1.0 0.8 -0.6M571.3 157.6l1.1 1.2 1.1 0.1M633.6 193.2l0.9 -0.2 0.6 0.0M653.5 254.0l1.1 0.0 1.3 -0.3M661.9 257.5l-0.4 1.4 -0.7 0.7M689.0 208.9l1.3 0.3 1.2 -0.3M605.6 185.7l-0.5 -0.6 -1.5 -0.3M715.7 212.1l0.5 -1.4 0.6 -0.4M575.9 241.4l0.2 -0.8 0.8 -0.4M636.5 234.2l1.3 0.2 0.6 0.3M682.2 164.7l0.5 -0.4 0.8 -1.4M673.5 218.2l-0.7 1.3 -1.0 1.1M645.3 229.5l0.7 0.5 0.7 0.2M643.8 259.3l1.0 -1.3 0.7 -0.8M582.6 155.3l-1.2 -0.4 -0.6 -1.0M638.9 222.1l-1.4 -0.5 -1.4 -0.8M571.1 166.8l-0.6 -1.3 -1.5 -0.5M669.0 255.5l-0.3 -1.5 0.1 -1.5M687.4 220.6l-0.6 1.5 -0.7 0.8M580.9 188.1l1.3 -0.3 1.0 0.5M621.0 195.4l-0.4 -1.6 -0.4 -0.5M608.4 227.1l-0.6 -0.5 0.0 -0.8M698.7 168.8l-1.2 0.3 -1.2 -0.8M660.0 169.1l0.4 -0.6 0.9 -0.5M578.4 245.5l0.2 1.1 0.1 1.2M583.3 151.4l-0.6 -0.8 -1.1 -0.4M681.9 197.4l-0.0 1.0 -0.5 1.1M680.2 151.6l0.7 1.0 0.4 1.0M632.3 207.1l1.0 0.2 1.6 0.1M614.0 225.9l0.6 -1.0 1.1 -0.8M598.3 153.7l1.4 -0.1 1.5 0.4M676.9 230.0l-0.3 0.6 0.3 0.8M591.2 198.6l0.5 0.8 -0.3 1.3M719.9 236.2l0.1 -1.0 0.5 -0.4M680.8 146.3l1.1 -1.2 0.6 -0.4M628.8 253.6l-0.6 -0.2 -1.5 0.1M570.1 225.2l-1.1 -0.2 -1.2 1.0M674.6 178.0l1.1 -1.2 0.7 -0.2M727.0 158.8l0.6 1.1 0.7 0.5M615.2 250.6l1.3 0.2 1.4 0.5M686.2 252.4l0.4 -0.7 0.6 -0.2M678.3 193.9l-0.6 -0.9 -0.5 -1.0M633.4 189.5l1.0 1.3 0.8 0.5M649.3 216.8l-0.6 -0.2 -0.7 -0.6M633.5 198.5l-0.7 -0.8 -1.5 -0.4M720.1 160.4l0.4 1.3 0.6 0.8M646.5 165.2l0.6 0.2 0.7 -0.4M593.4 193.7l1.5 0.2 0.7 0.9M594.6 151.0l-0.7 -0.6 -0.8 -0.2M666.3 223.4l0.3 0.5 1.1 1.2M665.4 210.5l-1.2 -0.1 -0.9 0.1M646.5 177.2l0.4 1.3 0.5 1.6M697.1 151.9l1.5 -0.8 1.7 -0.1M723.1 245.2l-1.4 0.9 -1.0 -0.3M602.9 220.9l-0.4 -1.2 0.5 -1.5M645.8 238.9l-1.0 -0.8 -1.3 -0.0M697.2 254.9l-0.7 -0.9 0.3 -1.3M724.3 169.1l-0.8 -1.4 0.3 -1.0M597.3 171.1l1.6 -0.4 0.6 -0.7M675.1 171.4l0.9 -0.2 0.9 0.3M642.7 209.3l-0.9 -0.2 -0.8 -0.8M618.9 260.9l1.4 -0.8 0.8 -0.1M631.7 242.4l0.6 0.7 0.3 1.2M586.5 241.6l-1.5 0.5 -0.6 0.7M621.2 223.3l1.0 -1.3 0.6 -0.6M624.8 254.7l1.1 0.1 0.9 0.2M602.7 234.3l1.5 -0.6 0.8 0.3M576.7 153.6l1.3 -0.4 1.1 -0.9M650.3 160.2l0.7 -0.9 1.5 -0.7M697.3 203.3l-1.1 1.3 -0.9 0.9M676.8 247.8l0.4 1.5 0.2 0.6M658.1 189.2l0.5 0.5 0.7 0.2M686.9 259.1l0.5 -0.6 0.9 -0.1M680.0 243.6l0.7 -0.2 0.9 0.5M680.7 188.3l0.2 1.0 0.4 0.6M712.8 247.1l-0.3 -0.9 -0.5 -1.2M630.7 192.8l0.3 -0.9 0.9 -0.4M656.9 197.3l1.3 0.1 0.8 0.0M682.6 206.0l-0.1 -0.7 -0.9 -0.6M634.2 171.8l-0.1 -1.0 -0.4 -1.3M636.2 147.9l-0.7 1.4 -0.8 0.6M709.7 172.3l1.2 -0.8 1.1 0.3M694.0 186.3l-0.1 0.7 0.7 1.1M572.4 189.8l1.3 0.4 1.0 -0.0M630.2 162.3l-1.2 0.7 -0.8 -0.1M617.7 171.8l0.8 -1.5 0.6 -0.5M714.2 175.0l1.3 0.4 1.5 -0.5M597.0 245.3l-1.2 -0.1 -1.6 -0.2M669.0 146.2l-1.1 -0.2 -1.0 0.6M615.2 152.2l1.0 0.5 1.0 0.2M691.5 225.7l-0.0 -0.7 -0.1 -1.6M600.6 215.5l0.3 1.0 0.6 0.4M583.5 232.9l-0.0 -0.7 0.2 -1.4M693.2 242.9l1.4 -0.2 0.6 0.1M606.9 159.7l0.0 -1.2 -0.9 -0.7M597.4 220.9l0.7 1.2 0.5 0.6M595.7 232.3l1.4 0.6 0.3 0.6M714.5 197.7l0.8 0.1 1.5 -0.3M708.1 148.2l0.1 -0.6 -0.3 -1.1M725.9 258.8l0.8 -0.7 0.1 -0.9M603.9 231.0l1.1 1.1 0.7 1.5M574.1 237.5l-0.5 -0.9 -1.3 -0.8M662.6 235.3l-0.7 1.5 -1.6 0.6M625.8 166.9l-0.1 0.9 -0.6 0.7M611.0 235.1l-0.8 1.0 -0.6 1.4M629.8 172.3l0.4 1.5 1.0 1.1M637.7 215.2l0.9 1.3 1.1 0.7M572.2 173.9l0.5 -0.4 0.6 -0.9M695.2 209.9l-0.8 0.5 -1.0 -0.1M682.5 246.3l-1.2 1.1 -1.5 0.2M611.4 232.3l1.3 -1.1 0.2 -0.9M627.4 208.0l-0.4 -1.2 -0.5 -0.6M720.8 173.9l1.6 0.1 1.1 1.2M588.6 187.2l1.2 0.6 0.9 -0.3M595.1 167.8l-0.9 0.1 -0.6 0.3M666.0 180.0l-0.6 -1.4 0.0 -1.5M653.3 223.6l-0.6 0.9 -0.3 1.5M640.0 233.9l0.7 0.1 0.9 0.1M704.3 218.2l1.4 0.5 0.4 0.5M687.9 180.0l1.4 -0.3 1.1 -0.3M648.7 208.4l1.5 -0.1 1.5 0.1M714.5 194.9l1.4 0.7 0.6 0.7M713.2 178.2l-0.7 -0.9 -0.7 -0.9M724.9 171.4l0.8 0.1 1.3 -0.3M719.9 196.6l1.0 -0.7 1.1 0.2M695.0 181.1l0.8 -0.8 0.8 -0.0M627.3 199.0l-0.4 0.8 -0.5 0.8M574.1 203.4l-1.4 -0.7 -1.2 -0.6M717.4 223.3l-1.0 0.9 -1.6 0.3M639.4 245.3l-0.9 -0.4 -0.5 -1.2M673.3 207.1l0.3 1.3 -1.0 1.2M570.3 200.7l0.1 -1.2 -0.9 -1.0M648.1 239.7l0.2 -1.5 0.3 -1.1M663.9 147.3l-1.2 -0.7 -0.9 -1.0M597.5 225.1l0.8 0.3 0.4 0.6M648.0 195.7l0.9 0.9 0.8 0.4M691.3 241.6l-1.1 -0.4 -0.8 -0.5M725.6 254.4l-1.0 1.0 -0.4 0.8M571.0 221.4l1.4 0.9 0.8 1.3M718.4 258.2l0.3 -1.5 -0.9 -1.0M632.5 226.8l0.7 1.2 0.3 1.3M601.4 196.0l-0.2 -0.8 -0.8 -0.5M602.0 153.4l0.9 -0.0 1.1 -0.1M572.2 201.5l-0.9 -0.1 -0.8 -0.2M604.8 210.3l0.8 0.9 1.0 0.3M603.7 257.6l0.1 0.8 -0.3 0.7M586.2 169.0l1.5 -0.3 1.1 0.1M635.8 221.5l1.1 0.2 0.5 0.6M692.2 230.4l-1.2 0.5 -1.7 -0.2M669.7 262.2l-1.3 0.4 -0.7 0.4M658.7 236.0l1.7 0.1 1.3 0.7M680.0 249.7l-0.7 -0.4 -1.4 0.2M572.1 214.8l-0.7 -0.6 -0.6 -0.5M655.0 173.9l0.1 1.0 -0.3 0.9M693.1 250.1l-0.7 0.1 -1.7 -0.2M713.9 184.8l0.1 -1.1 -0.7 -1.3M671.6 155.2l1.2 -0.5 0.7 -0.3M607.6 184.7l-0.4 -1.1 0.8 -1.2M617.9 156.8l1.2 1.2 1.0 0.9M679.7 206.2l1.2 0.9 1.2 1.2M636.1 200.9l-0.7 -0.7 -1.2 -1.1M578.9 171.0l-0.3 -0.5 -0.8 -0.6M618.4 173.8l-1.3 -0.6 -0.4 -1.2M650.5 252.5l0.7 0.4 1.2 0.4M622.1 220.2l-0.4 -0.6 -1.0 -0.7M579.4 229.1l0.0 1.5 0.3 1.6M591.0 155.3l-1.0 -0.2 -0.7 0.6M627.4 214.6l0.0 1.2 0.6 0.6M605.0 174.7l0.1 -0.8 -0.2 -1.4"/>
</g></g>
<g>
<g fill="#b0b0b0">
<ellipse cx="559.4" cy="492.2" rx="9.4" ry="8.1"/>
<path d="M554.2 497.6l-2.4 5.2 6.2-3.2z"/>
<ellipse cx="569.7" cy="500.5" rx="8.3" ry="7.1" fill="#fff"/>
<ellipse cx="569.7" cy="500.5" rx="7.4" ry="6.2"/>
<path d="M573.6 505.2l2 3.6-5-2.2z"/>
</g>
<g fill="#fff">
<circle cx="556.2" cy="489.8" r="1.25"/><circle cx="562.8" cy="489.8" r="1.25"/>
<circle cx="567.2" cy="499" r="1"/><circle cx="572.4" cy="499" r="1"/>
</g>
<g font-size="20.4" fill="#b4b4b4">
<text x="583.4" y="503.9">公众号</text>
<text x="653.9" y="503.9" text-anchor="middle">·</text>
<text x="665.4" y="503.9" letter-spacing="0.4">生物屋</text>
</g>
</g>

<g>
<text transform="translate(37.0 34.0)" font-size="21.2" font-weight="bold" fill="#1a1a1a">A</text>
<text transform="translate(37.1 302.8) scale(0.93 1)" font-size="21.2" font-weight="bold" fill="#1a1a1a">B</text>
<text transform="translate(412.0 302.8) scale(0.93 1)" font-size="21.2" font-weight="bold" fill="#1a1a1a">C</text>
<text transform="translate(165.3 22.0)" font-size="16.7" text-anchor="middle" fill="#222222" stroke="#222222" stroke-width="0.3">O-NC</text>
<text transform="translate(330.2 22.0)" font-size="16.7" text-anchor="middle" fill="#222222" stroke="#222222" stroke-width="0.3">siNC</text>
<text transform="translate(488.1 22.0)" font-size="16.7" text-anchor="middle" fill="#222222" stroke="#222222" stroke-width="0.3">miR-623</text>
<text transform="translate(656.8 22.0)" font-size="16.7" text-anchor="middle" fill="#222222" stroke="#222222" stroke-width="0.3">si-miR-623</text>
<text transform="translate(7.0 99.5)" font-size="18.2" fill="#222222" stroke="#222222" stroke-width="0.3">Migration</text>
<text transform="translate(13.6 222.0)" font-size="18.2" fill="#222222" stroke="#222222" stroke-width="0.3">Invasion</text>
<text transform="translate(748.0 150.7) rotate(-90) scale(0.935 1)" font-size="16.3" text-anchor="middle" fill="#222222" stroke="#222222" stroke-width="0.3">MDA-MB-453</text>
<text transform="translate(255.2 307.5) scale(1.063 1)" font-size="15.9" text-anchor="middle" fill="#222222" stroke="#222222" stroke-width="0.3">MDA-MB-453</text>
<text transform="translate(581.5 307.5) scale(1.063 1)" font-size="15.9" text-anchor="middle" fill="#222222" stroke="#222222" stroke-width="0.3">MDA-MB-453</text>
<text transform="translate(120.7 385.2) rotate(-90) scale(0.88 1)" font-size="16.7" text-anchor="middle" fill="#222222" stroke="#222222" stroke-width="0.3">The migration cell number</text>
<text transform="translate(446.6 386.0) rotate(-90) scale(0.902 1)" font-size="16.7" text-anchor="middle" fill="#222222" stroke="#222222" stroke-width="0.3">The Invasion cell number</text>
<text transform="translate(320.8 345)" font-size="13" text-anchor="middle" fill="#222222" stroke="#222222" stroke-width="0.5">#</text>
<text transform="translate(647.0 339)" font-size="13" text-anchor="middle" fill="#222222" stroke="#222222" stroke-width="0.5">#</text>
<text transform="translate(276.8 417.8)" font-size="22" text-anchor="middle" fill="#222222" stroke="#222222" stroke-width="0.4">*</text>
<text transform="translate(602.8 417.6)" font-size="22" text-anchor="middle" fill="#222222" stroke="#222222" stroke-width="0.4">*</text>
</g>
<g>
<rect x="178.0" y="386.0" width="26.6" height="65.7" fill="#232b29" stroke="#232b29" stroke-width="3.6" stroke-linejoin="round"/>
<path d="M191.3 385.2V378.3M185.4 378.3H197.2" stroke="#232b29" stroke-width="2.7" stroke-linecap="round" fill="none"/>
<path d="M191.3 452.6V457.20000000000005" stroke="#1d2120" stroke-width="1.7" fill="none"/>
<rect x="220.7" y="389.9" width="26.9" height="61.8" fill="#232b29" stroke="#232b29" stroke-width="3.6" stroke-linejoin="round"/>
<path d="M234.2 389.1V380.1M228.2 380.1H240.1" stroke="#232b29" stroke-width="2.7" stroke-linecap="round" fill="none"/>
<path d="M234.2 452.6V457.20000000000005" stroke="#1d2120" stroke-width="1.7" fill="none"/>
<rect x="263.1" y="420.9" width="27.1" height="30.8" fill="#232b29" stroke="#232b29" stroke-width="3.6" stroke-linejoin="round"/>
<path d="M276.6 420.1V415.0M270.8 415.0H282.5" stroke="#232b29" stroke-width="2.7" stroke-linecap="round" fill="none"/>
<path d="M276.6 452.6V457.20000000000005" stroke="#1d2120" stroke-width="1.7" fill="none"/>
<rect x="305.2" y="360.1" width="27.4" height="91.6" fill="#232b29" stroke="#232b29" stroke-width="3.6" stroke-linejoin="round"/>
<path d="M318.9 359.3V348.9M313.0 348.9H324.8" stroke="#232b29" stroke-width="2.7" stroke-linecap="round" fill="none"/>
<path d="M318.9 452.6V457.20000000000005" stroke="#1d2120" stroke-width="1.7" fill="none"/>
<path d="M166.1 322.5V452.6M161.4 452.6H345.3" stroke="#1d2120" stroke-width="1.9" fill="none"/>
<text transform="translate(158.4 458.0) scale(1.05 1)" text-anchor="end" font-size="16" fill="#222" stroke="#222" stroke-width="0.3">0</text>
<text transform="translate(158.4 432.1) scale(1.05 1)" text-anchor="end" font-size="16" fill="#222" stroke="#222" stroke-width="0.3">100</text>
<text transform="translate(158.4 406.3) scale(1.05 1)" text-anchor="end" font-size="16" fill="#222" stroke="#222" stroke-width="0.3">200</text>
<text transform="translate(158.4 380.4) scale(1.05 1)" text-anchor="end" font-size="16" fill="#222" stroke="#222" stroke-width="0.3">300</text>
<text transform="translate(158.4 354.6) scale(1.05 1)" text-anchor="end" font-size="16" fill="#222" stroke="#222" stroke-width="0.3">400</text>
<text transform="translate(158.4 328.8) scale(1.05 1)" text-anchor="end" font-size="16" fill="#222" stroke="#222" stroke-width="0.3">500</text>
<path d="M161.4 426.8H166.1M161.4 400.9H166.1M161.4 375.1H166.1M161.4 349.2H166.1M161.4 323.4H166.1" stroke="#1d2120" stroke-width="1.7" fill="none"/>
<text transform="translate(196.4 469.9) scale(1.005 0.91) rotate(-45)" text-anchor="end" font-size="17.2" fill="#222" stroke="#222" stroke-width="0.3">NC</text>
<text transform="translate(239.2 469.9) scale(1.005 0.91) rotate(-45)" text-anchor="end" font-size="17.2" fill="#222" stroke="#222" stroke-width="0.3">siNC</text>
<text transform="translate(281.8 469.9) scale(1.005 0.91) rotate(-45)" text-anchor="end" font-size="17.2" fill="#222" stroke="#222" stroke-width="0.3">miR-623</text>
<text transform="translate(324.0 469.9) scale(1.005 0.91) rotate(-45)" text-anchor="end" font-size="17.2" fill="#222" stroke="#222" stroke-width="0.3">si-miR-623</text>
<rect x="504.4" y="382.2" width="27.1" height="69.6" fill="#232b29" stroke="#232b29" stroke-width="3.6" stroke-linejoin="round"/>
<path d="M518.0 381.4V372.8M512.1 372.8H523.9" stroke="#232b29" stroke-width="2.7" stroke-linecap="round" fill="none"/>
<path d="M518.0 452.7V457.3" stroke="#1d2120" stroke-width="1.7" fill="none"/>
<rect x="546.7" y="387.1" width="27.1" height="64.7" fill="#232b29" stroke="#232b29" stroke-width="3.6" stroke-linejoin="round"/>
<path d="M560.2 386.3V379.9M554.4 379.9H566.1" stroke="#232b29" stroke-width="2.7" stroke-linecap="round" fill="none"/>
<path d="M560.2 452.7V457.3" stroke="#1d2120" stroke-width="1.7" fill="none"/>
<rect x="589.1" y="421.0" width="27.1" height="30.8" fill="#232b29" stroke="#232b29" stroke-width="3.6" stroke-linejoin="round"/>
<path d="M602.6 420.2V415.7M596.8 415.7H608.5" stroke="#232b29" stroke-width="2.7" stroke-linecap="round" fill="none"/>
<path d="M602.6 452.7V457.3" stroke="#1d2120" stroke-width="1.7" fill="none"/>
<rect x="631.8" y="353.2" width="26.8" height="98.6" fill="#232b29" stroke="#232b29" stroke-width="3.6" stroke-linejoin="round"/>
<path d="M645.2 352.4V343.4M639.3 343.4H651.1" stroke="#232b29" stroke-width="2.7" stroke-linecap="round" fill="none"/>
<path d="M645.2 452.7V457.3" stroke="#1d2120" stroke-width="1.7" fill="none"/>
<path d="M492.0 322.6V452.7M487.1 452.7H672.0" stroke="#1d2120" stroke-width="1.9" fill="none"/>
<text transform="translate(484.9 458.1) scale(1.05 1)" text-anchor="end" font-size="16" fill="#222" stroke="#222" stroke-width="0.3">0</text>
<text transform="translate(484.9 425.8) scale(1.05 1)" text-anchor="end" font-size="16" fill="#222" stroke="#222" stroke-width="0.3">100</text>
<text transform="translate(484.9 393.5) scale(1.05 1)" text-anchor="end" font-size="16" fill="#222" stroke="#222" stroke-width="0.3">200</text>
<text transform="translate(484.9 361.2) scale(1.05 1)" text-anchor="end" font-size="16" fill="#222" stroke="#222" stroke-width="0.3">300</text>
<text transform="translate(484.9 328.9) scale(1.05 1)" text-anchor="end" font-size="16" fill="#222" stroke="#222" stroke-width="0.3">400</text>
<path d="M487.1 420.4H492.0M487.1 388.1H492.0M487.1 355.8H492.0M487.1 323.5H492.0" stroke="#1d2120" stroke-width="1.7" fill="none"/>
<text transform="translate(523.1 469.9) scale(1.005 0.91) rotate(-45)" text-anchor="end" font-size="17.2" fill="#222" stroke="#222" stroke-width="0.3">NC</text>
<text transform="translate(565.4 469.9) scale(1.005 0.91) rotate(-45)" text-anchor="end" font-size="17.2" fill="#222" stroke="#222" stroke-width="0.3">siNC</text>
<text transform="translate(607.8 469.9) scale(1.005 0.91) rotate(-45)" text-anchor="end" font-size="17.2" fill="#222" stroke="#222" stroke-width="0.3">miR-623</text>
<text transform="translate(650.3 469.9) scale(1.005 0.91) rotate(-45)" text-anchor="end" font-size="17.2" fill="#222" stroke="#222" stroke-width="0.3">si-miR-623</text>
</g>
</svg></body></html>
